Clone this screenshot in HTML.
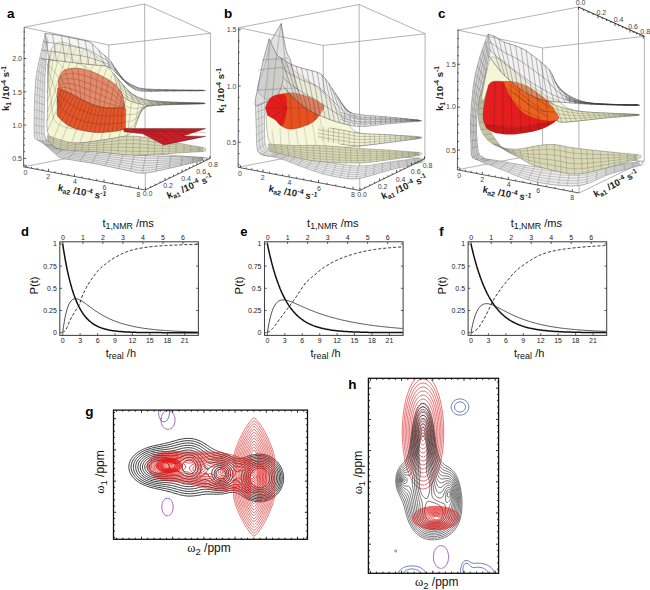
<!DOCTYPE html>
<html><head><meta charset="utf-8"><style>html,body{margin:0;padding:0;background:#fff;}svg{display:block;}</style></head>
<body><svg width="650" height="590" viewBox="0 0 650 590">
<rect width="650" height="590" fill="#fff"/>
<path d="M24.2,27.2 144.6,4 210.6,33.3 108.8,45 24.2,27.2 M144.6,4 145.3,190 M210.6,33.3 210.4,158.3 M108.8,45 108.8,150.2 M23.6,166.8 108.8,150.2 210.4,158.3" fill="none" stroke="#8a8a8a" stroke-width="0.65"/>
<polygon points="44.2,136.6 45.1,137.7 46,138.8 46.8,139.9 47.8,140.9 48.7,142 49.7,142.9 50.8,143.9 51.8,144.9 52.7,145.9 53.8,146.8 55,147.4 56.3,148 57.7,148.3 59,148.6 60.4,148.9 61.8,149.1 63.2,149.3 64.6,149.5 66,149.6 67.4,149.7 68.8,149.8 70.2,149.9 71.6,150 73,150.1 74.4,150.2 75.8,150.3 77.2,150.4 78.6,150.5 80,150.5 81.4,150.6 82.8,150.7 84.2,150.8 85.6,150.9 87,150.9 88.4,151 89.8,151.1 91.2,151.2 92.6,151.3 94,151.4 95.4,151.5 96.8,151.6 98.2,151.8 99.6,151.9 101,152 102.4,152.1 103.8,152.2 105.2,152.4 106.6,152.5 108,152.6 109.4,152.7 110.8,152.9 112.1,153 113.5,153.1 114.9,153.2 116.3,153.4 117.7,153.5 119.1,153.6 120.5,153.7 121.9,153.8 123.3,154 124.7,154.1 126.1,154.2 127.5,154.3 128.9,154.4 130.3,154.5 131.7,154.6 133.1,154.7 134.5,154.8 135.9,154.9 137.3,155 138.7,155.1 140.1,155.2 141.5,155.3 142.9,155.4 144.3,155.5 145.7,155.5 147.1,155.6 148.5,155.7 149.9,155.7 151.3,155.8 152.7,155.9 154.1,155.9 155.5,156 156.9,156 158.3,156.1 159.7,156.1 161.1,156.2 162.5,156.2 163.9,156.3 165.3,156.3 166.7,156.4 168.1,156.4 169.5,156.5 170.9,156.5 172.3,156.6 173.7,156.6 175.2,156.6 176.6,156.7 178,156.7 179.4,156.8 180.8,156.8 182.2,156.8 183.6,156.9 185,156.9 186.4,157 187.8,157 189.2,157 190.6,157.1 192,157.1 193.4,157.2 194.8,157.2 196.2,157.2 197.6,157.3 199,157.3 200.4,157.3 201.8,157.4 203.2,157.4 204.6,157.5 206,157.5 206,159.5 204.5,159.9 203.1,160.2 201.6,160.6 200.1,161 198.6,161.3 197.2,161.7 195.7,162.1 194.2,162.4 192.8,162.8 191.3,163.1 189.8,163.5 188.3,163.9 186.9,164.2 185.4,164.6 183.9,164.9 182.4,165.3 181,165.6 179.5,166 178,166.3 176.5,166.7 175.1,167 173.6,167.3 172.1,167.7 170.6,168 169.1,168.3 167.7,168.7 166.2,169 164.7,169.3 163.2,169.7 161.7,170 160.3,170.3 158.8,170.6 157.3,170.9 155.8,171.2 154.3,171.6 152.8,171.8 151.3,172.1 149.8,172.4 148.3,172.6 146.8,172.8 145.3,173 143.8,173.1 142.3,173.2 140.8,173.2 139.3,173.1 137.8,172.8 136.3,172.5 134.8,172.1 133.4,171.7 131.9,171.4 130.4,171.1 128.9,170.8 127.4,170.5 126,170.2 124.5,169.9 123,169.6 121.5,169.3 120,169 118.5,168.6 117.1,168.3 115.6,168 114.1,167.7 112.6,167.3 111.1,167 109.6,166.7 108.2,166.4 106.7,166.1 105.2,165.8 103.7,165.5 102.2,165.1 100.7,164.8 99.3,164.5 97.8,164.2 96.3,164 94.8,163.7 93.3,163.4 91.8,163.1 90.3,162.9 88.8,162.6 87.3,162.4 85.8,162.2 84.3,161.9 82.8,161.7 81.3,161.5 79.8,161.2 78.3,161 76.8,160.8 75.3,160.5 73.8,160.3 72.3,160.1 70.8,159.8 69.3,159.6 67.8,159.3 66.3,159.1 64.9,158.8 63.4,158.5 61.9,158.1 60.4,157.7 59,157.2 57.7,156.5 56.8,155.2 55.7,154.2 54.5,153.2 53.4,152.3 52.3,151.3 51.1,150.2 50,149.2 48.9,148.2 47.8,147.2 46.6,146.2 45.4,145.2 44.2,144.3 43,143.4 41.8,142.6 40.5,141.8 39.2,141 37.9,140.2 36.6,139.4 35.3,138.6" fill="#eaeaea" fill-opacity="1" stroke="none"/>
<path d="M42.9,136.9 L45.8,140 L48.8,143 L51.8,145.9 L55.4,148.1 L59.4,149.4 L63.5,150.3 L67.6,151 L71.8,151.4 L76.1,151.7 L80.3,152 L84.5,152.3 L88.8,152.6 L93,153 L97.3,153.4 L101.5,153.8 L105.7,154.3 L110,154.7 L114.2,155.2 L118.4,155.6 L122.6,156.1 L126.9,156.5 L131.1,156.9 L135.3,157.3 L139.6,157.7 L143.8,158 L148.1,158.1 L152.3,158.2 L156.6,158.3 L160.8,158.2 L165,158.2 L169.3,158.2 L173.5,158.2 L177.8,158.1 L182,158.1 L186.2,158 L190.5,158 L194.7,157.9 L198.9,157.9 L203.2,157.8M41.7,137.2 L44.7,140.2 L47.8,143.1 L51,146 L54.5,148.3 L58.4,149.9 L62.4,151.1 L66.4,152.1 L70.7,152.6 L74.9,153 L79.2,153.4 L83.5,153.8 L87.8,154.1 L92.1,154.6 L96.4,155 L100.6,155.5 L104.9,156 L109.2,156.5 L113.4,157.1 L117.7,157.6 L122,158.2 L126.2,158.7 L130.5,159.2 L134.8,159.6 L139,160.1 L143.3,160.5 L147.6,160.6 L151.9,160.6 L156.2,160.5 L160.5,160.3 L164.7,160.1 L169,160 L173.3,159.8 L177.5,159.6 L181.8,159.4 L186.1,159.1 L190.4,158.9 L194.6,158.7 L198.9,158.4 L203.2,158.2M40.4,137.5 L43.6,140.3 L46.9,143.1 L50.1,146 L53.6,148.5 L57.4,150.3 L61.3,151.9 L65.2,153.2 L69.5,153.8 L73.8,154.3 L78.1,154.8 L82.5,155.2 L86.8,155.7 L91.1,156.1 L95.4,156.6 L99.8,157.2 L104.1,157.8 L108.4,158.4 L112.7,159 L117,159.6 L121.3,160.2 L125.6,160.9 L129.9,161.4 L134.2,162 L138.5,162.6 L142.8,163 L147.2,163.1 L151.5,162.9 L155.8,162.7 L160.1,162.4 L164.4,162 L168.7,161.7 L173,161.3 L177.3,161 L181.6,160.6 L185.9,160.2 L190.2,159.8 L194.5,159.4 L198.8,159 L203.1,158.6M39.1,137.7 L42.5,140.5 L45.9,143.2 L49.2,146.1 L52.7,148.7 L56.4,150.8 L60.2,152.8 L64,154.4 L68.3,155.1 L72.7,155.6 L77.1,156.2 L81.4,156.7 L85.8,157.2 L90.2,157.7 L94.5,158.3 L98.9,158.9 L103.2,159.5 L107.6,160.2 L111.9,160.9 L116.2,161.6 L120.6,162.3 L124.9,163 L129.3,163.7 L133.6,164.3 L137.9,165.1 L142.3,165.6 L146.7,165.5 L151.1,165.3 L155.4,164.9 L159.8,164.4 L164.1,164 L168.5,163.4 L172.8,162.9 L177.1,162.4 L181.5,161.9 L185.8,161.3 L190.1,160.7 L194.5,160.2 L198.8,159.6 L203.1,159M37.8,138 L41.4,140.6 L44.9,143.3 L48.4,146.1 L51.8,148.9 L55.4,151.3 L59,153.6 L62.8,155.5 L67.2,156.3 L71.6,157 L76,157.5 L80.4,158.1 L84.8,158.7 L89.2,159.3 L93.6,159.9 L98,160.6 L102.4,161.3 L106.8,162.1 L111.2,162.9 L115.5,163.7 L119.9,164.4 L124.3,165.2 L128.7,166 L133,166.7 L137.4,167.5 L141.8,168.1 L146.2,168 L150.7,167.6 L155.1,167.1 L159.5,166.5 L163.8,165.9 L168.2,165.2 L172.6,164.5 L176.9,163.8 L181.3,163.1 L185.7,162.4 L190,161.7 L194.4,160.9 L198.7,160.2 L203.1,159.4M36.6,138.3 L40.3,140.8 L44,143.3 L47.5,146.1 L50.9,149 L54.4,151.8 L57.9,154.4 L61.6,156.6 L66,157.5 L70.5,158.3 L74.9,158.9 L79.4,159.6 L83.8,160.2 L88.3,160.8 L92.7,161.5 L97.1,162.3 L101.6,163.1 L106,163.9 L110.4,164.8 L114.8,165.7 L119.2,166.5 L123.6,167.4 L128,168.2 L132.5,169 L136.9,170 L141.3,170.6 L145.8,170.5 L150.3,170 L154.7,169.3 L159.1,168.6 L163.5,167.8 L167.9,166.9 L172.3,166.1 L176.7,165.2 L181.1,164.4 L185.5,163.5 L189.9,162.6 L194.3,161.7 L198.7,160.7 L203.1,159.8M44.2,136.6L35.3,138.6M51.8,144.9L45.4,145.2M63.2,149.3L55.7,154.2M75.8,150.3L67.8,159.3M87,150.9L79.8,161.2M98.2,151.8L91.8,163.1M110.8,152.9L105.2,165.8M123.3,154L118.5,168.6M134.5,154.8L130.4,171.1M145.7,155.5L142.3,173.2M158.3,156.1L155.8,171.2M170.9,156.5L169.1,168.3M182.2,156.8L181,165.6M193.4,157.2L192.8,162.8M206,157.5L206,159.5" fill="none" stroke="#333" stroke-width="0.4" stroke-opacity="0.65"/>
<path d="M44.2,136.6 46,138.8 47.8,140.9 49.7,142.9 51.8,144.9 53.8,146.8 56.3,148 59,148.6 61.8,149.1 64.6,149.5 67.4,149.7 70.2,149.9 73,150.1 75.8,150.3 78.6,150.5 81.4,150.6 84.2,150.8 87,150.9 89.8,151.1 92.6,151.3 95.4,151.5 98.2,151.8 101,152 103.8,152.2 106.6,152.5 109.4,152.7 112.1,153 114.9,153.2 117.7,153.5 120.5,153.7 123.3,154 126.1,154.2 128.9,154.4 131.7,154.6 134.5,154.8 137.3,155 140.1,155.2 142.9,155.4 145.7,155.5 148.5,155.7 151.3,155.8 154.1,155.9 156.9,156 159.7,156.1 162.5,156.2 165.3,156.3 168.1,156.4 170.9,156.5 173.7,156.6 176.6,156.7 179.4,156.8 182.2,156.8 185,156.9 187.8,157 190.6,157.1 193.4,157.2 196.2,157.2 199,157.3 201.8,157.4 204.6,157.5 M35.3,138.6 37.9,140.2 40.5,141.8 43,143.4 45.4,145.2 47.8,147.2 50,149.2 52.3,151.3 54.5,153.2 56.8,155.2 59,157.2 61.9,158.1 64.9,158.8 67.8,159.3 70.8,159.8 73.8,160.3 76.8,160.8 79.8,161.2 82.8,161.7 85.8,162.2 88.8,162.6 91.8,163.1 94.8,163.7 97.8,164.2 100.7,164.8 103.7,165.5 106.7,166.1 109.6,166.7 112.6,167.3 115.6,168 118.5,168.6 121.5,169.3 124.5,169.9 127.4,170.5 130.4,171.1 133.4,171.7 136.3,172.5 139.3,173.1 142.3,173.2 145.3,173 148.3,172.6 151.3,172.1 154.3,171.6 157.3,170.9 160.3,170.3 163.2,169.7 166.2,169 169.1,168.3 172.1,167.7 175.1,167 178,166.3 181,165.6 183.9,164.9 186.9,164.2 189.8,163.5 192.8,162.8 195.7,162.1 198.6,161.3 201.6,160.6 204.5,159.9" fill="none" stroke="#333" stroke-width="0.5" stroke-opacity="0.8"/>
<polygon points="45.2,33.5 45,34.4 44.8,35.3 44.6,36.2 44.4,37 44.2,37.9 44,38.8 43.8,39.7 43.6,40.6 43.4,41.5 43.2,42.3 43,43.2 42.8,44.1 42.6,45 42.4,45.9 42.2,46.8 42.1,47.6 41.9,48.5 41.7,49.4 41.5,50.3 41.3,51.2 41.1,52.1 40.9,52.9 40.7,53.8 40.5,54.7 40.3,55.6 40.1,56.5 39.9,57.4 39.7,58.2 39.5,59.1 39.3,60 39.1,60.9 38.9,61.8 38.7,62.7 38.5,63.5 38.3,64.4 38.1,65.3 37.9,66.2 37.7,67.1 37.6,68 37.4,68.9 37.2,69.7 37,70.6 36.9,71.5 36.7,72.4 36.6,73.3 36.5,74.2 36.4,75.1 36.2,76 36.1,76.9 36,77.8 35.9,78.7 35.8,79.6 35.8,80.5 35.7,81.4 35.6,82.3 35.5,83.2 35.4,84.1 35.4,85 35.3,85.9 35.2,86.8 35.2,87.7 35.1,88.6 35.1,89.5 35,90.4 35,91.3 34.9,92.2 34.8,93.1 34.8,94 34.8,95 34.7,95.9 34.7,96.8 34.6,97.7 34.6,98.6 34.5,99.5 34.5,100.4 34.5,101.3 34.5,102.2 34.4,103.1 34.4,104 34.4,104.9 34.4,105.8 34.3,106.7 34.3,107.6 34.3,108.5 34.3,109.4 34.3,110.3 34.3,111.2 34.2,112.1 34.2,113 34.2,114 34.2,114.9 34.2,115.8 34.2,116.7 34.2,117.6 34.2,118.5 34.2,119.4 34.1,120.3 34.1,121.2 34.1,122.1 34.1,123 34.1,123.9 34.1,124.8 34.1,125.7 34.1,126.6 34.1,127.5 34.1,128.4 34.1,129.3 34.1,130.2 34.1,131.2 34.2,132.1 34.2,133 34.2,133.9 34.2,134.8 34.3,135.7 34.4,136.6 34.5,137.5 34.7,138.3 35.2,139.1 36,139.5 47,141 46.6,140.2 46.1,139.5 45.7,138.8 45.3,138 45,137.2 44.8,136.4 44.6,135.6 44.4,134.7 44.3,133.9 44.2,133 44.2,132.2 44.1,131.3 44.1,130.5 44.1,129.6 44.1,128.8 44.1,127.9 44.1,127.1 44.1,126.2 44.1,125.3 44.1,124.5 44.1,123.6 44.2,122.8 44.2,121.9 44.2,121.1 44.2,120.2 44.2,119.4 44.2,118.5 44.3,117.7 44.3,116.8 44.3,115.9 44.3,115.1 44.3,114.2 44.3,113.4 44.3,112.5 44.3,111.7 44.3,110.8 44.3,110 44.4,109.1 44.4,108.3 44.4,107.4 44.4,106.5 44.4,105.7 44.4,104.8 44.4,104 44.4,103.1 44.4,102.3 44.5,101.4 44.5,100.6 44.5,99.7 44.5,98.9 44.5,98 44.5,97.1 44.6,96.3 44.6,95.4 44.6,94.6 44.6,93.7 44.6,92.9 44.6,92 44.7,91.2 44.7,90.3 44.7,89.5 44.7,88.6 44.7,87.7 44.8,86.9 44.8,86 44.8,85.2 44.8,84.3 44.8,83.5 44.9,82.6 44.9,81.8 44.9,80.9 44.9,80.1 45,79.2 45,78.3 45,77.5 45.1,76.6 45.1,75.8 45.2,74.9 45.2,74.1 45.2,73.2 45.3,72.4 45.4,71.5 45.4,70.7 45.5,69.8 45.5,69 45.6,68.1 45.7,67.3 45.7,66.4 45.8,65.6 45.9,64.7 46,63.8 46.1,63 46.1,62.1 46.2,61.3 46.3,60.4 46.4,59.6 46.4,58.7 46.5,57.9 46.6,57 46.7,56.2 46.7,55.3 46.8,54.5 46.9,53.6 46.9,52.8 47,51.9 47.1,51.1 47.1,50.2 47.2,49.4 47.3,48.5 47.4,47.7 47.4,46.8 47.5,46 47.6,45.1 47.6,44.3 47.7,43.4 47.8,42.6 47.9,41.7 47.9,40.9 48,40" fill="#e2e2e2" fill-opacity="1" stroke="none"/>
<path d="M45.9,35.1 L45.4,37.8 L44.9,40.4 L44.4,43 L43.9,45.6 L43.4,48.3 L42.9,50.9 L42.4,53.5 L41.9,56.1 L41.5,58.8 L41,61.4 L40.4,64 L39.9,66.6 L39.5,69.3 L39.1,71.9 L38.7,74.6 L38.4,77.2 L38.2,79.9 L37.9,82.6 L37.8,85.2 L37.6,87.9 L37.5,90.6 L37.3,93.3 L37.2,95.9 L37.1,98.6 L37,101.3 L36.9,104 L36.9,106.6 L36.8,109.3 L36.8,112 L36.7,114.7 L36.7,117.3 L36.7,120 L36.6,122.7 L36.6,125.4 L36.6,128.1 L36.6,130.7 L36.7,133.4 L37,136.1 L37.6,138.6M46.6,36.8 L46.2,39.4 L45.8,42 L45.4,44.6 L45,47.2 L44.6,49.8 L44.2,52.4 L43.8,55 L43.4,57.6 L43,60.2 L42.6,62.8 L42.2,65.4 L41.8,68 L41.4,70.6 L41.1,73.2 L40.8,75.8 L40.6,78.5 L40.4,81.1 L40.2,83.7 L40.1,86.4 L40,89 L39.8,91.6 L39.7,94.3 L39.6,96.9 L39.5,99.5 L39.5,102.2 L39.4,104.8 L39.4,107.5 L39.3,110.1 L39.3,112.7 L39.2,115.4 L39.2,118 L39.2,120.7 L39.1,123.3 L39.1,125.9 L39.1,128.6 L39.2,131.2 L39.3,133.8 L39.7,136.4 L40.4,138.9M47.3,38.4 L47,41 L46.7,43.5 L46.4,46.1 L46.1,48.7 L45.8,51.3 L45.5,53.9 L45.2,56.4 L44.8,59 L44.5,61.6 L44.2,64.2 L43.9,66.7 L43.6,69.3 L43.3,71.9 L43.1,74.5 L42.9,77.1 L42.8,79.7 L42.6,82.3 L42.5,84.9 L42.4,87.5 L42.3,90.1 L42.2,92.7 L42.1,95.3 L42.1,97.9 L42,100.5 L41.9,103.1 L41.9,105.7 L41.9,108.3 L41.8,110.9 L41.8,113.5 L41.8,116.1 L41.7,118.7 L41.7,121.3 L41.6,123.9 L41.6,126.5 L41.6,129.1 L41.7,131.7 L41.9,134.3 L42.3,136.8 L43.3,139.2M45.2,33.5L48,40M43.6,40.6L47.4,46.8M41.9,48.5L46.8,54.5M40.1,56.5L46.1,62.1M38.5,63.5L45.5,69M37,70.6L45.1,75.8M35.9,78.7L44.8,83.5M35.2,86.8L44.7,91.2M34.8,94L44.5,98M34.5,101.3L44.4,104.8M34.3,109.4L44.3,112.5M34.2,117.6L44.2,120.2M34.1,124.8L44.1,127.1M34.2,132.1L44.3,133.9M36,139.5L47,141" fill="none" stroke="#555" stroke-width="0.4" stroke-opacity="0.6"/>
<path d="M45.2,33.5 44.8,35.3 44.4,37 44,38.8 43.6,40.6 43.2,42.3 42.8,44.1 42.4,45.9 42.1,47.6 41.7,49.4 41.3,51.2 40.9,52.9 40.5,54.7 40.1,56.5 39.7,58.2 39.3,60 38.9,61.8 38.5,63.5 38.1,65.3 37.7,67.1 37.4,68.9 37,70.6 36.7,72.4 36.5,74.2 36.2,76 36,77.8 35.8,79.6 35.7,81.4 35.5,83.2 35.4,85 35.2,86.8 35.1,88.6 35,90.4 34.9,92.2 34.8,94 34.7,95.9 34.6,97.7 34.5,99.5 34.5,101.3 34.4,103.1 34.4,104.9 34.3,106.7 34.3,108.5 34.3,110.3 34.2,112.1 34.2,114 34.2,115.8 34.2,117.6 34.2,119.4 34.1,121.2 34.1,123 34.1,124.8 34.1,126.6 34.1,128.4 34.1,130.2 34.2,132.1 34.2,133.9 34.3,135.7 34.5,137.5 35.2,139.1 M48,40 47.9,41.7 47.7,43.4 47.6,45.1 47.4,46.8 47.3,48.5 47.1,50.2 47,51.9 46.9,53.6 46.7,55.3 46.6,57 46.4,58.7 46.3,60.4 46.1,62.1 46,63.8 45.8,65.6 45.7,67.3 45.5,69 45.4,70.7 45.3,72.4 45.2,74.1 45.1,75.8 45,77.5 45,79.2 44.9,80.9 44.9,82.6 44.8,84.3 44.8,86 44.7,87.7 44.7,89.5 44.7,91.2 44.6,92.9 44.6,94.6 44.6,96.3 44.5,98 44.5,99.7 44.5,101.4 44.4,103.1 44.4,104.8 44.4,106.5 44.4,108.3 44.3,110 44.3,111.7 44.3,113.4 44.3,115.1 44.3,116.8 44.2,118.5 44.2,120.2 44.2,121.9 44.1,123.6 44.1,125.3 44.1,127.1 44.1,128.8 44.1,130.5 44.2,132.2 44.3,133.9 44.6,135.6 45,137.2 45.7,138.8 46.6,140.2" fill="none" stroke="#555" stroke-width="0.5" stroke-opacity="0.75"/>
<polygon points="48,64 48.3,62.4 48.6,60.8 48.9,59.2 49.2,57.6 49.6,56 49.9,54.4 50.3,52.8 50.7,51.3 51.3,49.7 51.9,48.2 52.7,46.8 53.7,45.5 54.9,44.4 56.2,43.4 57.6,42.7 59.2,42.2 60.8,42 62.4,42.1 64,42.3 65.6,42.7 67.2,43.2 68.7,43.7 70.2,44.3 71.8,44.8 73.3,45.4 74.8,45.9 76.4,46.5 77.9,47 79.5,47.5 81,48 82.5,48.6 84,49.2 85.6,49.8 87,50.5 88.5,51.2 89.9,52 91.3,52.8 92.7,53.7 94,54.7 95.3,55.6 96.6,56.6 97.9,57.6 99.1,58.7 100.3,59.7 101.6,60.8 102.8,61.9 104,63 105.2,64.1 106.3,65.3 107.5,66.4 108.5,67.7 109.6,68.9 110.7,70.1 111.7,71.4 112.8,72.6 113.9,73.8 114.9,75.1 115.9,76.3 117,77.6 118,78.9 119,80.1 120,81.4 121.1,82.7 122.1,83.9 123.2,85.1 124.3,86.3 125.4,87.5 126.5,88.7 127.6,89.9 128.8,91.1 130,92.2 131.3,93.2 132.6,94.1 134,95 135.3,95.8 136.7,96.7 138.1,97.6 139.6,98.3 141.1,98.9 142.7,99.3 144.2,99.6 145.9,99.9 147.5,100.1 149.1,100.4 150.7,100.6 152.3,100.7 153.9,100.8 155.6,101 157.2,101.1 158.8,101.2 160.4,101.3 162.1,101.4 163.7,101.5 165.3,101.6 166.9,101.7 168.6,101.8 170.2,101.8 171.8,101.9 173.4,102 175.1,102.1 176.7,102.1 178.3,102.2 180,102.3 181.6,102.3 183.2,102.4 184.8,102.5 186.5,102.5 188.1,102.6 189.7,102.7 191.4,102.7 193,102.8 194.6,102.8 196.2,102.9 197.9,103 199.5,103 201.1,103.1 202.7,103.2 204.4,103.2 206,103.3 206,103.6 203.9,103.7 201.8,103.7 199.7,103.8 197.6,103.9 195.5,103.9 193.4,104 191.3,104 189.2,104.1 187.1,104.2 185,104.2 182.9,104.3 180.8,104.4 178.7,104.4 176.6,104.5 174.6,104.6 172.5,104.7 170.4,104.7 168.3,104.8 166.2,104.9 164.1,105 162,105.1 159.9,105.2 157.8,105.3 155.7,105.5 153.6,105.7 151.5,105.9 149.4,106.1 147.4,106.4 145.3,106.8 143.3,107.4 141.6,108.6 140.8,110.5 139.8,112.4 138.9,114.2 138.3,116.2 137.9,118.3 137.5,120.4 137,122.4 136.3,124.4 135.4,126.3 134.6,128.2 133.7,130.1 132.5,131.8 131,133.3 129.2,134.4 127.3,135.2 125.3,135.9 123.3,136.5 121.3,137 119.2,137.5 117.2,137.9 115.1,138.3 113,138.6 111,138.9 108.9,139.2 106.8,139.5 104.7,139.8 102.7,140.1 100.6,140.4 98.5,140.7 96.4,141 94.3,141.3 92.3,141.6 90.2,141.9 88.1,142.2 86,142.4 83.9,142.6 81.9,142.8 79.8,143 77.7,143.1 75.6,143.2 73.5,143.1 71.4,143 69.3,142.8 67.2,142.7 65.1,142.4 63,142.2 61,141.8 58.9,141.4 56.9,140.8 54.9,140.2 53,139.3 51.2,138.2 49.7,136.7 48.6,135 47.7,133.1 47.3,131.1 47,129 46.9,126.9 46.9,124.8 46.9,122.7 47.1,120.6 47.2,118.5 47.3,116.4 47.4,114.3 47.5,112.2 47.5,110.1 47.5,108 47.4,105.9 47.4,103.8 47.4,101.8 47.4,99.7 47.4,97.6 47.4,95.5 47.4,93.4 47.4,91.3 47.5,89.2 47.5,87.1 47.5,85 47.5,82.9 47.6,80.8 47.6,78.7 47.7,76.6 47.7,74.5 47.8,72.4 47.8,70.3 47.9,68.2 47.9,66.1 48,64" fill="#f5f5d4" fill-opacity="1" stroke="none"/>
<path d="M48,64 L48.7,61 L49.5,58.1 L50.6,55.3 L52.7,52.8 L55.9,51.5 L59.9,52 L63.9,54 L67.7,56.4 L71.5,58.8 L75.3,61.2 L79.2,63.7 L83.5,66.3 L87.8,69 L92.1,71.7 L96.2,74.5 L100.2,77.3 L104.1,80.2 L107.8,83.2 L111.5,86.1 L115.1,89.1 L118.7,92.1 L122.4,95 L126.2,97.8 L130.3,100.3 L134.6,102.1 L138.7,103.3 L143,103.4 L147.3,103 L151.7,102.4 L156.6,102.2 L161.7,102.2 L166.8,102.4 L171.9,102.5 L177,102.6 L182.1,102.8 L187.2,102.9 L192.4,103 L197.5,103.1 L202.6,103.3M48,64 L48.6,62.9 L49.2,61.8 L50,60.8 L51.6,60.1 L54.2,60.3 L57.4,62 L60.6,64.8 L63.6,68 L66.6,71.2 L69.6,74.3 L72.9,77.6 L77,80.7 L81.6,83.4 L86.3,85.8 L90.8,88.2 L95.3,90.5 L99.7,92.7 L103.9,95 L108.1,97.2 L112.2,99.4 L116.3,101.6 L120.5,103.7 L124.8,105.8 L129.3,107.4 L133.9,108.3 L137.9,108.3 L141.8,107.2 L145.5,105.7 L149.6,104.1 L154.3,103.1 L159.6,103 L165,103 L170.3,103 L175.7,103.1 L181,103.1 L186.4,103.2 L191.7,103.2 L197.1,103.3 L202.4,103.4M48,64 L48.4,64.7 L48.8,65.5 L49.4,66.3 L50.6,67.4 L52.5,69.1 L54.9,71.9 L57.3,75.6 L59.6,79.6 L61.7,83.5 L64,87.5 L66.6,91.4 L70.6,95.1 L75.4,97.7 L80.4,99.9 L85.4,101.8 L90.4,103.6 L95.2,105.2 L99.9,106.8 L104.6,108.2 L109.3,109.6 L113.9,111.1 L118.7,112.5 L123.4,113.7 L128.3,114.6 L133.2,114.5 L137.1,113.3 L140.6,111 L143.7,108.3 L147.4,105.7 L152.1,104 L157.6,103.7 L163.2,103.6 L168.8,103.5 L174.3,103.5 L179.9,103.5 L185.5,103.4 L191.1,103.4 L196.7,103.4 L202.3,103.5M48,64 L48.2,66.6 L48.4,69.2 L48.8,71.8 L49.5,74.6 L50.8,77.9 L52.4,81.9 L54,86.4 L55.5,91.2 L56.8,95.9 L58.3,100.6 L60.3,105.3 L64.1,109.5 L69.3,112.1 L74.6,114 L80.1,115.5 L85.4,116.8 L90.8,117.8 L96,118.6 L101.2,119.2 L106.4,119.9 L111.6,120.6 L116.8,121.2 L122,121.6 L127.3,121.7 L132.4,120.8 L136.2,118.2 L139.4,114.8 L141.9,111 L145.2,107.3 L149.8,104.9 L155.6,104.4 L161.4,104.2 L167.2,104 L173,103.9 L178.8,103.8 L184.7,103.7 L190.5,103.7 L196.3,103.6 L202.1,103.5M48,64 L48,68.4 L48,72.9 L48.2,77.3 L48.5,81.9 L49.1,86.7 L49.9,91.8 L50.7,97.2 L51.5,102.8 L51.9,108.3 L52.6,113.8 L54,119.2 L57.7,123.8 L63.1,126.5 L68.8,128.1 L74.7,129.2 L80.5,130 L86.3,130.3 L92.1,130.4 L97.8,130.3 L103.5,130.2 L109.2,130.1 L114.9,129.9 L120.6,129.5 L126.3,128.8 L131.7,127 L135.4,123.2 L138.2,118.6 L140.1,113.6 L143,108.9 L147.6,105.9 L153.5,105.1 L159.6,104.7 L165.6,104.5 L171.7,104.3 L177.7,104.2 L183.8,104 L189.9,103.9 L195.9,103.8 L202,103.6M48,64L48,64M49.6,56L47.7,74.5M51.3,49.7L47.5,82.9M56.2,43.4L47.4,93.4M62.4,42.1L47.4,101.8M70.2,44.3L47.5,112.2M76.4,46.5L47.1,120.6M84,49.2L47.3,131.1M91.3,52.8L53,139.3M96.6,56.6L61,141.8M102.8,61.9L71.4,143M107.5,66.4L79.8,143M112.8,72.6L90.2,141.9M118,78.9L100.6,140.4M122.1,83.9L108.9,139.2M127.6,89.9L119.2,137.5M132.6,94.1L127.3,135.2M139.6,98.3L134.6,128.2M145.9,99.9L137.5,120.4M153.9,100.8L140.8,110.5M162.1,101.4L149.4,106.1M168.6,101.8L157.8,105.3M176.7,102.1L168.3,104.8M183.2,102.4L176.6,104.5M191.4,102.7L187.1,104.2M197.9,103L195.5,103.9M206,103.3L206,103.6" fill="none" stroke="#444" stroke-width="0.4" stroke-opacity="0.6"/>
<path d="M48,64 48.6,60.8 49.2,57.6 49.9,54.4 50.7,51.3 51.9,48.2 53.7,45.5 56.2,43.4 59.2,42.2 62.4,42.1 65.6,42.7 68.7,43.7 71.8,44.8 74.8,45.9 77.9,47 81,48 84,49.2 87,50.5 89.9,52 92.7,53.7 95.3,55.6 97.9,57.6 100.3,59.7 102.8,61.9 105.2,64.1 107.5,66.4 109.6,68.9 111.7,71.4 113.9,73.8 115.9,76.3 118,78.9 120,81.4 122.1,83.9 124.3,86.3 126.5,88.7 128.8,91.1 131.3,93.2 134,95 136.7,96.7 139.6,98.3 142.7,99.3 145.9,99.9 149.1,100.4 152.3,100.7 155.6,101 158.8,101.2 162.1,101.4 165.3,101.6 168.6,101.8 171.8,101.9 175.1,102.1 178.3,102.2 181.6,102.3 184.8,102.5 188.1,102.6 191.4,102.7 194.6,102.8 197.9,103 201.1,103.1 204.4,103.2 M48,64 47.9,68.2 47.8,72.4 47.7,76.6 47.6,80.8 47.5,85 47.5,89.2 47.4,93.4 47.4,97.6 47.4,101.8 47.4,105.9 47.5,110.1 47.4,114.3 47.2,118.5 46.9,122.7 46.9,126.9 47.3,131.1 48.6,135 51.2,138.2 54.9,140.2 58.9,141.4 63,142.2 67.2,142.7 71.4,143 75.6,143.2 79.8,143 83.9,142.6 88.1,142.2 92.3,141.6 96.4,141 100.6,140.4 104.7,139.8 108.9,139.2 113,138.6 117.2,137.9 121.3,137 125.3,135.9 129.2,134.4 132.5,131.8 134.6,128.2 136.3,124.4 137.5,120.4 138.3,116.2 139.8,112.4 141.6,108.6 145.3,106.8 149.4,106.1 153.6,105.7 157.8,105.3 162,105.1 166.2,104.9 170.4,104.7 174.6,104.6 178.7,104.4 182.9,104.3 187.1,104.2 191.3,104 195.5,103.9 199.7,103.8 203.9,103.7" fill="none" stroke="#444" stroke-width="0.5" stroke-opacity="0.75"/>
<polygon points="47.4,135.4 48.7,135.9 49.9,136.3 51.2,136.8 52.5,137.3 53.7,137.7 55,138.2 56.3,138.6 57.6,139 58.9,139.4 60.2,139.8 61.5,140.2 62.8,140.6 64.1,140.9 65.4,141.3 66.7,141.7 68,142 69.3,142.3 70.6,142.5 72,142.7 73.3,142.9 74.6,142.9 76,143 77.3,143 78.7,142.9 80,142.9 81.4,142.8 82.7,142.7 84.1,142.5 85.4,142.4 86.8,142.3 88.1,142.1 89.4,141.9 90.8,141.7 92.1,141.6 93.5,141.4 94.8,141.2 96.1,141 97.5,140.8 98.8,140.7 100.2,140.5 101.5,140.3 102.8,140.1 104.2,139.8 105.5,139.6 106.8,139.4 108.1,139.1 109.5,138.8 110.8,138.6 112.1,138.3 113.5,138.1 114.8,137.8 116.1,137.6 117.4,137.4 118.8,137.1 120.1,136.9 121.4,136.7 122.8,136.6 124.1,136.4 125.5,136.3 126.8,136.2 128.2,136.1 129.5,136 130.9,136 132.2,136.1 133.6,136.1 134.9,136.1 136.3,136.3 137.6,136.4 138.9,136.5 140.3,136.7 141.6,136.9 143,137.1 144.3,137.3 145.6,137.5 147,137.7 148.3,138 149.6,138.2 150.9,138.4 152.3,138.7 153.6,138.9 154.9,139.1 156.3,139.4 157.6,139.6 158.9,139.8 160.3,140 161.6,140.3 162.9,140.5 164.3,140.7 165.6,140.9 166.9,141.1 168.3,141.4 169.6,141.6 170.9,141.8 172.3,142.1 173.6,142.3 174.9,142.5 176.2,142.8 177.6,143 178.9,143.2 180.2,143.5 181.6,143.7 182.9,143.9 184.2,144.2 185.6,144.4 186.9,144.7 188.2,144.9 189.5,145.1 190.9,145.4 192.2,145.6 193.5,145.9 194.9,146.1 196.2,146.3 197.5,146.6 198.9,146.8 200.2,147 201.5,147.3 202.8,147.5 204.2,147.8 205.5,148 205.5,151.3 204.2,151.4 202.8,151.5 201.5,151.5 200.1,151.6 198.8,151.7 197.4,151.8 196.1,151.9 194.7,152 193.4,152 192,152.1 190.7,152.2 189.3,152.3 188,152.4 186.6,152.5 185.3,152.5 183.9,152.6 182.6,152.7 181.3,152.8 179.9,152.9 178.6,153 177.2,153 175.9,153.1 174.5,153.2 173.2,153.3 171.8,153.4 170.5,153.4 169.1,153.5 167.8,153.6 166.4,153.7 165.1,153.7 163.7,153.8 162.4,153.9 161,153.9 159.7,154 158.3,154.1 157,154.2 155.7,154.2 154.3,154.3 153,154.4 151.6,154.5 150.3,154.5 148.9,154.6 147.6,154.7 146.2,154.7 144.9,154.8 143.5,154.9 142.2,154.9 140.8,155 139.5,155 138.1,155 136.8,155.1 135.4,155.1 134.1,155.1 132.7,155 131.4,155 130,155 128.7,154.9 127.3,154.9 126,154.8 124.6,154.7 123.3,154.6 122,154.4 120.6,154.3 119.3,154.2 117.9,154 116.6,153.9 115.3,153.7 113.9,153.5 112.6,153.4 111.2,153.2 109.9,153 108.6,152.9 107.2,152.7 105.9,152.6 104.5,152.4 103.2,152.3 101.8,152.2 100.5,152 99.2,151.9 97.8,151.9 96.5,151.8 95.1,151.7 93.8,151.6 92.4,151.5 91.1,151.5 89.7,151.4 88.4,151.3 87,151.3 85.7,151.2 84.3,151.1 83,151.1 81.6,151 80.3,151 78.9,150.9 77.6,150.8 76.2,150.8 74.9,150.7 73.5,150.6 72.2,150.5 70.9,150.4 69.5,150.3 68.2,150.2 66.8,150.1 65.5,149.9 64.1,149.7 62.8,149.5 61.5,149.3 60.2,149 58.9,148.6 57.6,148.2 56.3,147.7 55.1,147.1 54,146.5 52.9,145.6 51.8,144.8 50.9,143.9 49.9,142.9 49,141.9 48,141" fill="#d6d6b0" fill-opacity="1" stroke="none"/>
<path d="M47.5,136.5 L51.1,138.2 L54.8,139.8 L58.6,141.2 L62.5,142.3 L66.4,143.3 L70.4,144.1 L74.4,144.5 L78.5,144.5 L82.5,144.3 L86.6,144 L90.6,143.7 L94.6,143.3 L98.6,142.9 L102.6,142.5 L106.6,142 L110.6,141.5 L114.6,141 L118.6,140.5 L122.6,140.1 L126.6,139.9 L130.7,139.8 L134.7,139.9 L138.8,140.2 L142.8,140.6 L146.8,141.1 L150.8,141.7 L154.8,142.2 L158.8,142.7 L162.8,143.2 L166.8,143.6 L170.8,144.2 L174.8,144.7 L178.8,145.2 L182.8,145.7 L186.8,146.2 L190.8,146.7 L194.8,147.3 L198.8,147.8 L202.8,148.3M47.6,137.6 L51.1,139.6 L54.6,141.5 L58.4,143 L62.2,144.1 L66.2,145 L70.2,145.6 L74.2,146 L78.3,146.1 L82.3,146 L86.3,145.8 L90.4,145.6 L94.4,145.4 L98.4,145.1 L102.4,144.9 L106.4,144.6 L110.4,144.4 L114.4,144.1 L118.4,143.9 L122.5,143.7 L126.5,143.6 L130.5,143.6 L134.6,143.7 L138.6,143.9 L142.6,144.2 L146.7,144.5 L150.7,144.9 L154.7,145.2 L158.7,145.5 L162.7,145.8 L166.7,146.2 L170.7,146.5 L174.8,146.8 L178.8,147.1 L182.8,147.4 L186.8,147.8 L190.8,148.1 L194.8,148.4 L198.8,148.8 L202.8,149.1M47.8,138.8 L51,141 L54.4,143.1 L58.1,144.7 L62,145.8 L66,146.6 L70,147.2 L74,147.5 L78,147.7 L82.1,147.7 L86.1,147.6 L90.1,147.5 L94.2,147.4 L98.2,147.4 L102.2,147.3 L106.3,147.3 L110.3,147.3 L114.3,147.2 L118.3,147.3 L122.3,147.3 L126.3,147.3 L130.4,147.4 L134.4,147.5 L138.5,147.6 L142.5,147.8 L146.5,147.9 L150.5,148.1 L154.6,148.2 L158.6,148.4 L162.6,148.5 L166.6,148.7 L170.7,148.8 L174.7,148.9 L178.7,149.1 L182.7,149.2 L186.7,149.3 L190.8,149.5 L194.8,149.6 L198.8,149.8 L202.8,149.9M47.9,139.9 L50.9,142.4 L54.2,144.8 L57.8,146.5 L61.7,147.6 L65.7,148.3 L69.7,148.7 L73.8,149.1 L77.8,149.2 L81.9,149.4 L85.9,149.4 L89.9,149.5 L94,149.5 L98,149.6 L102,149.8 L106.1,149.9 L110.1,150.2 L114.1,150.4 L118.1,150.6 L122.1,150.9 L126.2,151.1 L130.2,151.2 L134.2,151.3 L138.3,151.3 L142.3,151.4 L146.4,151.3 L150.4,151.3 L154.4,151.3 L158.5,151.2 L162.5,151.2 L166.5,151.2 L170.6,151.1 L174.6,151.1 L178.6,151 L182.7,151 L186.7,150.9 L190.7,150.8 L194.8,150.8 L198.8,150.7 L202.8,150.7M47.4,135.4L48,141M53.7,137.7L52.9,145.6M61.5,140.2L60.2,149M68,142L66.8,150.1M76,143L74.9,150.7M82.7,142.7L81.6,151M89.4,141.9L88.4,151.3M97.5,140.8L96.5,151.8M104.2,139.8L103.2,152.3M112.1,138.3L111.2,153.2M118.8,137.1L117.9,154M126.8,136.2L126,154.8M133.6,136.1L132.7,155M140.3,136.7L139.5,155M148.3,138L147.6,154.7M154.9,139.1L154.3,154.3M162.9,140.5L162.4,153.9M169.6,141.6L169.1,153.5M176.2,142.8L175.9,153.1M184.2,144.2L183.9,152.6M190.9,145.4L190.7,152.2M198.9,146.8L198.8,151.7M205.5,148L205.5,151.3" fill="none" stroke="#555" stroke-width="0.4" stroke-opacity="0.65"/>
<path d="M47.4,135.4 49.9,136.3 52.5,137.3 55,138.2 57.6,139 60.2,139.8 62.8,140.6 65.4,141.3 68,142 70.6,142.5 73.3,142.9 76,143 78.7,142.9 81.4,142.8 84.1,142.5 86.8,142.3 89.4,141.9 92.1,141.6 94.8,141.2 97.5,140.8 100.2,140.5 102.8,140.1 105.5,139.6 108.1,139.1 110.8,138.6 113.5,138.1 116.1,137.6 118.8,137.1 121.4,136.7 124.1,136.4 126.8,136.2 129.5,136 132.2,136.1 134.9,136.1 137.6,136.4 140.3,136.7 143,137.1 145.6,137.5 148.3,138 150.9,138.4 153.6,138.9 156.3,139.4 158.9,139.8 161.6,140.3 164.3,140.7 166.9,141.1 169.6,141.6 172.3,142.1 174.9,142.5 177.6,143 180.2,143.5 182.9,143.9 185.6,144.4 188.2,144.9 190.9,145.4 193.5,145.9 196.2,146.3 198.9,146.8 201.5,147.3 204.2,147.8 M48,141 49.9,142.9 51.8,144.8 54,146.5 56.3,147.7 58.9,148.6 61.5,149.3 64.1,149.7 66.8,150.1 69.5,150.3 72.2,150.5 74.9,150.7 77.6,150.8 80.3,151 83,151.1 85.7,151.2 88.4,151.3 91.1,151.5 93.8,151.6 96.5,151.8 99.2,151.9 101.8,152.2 104.5,152.4 107.2,152.7 109.9,153 112.6,153.4 115.3,153.7 117.9,154 120.6,154.3 123.3,154.6 126,154.8 128.7,154.9 131.4,155 134.1,155.1 136.8,155.1 139.5,155 142.2,154.9 144.9,154.8 147.6,154.7 150.3,154.5 153,154.4 155.7,154.2 158.3,154.1 161,153.9 163.7,153.8 166.4,153.7 169.1,153.5 171.8,153.4 174.5,153.2 177.2,153 179.9,152.9 182.6,152.7 185.3,152.5 188,152.4 190.7,152.2 193.4,152 196.1,151.9 198.8,151.7 201.5,151.5 204.2,151.4" fill="none" stroke="#555" stroke-width="0.5" stroke-opacity="0.8"/>
<polygon points="44.9,33.4 46.4,33.6 47.9,33.8 49.4,34 50.9,34.1 52.5,34.3 54,34.5 55.5,34.7 57,35 58.5,35.2 60,35.5 61.5,35.7 63,36 64.5,36.4 66,36.7 67.5,37 68.9,37.3 70.4,37.6 71.9,37.9 73.4,38.2 74.9,38.5 76.4,38.8 77.9,39.1 79.4,39.4 80.9,39.7 82.4,40.1 83.9,40.4 85.3,40.7 86.8,41.1 88.3,41.6 89.6,42.2 90.9,43 92.2,43.9 93.3,44.9 94.5,45.9 95.6,47 96.6,48.1 97.7,49.2 98.7,50.3 99.8,51.4 100.9,52.4 102,53.4 103.2,54.4 104.4,55.3 105.6,56.2 106.8,57.2 108,58.2 109.1,59.3 110,60.4 111,61.6 111.8,62.9 112.7,64.1 113.5,65.4 114.4,66.7 115.2,67.9 116.1,69.2 116.9,70.5 117.8,71.7 118.6,73 119.5,74.3 120.3,75.5 121.2,76.7 122.2,77.9 123.3,79 124.4,80 125.6,81 126.8,81.9 128.1,82.7 129.4,83.5 130.7,84.2 132.1,84.9 133.4,85.7 134.8,86.4 136.2,87 137.6,87.5 139.1,87.9 140.6,88.2 142.1,88.5 143.6,88.7 145.1,88.8 146.6,89 148.1,89.1 149.7,89.2 151.2,89.2 152.7,89.3 154.2,89.4 155.7,89.4 157.3,89.5 158.8,89.5 160.3,89.6 161.8,89.6 163.4,89.6 164.9,89.7 166.4,89.7 167.9,89.7 169.4,89.8 171,89.8 172.5,89.9 174,89.9 175.5,89.9 177.1,89.9 178.6,90 180.1,90 181.6,90 183.2,90 184.7,90.1 186.2,90.1 187.7,90.1 189.2,90.1 190.8,90.1 192.3,90.2 193.8,90.2 195.3,90.2 196.9,90.2 198.4,90.2 199.9,90.2 201.4,90.2 203,90.3 204.5,90.3 206,90.3 206,90.7 204.5,90.7 203.1,90.7 201.6,90.7 200.1,90.7 198.7,90.8 197.2,90.8 195.7,90.8 194.2,90.8 192.8,90.8 191.3,90.8 189.8,90.8 188.4,90.8 186.9,90.9 185.4,90.9 184,90.9 182.5,90.9 181,90.9 179.5,90.9 178.1,90.9 176.6,90.9 175.1,91 173.7,91 172.2,91 170.7,91 169.3,91 167.8,91 166.3,91.1 164.8,91.1 163.4,91.1 161.9,91.1 160.4,91.2 159,91.2 157.5,91.2 156,91.3 154.6,91.3 153.1,91.3 151.6,91.4 150.2,91.4 148.7,91.4 147.2,91.3 145.7,91.3 144.3,91.3 142.8,91.2 141.3,91.1 139.9,90.9 138.4,90.7 137,90.3 135.7,89.8 134.3,89.2 133,88.5 131.8,87.7 130.6,86.8 129.4,85.9 128.3,85 127.2,84 126.1,83.1 125,82.1 123.9,81.1 122.9,80 121.9,79 120.9,77.9 119.8,76.8 118.8,75.8 117.7,74.8 116.7,73.7 115.7,72.7 114.6,71.6 113.6,70.6 112.5,69.6 111.4,68.7 110.2,67.8 109,67 107.6,66.4 106.2,66 104.8,65.8 103.3,65.8 101.8,65.7 100.4,65.5 98.9,65.4 97.4,65.2 96,65.1 94.5,64.9 93,64.8 91.6,64.6 90.1,64.5 88.7,64.4 87.2,64.2 85.7,64.1 84.3,63.9 82.8,63.8 81.3,63.6 79.9,63.5 78.4,63.3 77,63.1 75.5,63 74,62.8 72.6,62.6 71.1,62.4 69.7,62.2 68.2,62 66.8,61.9 65.3,61.7 63.8,61.5 62.4,61.3 60.9,61.1 59.5,60.9 58,60.8 56.5,60.6 55.1,60.4 53.6,60.2 52.2,60 50.7,59.9 49.3,59.7 47.8,59.5 46.3,59.3 44.9,59.1 43.4,59 42,58.8 40.5,58.6" fill="#e4e4e4" fill-opacity="0.4" stroke="none"/>
<path d="M43.4,41.8 L47.9,42.4 L52.4,42.9 L56.9,43.5 L61.3,44.3 L65.8,45.1 L70.2,45.9 L74.6,46.7 L79.1,47.5 L83.5,48.3 L87.8,49.5 L91.8,51.4 L95.4,53.6 L99,56 L102.7,58.2 L106.6,60.1 L110.1,62.9 L113,66.3 L115.7,69.9 L118.5,73.4 L121.2,77 L124.2,80.3 L127.7,83.2 L131.5,85.6 L135.5,87.7 L139.8,89 L144.3,89.5 L148.8,89.8 L153.3,90 L157.8,90 L162.3,90.1 L166.9,90.2 L171.4,90.2 L175.9,90.3 L180.4,90.3 L184.9,90.3 L189.4,90.4 L194,90.4 L198.5,90.4 L203,90.4M42,50.2 L46.4,50.7 L50.8,51.3 L55.2,51.9 L59.7,52.5 L64.1,53.2 L68.5,53.9 L72.9,54.6 L77.3,55.2 L81.7,55.9 L86.1,56.7 L90.2,57.9 L94.2,59.2 L98.2,60.6 L102.3,61.9 L106.4,63.1 L110.2,65.3 L113.3,68.5 L116.2,71.8 L119.1,75.1 L122,78.5 L125.1,81.7 L128.6,84.6 L132.3,87 L136.3,89 L140.6,90 L145,90.4 L149.5,90.6 L153.9,90.6 L158.4,90.6 L162.9,90.6 L167.3,90.6 L171.8,90.6 L176.3,90.6 L180.7,90.6 L185.2,90.6 L189.6,90.6 L194.1,90.6 L198.6,90.6 L203,90.6M44.9,33.4L49.3,59.7M52.5,34.3L56.5,60.6M61.5,35.7L65.3,61.7M68.9,37.3L72.6,62.6M77.9,39.1L81.3,63.6M85.3,40.7L88.7,64.4M92.2,43.9L96,65.1M98.7,50.3L104.8,65.8M104.4,55.3L111.4,68.7M111,61.6L117.7,74.8M115.2,67.9L122.9,80M120.3,75.5L129.4,85.9M125.6,81L135.7,89.8M132.1,84.9L142.8,91.2M140.6,88.2L151.6,91.4M148.1,89.1L159,91.2M157.3,89.5L167.8,91M164.9,89.7L175.1,91M172.5,89.9L182.5,90.9M181.6,90L191.3,90.8M189.2,90.1L198.7,90.8M198.4,90.2L206,90.7M206,90.3L206,90.7" fill="none" stroke="#333" stroke-width="0.45" stroke-opacity="0.75"/>
<path d="M44.9,33.4 47.9,33.8 50.9,34.1 54,34.5 57,35 60,35.5 63,36 66,36.7 68.9,37.3 71.9,37.9 74.9,38.5 77.9,39.1 80.9,39.7 83.9,40.4 86.8,41.1 89.6,42.2 92.2,43.9 94.5,45.9 96.6,48.1 98.7,50.3 100.9,52.4 103.2,54.4 105.6,56.2 108,58.2 110,60.4 111.8,62.9 113.5,65.4 115.2,67.9 116.9,70.5 118.6,73 120.3,75.5 122.2,77.9 124.4,80 126.8,81.9 129.4,83.5 132.1,84.9 134.8,86.4 137.6,87.5 140.6,88.2 143.6,88.7 146.6,89 149.7,89.2 152.7,89.3 155.7,89.4 158.8,89.5 161.8,89.6 164.9,89.7 167.9,89.7 171,89.8 174,89.9 177.1,89.9 180.1,90 183.2,90 186.2,90.1 189.2,90.1 192.3,90.2 195.3,90.2 198.4,90.2 201.4,90.2 204.5,90.3 M40.5,58.6 43.4,59 46.3,59.3 49.3,59.7 52.2,60 55.1,60.4 58,60.8 60.9,61.1 63.8,61.5 66.8,61.9 69.7,62.2 72.6,62.6 75.5,63 78.4,63.3 81.3,63.6 84.3,63.9 87.2,64.2 90.1,64.5 93,64.8 96,65.1 98.9,65.4 101.8,65.7 104.8,65.8 107.6,66.4 110.2,67.8 112.5,69.6 114.6,71.6 116.7,73.7 118.8,75.8 120.9,77.9 122.9,80 125,82.1 127.2,84 129.4,85.9 131.8,87.7 134.3,89.2 137,90.3 139.9,90.9 142.8,91.2 145.7,91.3 148.7,91.4 151.6,91.4 154.6,91.3 157.5,91.2 160.4,91.2 163.4,91.1 166.3,91.1 169.3,91 172.2,91 175.1,91 178.1,90.9 181,90.9 184,90.9 186.9,90.9 189.8,90.8 192.8,90.8 195.7,90.8 198.7,90.8 201.6,90.7 204.5,90.7" fill="none" stroke="#333" stroke-width="0.5" stroke-opacity="0.9"/>
<polygon points="114,74 114.5,74.7 115.1,75.3 115.6,76 116.2,76.7 116.7,77.3 117.2,78 117.8,78.7 118.3,79.4 118.9,80 119.4,80.7 119.9,81.3 120.5,82 121.1,82.7 121.6,83.3 122.2,84 122.7,84.6 123.3,85.2 123.9,85.9 124.5,86.5 125.1,87.1 125.6,87.8 126.2,88.4 126.8,89 127.4,89.7 128,90.3 128.6,90.9 129.2,91.5 129.9,92 130.5,92.6 131.2,93.1 131.9,93.7 132.6,94.1 133.3,94.6 134.1,95 134.8,95.4 135.6,95.8 136.4,96.2 137.1,96.6 137.9,96.9 138.7,97.3 139.5,97.6 140.3,97.9 141.1,98.2 141.9,98.5 142.7,98.7 143.6,99 144.4,99.2 145.2,99.4 146.1,99.6 146.9,99.9 147.7,100 148.6,100.2 149.4,100.4 150.3,100.5 151.1,100.7 152,100.8 152.8,100.9 153.7,101.1 154.5,101.2 155.4,101.3 156.2,101.4 157.1,101.5 157.9,101.5 158.8,101.6 159.6,101.7 160.5,101.8 161.3,101.8 162.2,101.9 163.1,102 163.9,102 164.8,102.1 165.6,102.1 166.5,102.2 167.4,102.2 168.2,102.3 169.1,102.3 169.9,102.4 170.8,102.4 171.6,102.4 172.5,102.5 173.4,102.5 174.2,102.6 175.1,102.6 175.9,102.6 176.8,102.7 177.6,102.7 178.5,102.7 179.4,102.8 180.2,102.8 181.1,102.8 181.9,102.8 182.8,102.9 183.7,102.9 184.5,102.9 185.4,102.9 186.2,102.9 187.1,103 188,103 188.8,103 189.7,103 190.5,103 191.4,103 192.3,103 193.1,103 194,103.1 194.8,103.1 195.7,103.1 196.5,103.1 197.4,103.1 198.3,103.1 199.1,103.1 200,103.1 200.8,103.1 201.7,103.1 202.6,103.2 203.4,103.2 204.3,103.2 205.1,103.2 206,103.2 206,103.6 205.2,103.6 204.5,103.6 203.7,103.6 202.9,103.7 202.2,103.7 201.4,103.7 200.6,103.7 199.8,103.7 199.1,103.7 198.3,103.7 197.5,103.8 196.8,103.8 196,103.8 195.2,103.8 194.5,103.8 193.7,103.8 192.9,103.8 192.1,103.8 191.4,103.9 190.6,103.9 189.8,103.9 189.1,103.9 188.3,103.9 187.5,103.9 186.8,103.9 186,104 185.2,104 184.4,104 183.7,104 182.9,104 182.1,104 181.4,104.1 180.6,104.1 179.8,104.1 179.1,104.1 178.3,104.1 177.5,104.1 176.7,104.2 176,104.2 175.2,104.2 174.4,104.2 173.7,104.2 172.9,104.3 172.1,104.3 171.4,104.3 170.6,104.3 169.8,104.4 169.1,104.4 168.3,104.4 167.5,104.4 166.7,104.5 166,104.5 165.2,104.5 164.4,104.6 163.7,104.6 162.9,104.6 162.1,104.7 161.4,104.7 160.6,104.7 159.8,104.8 159.1,104.8 158.3,104.8 157.5,104.8 156.7,104.9 156,104.9 155.2,104.9 154.4,104.9 153.7,105 152.9,105 152.1,105 151.4,105 150.6,105 149.8,105 149,105 148.3,105 147.5,105 146.7,104.9 146,104.9 145.2,104.9 144.4,104.8 143.7,104.7 142.9,104.6 142.2,104.5 141.4,104.3 140.6,104.1 139.9,104 139.1,103.8 138.4,103.6 137.6,103.4 136.9,103.2 136.2,103.1 135.4,102.8 134.7,102.6 133.9,102.4 133.2,102.2 132.5,101.9 131.8,101.7 131,101.4 130.3,101.1 129.6,100.8 128.9,100.5 128.2,100.1 127.6,99.7 126.9,99.3 126.3,98.9 125.6,98.5 125,98 124.4,97.5 123.8,97.1 123.2,96.6 122.6,96.1 122,95.6 121.5,95.1 120.9,94.5 120.3,94 119.7,93.5 119.2,93 118.6,92.5 118,92" fill="#f2f2d4" fill-opacity="0.6" stroke="none"/>
<path d="M115,78.5 L116.6,80.4 L118.3,82.3 L119.9,84.2 L121.6,86 L123.4,87.8 L125.2,89.5 L127,91.2 L128.9,92.8 L130.8,94.3 L132.8,95.7 L135,96.9 L137.2,98 L139.5,98.9 L141.9,99.7 L144.3,100.3 L146.8,100.8 L149.2,101.3 L151.7,101.6 L154.2,101.9 L156.7,102.1 L159.2,102.3 L161.7,102.5 L164.2,102.6 L166.7,102.7 L169.2,102.8 L171.7,102.9 L174.2,102.9 L176.7,103 L179.2,103.1 L181.7,103.1 L184.2,103.1 L186.8,103.2 L189.3,103.2 L191.8,103.2 L194.3,103.2 L196.8,103.3 L199.3,103.3 L201.8,103.3 L204.3,103.3M116,83 L117.7,84.8 L119.3,86.5 L121,88.3 L122.8,90 L124.5,91.6 L126.4,93.2 L128.3,94.6 L130.3,95.9 L132.3,97.2 L134.4,98.3 L136.6,99.3 L138.9,100.1 L141.2,100.9 L143.5,101.4 L145.9,101.9 L148.3,102.2 L150.7,102.5 L153.1,102.7 L155.5,102.9 L158,103 L160.4,103.1 L162.8,103.2 L165.3,103.2 L167.7,103.2 L170.2,103.3 L172.6,103.3 L175.1,103.3 L177.5,103.4 L179.9,103.4 L182.4,103.4 L184.8,103.4 L187.3,103.4 L189.7,103.4 L192.2,103.4 L194.6,103.4 L197,103.4 L199.5,103.4 L201.9,103.4 L204.4,103.4M117,87.5 L118.7,89.1 L120.4,90.8 L122.1,92.4 L123.9,94 L125.7,95.5 L127.7,96.8 L129.7,98 L131.8,99 L133.9,100 L136,100.9 L138.3,101.6 L140.5,102.3 L142.8,102.8 L145.1,103.2 L147.5,103.4 L149.8,103.6 L152.2,103.7 L154.5,103.8 L156.9,103.8 L159.3,103.9 L161.7,103.9 L164,103.8 L166.4,103.8 L168.8,103.8 L171.2,103.8 L173.5,103.8 L175.9,103.8 L178.3,103.7 L180.7,103.7 L183,103.7 L185.4,103.7 L187.8,103.7 L190.2,103.7 L192.5,103.6 L194.9,103.6 L197.3,103.6 L199.7,103.6 L202,103.5 L204.4,103.5M114,74L118,92M118.3,79.4L122.6,96.1M123.3,85.2L128.2,100.1M128.6,90.9L134.7,102.6M134.1,95L140.6,104.1M140.3,97.9L146.7,104.9M147.7,100L153.7,105M155.4,101.3L160.6,104.7M162.2,101.9L166.7,104.5M169.1,102.3L172.9,104.3M176.8,102.7L179.8,104.1M184.5,102.9L186.8,103.9M191.4,103L192.9,103.8M198.3,103.1L199.1,103.7M206,103.2L206,103.6" fill="none" stroke="#333" stroke-width="0.4" stroke-opacity="0.7"/>
<path d="M114,74 115.1,75.3 116.2,76.7 117.2,78 118.3,79.4 119.4,80.7 120.5,82 121.6,83.3 122.7,84.6 123.9,85.9 125.1,87.1 126.2,88.4 127.4,89.7 128.6,90.9 129.9,92 131.2,93.1 132.6,94.1 134.1,95 135.6,95.8 137.1,96.6 138.7,97.3 140.3,97.9 141.9,98.5 143.6,99 145.2,99.4 146.9,99.9 148.6,100.2 150.3,100.5 152,100.8 153.7,101.1 155.4,101.3 157.1,101.5 158.8,101.6 160.5,101.8 162.2,101.9 163.9,102 165.6,102.1 167.4,102.2 169.1,102.3 170.8,102.4 172.5,102.5 174.2,102.6 175.9,102.6 177.6,102.7 179.4,102.8 181.1,102.8 182.8,102.9 184.5,102.9 186.2,102.9 188,103 189.7,103 191.4,103 193.1,103 194.8,103.1 196.5,103.1 198.3,103.1 200,103.1 201.7,103.1 203.4,103.2 205.1,103.2 M118,92 119.2,93 120.3,94 121.5,95.1 122.6,96.1 123.8,97.1 125,98 126.3,98.9 127.6,99.7 128.9,100.5 130.3,101.1 131.8,101.7 133.2,102.2 134.7,102.6 136.2,103.1 137.6,103.4 139.1,103.8 140.6,104.1 142.2,104.5 143.7,104.7 145.2,104.9 146.7,104.9 148.3,105 149.8,105 151.4,105 152.9,105 154.4,104.9 156,104.9 157.5,104.8 159.1,104.8 160.6,104.7 162.1,104.7 163.7,104.6 165.2,104.5 166.7,104.5 168.3,104.4 169.8,104.4 171.4,104.3 172.9,104.3 174.4,104.2 176,104.2 177.5,104.1 179.1,104.1 180.6,104.1 182.1,104 183.7,104 185.2,104 186.8,103.9 188.3,103.9 189.8,103.9 191.4,103.9 192.9,103.8 194.5,103.8 196,103.8 197.5,103.8 199.1,103.7 200.6,103.7 202.2,103.7 203.7,103.6 205.2,103.6" fill="none" stroke="#333" stroke-width="0.5" stroke-opacity="0.85"/>
<polygon points="58.2,81 58.5,80.3 58.7,79.5 59,78.8 59.2,78 59.5,77.3 59.8,76.6 60.1,75.8 60.4,75.1 60.8,74.4 61.2,73.7 61.6,73.1 62,72.4 62.5,71.8 63,71.2 63.6,70.7 64.3,70.3 65,69.9 65.7,69.6 66.4,69.4 67.2,69.2 68,69 68.7,68.8 69.5,68.7 70.3,68.5 71,68.4 71.8,68.3 72.6,68.2 73.4,68.2 74.2,68.1 75,68.1 75.7,68.1 76.5,68.2 77.3,68.2 78.1,68.3 78.9,68.4 79.7,68.5 80.4,68.6 81.2,68.7 82,68.9 82.7,69.1 83.5,69.2 84.3,69.4 85,69.6 85.8,69.8 86.6,70 87.3,70.2 88.1,70.4 88.8,70.7 89.6,70.9 90.3,71.1 91.1,71.4 91.8,71.7 92.5,71.9 93.3,72.2 94,72.5 94.7,72.8 95.5,73.1 96.2,73.4 96.9,73.7 97.6,74 98.3,74.3 99,74.7 99.8,75 100.5,75.4 101.2,75.7 101.9,76.1 102.6,76.4 103.2,76.8 103.9,77.2 104.6,77.5 105.3,77.9 106,78.3 106.7,78.7 107.3,79.1 108,79.5 108.7,79.9 109.4,80.4 110,80.8 110.7,81.2 111.3,81.6 112,82.1 112.6,82.6 113.2,83 113.9,83.5 114.5,84 115,84.5 115.6,85 116.2,85.6 116.7,86.2 117.3,86.7 117.8,87.3 118.3,88 118.7,88.6 119.2,89.2 119.6,89.9 120,90.5 120.4,91.2 120.8,91.9 121.2,92.6 121.5,93.3 121.9,94 122.2,94.7 122.5,95.5 122.7,96.2 123,97 123.2,97.7 123.3,98.5 123.5,99.2 123.6,100 123.8,100.8 123.9,101.6 124,102.3 124.2,103.1 124.3,103.9 124.4,104.7 124.5,105.4 124.6,106.2 124.5,107 124.5,107.8 124.5,107.9 123.9,107.8 123.3,107.8 122.7,107.8 122.1,107.8 121.5,107.8 121,107.8 120.4,107.8 119.8,107.8 119.2,107.9 118.6,107.9 118,107.9 117.4,107.9 116.8,108 116.2,108 115.6,108 115,108 114.4,108 113.9,108 113.3,108.1 112.7,108.1 112.1,108.1 111.5,108.1 110.9,108.1 110.3,108 109.7,108 109.1,108 108.5,108 107.9,107.9 107.4,107.9 106.8,107.8 106.2,107.8 105.6,107.7 105,107.6 104.4,107.5 103.8,107.4 103.2,107.3 102.7,107.2 102.1,107.1 101.5,107 100.9,106.9 100.3,106.8 99.8,106.7 99.2,106.5 98.6,106.4 98,106.2 97.5,106.1 96.9,105.9 96.3,105.8 95.8,105.6 95.2,105.4 94.6,105.2 94.1,105.1 93.5,104.9 93,104.6 92.4,104.4 91.8,104.2 91.3,104 90.7,103.8 90.2,103.6 89.7,103.3 89.1,103.1 88.6,102.9 88,102.6 87.5,102.4 87,102.1 86.4,101.8 85.9,101.6 85.4,101.3 84.8,101 84.3,100.8 83.8,100.5 83.3,100.2 82.7,100 82.2,99.7 81.7,99.4 81.2,99.1 80.7,98.8 80.1,98.6 79.6,98.3 79.1,98 78.6,97.7 78,97.5 77.5,97.2 77,96.9 76.5,96.6 75.9,96.3 75.4,96.1 74.9,95.8 74.4,95.5 73.9,95.2 73.3,95 72.8,94.7 72.3,94.5 71.7,94.2 71.2,93.9 70.7,93.7 70.1,93.5 69.6,93.2 69,93 68.5,92.7 67.9,92.5 67.4,92.3 66.9,92.1 66.3,91.8 65.8,91.6 65.2,91.4 64.7,91.2 64.1,91 63.6,90.8 63,90.5 62.4,90.3 61.9,90.1 61.3,89.9 60.8,89.7 60.2,89.5 59.7,89.3 59.1,89.1 58.6,88.9 58,88.7" fill="#e48a6a" fill-opacity="1" stroke="none"/>
<path d="M58.2,82.5 L59.1,80.9 L60.1,79.2 L61.2,77.6 L62.5,76.2 L64.1,74.9 L66.1,74.2 L68.3,73.8 L70.5,73.6 L72.6,73.5 L74.8,73.6 L77,73.8 L79.2,74.2 L81.4,74.7 L83.5,75.3 L85.7,75.9 L87.8,76.6 L89.9,77.4 L92,78.2 L94.1,79 L96.1,79.9 L98.2,80.8 L100.2,81.8 L102.2,82.8 L104.2,83.8 L106.1,84.9 L108.1,86 L110,87.1 L111.9,88.3 L113.6,89.6 L115.3,91 L116.8,92.5 L118.2,94 L119.5,95.7 L120.6,97.4 L121.6,99.2 L122.4,101 L123.1,102.8 L123.7,104.7 L124.3,106.5M58.1,84.1 L59.2,83 L60.4,81.9 L61.7,80.9 L63.1,79.9 L64.7,79.2 L66.6,78.8 L68.6,78.7 L70.6,78.7 L72.7,78.8 L74.7,79.1 L76.8,79.5 L78.8,80 L80.8,80.5 L82.8,81.2 L84.8,81.9 L86.8,82.6 L88.8,83.4 L90.8,84.1 L92.7,85 L94.7,85.8 L96.6,86.7 L98.5,87.6 L100.4,88.5 L102.4,89.4 L104.3,90.3 L106.1,91.2 L108,92.1 L109.8,93.1 L111.6,94.1 L113.3,95.2 L114.9,96.3 L116.4,97.5 L117.8,98.8 L119.1,100.1 L120.3,101.4 L121.3,102.7 L122.3,104.1 L123.2,105.5 L124.1,106.9M58.1,85.6 L59.4,85.1 L60.7,84.6 L62.1,84.1 L63.6,83.7 L65.2,83.4 L67,83.4 L68.9,83.5 L70.8,83.8 L72.7,84.1 L74.6,84.6 L76.5,85.1 L78.4,85.7 L80.2,86.4 L82.1,87.1 L84,87.8 L85.8,88.6 L87.6,89.3 L89.5,90.1 L91.3,90.9 L93.2,91.7 L95,92.5 L96.8,93.3 L98.7,94.1 L100.5,94.9 L102.4,95.6 L104.2,96.4 L106,97.1 L107.8,97.9 L109.6,98.6 L111.3,99.4 L113,100.2 L114.6,101 L116.1,101.9 L117.5,102.7 L118.9,103.6 L120.2,104.4 L121.4,105.3 L122.6,106.2 L123.8,107.2M58,87.2 L59.5,87.2 L61,87.3 L62.6,87.3 L64.1,87.4 L65.8,87.6 L67.5,87.9 L69.3,88.4 L71,88.9 L72.8,89.4 L74.5,90 L76.2,90.7 L77.9,91.4 L79.7,92.2 L81.4,93 L83.1,93.7 L84.8,94.5 L86.5,95.3 L88.2,96.1 L90,96.9 L91.7,97.7 L93.4,98.4 L95.2,99.1 L96.9,99.8 L98.7,100.4 L100.5,101 L102.3,101.6 L104.1,102.1 L105.8,102.6 L107.6,103.1 L109.3,103.6 L111,104.1 L112.7,104.6 L114.4,105 L116,105.4 L117.6,105.8 L119.1,106.2 L120.6,106.6 L122.1,107 L123.6,107.5M58.2,81L62.4,90.3M60.4,75.1L66.9,92.1M65,69.9L71.7,94.2M71.8,68.3L76.5,96.6M78.1,68.3L80.7,98.8M84.3,69.4L84.8,101M91.1,71.4L89.7,103.3M97.6,74L94.6,105.2M103.2,76.8L99.2,106.5M108.7,79.9L103.8,107.4M114.5,84L109.1,108M119.2,89.2L114.4,108M122.2,94.7L119.2,107.9M123.8,100.8L123.9,107.8M124.5,107.8L124.5,107.9" fill="none" stroke="#6a3018" stroke-width="0.4" stroke-opacity="0.7"/>
<path d="M58.2,81 58.7,79.5 59.2,78 59.8,76.6 60.4,75.1 61.2,73.7 62,72.4 63,71.2 64.3,70.3 65.7,69.6 67.2,69.2 68.7,68.8 70.3,68.5 71.8,68.3 73.4,68.2 75,68.1 76.5,68.2 78.1,68.3 79.7,68.5 81.2,68.7 82.7,69.1 84.3,69.4 85.8,69.8 87.3,70.2 88.8,70.7 90.3,71.1 91.8,71.7 93.3,72.2 94.7,72.8 96.2,73.4 97.6,74 99,74.7 100.5,75.4 101.9,76.1 103.2,76.8 104.6,77.5 106,78.3 107.3,79.1 108.7,79.9 110,80.8 111.3,81.6 112.6,82.6 113.9,83.5 115,84.5 116.2,85.6 117.3,86.7 118.3,88 119.2,89.2 120,90.5 120.8,91.9 121.5,93.3 122.2,94.7 122.7,96.2 123.2,97.7 123.5,99.2 123.8,100.8 124,102.3 124.3,103.9 124.5,105.4 124.5,107 M58,88.7 59.1,89.1 60.2,89.5 61.3,89.9 62.4,90.3 63.6,90.8 64.7,91.2 65.8,91.6 66.9,92.1 67.9,92.5 69,93 70.1,93.5 71.2,93.9 72.3,94.5 73.3,95 74.4,95.5 75.4,96.1 76.5,96.6 77.5,97.2 78.6,97.7 79.6,98.3 80.7,98.8 81.7,99.4 82.7,100 83.8,100.5 84.8,101 85.9,101.6 87,102.1 88,102.6 89.1,103.1 90.2,103.6 91.3,104 92.4,104.4 93.5,104.9 94.6,105.2 95.8,105.6 96.9,105.9 98,106.2 99.2,106.5 100.3,106.8 101.5,107 102.7,107.2 103.8,107.4 105,107.6 106.2,107.8 107.4,107.9 108.5,108 109.7,108 110.9,108.1 112.1,108.1 113.3,108.1 114.4,108 115.6,108 116.8,108 118,107.9 119.2,107.9 120.4,107.8 121.5,107.8 122.7,107.8 123.9,107.8" fill="none" stroke="#6a3018" stroke-width="0.5" stroke-opacity="0.85"/>
<polygon points="57.6,88 58.2,88.2 58.7,88.5 59.3,88.7 59.8,88.9 60.4,89.2 61,89.4 61.5,89.6 62.1,89.9 62.6,90.1 63.2,90.4 63.7,90.6 64.3,90.8 64.9,91.1 65.4,91.3 66,91.6 66.5,91.8 67.1,92 67.6,92.3 68.2,92.5 68.7,92.8 69.3,93.1 69.8,93.3 70.4,93.6 70.9,93.8 71.5,94.1 72,94.4 72.6,94.6 73.1,94.9 73.7,95.2 74.2,95.5 74.7,95.7 75.3,96 75.8,96.3 76.3,96.6 76.9,96.9 77.4,97.2 77.9,97.4 78.5,97.7 79,98 79.6,98.3 80.1,98.6 80.6,98.9 81.2,99.1 81.7,99.4 82.2,99.7 82.8,100 83.3,100.3 83.8,100.5 84.4,100.8 84.9,101.1 85.5,101.4 86,101.6 86.6,101.9 87.1,102.2 87.6,102.4 88.2,102.7 88.8,102.9 89.3,103.2 89.9,103.4 90.4,103.7 91,103.9 91.5,104.1 92.1,104.3 92.7,104.5 93.2,104.8 93.8,105 94.4,105.2 95,105.3 95.5,105.5 96.1,105.7 96.7,105.9 97.3,106 97.9,106.2 98.5,106.4 99.1,106.5 99.6,106.6 100.2,106.8 100.8,106.9 101.4,107 102,107.1 102.6,107.2 103.2,107.3 103.8,107.4 104.4,107.5 105,107.6 105.6,107.7 106.2,107.8 106.8,107.8 107.4,107.9 108,107.9 108.6,108 109.2,108 109.8,108 110.5,108 111.1,108.1 111.7,108.1 112.3,108.1 112.9,108.1 113.5,108 114.1,108 114.7,108 115.3,108 115.9,108 116.5,108 117.1,107.9 117.7,107.9 118.3,107.9 118.9,107.9 119.5,107.8 120.1,107.8 120.8,107.8 121.4,107.8 122,107.8 122.6,107.8 123.2,107.8 123.8,107.8 124.4,107.9 125,107.9 125.6,108 125.6,129.4 124.9,129.5 124.1,129.7 123.4,129.8 122.7,129.9 121.9,130.1 121.2,130.2 120.4,130.3 119.7,130.5 119,130.6 118.2,130.7 117.5,130.9 116.8,131 116,131.1 115.3,131.2 114.5,131.3 113.8,131.4 113.1,131.5 112.3,131.6 111.6,131.7 110.8,131.8 110.1,131.9 109.3,132 108.6,132 107.8,132.1 107.1,132.1 106.4,132.2 105.6,132.2 104.9,132.3 104.1,132.3 103.4,132.4 102.6,132.4 101.9,132.4 101.1,132.5 100.4,132.5 99.6,132.5 98.9,132.5 98.1,132.5 97.4,132.5 96.6,132.4 95.9,132.4 95.1,132.4 94.4,132.3 93.6,132.3 92.9,132.2 92.2,132.1 91.4,132 90.7,131.9 89.9,131.8 89.2,131.7 88.4,131.6 87.7,131.5 87,131.3 86.2,131.2 85.5,131.1 84.8,130.9 84,130.8 83.3,130.6 82.6,130.5 81.8,130.3 81.1,130.2 80.4,130 79.6,129.8 78.9,129.6 78.2,129.4 77.5,129.2 76.8,129 76,128.8 75.3,128.6 74.6,128.3 73.9,128.1 73.2,127.8 72.5,127.6 71.8,127.3 71.1,127 70.5,126.7 69.8,126.3 69.1,126 68.5,125.6 67.8,125.2 67.2,124.8 66.6,124.4 66,124 65.4,123.5 64.8,123.1 64.2,122.6 63.6,122.1 63,121.6 62.5,121.1 61.9,120.6 61.4,120.1 60.8,119.6 60.3,119.1 59.8,118.5 59.3,118 58.8,117.4 58.3,116.8 57.9,116.2 57.5,115.6 57.2,114.9 57.1,114.2 57.1,113.4 57.2,112.7 57.3,112 57.5,111.2 57.5,110.5 57.5,109.7 57.4,109 57.4,108.2 57.3,107.5 57.3,106.7 57.3,106 57.2,105.2 57.2,104.5 57.2,103.7 57.1,103 57.1,102.2 57.1,101.5 57,100.7 57,100" fill="#e2562a" fill-opacity="1" stroke="none"/>
<path d="M57.4,92 L58.6,93.2 L59.7,94.4 L60.9,95.7 L62,96.9 L63.1,98.1 L64.1,99.3 L65.4,100.6 L66.9,101.7 L68.5,102.8 L70.1,103.8 L71.7,104.9 L73.4,105.9 L75.1,106.9 L76.8,107.9 L78.5,108.8 L80.3,109.6 L82.1,110.4 L83.9,111.2 L85.7,111.9 L87.6,112.5 L89.4,113.2 L91.3,113.7 L93.2,114.2 L95.1,114.7 L97,115.1 L98.9,115.4 L100.9,115.6 L102.8,115.8 L104.8,116 L106.7,116.1 L108.7,116.1 L110.6,116.1 L112.6,116 L114.6,115.9 L116.5,115.7 L118.5,115.5 L120.4,115.4 L122.4,115.2 L124.3,115.1M57.2,96 L57.8,97.7 L58.5,99.5 L59.1,101.2 L59.7,102.9 L60.3,104.7 L60.6,106.4 L61.4,108.1 L62.9,109.5 L64.4,110.9 L66,112.2 L67.7,113.5 L69.4,114.7 L71.2,115.9 L73,116.9 L74.8,117.9 L76.8,118.7 L78.7,119.5 L80.7,120.2 L82.7,120.8 L84.7,121.4 L86.7,122 L88.8,122.5 L90.8,122.9 L92.9,123.3 L94.9,123.6 L97,123.9 L99.1,124.1 L101.2,124.2 L103.3,124.2 L105.4,124.2 L107.5,124.1 L109.6,124 L111.7,123.9 L113.8,123.7 L115.9,123.5 L118,123.2 L120.1,122.9 L122.1,122.6 L124.2,122.4M57.6,88L57,100M61,89.4L57.2,104.5M64.3,90.8L57.4,109M67.6,92.3L57.1,113.4M70.9,93.8L58.8,117.4M74.2,95.5L61.9,120.6M77.4,97.2L65.4,123.5M80.6,98.9L69.1,126M83.8,100.5L73.2,127.8M87.1,102.2L77.5,129.2M90.4,103.7L81.8,130.3M93.2,104.8L85.5,131.1M96.7,105.9L89.9,131.8M100.2,106.8L94.4,132.3M103.8,107.4L98.9,132.5M107.4,107.9L103.4,132.4M111.1,108.1L107.8,132.1M114.7,108L112.3,131.6M118.3,107.9L116.8,131M122,107.8L121.2,130.2M125.6,108L125.6,129.4" fill="none" stroke="#5a2010" stroke-width="0.4" stroke-opacity="0.65"/>
<path d="M57.6,88 58.7,88.5 59.8,88.9 61,89.4 62.1,89.9 63.2,90.4 64.3,90.8 65.4,91.3 66.5,91.8 67.6,92.3 68.7,92.8 69.8,93.3 70.9,93.8 72,94.4 73.1,94.9 74.2,95.5 75.3,96 76.3,96.6 77.4,97.2 78.5,97.7 79.6,98.3 80.6,98.9 81.7,99.4 82.8,100 83.8,100.5 84.9,101.1 86,101.6 87.1,102.2 88.2,102.7 89.3,103.2 90.4,103.7 91.5,104.1 92.7,104.5 93.8,105 95,105.3 96.1,105.7 97.3,106 98.5,106.4 99.6,106.6 100.8,106.9 102,107.1 103.2,107.3 104.4,107.5 105.6,107.7 106.8,107.8 108,107.9 109.2,108 110.5,108 111.7,108.1 112.9,108.1 114.1,108 115.3,108 116.5,108 117.7,107.9 118.9,107.9 120.1,107.8 121.4,107.8 122.6,107.8 123.8,107.8 125,107.9 M57,100 57.1,101.5 57.1,103 57.2,104.5 57.3,106 57.3,107.5 57.4,109 57.5,110.5 57.3,112 57.1,113.4 57.2,114.9 57.9,116.2 58.8,117.4 59.8,118.5 60.8,119.6 61.9,120.6 63,121.6 64.2,122.6 65.4,123.5 66.6,124.4 67.8,125.2 69.1,126 70.5,126.7 71.8,127.3 73.2,127.8 74.6,128.3 76,128.8 77.5,129.2 78.9,129.6 80.4,130 81.8,130.3 83.3,130.6 84.8,130.9 86.2,131.2 87.7,131.5 89.2,131.7 90.7,131.9 92.2,132.1 93.6,132.3 95.1,132.4 96.6,132.4 98.1,132.5 99.6,132.5 101.1,132.5 102.6,132.4 104.1,132.3 105.6,132.2 107.1,132.1 108.6,132 110.1,131.9 111.6,131.7 113.1,131.5 114.5,131.3 116,131.1 117.5,130.9 119,130.6 120.4,130.3 121.9,130.1 123.4,129.8 124.9,129.5" fill="none" stroke="#5a2010" stroke-width="0.5" stroke-opacity="0.8"/>
<polygon points="124,128.6 135.6,128.6 205.5,128.6 183,135.9 205.5,136.4 164,145 142.7,133.8 124,131.8" fill="#c41e28" stroke="#501010" stroke-width="0.4"/>
<path d="M140,129 L160,138M150,129 L168,140.5M160,129 L175,138.5M170,129 L183,135.9M180,129 L190,134.8M190,129 L197,134.2M135,131 L140.5,131 L148.4,131.1 L157.6,131.2 L167.1,131.3 L175.9,131.4 L183,131.5 L188.5,131.7 L193.2,131.9 L197.2,132.1 L200.6,132.3 L203.3,132.5 L205.5,132.6" fill="none" stroke="#501010" stroke-width="0.4" stroke-opacity="0.6"/>
<path d="M24.2,27.2 23.6,166.8M23.6,165.1h1.5M23.6,158.4h2.6M23.6,151.7h1.5M23.6,145.1h1.5M23.6,138.4h1.5M23.6,131.8h1.5M23.6,125.1h2.6M23.6,118.4h1.5M23.6,111.8h1.5M23.6,105.1h1.5M23.6,98.5h1.5M23.6,91.8h2.6M23.6,85.1h1.5M23.6,78.5h1.5M23.6,71.8h1.5M23.6,65.2h1.5M23.6,58.5h2.6M23.6,51.8h1.5M23.6,45.2h1.5M23.6,38.5h1.5M23.6,31.9h1.5" stroke="#333" stroke-width="0.8" fill="none"/>
<g font-family="Liberation Sans, sans-serif" font-size="7" fill="#444"><text x="22" y="160.8" text-anchor="end">0.5</text><text x="22" y="128.3" text-anchor="end">1.0</text><text x="22" y="94.8" text-anchor="end">1.5</text><text x="22" y="61.2" text-anchor="end">2.0</text></g>
<path d="M23.6,166.8 145.3,190M26,167.3l0,-2.6M31.6,168.3l0,-1.5M37.2,169.4l0,-1.5M42.9,170.5l0,-1.5M48.5,171.5l0,-2.6M55,172.8l0,-1.5M61.5,174l0,-1.5M68,175.3l0,-1.5M74.5,176.5l0,-2.6M81.9,177.9l0,-1.5M89.2,179.3l0,-1.5M96.6,180.7l0,-1.5M104,182.1l0,-2.6M112.6,183.8l0,-1.5M121.2,185.4l0,-1.5M129.9,187.1l0,-1.5M138.5,188.7l0,-2.6" stroke="#333" stroke-width="0.8" fill="none"/>
<g font-family="Liberation Sans, sans-serif" font-size="7" fill="#444"><text x="25.4" y="175" text-anchor="middle">0</text><text x="48.3" y="179.3" text-anchor="middle">2</text><text x="75" y="184.3" text-anchor="middle">4</text><text x="104.4" y="190.4" text-anchor="middle">6</text><text x="138.5" y="196.8" text-anchor="middle">8</text></g>
<path d="M145.3,190 210.4,158.3M145.5,189.9l0,-2.6M150.4,187.5l0,-1.5M155.2,185.2l0,-1.5M160.1,182.8l0,-1.5M165,180.4l0,-2.6M169.2,178.3l0,-1.5M173.5,176.3l0,-1.5M177.8,174.2l0,-1.5M182,172.1l0,-2.6M185.8,170.3l0,-1.5M189.5,168.5l0,-1.5M193.2,166.7l0,-1.5M197,164.8l0,-2.6M200.2,163.2l0,-1.5M203.5,161.7l0,-1.5M206.8,160.1l0,-1.5M210,158.5l0,-2.6" stroke="#333" stroke-width="0.8" fill="none"/>
<g font-family="Liberation Sans, sans-serif" font-size="7" fill="#444"><text x="147.6" y="196.3" text-anchor="middle">0.0</text><text x="168" y="188.2" text-anchor="middle">0.2</text><text x="186" y="181.1" text-anchor="middle">0.4</text><text x="201.2" y="173.9" text-anchor="middle">0.6</text><text x="213" y="167.2" text-anchor="middle">0.8</text></g>
<text font-family="Liberation Sans, sans-serif" font-weight="bold" font-size="9.5" fill="#222" text-anchor="start" transform="translate(168.5,199) rotate(-23)">k<tspan font-size="6.8" dy="2.1">a1</tspan><tspan dy="-2.1"> /10</tspan><tspan font-size="6.8" dy="-3.6">-4</tspan><tspan dy="3.6"> s</tspan><tspan font-size="6.8" dy="-3.6">-1</tspan></text>
<text font-family="Liberation Sans, sans-serif" font-weight="bold" font-size="9.5" fill="#222" text-anchor="start" transform="translate(57.5,190.5) rotate(11)">k<tspan font-size="6.8" dy="2.1">a2</tspan><tspan dy="-2.1"> /10</tspan><tspan font-size="6.8" dy="-3.6">-4</tspan><tspan dy="3.6"> s</tspan><tspan font-size="6.8" dy="-3.6">-1</tspan></text>
<text font-family="Liberation Sans, sans-serif" font-weight="bold" font-size="9.5" fill="#222" text-anchor="middle" transform="translate(9.2,88.5) rotate(-90)">k<tspan font-size="6.8" dy="2.1">1</tspan><tspan dy="-2.1"> /10</tspan><tspan font-size="6.8" dy="-3.6">-4</tspan><tspan dy="3.6"> s</tspan><tspan font-size="6.8" dy="-3.6">-1</tspan></text>
<text font-family="Liberation Sans, sans-serif" x="6.9" y="17.6" font-size="13.5" font-weight="bold">a</text>
<path d="M238.7,27.7 359.1,4.5 425.1,33.8 323.3,45.5 238.7,27.7 M359.1,4.5 359.8,190.5 M425.1,33.8 424.9,158.8 M323.3,45.5 323.3,150.7 M238.1,167.3 323.3,150.7 424.9,158.8" fill="none" stroke="#8a8a8a" stroke-width="0.65"/>
<polygon points="266,149 267.3,149.3 268.6,149.5 269.9,149.8 271.2,150.1 272.5,150.3 273.8,150.6 275.1,150.9 276.4,151.1 277.7,151.4 279,151.7 280.3,152 281.6,152.3 282.9,152.5 284.2,152.8 285.5,153.1 286.8,153.4 288.1,153.7 289.4,154 290.7,154.3 292,154.7 293.3,155 294.6,155.3 295.9,155.6 297.2,155.9 298.4,156.2 299.7,156.6 301,156.9 302.3,157.2 303.6,157.5 304.9,157.8 306.2,158.1 307.5,158.4 308.8,158.7 310.1,159 311.4,159.3 312.7,159.6 314,159.8 315.3,160.1 316.6,160.3 317.9,160.6 319.2,160.8 320.5,161.1 321.8,161.3 323.1,161.6 324.5,161.8 325.8,162 327.1,162.2 328.4,162.5 329.7,162.7 331,162.9 332.3,163.1 333.6,163.3 335,163.5 336.3,163.7 337.6,163.9 338.9,164.1 340.2,164.3 341.5,164.5 342.9,164.6 344.2,164.8 345.5,165 346.8,165.1 348.1,165.3 349.5,165.4 350.8,165.5 352.1,165.6 353.4,165.7 354.8,165.8 356.1,165.9 357.4,165.9 358.8,166 360.1,166 361.4,165.9 362.7,165.9 364.1,165.9 365.4,165.8 366.7,165.7 368,165.5 369.4,165.4 370.7,165.2 372,165 373.3,164.8 374.6,164.6 375.9,164.4 377.2,164.2 378.6,163.9 379.9,163.7 381.2,163.5 382.5,163.2 383.8,163 385.1,162.8 386.4,162.6 387.7,162.3 389,162.1 390.4,162 391.7,161.8 393,161.6 394.3,161.4 395.6,161.3 397,161.1 398.3,160.9 399.6,160.7 400.9,160.5 402.2,160.4 403.5,160.2 404.9,160 406.2,159.8 407.5,159.7 408.8,159.5 410.1,159.3 411.5,159.1 412.8,158.9 414.1,158.8 415.4,158.6 416.7,158.4 418,158.2 419.4,158.1 420.7,157.9 422,157.7 425,161.5 423.6,161.8 422.1,162.2 420.7,162.5 419.3,162.9 417.8,163.2 416.4,163.6 414.9,163.9 413.5,164.2 412.1,164.6 410.6,164.9 409.2,165.3 407.8,165.6 406.3,166 404.9,166.3 403.5,166.7 402,167 400.6,167.4 399.2,167.7 397.7,168.1 396.3,168.4 394.9,168.8 393.4,169.1 392,169.5 390.6,169.9 389.1,170.2 387.7,170.6 386.3,171 384.9,171.4 383.5,171.8 382,172.3 380.6,172.7 379.2,173.1 377.8,173.5 376.4,174 375,174.4 373.6,174.8 372.1,175.2 370.7,175.7 369.3,176.1 367.9,176.5 366.5,176.8 365,177.2 363.6,177.6 362.2,177.9 360.7,178.2 359.3,178.4 357.8,178.6 356.3,178.8 354.9,178.9 353.4,179 351.9,179 350.4,178.9 349,178.8 347.5,178.6 346,178.5 344.6,178.2 343.1,178 341.7,177.8 340.2,177.5 338.7,177.3 337.3,177.1 335.8,176.8 334.4,176.5 332.9,176.2 331.5,175.9 330,175.6 328.6,175.3 327.2,174.9 325.7,174.6 324.3,174.2 322.9,173.8 321.5,173.4 320,173 318.6,172.6 317.2,172.2 315.8,171.7 314.4,171.2 313,170.8 311.6,170.3 310.2,169.8 308.8,169.3 307.5,168.8 306.1,168.2 304.7,167.7 303.3,167.2 301.9,166.7 300.5,166.2 299.2,165.7 297.8,165.2 296.4,164.6 295,164.1 293.6,163.6 292.3,163 290.9,162.5 289.5,161.9 288.1,161.4 286.8,160.9 285.4,160.3 284,159.8 282.6,159.3 281.2,158.9 279.8,158.4 278.4,158 277,157.6 275.5,157.3 274.1,157 272.6,156.8 271.2,156.6 269.7,156.4 268.2,156.2 266.8,156 265.3,155.8 263.9,155.5 262.4,155.1 261.1,154.5 259.9,153.7 258.9,152.6 258.2,151.3 257.5,150" fill="#ececec" fill-opacity="1" stroke="none"/>
<path d="M264.6,149.2 L268.2,150.4 L272.2,151.4 L276.1,152.2 L280.1,153 L284.1,153.9 L288,154.8 L292,155.9 L295.9,156.9 L299.8,158 L303.7,159 L307.7,160 L311.6,161 L315.5,161.9 L319.5,162.8 L323.5,163.6 L327.5,164.3 L331.5,165.1 L335.5,165.8 L339.5,166.4 L343.5,166.9 L347.5,167.4 L351.6,167.8 L355.6,168.1 L359.7,168.1 L363.8,167.9 L367.8,167.4 L371.8,166.8 L375.8,166.1 L379.8,165.3 L383.7,164.5 L387.7,163.7 L391.7,163.1 L395.7,162.4 L399.8,161.8 L403.8,161.2 L407.8,160.6 L411.8,160 L415.8,159.4 L419.8,158.7M263.2,149.3 L266.6,151.1 L270.5,152.2 L274.6,153 L278.6,153.8 L282.7,154.6 L286.7,155.6 L290.7,156.8 L294.6,157.9 L298.6,159.1 L302.5,160.3 L306.5,161.4 L310.5,162.5 L314.5,163.5 L318.5,164.5 L322.5,165.4 L326.6,166.2 L330.6,167 L334.7,167.8 L338.8,168.5 L342.8,169.1 L346.9,169.6 L351.1,170 L355.2,170.2 L359.3,170.2 L363.4,169.9 L367.5,169.3 L371.6,168.6 L375.6,167.7 L379.6,166.8 L383.7,165.9 L387.7,165.1 L391.8,164.3 L395.9,163.6 L399.9,162.9 L404,162.2 L408.1,161.5 L412.1,160.8 L416.2,160.1 L420.3,159.4M261.8,149.5 L264.9,151.7 L268.8,153.1 L273,153.8 L277.1,154.5 L281.2,155.4 L285.3,156.4 L289.3,157.7 L293.3,158.9 L297.3,160.2 L301.3,161.5 L305.4,162.7 L309.4,163.9 L313.4,165.1 L317.5,166.2 L321.5,167.2 L325.6,168.1 L329.8,169 L333.9,169.8 L338,170.6 L342.2,171.2 L346.4,171.7 L350.5,172.2 L354.7,172.4 L358.9,172.3 L363.1,171.9 L367.3,171.2 L371.4,170.3 L375.5,169.4 L379.5,168.4 L383.6,167.4 L387.7,166.5 L391.8,165.6 L396,164.8 L400.1,164 L404.2,163.3 L408.4,162.5 L412.5,161.7 L416.6,160.9 L420.7,160.1M260.3,149.7 L263.2,152.4 L267.2,153.9 L271.4,154.6 L275.6,155.3 L279.8,156.1 L283.9,157.3 L288,158.6 L292.1,159.9 L296.1,161.3 L300.2,162.7 L304.2,164 L308.3,165.3 L312.4,166.6 L316.5,167.9 L320.6,169 L324.7,170 L328.9,171 L333.1,171.9 L337.3,172.6 L341.5,173.3 L345.8,173.9 L350,174.4 L354.3,174.6 L358.6,174.4 L362.8,173.9 L367,173.1 L371.2,172.1 L375.3,171.1 L379.4,170 L383.6,168.9 L387.7,167.9 L391.9,166.9 L396.1,166 L400.3,165.1 L404.4,164.3 L408.6,163.4 L412.8,162.5 L417,161.7 L421.2,160.8M258.9,149.8 L261.6,153 L265.5,154.7 L269.8,155.4 L274.1,156 L278.4,156.9 L282.6,158.1 L286.7,159.5 L290.8,160.9 L294.9,162.5 L299,163.9 L303.1,165.4 L307.2,166.8 L311.3,168.2 L315.4,169.5 L319.6,170.8 L323.8,171.9 L328,173 L332.3,173.9 L336.6,174.7 L340.9,175.4 L345.2,176.1 L349.5,176.6 L353.8,176.8 L358.2,176.5 L362.5,175.9 L366.7,175 L370.9,173.9 L375.1,172.7 L379.3,171.5 L383.5,170.4 L387.7,169.2 L391.9,168.2 L396.2,167.2 L400.4,166.3 L404.7,165.3 L408.9,164.3 L413.2,163.4 L417.4,162.4 L421.7,161.5M266,149L257.5,150M273.8,150.6L263.9,155.5M281.6,152.3L272.6,156.8M289.4,154L281.2,158.9M297.2,155.9L289.5,161.9M304.9,157.8L297.8,165.2M312.7,159.6L306.1,168.2M320.5,161.1L314.4,171.2M328.4,162.5L322.9,173.8M336.3,163.7L331.5,175.9M344.2,164.8L340.2,177.5M350.8,165.5L347.5,178.6M358.8,166L356.3,178.8M366.7,165.7L365,177.2M374.6,164.6L373.6,174.8M382.5,163.2L382,172.3M390.4,162L390.6,169.9M398.3,160.9L399.2,167.7M406.2,159.8L407.8,165.6M414.1,158.8L416.4,163.6M422,157.7L425,161.5" fill="none" stroke="#444" stroke-width="0.4" stroke-opacity="0.6"/>
<path d="M266,149 268.6,149.5 271.2,150.1 273.8,150.6 276.4,151.1 279,151.7 281.6,152.3 284.2,152.8 286.8,153.4 289.4,154 292,154.7 294.6,155.3 297.2,155.9 299.7,156.6 302.3,157.2 304.9,157.8 307.5,158.4 310.1,159 312.7,159.6 315.3,160.1 317.9,160.6 320.5,161.1 323.1,161.6 325.8,162 328.4,162.5 331,162.9 333.6,163.3 336.3,163.7 338.9,164.1 341.5,164.5 344.2,164.8 346.8,165.1 349.5,165.4 352.1,165.6 354.8,165.8 357.4,165.9 360.1,166 362.7,165.9 365.4,165.8 368,165.5 370.7,165.2 373.3,164.8 375.9,164.4 378.6,163.9 381.2,163.5 383.8,163 386.4,162.6 389,162.1 391.7,161.8 394.3,161.4 397,161.1 399.6,160.7 402.2,160.4 404.9,160 407.5,159.7 410.1,159.3 412.8,158.9 415.4,158.6 418,158.2 420.7,157.9 M257.5,150 258.9,152.6 261.1,154.5 263.9,155.5 266.8,156 269.7,156.4 272.6,156.8 275.5,157.3 278.4,158 281.2,158.9 284,159.8 286.8,160.9 289.5,161.9 292.3,163 295,164.1 297.8,165.2 300.5,166.2 303.3,167.2 306.1,168.2 308.8,169.3 311.6,170.3 314.4,171.2 317.2,172.2 320,173 322.9,173.8 325.7,174.6 328.6,175.3 331.5,175.9 334.4,176.5 337.3,177.1 340.2,177.5 343.1,178 346,178.5 349,178.8 351.9,179 354.9,178.9 357.8,178.6 360.7,178.2 363.6,177.6 366.5,176.8 369.3,176.1 372.1,175.2 375,174.4 377.8,173.5 380.6,172.7 383.5,171.8 386.3,171 389.1,170.2 392,169.5 394.9,168.8 397.7,168.1 400.6,167.4 403.5,166.7 406.3,166 409.2,165.3 412.1,164.6 414.9,163.9 417.8,163.2 420.7,162.5 423.6,161.8" fill="none" stroke="#444" stroke-width="0.5" stroke-opacity="0.75"/>
<polygon points="255.4,105 255.4,105.5 255.4,106 255.5,106.5 255.5,107 255.5,107.5 255.5,108 255.5,108.5 255.5,109 255.6,109.5 255.6,110 255.6,110.5 255.6,111 255.6,111.5 255.6,112 255.7,112.5 255.7,113 255.7,113.5 255.7,114 255.7,114.5 255.7,115 255.8,115.5 255.8,116 255.8,116.5 255.8,117 255.8,117.5 255.8,118 255.9,118.5 255.9,119 255.9,119.5 255.9,120 255.9,120.5 256,121 256,121.5 256,122 256,122.5 256,123 256,123.5 256.1,124 256.1,124.5 256.1,125 256.1,125.5 256.1,126 256.2,126.5 256.2,127 256.2,127.5 256.2,128 256.2,128.5 256.3,129 256.3,129.5 256.3,130 256.3,130.5 256.3,131 256.3,131.5 256.4,132 256.4,132.5 256.4,133 256.4,133.5 256.4,134 256.4,134.5 256.4,135 256.5,135.5 256.5,136 256.5,136.5 256.5,137 256.5,137.5 256.5,138 256.5,138.5 256.5,139 256.5,139.5 256.5,140 256.6,140.5 256.6,141 256.6,141.5 256.6,142 256.6,142.5 256.7,143 256.7,143.5 256.7,144 256.7,144.5 256.8,145 256.8,145.5 256.9,146 256.9,146.5 257,147 257.1,147.5 257.1,148 257.2,148.5 257.3,149 257.5,149.5 257.6,150 257.8,150.4 258,150.9 258.2,151.3 258.4,151.8 258.8,152.1 259.1,152.5 259.6,152.8 260,153 260.4,153.2 260.9,153.5 261.3,153.7 261.8,153.9 262.2,154.1 262.7,154.3 263.2,154.5 263.6,154.6 264.1,154.8 264.6,154.9 265.1,155 265.6,155.2 266.1,155.3 266.6,155.4 267,155.5 267.5,155.5 268,155.6 268.5,155.7 269,155.8 269.5,155.9 270,156 276,151 275.5,150.9 275.1,150.7 274.6,150.6 274.2,150.5 273.7,150.4 273.3,150.3 272.8,150.1 272.4,150 271.9,149.8 271.5,149.7 271.1,149.5 270.6,149.3 270.2,149.1 269.8,148.9 269.4,148.7 268.9,148.5 268.5,148.4 268.1,148.2 267.6,148 267.2,147.8 266.9,147.5 266.5,147.2 266.3,146.8 266,146.4 265.8,145.9 265.7,145.5 265.5,145.1 265.4,144.6 265.3,144.1 265.2,143.7 265.2,143.2 265.1,142.8 265,142.3 265,141.8 264.9,141.4 264.9,140.9 264.8,140.4 264.8,140 264.8,139.5 264.8,139 264.7,138.6 264.7,138.1 264.7,137.6 264.7,137.2 264.7,136.7 264.6,136.2 264.6,135.8 264.6,135.3 264.6,134.8 264.6,134.3 264.6,133.9 264.6,133.4 264.6,132.9 264.6,132.5 264.5,132 264.5,131.5 264.5,131.1 264.5,130.6 264.5,130.1 264.5,129.7 264.5,129.2 264.5,128.7 264.5,128.2 264.5,127.8 264.5,127.3 264.5,126.8 264.5,126.4 264.5,125.9 264.5,125.4 264.5,125 264.5,124.5 264.5,124 264.5,123.6 264.5,123.1 264.5,122.6 264.5,122.2 264.5,121.7 264.5,121.2 264.5,120.7 264.6,120.3 264.6,119.8 264.6,119.3 264.6,118.9 264.6,118.4 264.6,117.9 264.6,117.5 264.6,117 264.6,116.5 264.6,116.1 264.7,115.6 264.7,115.1 264.7,114.7 264.7,114.2 264.7,113.7 264.7,113.2 264.7,112.8 264.7,112.3 264.7,111.8 264.8,111.4 264.8,110.9 264.8,110.4 264.8,110 264.8,109.5 264.8,109 264.8,108.6 264.8,108.1 264.9,107.6 264.9,107.2 264.9,106.7 264.9,106.2 264.9,105.7 264.9,105.3 264.9,104.8 264.9,104.3 265,103.9 265,103.4 265,102.9 265,102.5 265,102" fill="#e2e2e2" fill-opacity="1" stroke="none"/>
<path d="M258.6,104 L258.6,105.5 L258.6,106.9 L258.7,108.4 L258.7,109.9 L258.7,111.3 L258.7,112.8 L258.8,114.3 L258.8,115.8 L258.8,117.2 L258.8,118.7 L258.9,120.2 L258.9,121.6 L258.9,123.1 L258.9,124.6 L259,126 L259,127.5 L259,129 L259.1,130.5 L259.1,131.9 L259.1,133.4 L259.2,134.9 L259.2,136.3 L259.2,137.8 L259.3,139.3 L259.3,140.7 L259.4,142.2 L259.5,143.7 L259.6,145.1 L259.8,146.6 L260.2,148 L260.7,149.4 L261.5,150.6 L262.7,151.4 L264,152.1 L265.4,152.6 L266.8,153.1 L268.2,153.5 L269.6,153.8 L271,154.1M261.8,103 L261.8,104.4 L261.8,105.9 L261.8,107.3 L261.8,108.8 L261.8,110.2 L261.8,111.6 L261.7,113.1 L261.7,114.5 L261.7,115.9 L261.7,117.4 L261.7,118.8 L261.7,120.3 L261.7,121.7 L261.7,123.1 L261.7,124.6 L261.8,126 L261.8,127.4 L261.8,128.9 L261.8,130.3 L261.8,131.8 L261.9,133.2 L261.9,134.6 L261.9,136.1 L261.9,137.5 L262,139 L262.1,140.4 L262.1,141.8 L262.3,143.3 L262.5,144.7 L262.8,146.1 L263.2,147.4 L263.9,148.7 L265,149.6 L266.3,150.2 L267.6,150.8 L268.9,151.3 L270.3,151.7 L271.7,152.1 L273.1,152.4M255.4,105L265,102M255.7,112.5L264.8,109M255.9,120L264.6,116.1M256.2,127.5L264.5,123.1M256.4,135L264.5,130.1M256.6,142L264.7,136.7M257.5,149.5L265.2,143.7M262.7,154.3L269.4,148.7M270,156L276,151" fill="none" stroke="#555" stroke-width="0.4" stroke-opacity="0.6"/>
<path d="M255.4,105 255.4,106 255.5,107 255.5,108 255.5,109 255.6,110 255.6,111 255.6,112 255.7,113 255.7,114 255.7,115 255.8,116 255.8,117 255.8,118 255.9,119 255.9,120 256,121 256,122 256,123 256.1,124 256.1,125 256.1,126 256.2,127 256.2,128 256.3,129 256.3,130 256.3,131 256.4,132 256.4,133 256.4,134 256.4,135 256.5,136 256.5,137 256.5,138 256.5,139 256.5,140 256.6,141 256.6,142 256.7,143 256.7,144 256.8,145 256.9,146 257,147 257.1,148 257.3,149 257.6,150 258,150.9 258.4,151.8 259.1,152.5 260,153 260.9,153.5 261.8,153.9 262.7,154.3 263.6,154.6 264.6,154.9 265.6,155.2 266.6,155.4 267.5,155.5 268.5,155.7 269.5,155.9 M265,102 265,102.9 265,103.9 264.9,104.8 264.9,105.7 264.9,106.7 264.9,107.6 264.8,108.6 264.8,109.5 264.8,110.4 264.8,111.4 264.7,112.3 264.7,113.2 264.7,114.2 264.7,115.1 264.6,116.1 264.6,117 264.6,117.9 264.6,118.9 264.6,119.8 264.5,120.7 264.5,121.7 264.5,122.6 264.5,123.6 264.5,124.5 264.5,125.4 264.5,126.4 264.5,127.3 264.5,128.2 264.5,129.2 264.5,130.1 264.5,131.1 264.5,132 264.6,132.9 264.6,133.9 264.6,134.8 264.6,135.8 264.7,136.7 264.7,137.6 264.7,138.6 264.8,139.5 264.8,140.4 264.9,141.4 265,142.3 265.2,143.2 265.3,144.1 265.5,145.1 265.8,145.9 266.3,146.8 266.9,147.5 267.6,148 268.5,148.4 269.4,148.7 270.2,149.1 271.1,149.5 271.9,149.8 272.8,150.1 273.7,150.4 274.6,150.6 275.5,150.9" fill="none" stroke="#555" stroke-width="0.5" stroke-opacity="0.75"/>
<polygon points="268,85 268.4,82.1 268.8,77.9 269.4,72.9 270.1,68 270.9,63.8 272,61 273.2,59.6 274.6,59 276.1,59.2 277.9,59.9 279.8,60.8 282,62 284.5,63.5 287.4,65.4 290.5,67.8 293.7,70.2 296.9,72.7 300,75 303,77.1 306.1,79.2 309.2,81.3 312.2,83.4 315.2,85.7 318,88 320.7,90.5 323.3,93.1 325.9,95.8 328.3,98.6 330.7,101.3 333,104 335.2,106.7 337.1,109.4 339.1,112.2 341,114.9 342.9,117.5 345,120 347,122.5 349,125 351,127.5 353.2,129.8 355.8,131.7 359,133.2 362.9,134.1 367.3,134.6 372.1,134.7 377.2,134.6 382.5,134.6 387.7,134.8 393.8,135.1 401.1,135.5 408.5,135.9 415.1,136.3 419.7,136.8 421.5,137.4 419.7,138.1 415.1,139 408.5,139.9 401.1,140.8 393.8,141.7 387.7,142.5 382.5,143.2 377.4,143.8 372.4,144.4 367.7,145 363.2,145.5 359,146 355.3,146.4 352,146.8 349,147.1 346,147.4 343.1,147.7 340,148 336.7,148.4 333.4,148.7 330.1,149.1 326.7,149.5 323.3,149.8 320,150 316.7,150.1 313.3,150.2 310,150.2 306.7,150.2 303.3,150.1 300,150 296.6,149.8 293,149.6 289.4,149.3 285.9,149 282.8,148.5 280,148 277.7,147.4 275.7,146.9 273.9,146.2 272.4,145.4 271.1,144.3 270,143 269.1,141.4 268.4,139.5 267.9,137.4 267.6,135.1 267.3,132.7 267,130 266.7,126.8 266.5,123.1 266.3,119.2 266.2,115.4 266.1,112.3 266,110" fill="#f6f6da" fill-opacity="1" stroke="#666" stroke-width="0.5" stroke-opacity="0.8"/>
<path d="M272,130 L274,146M280,128 L281,148M288,130 L290,149M296,129 L299,150M304,127 L308,150M312,122 L317,150M320,118 L325,149M270,70 L271.6,69.6 L273.9,69 L276.6,68.4 L279.4,67.9 L282.3,67.7 L285,68 L287.7,69.1 L290.6,70.8 L293.4,72.9 L296.1,75 L298.4,76.8 L300,78M268,90 L280,84" fill="none" stroke="#555" stroke-width="0.4" stroke-opacity="0.5"/>
<polygon points="268,144 269.3,144.1 270.6,144.2 271.9,144.3 273.2,144.3 274.4,144.4 275.7,144.5 277,144.6 278.3,144.7 279.6,144.8 280.9,144.8 282.2,144.9 283.5,145 284.8,145.1 286.1,145.1 287.3,145.2 288.6,145.3 289.9,145.3 291.2,145.4 292.5,145.4 293.8,145.5 295.1,145.5 296.4,145.5 297.7,145.5 299,145.5 300.3,145.5 301.6,145.5 302.9,145.5 304.1,145.5 305.4,145.4 306.7,145.4 308,145.4 309.3,145.4 310.6,145.3 311.9,145.3 313.2,145.3 314.5,145.3 315.8,145.4 317.1,145.4 318.4,145.5 319.6,145.5 320.9,145.6 322.2,145.6 323.5,145.7 324.8,145.8 326.1,145.8 327.4,145.9 328.7,146 330,146.1 331.3,146.2 332.5,146.3 333.8,146.4 335.1,146.5 336.4,146.6 337.7,146.7 339,146.8 340.3,146.9 341.6,147 342.9,147.1 344.1,147.2 345.4,147.4 346.7,147.5 348,147.6 349.3,147.7 350.6,147.8 351.9,147.9 353.2,148 354.4,148.1 355.7,148.2 357,148.3 358.3,148.4 359.6,148.4 360.9,148.5 362.2,148.6 363.5,148.7 364.8,148.8 366.1,148.8 367.3,148.9 368.6,149 369.9,149 371.2,149.1 372.5,149.2 373.8,149.2 375.1,149.3 376.4,149.4 377.7,149.4 379,149.5 380.3,149.6 381.5,149.6 382.8,149.7 384.1,149.8 385.4,149.9 386.7,149.9 388,150 389.3,150.1 390.6,150.2 391.9,150.3 393.2,150.4 394.4,150.5 395.7,150.6 397,150.7 398.3,150.8 399.6,150.9 400.9,151 402.2,151.1 403.5,151.2 404.8,151.3 406,151.4 407.3,151.5 408.6,151.6 409.9,151.7 411.2,151.8 412.5,151.9 413.8,152 415.1,152.1 416.3,152.2 417.6,152.3 418.9,152.4 420.2,152.5 421.5,152.6 421.5,155 420.2,155.2 419,155.4 417.7,155.6 416.4,155.8 415.1,156 413.9,156.2 412.6,156.4 411.3,156.6 410,156.8 408.8,156.9 407.5,157.1 406.2,157.3 405,157.5 403.7,157.7 402.4,157.9 401.1,158.1 399.9,158.3 398.6,158.5 397.3,158.7 396,158.8 394.8,159 393.5,159.2 392.2,159.4 390.9,159.6 389.7,159.7 388.4,159.9 387.1,160.1 385.8,160.3 384.6,160.4 383.3,160.6 382,160.8 380.7,161 379.5,161.1 378.2,161.3 376.9,161.5 375.6,161.6 374.3,161.8 373.1,162 371.8,162.1 370.5,162.3 369.2,162.4 367.9,162.5 366.7,162.6 365.4,162.7 364.1,162.8 362.8,162.8 361.5,162.9 360.2,162.9 358.9,163 357.7,163 356.4,163 355.1,163 353.8,163 352.5,163 351.2,163 349.9,163 348.6,163 347.4,163 346.1,162.9 344.8,162.9 343.5,162.9 342.2,162.8 340.9,162.8 339.6,162.7 338.3,162.7 337.1,162.6 335.8,162.5 334.5,162.5 333.2,162.4 331.9,162.4 330.6,162.3 329.3,162.2 328.1,162.1 326.8,162 325.5,161.9 324.2,161.8 322.9,161.7 321.6,161.6 320.4,161.5 319.1,161.4 317.8,161.3 316.5,161.1 315.2,161 314,160.8 312.7,160.6 311.4,160.4 310.1,160.3 308.9,160 307.6,159.8 306.3,159.6 305.1,159.3 303.8,159.1 302.5,158.8 301.3,158.6 300,158.3 298.8,158 297.5,157.8 296.2,157.5 295,157.2 293.7,156.9 292.5,156.7 291.2,156.4 290,156.1 288.7,155.8 287.5,155.5 286.2,155.2 285,154.9 283.7,154.6 282.5,154.3 281.2,153.9 280,153.6 278.7,153.3 277.5,153 276.2,152.6 275,152.3 273.7,152 272.5,151.6 271.2,151.3 270,151" fill="#d8d8b2" fill-opacity="1" stroke="none"/>
<path d="M268.3,145.2 L272.2,145.5 L276,145.9 L279.9,146.3 L283.7,146.6 L287.6,147 L291.4,147.3 L295.3,147.5 L299.1,147.7 L303,147.8 L306.9,147.8 L310.7,147.9 L314.6,148 L318.5,148.1 L322.3,148.3 L326.2,148.5 L330.1,148.8 L333.9,149.1 L337.8,149.4 L341.7,149.7 L345.5,149.9 L349.4,150.2 L353.3,150.5 L357.1,150.7 L361,150.9 L364.9,151.1 L368.7,151.2 L372.6,151.3 L376.5,151.4 L380.3,151.5 L384.2,151.6 L388.1,151.7 L391.9,151.8 L395.8,152 L399.6,152.1 L403.5,152.3 L407.4,152.4 L411.2,152.6 L415.1,152.7 L418.9,152.9M268.7,146.3 L272.5,146.8 L276.3,147.3 L280.1,147.8 L284,148.3 L287.8,148.7 L291.6,149.1 L295.5,149.5 L299.3,149.8 L303.2,150 L307,150.2 L310.9,150.4 L314.7,150.6 L318.6,150.8 L322.5,151 L326.3,151.2 L330.2,151.5 L334.1,151.8 L337.9,152 L341.8,152.3 L345.6,152.5 L349.5,152.8 L353.4,153 L357.2,153.2 L361.1,153.3 L365,153.4 L368.8,153.4 L372.7,153.4 L376.6,153.4 L380.4,153.4 L384.3,153.3 L388.1,153.3 L392,153.3 L395.8,153.3 L399.7,153.3 L403.5,153.4 L407.4,153.4 L411.2,153.4 L415.1,153.4 L418.9,153.4M269,147.5 L272.8,148.1 L276.6,148.7 L280.4,149.3 L284.2,149.9 L288,150.5 L291.8,151 L295.7,151.5 L299.5,151.9 L303.3,152.3 L307.2,152.6 L311,152.9 L314.9,153.2 L318.7,153.4 L322.6,153.7 L326.4,153.9 L330.3,154.2 L334.2,154.5 L338,154.7 L341.9,154.9 L345.8,155.1 L349.6,155.3 L353.5,155.5 L357.3,155.6 L361.2,155.7 L365.1,155.7 L368.9,155.7 L372.8,155.6 L376.6,155.4 L380.5,155.3 L384.3,155.1 L388.2,155 L392,154.8 L395.9,154.7 L399.7,154.6 L403.6,154.4 L407.4,154.3 L411.3,154.2 L415.1,154 L418.9,153.9M269.3,148.7 L273.1,149.4 L276.9,150.1 L280.7,150.9 L284.5,151.6 L288.3,152.3 L292.1,152.9 L295.9,153.5 L299.7,154 L303.5,154.5 L307.3,155 L311.1,155.4 L315,155.8 L318.8,156.1 L322.7,156.4 L326.6,156.6 L330.4,156.9 L334.3,157.1 L338.1,157.4 L342,157.6 L345.9,157.7 L349.7,157.9 L353.6,158 L357.4,158.1 L361.3,158.1 L365.2,158.1 L369,157.9 L372.9,157.7 L376.7,157.4 L380.6,157.2 L384.4,156.9 L388.3,156.6 L392.1,156.4 L395.9,156.1 L399.8,155.8 L403.6,155.5 L407.4,155.3 L411.3,155 L415.1,154.7 L418.9,154.4M269.7,149.8 L273.4,150.7 L277.2,151.6 L280.9,152.4 L284.7,153.2 L288.5,154 L292.3,154.8 L296.1,155.5 L299.9,156.2 L303.6,156.8 L307.5,157.4 L311.3,157.9 L315.1,158.4 L319,158.7 L322.8,159.1 L326.7,159.3 L330.5,159.6 L334.4,159.8 L338.2,160 L342.1,160.2 L346,160.3 L349.8,160.4 L353.7,160.5 L357.6,160.6 L361.4,160.5 L365.3,160.4 L369.1,160.2 L373,159.8 L376.8,159.5 L380.6,159.1 L384.5,158.6 L388.3,158.3 L392.2,157.9 L396,157.5 L399.8,157.1 L403.6,156.6 L407.5,156.2 L411.3,155.8 L415.1,155.3 L418.9,154.9M268,144L270,151M274.4,144.4L276.2,152.6M280.9,144.8L282.5,154.3M287.3,145.2L288.7,155.8M293.8,145.5L295,157.2M300.3,145.5L301.3,158.6M306.7,145.4L307.6,159.8M313.2,145.3L314,160.8M319.6,145.5L320.4,161.5M326.1,145.8L326.8,162M332.5,146.3L333.2,162.4M339,146.8L339.6,162.7M345.4,147.4L346.1,162.9M350.6,147.8L351.2,163M357,148.3L357.7,163M363.5,148.7L364.1,162.8M369.9,149L370.5,162.3M376.4,149.4L376.9,161.5M382.8,149.7L383.3,160.6M389.3,150.1L389.7,159.7M395.7,150.6L396,158.8M402.2,151.1L402.4,157.9M408.6,151.6L408.8,156.9M415.1,152.1L415.1,156M421.5,152.6L421.5,155" fill="none" stroke="#555" stroke-width="0.4" stroke-opacity="0.6"/>
<path d="M268,144 270.6,144.2 273.2,144.3 275.7,144.5 278.3,144.7 280.9,144.8 283.5,145 286.1,145.1 288.6,145.3 291.2,145.4 293.8,145.5 296.4,145.5 299,145.5 301.6,145.5 304.1,145.5 306.7,145.4 309.3,145.4 311.9,145.3 314.5,145.3 317.1,145.4 319.6,145.5 322.2,145.6 324.8,145.8 327.4,145.9 330,146.1 332.5,146.3 335.1,146.5 337.7,146.7 340.3,146.9 342.9,147.1 345.4,147.4 348,147.6 350.6,147.8 353.2,148 355.7,148.2 358.3,148.4 360.9,148.5 363.5,148.7 366.1,148.8 368.6,149 371.2,149.1 373.8,149.2 376.4,149.4 379,149.5 381.5,149.6 384.1,149.8 386.7,149.9 389.3,150.1 391.9,150.3 394.4,150.5 397,150.7 399.6,150.9 402.2,151.1 404.8,151.3 407.3,151.5 409.9,151.7 412.5,151.9 415.1,152.1 417.6,152.3 420.2,152.5 M270,151 272.5,151.6 275,152.3 277.5,153 280,153.6 282.5,154.3 285,154.9 287.5,155.5 290,156.1 292.5,156.7 295,157.2 297.5,157.8 300,158.3 302.5,158.8 305.1,159.3 307.6,159.8 310.1,160.3 312.7,160.6 315.2,161 317.8,161.3 320.4,161.5 322.9,161.7 325.5,161.9 328.1,162.1 330.6,162.3 333.2,162.4 335.8,162.5 338.3,162.7 340.9,162.8 343.5,162.9 346.1,162.9 348.6,163 351.2,163 353.8,163 356.4,163 358.9,163 361.5,162.9 364.1,162.8 366.7,162.6 369.2,162.4 371.8,162.1 374.3,161.8 376.9,161.5 379.5,161.1 382,160.8 384.6,160.4 387.1,160.1 389.7,159.7 392.2,159.4 394.8,159 397.3,158.7 399.9,158.3 402.4,157.9 405,157.5 407.5,157.1 410,156.8 412.6,156.4 415.1,156 417.7,155.6 420.2,155.2" fill="none" stroke="#555" stroke-width="0.5" stroke-opacity="0.75"/>
<polygon points="318,126 318.9,126.1 319.7,126.3 320.6,126.4 321.5,126.6 322.3,126.7 323.2,126.9 324.1,127 324.9,127.2 325.8,127.3 326.6,127.4 327.5,127.6 328.4,127.7 329.2,127.9 330.1,128 331,128.2 331.8,128.3 332.7,128.4 333.6,128.6 334.4,128.7 335.3,128.9 336.2,129 337,129.1 337.9,129.3 338.8,129.4 339.6,129.6 340.5,129.7 341.3,129.9 342.2,130 343.1,130.2 343.9,130.3 344.8,130.5 345.7,130.6 346.5,130.8 347.4,131 348.2,131.2 349.1,131.4 349.9,131.6 350.8,131.8 351.6,132 352.5,132.2 353.3,132.4 354.2,132.5 355.1,132.7 355.9,132.8 356.8,132.9 357.7,133 358.5,133.1 359.4,133.2 360.3,133.3 361.2,133.4 362,133.5 362.9,133.5 363.8,133.6 364.7,133.6 365.5,133.7 366.4,133.7 367.3,133.8 368.2,133.8 369,133.9 369.9,133.9 370.8,133.9 371.7,134 372.5,134 373.4,134.1 374.3,134.1 375.2,134.1 376,134.2 376.9,134.2 377.8,134.3 378.7,134.3 379.5,134.3 380.4,134.4 381.3,134.4 382.2,134.5 383,134.5 383.9,134.6 384.8,134.6 385.7,134.7 386.5,134.7 387.4,134.8 388.3,134.8 389.2,134.9 390,135 390.9,135 391.8,135.1 392.7,135.2 393.5,135.2 394.4,135.3 395.3,135.3 396.2,135.4 397,135.5 397.9,135.5 398.8,135.6 399.7,135.7 400.5,135.7 401.4,135.8 402.3,135.9 403.2,135.9 404,136 404.9,136.1 405.8,136.2 406.6,136.2 407.5,136.3 408.4,136.4 409.3,136.4 410.1,136.5 411,136.6 411.9,136.6 412.8,136.7 413.6,136.8 414.5,136.8 415.4,136.9 416.3,137 417.1,137.1 418,137.1 418.9,137.2 419.8,137.3 420.6,137.3 421.5,137.4 421.5,138.2 420.6,138.3 419.8,138.4 418.9,138.5 418,138.6 417.1,138.8 416.3,138.9 415.4,139 414.5,139.1 413.7,139.2 412.8,139.3 411.9,139.4 411.1,139.5 410.2,139.7 409.3,139.8 408.4,139.9 407.6,140 406.7,140.1 405.8,140.2 405,140.3 404.1,140.4 403.2,140.5 402.3,140.7 401.5,140.8 400.6,140.9 399.7,141 398.9,141.1 398,141.2 397.1,141.3 396.3,141.4 395.4,141.5 394.5,141.7 393.6,141.8 392.8,141.9 391.9,142 391,142.1 390.2,142.2 389.3,142.3 388.4,142.4 387.5,142.5 386.7,142.6 385.8,142.7 384.9,142.8 384.1,143 383.2,143.1 382.3,143.2 381.4,143.3 380.6,143.4 379.7,143.5 378.8,143.6 378,143.7 377.1,143.9 376.2,144 375.4,144.1 374.5,144.2 373.6,144.3 372.7,144.4 371.9,144.5 371,144.6 370.1,144.7 369.3,144.8 368.4,144.9 367.5,145.1 366.6,145.1 365.8,145.2 364.9,145.3 364,145.4 363.1,145.5 362.3,145.6 361.4,145.6 360.5,145.7 359.6,145.8 358.8,145.8 357.9,145.8 357,145.8 356.1,145.9 355.3,145.8 354.4,145.8 353.5,145.7 352.6,145.7 351.8,145.6 350.9,145.4 350,145.3 349.2,145.1 348.3,145 347.4,144.8 346.6,144.7 345.7,144.6 344.8,144.5 343.9,144.4 343.1,144.3 342.2,144.2 341.3,144.1 340.5,144 339.6,143.9 338.7,143.7 337.8,143.6 337,143.5 336.1,143.4 335.2,143.3 334.4,143.2 333.5,143 332.6,142.9 331.8,142.8 330.9,142.6 330,142.5 329.2,142.3 328.3,142.2 327.4,142 326.6,141.9 325.7,141.7 324.9,141.5 324,141.3 323.1,141.1 322.3,141 321.4,140.8 320.6,140.6 319.7,140.4 318.9,140.2 318,140" fill="#f0f0d0" fill-opacity="1" stroke="none"/>
<path d="M318,129.5 L320.6,130 L323.2,130.4 L325.8,130.9 L328.4,131.3 L330.9,131.8 L333.5,132.2 L336.1,132.6 L338.7,133 L341.3,133.4 L343.9,133.8 L346.5,134.3 L349.1,134.8 L351.7,135.4 L354.3,135.8 L356.9,136.2 L359.5,136.4 L362.1,136.5 L364.7,136.5 L367.3,136.6 L370,136.6 L372.6,136.6 L375.2,136.6 L377.8,136.6 L380.5,136.6 L383.1,136.7 L385.7,136.7 L388.3,136.7 L390.9,136.8 L393.6,136.9 L396.2,136.9 L398.8,137 L401.4,137.1 L404,137.1 L406.7,137.2 L409.3,137.3 L411.9,137.3 L414.5,137.4 L417.1,137.5 L419.8,137.6M318,133 L320.6,133.5 L323.2,134 L325.7,134.5 L328.3,135 L330.9,135.4 L333.5,135.8 L336.1,136.2 L338.7,136.6 L341.3,137 L343.9,137.3 L346.5,137.8 L349.1,138.3 L351.7,138.8 L354.3,139.2 L356.9,139.4 L359.5,139.5 L362.2,139.5 L364.8,139.5 L367.4,139.4 L370,139.3 L372.6,139.2 L375.3,139.1 L377.9,139 L380.5,138.9 L383.1,138.8 L385.7,138.7 L388.4,138.6 L391,138.6 L393.6,138.5 L396.2,138.4 L398.8,138.4 L401.4,138.3 L404.1,138.2 L406.7,138.2 L409.3,138.1 L411.9,138 L414.5,138 L417.1,137.9 L419.8,137.8M318,136.5 L320.6,137 L323.2,137.6 L325.7,138.1 L328.3,138.6 L330.9,139 L333.5,139.4 L336.1,139.8 L338.7,140.2 L341.3,140.5 L343.9,140.9 L346.5,141.2 L349.1,141.7 L351.7,142.2 L354.3,142.5 L357,142.6 L359.6,142.6 L362.2,142.5 L364.8,142.4 L367.5,142.2 L370.1,142 L372.7,141.8 L375.3,141.6 L377.9,141.4 L380.5,141.2 L383.2,140.9 L385.8,140.7 L388.4,140.5 L391,140.3 L393.6,140.1 L396.2,139.9 L398.8,139.7 L401.5,139.5 L404.1,139.3 L406.7,139.1 L409.3,138.9 L411.9,138.7 L414.5,138.5 L417.1,138.3 L419.8,138.1M323.2,126.9L323.1,141.1M328.4,127.7L328.3,142.2M333.6,128.6L333.5,143M338.8,129.4L338.7,143.7M343.9,130.3L343.9,144.4M349.1,131.4L349.2,145.1M354.2,132.5L354.4,145.8M359.4,133.2L359.6,145.8M364.7,133.6L364.9,145.3M369.9,133.9L370.1,144.7M374.3,134.1L374.5,144.2M379.5,134.3L379.7,143.5M384.8,134.6L384.9,142.8M390,135L390.2,142.2M395.3,135.3L395.4,141.5M400.5,135.7L400.6,140.9M405.8,136.2L405.8,140.2M411,136.6L411.1,139.5M416.3,137L416.3,138.9M421.5,137.4L421.5,138.2" fill="none" stroke="#444" stroke-width="0.4" stroke-opacity="0.65"/>
<path d="M330,128 L331.6,128.3 L333.9,128.6 L336.6,129.1 L339.5,129.6 L342.4,130 L345,130.5 L347.2,131 L349.2,131.4 L351.1,131.9 L353.3,132.4 L355.8,132.8 L359,133.2 L362.9,133.5 L367.3,133.8 L372.1,134 L377.2,134.2 L382.5,134.5 L387.7,134.8 L393.4,135.2 L399.8,135.7 L406.4,136.2 L412.5,136.7 L417.8,137.1 L421.5,137.4M340,144 L342,144.3 L344.6,144.7 L347.7,145.1 L351.2,145.5 L355.1,145.8 L359,145.8 L363.2,145.6 L367.7,145.1 L372.4,144.5 L377.4,143.9 L382.5,143.2 L387.7,142.5 L393.4,141.8 L399.8,141 L406.4,140.1 L412.5,139.4 L417.8,138.7 L421.5,138.2" fill="none" stroke="#444" stroke-width="0.5" stroke-opacity="0.8"/>
<polygon points="281.2,23.5 281.7,26.6 282.5,31.1 283.4,36.3 284.4,41.6 285.3,46.5 286.2,50.4 287,53 287.8,54.8 288.5,56.1 289.3,57.4 290,59 290.8,61.2 291.5,64.2 292.3,67.5 293,71.2 293.8,75.1 294.5,78.9 295.4,82.7 296.6,86.6 298.3,90.9 300.1,95.3 301.5,99.3 302.1,102.6 301.5,105 299.5,106.3 296.4,106.8 292.5,106.6 288.2,106 283.9,105.1 280,104 276.1,102.8 271.8,101.3 267.5,99.6 263.6,97.5 260.5,94.9 258.5,92 257.9,88.4 258.5,84.3 259.8,79.7 261.5,74.9 263.3,70.2 264.6,65.8 265.7,61.3 266.9,56.6 268.1,51.9 269.2,47.5 270.1,43.9 270.8,41.2" fill="#c8c8c8" fill-opacity="0.55" stroke="#555" stroke-width="0.55" stroke-opacity="0.95"/>
<polygon points="269.2,38.8 270.1,40.7 271.3,43.4 272.8,46.6 274.4,49.9 275.8,52.8 277,55 278,56.3 278.9,56.8 279.6,57 280.3,57.3 281,58.1 281.5,59.6 282,62.1 282.6,65.2 283,68.8 283.3,72.6 283.3,76.4 283,80 282.2,83.6 281.1,87.4 279.7,91.2 278.1,94.7 276.5,97.7 275,100 273.6,101.4 272.1,102 270.7,102.1 269.2,101.9 267.6,101.8 266,102 264.2,102.7 262.1,103.8 259.9,104.9 258,105.7 256.4,105.9 255.4,105 255.1,102.9 255.4,99.9 256,96.2 256.9,92.2 257.7,88.1 258.5,84.2 259.2,80.2 260.1,75.8 260.9,71.4 261.8,67.2 262.5,63.7 263,61.2" fill="#c4c4c4" fill-opacity="0.6" stroke="#555" stroke-width="0.55" stroke-opacity="0.95"/>
<path d="M281.2,23.5 L280.6,27.4 L279.8,32.8 L278.8,39.2 L277.8,46.2 L276.9,53.3 L276,60 L275.2,66.9 L274.4,74.6 L273.7,82.3 L273,89.5 L272.4,95.6 L272,100M281.2,23.5 L281.8,28.8 L282.5,36.2 L283.5,44.9 L284.4,54 L285.3,62.7 L286,70 L286.5,76.3 L286.9,82.3 L287.3,87.9 L287.6,92.8 L287.8,96.9 L288,100M269.2,38.8 L269.1,42.2 L269,46.9 L268.8,52.4 L268.7,58.4 L268.4,64.4 L268,70 L267.4,75.7 L266.7,81.8 L265.9,88 L265.1,93.7 L264.5,98.5 L264,102M258,70 L292,66M257,90 L298,88M262,60 L288,58" fill="none" stroke="#555" stroke-width="0.45" stroke-opacity="0.7"/>
<polygon points="265.4,107.7 265.9,106.5 266.5,104.9 267.3,102.9 268.3,101 269.4,99.1 270.8,97.7 272.5,96.7 274.4,95.8 276.6,95.2 278.8,94.6 281,94.2 283,93.8 284.8,93.4 286.5,93.1 288.2,92.9 289.9,92.8 291.8,92.8 293.8,93 296.2,93.4 298.8,93.9 301.5,94.6 304.2,95.3 306.8,96.2 309.2,97 311.3,97.9 313.4,98.9 315.3,100 317.1,101 318.7,102.1 320,103 321.2,103.8 322.2,104.4 323.1,105 323.7,105.6 324,106.5 323.8,107.7 323.1,109.4 322,111.5 320.5,113.8 318.8,116.1 317.1,118.2 315.4,120 313.8,121.4 312.1,122.6 310.3,123.6 308.5,124.4 306.6,125.2 304.6,126 302.4,126.8 300.1,127.5 297.6,128.2 295.2,128.7 292.9,129.1 290.8,129.2 289,129.1 287.2,128.7 285.7,128.2 284.2,127.5 282.8,126.8 281.5,126 280.3,125.1 279.3,124.2 278.3,123.1 277.4,122 276.5,121 275.4,120 274.1,119.1 272.7,118.2 271.2,117.3 269.8,116.5 268.6,115.9 267.7,115.4" fill="#e6521f" fill-opacity="1" stroke="#7a2a10" stroke-width="0.4" stroke-opacity="0.8"/>
<polygon points="265.4,107.7 265.9,106.5 266.7,104.9 267.5,102.9 268.5,100.9 269.6,99.1 270.8,97.7 272.2,96.7 273.7,95.9 275.4,95.3 277,94.8 278.6,94.5 280,94.3 281.2,94.2 282.4,94.1 283.5,94.2 284.5,94.5 285.3,95.1 286,96 286.5,97.4 286.8,99.2 287,101.4 287.1,103.6 287.1,105.9 287,108 286.9,110.1 286.6,112.2 286.3,114.4 285.9,116.4 285.5,118.3 285,120 284.5,121.5 284,122.9 283.5,124.1 282.9,125.1 282.3,125.8 281.5,126 280.7,125.7 279.7,124.8 278.7,123.7 277.6,122.3 276.5,121.1 275.4,120 274.1,119.1 272.7,118.2 271.2,117.3 269.8,116.5 268.6,115.9 267.7,115.4" fill="#e31c1c" fill-opacity="1" stroke="none" stroke-width="0.5" stroke-opacity="1.0"/>
<path d="M266,108 L268.1,108 L270.9,108 L274.2,108 L278.1,108 L282.4,108 L287,108 L292.5,108 L299.2,108 L306.3,108 L313.1,108 L318.9,108 L323,108M272,100 L287,108M278,96 L287,108M272,117 L287,108M279,124 L287,108M290,94 L292,129M298,94 L300,128M306,96 L308,126M314,100 L315,120" fill="none" stroke="#5a1a0a" stroke-width="0.4" stroke-opacity="0.55"/>
<polygon points="281.5,58.8 282.7,59.5 283.8,60.2 285,61 286.2,61.7 287.3,62.4 288.5,63 289.8,63.7 291,64.3 292.2,64.8 293.5,65.3 294.8,65.8 296.1,66.3 297.4,66.7 298.7,67.1 300,67.5 301.3,67.9 302.6,68.3 303.9,68.7 305.3,69 306.6,69.3 307.9,69.6 309.3,70 310.6,70.3 311.9,70.7 313.2,71.1 314.6,71.4 315.9,71.8 317.2,72.2 318.5,72.7 319.7,73.3 320.8,74.1 321.9,74.9 322.9,75.9 323.8,76.9 324.7,77.9 325.5,79 326.4,80.1 327.2,81.2 328,82.3 328.8,83.4 329.5,84.6 330.3,85.7 331,86.9 331.8,88 332.5,89.2 333.3,90.3 334.1,91.4 334.8,92.6 335.6,93.7 336.4,94.8 337.1,96 337.9,97.1 338.7,98.2 339.4,99.4 340.1,100.6 340.8,101.8 341.5,102.9 342.2,104.1 342.9,105.3 343.7,106.4 344.5,107.5 345.3,108.6 346.3,109.6 347.3,110.5 348.4,111.3 349.6,112 350.8,112.6 352.1,113.1 353.4,113.5 354.7,113.7 356.1,114 357.4,114.2 358.8,114.5 360.1,114.7 361.5,114.8 362.8,115 364.2,115.1 365.6,115.3 366.9,115.4 368.3,115.5 369.7,115.6 371,115.7 372.4,115.8 373.8,115.9 375.1,116 376.5,116.1 377.9,116.2 379.2,116.3 380.6,116.4 382,116.5 383.3,116.6 384.7,116.7 386.1,116.9 387.4,117 388.8,117.1 390.2,117.2 391.5,117.4 392.9,117.5 394.2,117.6 395.6,117.8 397,117.9 398.3,118.1 399.7,118.2 401.1,118.3 402.4,118.5 403.8,118.6 405.1,118.8 406.5,118.9 407.9,119.1 409.2,119.2 410.6,119.4 412,119.5 413.3,119.6 414.7,119.8 416,119.9 417.4,120.1 418.8,120.2 420.1,120.4 421.5,120.5 421.5,120.8 420.2,120.9 419,121 417.7,121.1 416.4,121.2 415.2,121.4 413.9,121.5 412.6,121.6 411.4,121.7 410.1,121.8 408.8,121.9 407.6,122 406.3,122.1 405,122.3 403.8,122.4 402.5,122.5 401.2,122.6 400,122.7 398.7,122.8 397.4,122.9 396.2,123 394.9,123.2 393.6,123.3 392.4,123.4 391.1,123.5 389.8,123.6 388.6,123.7 387.3,123.8 386,124 384.8,124.1 383.5,124.2 382.2,124.4 381,124.5 379.7,124.7 378.4,124.8 377.2,125 375.9,125.2 374.7,125.3 373.4,125.5 372.1,125.6 370.9,125.7 369.6,125.9 368.3,126 367.1,126.1 365.8,126.2 364.5,126.3 363.3,126.4 362,126.4 360.7,126.4 359.4,126.4 358.2,126.3 356.9,126.2 355.6,126.1 354.4,126 353.1,125.8 351.9,125.6 350.6,125.4 349.4,125.1 348.1,124.9 346.9,124.6 345.6,124.3 344.4,124 343.2,123.7 341.9,123.3 340.7,123 339.5,122.7 338.3,122.3 337,122 335.8,121.7 334.6,121.3 333.4,120.9 332.2,120.5 331,120.1 329.8,119.6 328.6,119.1 327.5,118.6 326.3,118.1 325.1,117.7 323.9,117.2 322.7,116.7 321.5,116.3 320.3,115.8 319.2,115.3 318,114.9 316.8,114.3 315.7,113.8 314.5,113.3 313.4,112.7 312.3,112.1 311.2,111.5 310.1,110.8 309,110.2 307.9,109.5 306.8,108.8 305.8,108.1 304.8,107.3 303.7,106.6 302.7,105.8 301.7,105 300.8,104.2 299.8,103.3 298.9,102.5 297.9,101.6 297,100.8 296,99.9 295.1,99 294.2,98.1 293.3,97.3 292.4,96.4 291.5,95.5 290.6,94.6 289.7,93.7 288.8,92.7 288,91.8 287.1,90.8 286.3,89.9 285.5,88.9 284.7,87.9 283.8,87 283,86" fill="#d8d8d8" fill-opacity="0.35" stroke="none"/>
<path d="M282,67.9 L285.2,70.3 L288.4,72.6 L291.7,74.7 L295.2,76.6 L298.7,78.3 L302.2,80 L305.9,81.4 L309.5,82.9 L313.2,84.4 L316.8,86 L320.1,88.3 L323,91 L325.8,93.6 L328.5,96.4 L331.2,99.1 L333.9,101.9 L336.7,104.5 L339.4,107.2 L342,109.8 L344.7,112.5 L347.7,114.9 L351.2,116.7 L355,117.8 L358.9,118.3 L362.9,118.6 L366.9,118.8 L370.9,118.9 L374.9,118.9 L378.9,119 L382.9,119 L386.9,119.1 L390.9,119.3 L394.9,119.4 L398.9,119.6 L402.9,119.8 L406.9,120 L410.9,120.1 L414.8,120.3 L418.8,120.5M282.5,76.9 L285.3,79.6 L288.2,82.2 L291.1,84.7 L294.2,86.9 L297.4,89.1 L300.6,91.2 L303.8,93.2 L307.1,95.1 L310.6,96.9 L314,98.7 L317.3,100.8 L320.5,102.9 L323.7,105 L326.8,107 L329.9,109.1 L333.1,111.2 L336.2,113.1 L339.5,114.9 L342.6,116.8 L345.8,118.5 L349.2,120.1 L352.8,121.3 L356.6,122 L360.5,122.3 L364.4,122.4 L368.3,122.3 L372.2,122.2 L376,122 L379.9,121.8 L383.8,121.6 L387.7,121.4 L391.6,121.3 L395.5,121.2 L399.4,121.2 L403.3,121.1 L407.2,121 L411.1,120.9 L415,120.8 L418.9,120.8M281.5,58.8L295.1,99M286.2,61.7L298.9,102.5M291,64.3L302.7,105.8M296.1,66.3L306.8,108.8M301.3,67.9L311.2,111.5M306.6,69.3L315.7,113.8M311.9,70.7L320.3,115.8M317.2,72.2L325.1,117.7M321.9,74.9L329.8,119.6M325.5,79L334.6,121.3M328.8,83.4L339.5,122.7M331.8,88L344.4,124M334.8,92.6L349.4,125.1M337.9,97.1L354.4,126M340.8,101.8L359.4,126.4M343.7,106.4L364.5,126.3M346.3,109.6L368.3,126M350.8,112.6L373.4,125.5M356.1,114L378.4,124.8M361.5,114.8L383.5,124.2M366.9,115.4L388.6,123.7M372.4,115.8L393.6,123.3M377.9,116.2L398.7,122.8M383.3,116.6L403.8,122.4M388.8,117.1L408.8,121.9M394.2,117.6L413.9,121.5M399.7,118.2L419,121M405.1,118.8L421.5,120.8M410.6,119.4L421.5,120.8M416,119.9L421.5,120.8M421.5,120.5L421.5,120.8" fill="none" stroke="#333" stroke-width="0.45" stroke-opacity="0.75"/>
<path d="M281.5,58.8 283.8,60.2 286.2,61.7 288.5,63 291,64.3 293.5,65.3 296.1,66.3 298.7,67.1 301.3,67.9 303.9,68.7 306.6,69.3 309.3,70 311.9,70.7 314.6,71.4 317.2,72.2 319.7,73.3 321.9,74.9 323.8,76.9 325.5,79 327.2,81.2 328.8,83.4 330.3,85.7 331.8,88 333.3,90.3 334.8,92.6 336.4,94.8 337.9,97.1 339.4,99.4 340.8,101.8 342.2,104.1 343.7,106.4 345.3,108.6 347.3,110.5 349.6,112 352.1,113.1 354.7,113.7 357.4,114.2 360.1,114.7 362.8,115 365.6,115.3 368.3,115.5 371,115.7 373.8,115.9 376.5,116.1 379.2,116.3 382,116.5 384.7,116.7 387.4,117 390.2,117.2 392.9,117.5 395.6,117.8 398.3,118.1 401.1,118.3 403.8,118.6 406.5,118.9 409.2,119.2 412,119.5 414.7,119.8 417.4,120.1 420.1,120.4 M283,86 284.7,87.9 286.3,89.9 288,91.8 289.7,93.7 291.5,95.5 293.3,97.3 295.1,99 297,100.8 298.9,102.5 300.8,104.2 302.7,105.8 304.8,107.3 306.8,108.8 309,110.2 311.2,111.5 313.4,112.7 315.7,113.8 318,114.9 320.3,115.8 322.7,116.7 325.1,117.7 327.5,118.6 329.8,119.6 332.2,120.5 334.6,121.3 337,122 339.5,122.7 341.9,123.3 344.4,124 346.9,124.6 349.4,125.1 351.9,125.6 354.4,126 356.9,126.2 359.4,126.4 362,126.4 364.5,126.3 367.1,126.1 369.6,125.9 372.1,125.6 374.7,125.3 377.2,125 379.7,124.7 382.2,124.4 384.8,124.1 387.3,123.8 389.8,123.6 392.4,123.4 394.9,123.2 397.4,122.9 400,122.7 402.5,122.5 405,122.3 407.6,122 410.1,121.8 412.6,121.6 415.2,121.4 417.7,121.1 420.2,120.9" fill="none" stroke="#333" stroke-width="0.5" stroke-opacity="0.9"/>
<polygon points="340,110 340.7,110.2 341.3,110.4 342,110.5 342.7,110.7 343.3,110.9 344,111.1 344.7,111.3 345.3,111.5 346,111.6 346.7,111.8 347.3,112 348,112.2 348.7,112.3 349.4,112.5 350,112.7 350.7,112.8 351.4,113 352,113.2 352.7,113.3 353.4,113.5 354.1,113.6 354.7,113.7 355.4,113.9 356.1,114 356.8,114.1 357.5,114.2 358.2,114.4 358.8,114.5 359.5,114.6 360.2,114.7 360.9,114.7 361.6,114.8 362.3,114.9 363,115 363.6,115.1 364.3,115.1 365,115.2 365.7,115.3 366.4,115.3 367.1,115.4 367.8,115.5 368.5,115.5 369.2,115.6 369.8,115.6 370.5,115.7 371.2,115.7 371.9,115.8 372.6,115.8 373.3,115.9 374,115.9 374.7,116 375.4,116 376.1,116.1 376.7,116.1 377.4,116.2 378.1,116.2 378.8,116.3 379.5,116.3 380.2,116.4 380.9,116.4 381.6,116.5 382.3,116.5 383,116.6 383.6,116.6 384.3,116.7 385,116.8 385.7,116.8 386.4,116.9 387.1,116.9 387.8,117 388.5,117.1 389.2,117.1 389.8,117.2 390.5,117.3 391.2,117.3 391.9,117.4 392.6,117.5 393.3,117.6 394,117.6 394.7,117.7 395.4,117.8 396,117.8 396.7,117.9 397.4,118 398.1,118 398.8,118.1 399.5,118.2 400.2,118.3 400.9,118.3 401.5,118.4 402.2,118.5 402.9,118.5 403.6,118.6 404.3,118.7 405,118.8 405.7,118.8 406.4,118.9 407.1,119 407.7,119 408.4,119.1 409.1,119.2 409.8,119.3 410.5,119.3 411.2,119.4 411.9,119.5 412.6,119.6 413.2,119.6 413.9,119.7 414.6,119.8 415.3,119.8 416,119.9 416.7,120 417.4,120.1 418.1,120.1 418.7,120.2 419.4,120.3 420.1,120.4 420.8,120.4 421.5,120.5 421.5,120.8 420.8,120.9 420.1,120.9 419.4,121 418.7,121 418,121.1 417.4,121.2 416.7,121.2 416,121.3 415.3,121.4 414.6,121.4 413.9,121.5 413.2,121.5 412.5,121.6 411.8,121.7 411.1,121.7 410.5,121.8 409.8,121.8 409.1,121.9 408.4,122 407.7,122 407,122.1 406.3,122.1 405.6,122.2 404.9,122.3 404.2,122.3 403.6,122.4 402.9,122.5 402.2,122.5 401.5,122.6 400.8,122.6 400.1,122.7 399.4,122.8 398.7,122.8 398,122.9 397.3,122.9 396.6,123 396,123.1 395.3,123.1 394.6,123.2 393.9,123.2 393.2,123.3 392.5,123.4 391.8,123.4 391.1,123.5 390.4,123.6 389.7,123.6 389.1,123.7 388.4,123.7 387.7,123.8 387,123.9 386.3,123.9 385.6,124 384.9,124.1 384.2,124.2 383.5,124.2 382.9,124.3 382.2,124.4 381.5,124.5 380.8,124.6 380.1,124.6 379.4,124.7 378.7,124.8 378,124.9 377.3,125 376.7,125.1 376,125.2 375.3,125.2 374.6,125.3 373.9,125.4 373.2,125.5 372.5,125.6 371.8,125.7 371.2,125.7 370.5,125.8 369.8,125.9 369.1,126 368.4,126 367.7,126.1 367,126.1 366.3,126.2 365.6,126.2 364.9,126.3 364.3,126.3 363.6,126.4 362.9,126.4 362.2,126.4 361.5,126.4 360.8,126.4 360.1,126.4 359.4,126.4 358.7,126.4 358,126.3 357.3,126.2 356.6,126.1 356,126.1 355.3,126 354.6,125.9 353.9,125.7 353.2,125.6 352.6,125.4 351.9,125.3 351.2,125.1 350.5,124.9 349.9,124.7 349.2,124.5 348.5,124.4 347.9,124.2 347.2,123.9 346.6,123.7 345.9,123.5 345.2,123.3 344.6,123.1 343.9,122.8 343.3,122.6 342.6,122.4 342,122.1 341.3,121.9 340.7,121.7 340,121.5" fill="#ececec" fill-opacity="0.5" stroke="none"/>
<path d="M340,112.3 L342,112.8 L344,113.4 L346,114 L348,114.6 L350,115.1 L352,115.6 L354,116 L356.1,116.4 L358.1,116.7 L360.2,117 L362.3,117.2 L364.3,117.4 L366.4,117.5 L368.5,117.6 L370.5,117.7 L372.6,117.8 L374.7,117.8 L376.7,117.9 L378.8,118 L380.9,118.1 L382.9,118.1 L385,118.2 L387.1,118.3 L389.1,118.5 L391.2,118.6 L393.3,118.7 L395.3,118.8 L397.4,119 L399.5,119.1 L401.5,119.2 L403.6,119.4 L405.7,119.5 L407.7,119.6 L409.8,119.8 L411.9,119.9 L413.9,120.1 L416,120.2 L418.1,120.3 L420.1,120.5M340,114.6 L342,115.2 L344,115.8 L346,116.4 L348,117 L350,117.5 L352,118 L354,118.4 L356.1,118.8 L358.1,119.1 L360.2,119.4 L362.2,119.5 L364.3,119.6 L366.4,119.7 L368.4,119.7 L370.5,119.7 L372.6,119.7 L374.6,119.7 L376.7,119.7 L378.8,119.7 L380.8,119.7 L382.9,119.7 L385,119.7 L387,119.7 L389.1,119.8 L391.2,119.8 L393.3,119.9 L395.3,119.9 L397.4,120 L399.5,120 L401.5,120.1 L403.6,120.1 L405.7,120.2 L407.7,120.2 L409.8,120.3 L411.9,120.4 L413.9,120.4 L416,120.5 L418.1,120.5 L420.1,120.6M340,116.9 L342,117.5 L344,118.1 L345.9,118.8 L347.9,119.4 L349.9,119.9 L351.9,120.4 L354,120.9 L356,121.2 L358.1,121.5 L360.1,121.7 L362.2,121.8 L364.3,121.9 L366.4,121.8 L368.4,121.8 L370.5,121.7 L372.6,121.7 L374.6,121.6 L376.7,121.5 L378.8,121.4 L380.8,121.3 L382.9,121.2 L385,121.2 L387,121.1 L389.1,121.1 L391.2,121 L393.2,121 L395.3,121 L397.4,121 L399.4,120.9 L401.5,120.9 L403.6,120.9 L405.6,120.9 L407.7,120.8 L409.8,120.8 L411.8,120.8 L413.9,120.8 L416,120.7 L418.1,120.7 L420.1,120.7M340,119.2 L342,119.8 L344,120.5 L345.9,121.1 L347.9,121.8 L349.9,122.3 L351.9,122.9 L353.9,123.3 L356,123.6 L358.1,123.9 L360.1,124.1 L362.2,124.1 L364.3,124.1 L366.3,124 L368.4,123.9 L370.5,123.8 L372.5,123.6 L374.6,123.5 L376.7,123.3 L378.7,123.1 L380.8,122.9 L382.9,122.8 L384.9,122.6 L387,122.5 L389.1,122.4 L391.1,122.3 L393.2,122.2 L395.3,122.1 L397.4,121.9 L399.4,121.8 L401.5,121.7 L403.6,121.6 L405.6,121.5 L407.7,121.4 L409.8,121.3 L411.8,121.2 L413.9,121.1 L416,121 L418.1,120.9 L420.1,120.8M344.7,111.3L344.6,123.1M350,112.7L349.9,124.7M354.7,113.7L354.6,125.9M360.2,114.7L360.1,126.4M365,115.2L364.9,126.3M370.5,115.7L370.5,125.8M375.4,116L375.3,125.2M380.9,116.4L380.8,124.6M385.7,116.8L385.6,124M390.5,117.3L390.4,123.6M396,117.8L396,123.1M400.9,118.3L400.8,122.6M406.4,118.9L406.3,122.1M411.2,119.4L411.1,121.7M416.7,120L416.7,121.2M421.5,120.5L421.5,120.8" fill="none" stroke="#333" stroke-width="0.4" stroke-opacity="0.65"/>
<path d="M238.7,27.7 238.1,167.3M238.1,164.8h1.5M238.1,153.6h1.5M238.1,142.3h2.6M238.1,131.1h1.5M238.1,119.8h1.5M238.1,108.6h1.5M238.1,97.3h1.5M238.1,86.1h2.6M238.1,74.8h1.5M238.1,63.6h1.5M238.1,52.3h1.5M238.1,41.1h1.5M238.1,29.8h2.6" stroke="#333" stroke-width="0.8" fill="none"/>
<g font-family="Liberation Sans, sans-serif" font-size="7" fill="#444"><text x="236.5" y="144.7" text-anchor="end">0.5</text><text x="236.5" y="88.5" text-anchor="end">1.0</text><text x="236.5" y="32.2" text-anchor="end">1.5</text></g>
<path d="M238.1,167.3 359.8,190.5M240.5,167.8l0,-2.6M246.1,168.8l0,-1.5M251.8,169.9l0,-1.5M257.4,171l0,-1.5M263,172l0,-2.6M269.5,173.3l0,-1.5M276,174.5l0,-1.5M282.5,175.8l0,-1.5M289,177l0,-2.6M296.4,178.4l0,-1.5M303.8,179.8l0,-1.5M311.1,181.2l0,-1.5M318.5,182.6l0,-2.6M327.1,184.3l0,-1.5M335.8,185.9l0,-1.5M344.4,187.6l0,-1.5M353,189.2l0,-2.6" stroke="#333" stroke-width="0.8" fill="none"/>
<g font-family="Liberation Sans, sans-serif" font-size="7" fill="#444"><text x="239.9" y="175.5" text-anchor="middle">0</text><text x="262.8" y="179.8" text-anchor="middle">2</text><text x="289.5" y="184.8" text-anchor="middle">4</text><text x="318.9" y="190.9" text-anchor="middle">6</text><text x="353" y="197.3" text-anchor="middle">8</text></g>
<path d="M359.8,190.5 424.9,158.8M360,190.4l0,-2.6M364.9,188l0,-1.5M369.8,185.7l0,-1.5M374.6,183.3l0,-1.5M379.5,180.9l0,-2.6M383.8,178.8l0,-1.5M388,176.8l0,-1.5M392.2,174.7l0,-1.5M396.5,172.6l0,-2.6M400.2,170.8l0,-1.5M404,169l0,-1.5M407.8,167.2l0,-1.5M411.5,165.3l0,-2.6M414.8,163.7l0,-1.5M418,162.2l0,-1.5M421.2,160.6l0,-1.5M424.5,159l0,-2.6" stroke="#333" stroke-width="0.8" fill="none"/>
<g font-family="Liberation Sans, sans-serif" font-size="7" fill="#444"><text x="362.1" y="196.8" text-anchor="middle">0.0</text><text x="382.5" y="188.7" text-anchor="middle">0.2</text><text x="400.5" y="181.6" text-anchor="middle">0.4</text><text x="415.7" y="174.4" text-anchor="middle">0.6</text><text x="427.5" y="167.7" text-anchor="middle">0.8</text></g>
<text font-family="Liberation Sans, sans-serif" font-weight="bold" font-size="9.5" fill="#222" text-anchor="start" transform="translate(383,199.5) rotate(-23)">k<tspan font-size="6.8" dy="2.1">a1</tspan><tspan dy="-2.1"> /10</tspan><tspan font-size="6.8" dy="-3.6">-4</tspan><tspan dy="3.6"> s</tspan><tspan font-size="6.8" dy="-3.6">-1</tspan></text>
<text font-family="Liberation Sans, sans-serif" font-weight="bold" font-size="9.5" fill="#222" text-anchor="start" transform="translate(268.3,191.2) rotate(11)">k<tspan font-size="6.8" dy="2.1">a2</tspan><tspan dy="-2.1"> /10</tspan><tspan font-size="6.8" dy="-3.6">-4</tspan><tspan dy="3.6"> s</tspan><tspan font-size="6.8" dy="-3.6">-1</tspan></text>
<text font-family="Liberation Sans, sans-serif" font-weight="bold" font-size="9.5" fill="#222" text-anchor="middle" transform="translate(224.2,90.5) rotate(-90)">k<tspan font-size="6.8" dy="2.1">1</tspan><tspan dy="-2.1"> /10</tspan><tspan font-size="6.8" dy="-3.6">-4</tspan><tspan dy="3.6"> s</tspan><tspan font-size="6.8" dy="-3.6">-1</tspan></text>
<text font-family="Liberation Sans, sans-serif" x="224" y="17.6" font-size="13.5" font-weight="bold">b</text>
<path d="M458,30.2 578.4,7 644.4,36.3 542.6,48 458,30.2 M578.4,7 579.1,193 M644.4,36.3 644.2,161.3 M542.6,48 542.6,153.2 M457.4,169.8 542.6,153.2 644.2,161.3 M579.1,193 644.2,161.3" fill="none" stroke="#8a8a8a" stroke-width="0.65"/>
<polygon points="481,158 482.3,158.2 483.7,158.4 485,158.6 486.4,158.8 487.7,159 489.1,159.3 490.4,159.5 491.7,159.7 493.1,159.9 494.4,160.1 495.8,160.3 497.1,160.5 498.4,160.7 499.8,161 501.1,161.2 502.5,161.4 503.8,161.7 505.1,161.9 506.5,162.2 507.8,162.4 509.1,162.7 510.5,162.9 511.8,163.2 513.1,163.4 514.5,163.6 515.8,163.9 517.2,164.1 518.5,164.3 519.8,164.6 521.2,164.8 522.5,165 523.9,165.2 525.2,165.4 526.5,165.5 527.9,165.7 529.2,165.9 530.6,166.1 531.9,166.2 533.3,166.4 534.6,166.6 536,166.7 537.3,166.9 538.7,167.1 540,167.2 541.4,167.4 542.7,167.5 544.1,167.7 545.4,167.9 546.8,168 548.1,168.2 549.5,168.3 550.8,168.5 552.2,168.6 553.5,168.7 554.9,168.9 556.2,169 557.6,169.1 558.9,169.3 560.3,169.4 561.6,169.5 563,169.6 564.3,169.7 565.7,169.8 567,169.9 568.4,170 569.8,170.1 571.1,170.2 572.5,170.2 573.8,170.3 575.2,170.3 576.5,170.4 577.9,170.4 579.3,170.4 580.6,170.3 582,170.3 583.3,170.2 584.7,170.1 586,170 587.4,169.9 588.7,169.7 590.1,169.6 591.4,169.4 592.8,169.1 594.1,168.9 595.4,168.7 596.8,168.4 598.1,168.2 599.4,167.9 600.8,167.7 602.1,167.4 603.4,167.1 604.8,166.9 606.1,166.7 607.5,166.4 608.8,166.2 610.1,166 611.5,165.8 612.8,165.6 614.2,165.4 615.5,165.2 616.8,165 618.2,164.8 619.5,164.6 620.9,164.4 622.2,164.1 623.6,163.9 624.9,163.7 626.2,163.5 627.6,163.3 628.9,163.1 630.3,162.9 631.6,162.7 633,162.5 634.3,162.3 635.6,162 637,161.8 638.3,161.6 639.7,161.4 641,161.2 644,164.5 642.5,164.9 641.1,165.3 639.6,165.7 638.1,166.1 636.7,166.5 635.2,166.9 633.7,167.2 632.3,167.6 630.8,168 629.3,168.4 627.9,168.8 626.4,169.2 624.9,169.6 623.5,170 622,170.4 620.6,170.9 619.1,171.3 617.6,171.7 616.2,172.1 614.7,172.6 613.3,173 611.8,173.4 610.4,173.9 609,174.4 607.5,174.9 606.1,175.5 604.7,176 603.3,176.6 601.9,177.3 600.5,177.9 599.2,178.5 597.8,179.2 596.4,179.8 595.1,180.5 593.7,181.1 592.3,181.7 590.9,182.3 589.5,182.9 588,183.3 586.6,183.8 585.1,184.3 583.7,184.7 582.2,185 580.7,185.2 579.2,185.5 577.7,185.7 576.2,185.8 574.7,185.9 573.2,185.9 571.6,186 570.1,186 568.6,185.9 567.1,185.9 565.6,185.9 564.1,185.8 562.5,185.7 561,185.5 559.5,185.4 558,185.3 556.5,185.1 555,184.9 553.5,184.7 552,184.6 550.5,184.4 549,184.2 547.5,183.9 546,183.7 544.5,183.4 543,183.2 541.5,182.9 540,182.6 538.5,182.3 537,182 535.5,181.7 534.1,181.4 532.6,181 531.1,180.6 529.6,180.2 528.2,179.8 526.7,179.3 525.3,178.9 523.9,178.4 522.4,177.9 521,177.4 519.6,176.9 518.2,176.3 516.7,175.8 515.3,175.2 513.9,174.7 512.5,174.1 511.1,173.5 509.7,172.9 508.3,172.3 506.9,171.8 505.5,171.2 504.1,170.6 502.7,170.1 501.3,169.5 499.9,168.9 498.4,168.4 497,167.9 495.6,167.3 494.2,166.8 492.8,166.3 491.3,165.7 489.9,165.2 488.5,164.6 487.1,164.1 485.7,163.5 484.3,162.9 482.9,162.4 481.5,161.8 480.1,161.2 478.7,160.6 477.3,160 475.9,159.3 474.6,158.5 473.3,157.8 472,157" fill="#ececec" fill-opacity="1" stroke="none"/>
<path d="M479.5,157.8 L483.5,158.7 L487.6,159.6 L491.6,160.4 L495.7,161.2 L499.7,162 L503.8,162.9 L507.8,163.8 L511.9,164.7 L515.9,165.6 L520,166.4 L524,167.2 L528.1,167.9 L532.2,168.6 L536.3,169.2 L540.4,169.8 L544.5,170.3 L548.6,170.8 L552.8,171.3 L556.9,171.7 L561,172.1 L565.2,172.5 L569.3,172.7 L573.5,172.9 L577.6,173 L581.8,172.8 L585.9,172.4 L590,171.8 L594,171 L598.1,170 L602.1,169 L606.1,168.1 L610.2,167.3 L614.3,166.6 L618.3,165.9 L622.4,165.1 L626.5,164.4 L630.6,163.7 L634.7,163 L638.8,162.2M478,157.7 L482,158.8 L486.1,159.9 L490.1,160.9 L494.2,161.9 L498.3,162.9 L502.4,163.9 L506.5,164.9 L510.6,166 L514.7,167 L518.8,168.1 L522.9,169 L527,169.9 L531.1,170.7 L535.3,171.5 L539.4,172.2 L543.6,172.8 L547.8,173.3 L552,173.9 L556.2,174.3 L560.4,174.8 L564.6,175.1 L568.9,175.4 L573.1,175.5 L577.3,175.5 L581.5,175.2 L585.7,174.8 L589.9,174 L594,173 L598,171.8 L602.1,170.7 L606.1,169.6 L610.2,168.6 L614.4,167.8 L618.5,166.9 L622.6,166.1 L626.8,165.3 L630.9,164.5 L635.1,163.7 L639.2,162.8M476.5,157.5 L480.5,159 L484.6,160.2 L488.7,161.4 L492.8,162.6 L496.9,163.7 L501.1,164.9 L505.2,166.1 L509.3,167.3 L513.4,168.5 L517.5,169.7 L521.7,170.8 L525.8,171.9 L530,172.9 L534.2,173.7 L538.5,174.5 L542.7,175.2 L547,175.9 L551.2,176.4 L555.5,176.9 L559.8,177.4 L564.1,177.8 L568.4,178 L572.7,178.1 L577,178.1 L581.3,177.7 L585.6,177.1 L589.8,176.2 L593.9,175 L598,173.7 L602,172.3 L606.1,171.1 L610.3,169.9 L614.4,169 L618.6,168 L622.9,167.1 L627.1,166.2 L631.3,165.3 L635.5,164.4 L639.7,163.5M475,157.3 L479,159.1 L483.1,160.5 L487.2,161.9 L491.4,163.3 L495.5,164.6 L499.7,165.9 L503.9,167.2 L508,168.6 L512.2,170 L516.3,171.4 L520.5,172.7 L524.7,173.9 L528.9,175 L533.2,176 L537.5,176.9 L541.8,177.7 L546.1,178.4 L550.5,179 L554.8,179.5 L559.2,180 L563.6,180.4 L568,180.6 L572.4,180.8 L576.8,180.7 L581.1,180.2 L585.4,179.5 L589.7,178.4 L593.8,177 L597.9,175.5 L602,174 L606.1,172.5 L610.3,171.2 L614.5,170.2 L618.8,169.1 L623.1,168.1 L627.3,167.1 L631.6,166.1 L635.9,165.1 L640.2,164.1M473.5,157.2 L477.5,159.2 L481.6,160.9 L485.7,162.4 L489.9,163.9 L494.1,165.4 L498.4,166.9 L502.6,168.4 L506.8,169.9 L510.9,171.5 L515.1,173 L519.3,174.5 L523.6,175.9 L527.8,177.2 L532.2,178.3 L536.5,179.3 L540.9,180.1 L545.3,180.9 L549.7,181.6 L554.2,182.1 L558.6,182.7 L563.1,183 L567.5,183.3 L572,183.4 L576.5,183.2 L580.9,182.7 L585.3,181.9 L589.6,180.6 L593.7,179.1 L597.8,177.3 L602,175.6 L606.1,174 L610.3,172.6 L614.6,171.4 L619,170.2 L623.3,169.1 L627.6,167.9 L631.9,166.9 L636.3,165.8 L640.6,164.7M481,158L472,157M490.4,159.5L481.5,161.8M498.4,160.7L489.9,165.2M507.8,162.4L499.9,168.9M515.8,163.9L508.3,172.3M525.2,165.4L518.2,176.3M534.6,166.6L528.2,179.8M542.7,167.5L537,182M552.2,168.6L547.5,183.9M561.6,169.5L558,185.3M569.8,170.1L567.1,185.9M579.3,170.4L577.7,185.7M587.4,169.9L586.6,183.8M596.8,168.4L596.4,179.8M606.1,166.7L606.1,175.5M614.2,165.4L614.7,172.6M623.6,163.9L624.9,169.6M631.6,162.7L633.7,167.2M641,161.2L644,164.5" fill="none" stroke="#444" stroke-width="0.4" stroke-opacity="0.6"/>
<path d="M481,158 483.7,158.4 486.4,158.8 489.1,159.3 491.7,159.7 494.4,160.1 497.1,160.5 499.8,161 502.5,161.4 505.1,161.9 507.8,162.4 510.5,162.9 513.1,163.4 515.8,163.9 518.5,164.3 521.2,164.8 523.9,165.2 526.5,165.5 529.2,165.9 531.9,166.2 534.6,166.6 537.3,166.9 540,167.2 542.7,167.5 545.4,167.9 548.1,168.2 550.8,168.5 553.5,168.7 556.2,169 558.9,169.3 561.6,169.5 564.3,169.7 567,169.9 569.8,170.1 572.5,170.2 575.2,170.3 577.9,170.4 580.6,170.3 583.3,170.2 586,170 588.7,169.7 591.4,169.4 594.1,168.9 596.8,168.4 599.4,167.9 602.1,167.4 604.8,166.9 607.5,166.4 610.1,166 612.8,165.6 615.5,165.2 618.2,164.8 620.9,164.4 623.6,163.9 626.2,163.5 628.9,163.1 631.6,162.7 634.3,162.3 637,161.8 639.7,161.4 M472,157 474.6,158.5 477.3,160 480.1,161.2 482.9,162.4 485.7,163.5 488.5,164.6 491.3,165.7 494.2,166.8 497,167.9 499.9,168.9 502.7,170.1 505.5,171.2 508.3,172.3 511.1,173.5 513.9,174.7 516.7,175.8 519.6,176.9 522.4,177.9 525.3,178.9 528.2,179.8 531.1,180.6 534.1,181.4 537,182 540,182.6 543,183.2 546,183.7 549,184.2 552,184.6 555,184.9 558,185.3 561,185.5 564.1,185.8 567.1,185.9 570.1,186 573.2,185.9 576.2,185.8 579.2,185.5 582.2,185 585.1,184.3 588,183.3 590.9,182.3 593.7,181.1 596.4,179.8 599.2,178.5 601.9,177.3 604.7,176 607.5,174.9 610.4,173.9 613.3,173 616.2,172.1 619.1,171.3 622,170.4 624.9,169.6 627.9,168.8 630.8,168 633.7,167.2 636.7,166.5 639.6,165.7 642.5,164.9" fill="none" stroke="#444" stroke-width="0.5" stroke-opacity="0.75"/>
<polygon points="482,68 481.6,69.9 481.2,71.8 480.8,73.7 480.4,75.6 480.1,77.5 479.7,79.4 479.4,81.3 479.1,83.3 478.9,85.2 478.7,87.1 478.6,89.1 478.6,91 478.5,92.9 478.5,94.9 478.5,96.8 478.5,98.8 478.5,100.7 478.4,102.7 478.4,104.6 478.4,106.5 478.5,108.5 478.5,110.4 478.5,112.4 478.5,114.3 478.5,116.3 478.5,118.2 478.6,120.1 478.8,122.1 479.2,124 479.7,125.8 480.3,127.7 480.9,129.5 481.7,131.3 482.5,133.1 483.5,134.8 484.6,136.4 485.7,137.9 487,139.4 488.4,140.7 489.9,141.9 491.5,143.1 493.1,144.1 494.8,145.1 496.6,145.9 498.4,146.5 500.3,147.1 502.2,147.6 504.1,148 506,148.4 507.9,148.7 509.8,149 511.7,149.1 513.7,149.2 515.6,149.2 517.6,149.1 519.5,148.9 521.4,148.7 523.3,148.4 525.2,148 527.2,147.7 529.1,147.3 531,146.9 532.9,146.5 534.8,146.2 536.7,145.8 538.6,145.5 540.5,145.3 542.5,145 544.4,144.8 546.3,144.6 548.3,144.5 550.2,144.4 552.1,144.4 554.1,144.5 556,144.7 557.9,145 559.9,145.3 561.8,145.7 563.7,146.1 565.6,146.5 567.5,146.9 569.4,147.2 571.3,147.6 573.2,147.8 575.1,148.1 577.1,148.4 579,148.6 580.9,148.8 582.8,149 584.8,149.3 586.7,149.5 588.6,149.7 590.6,149.9 592.5,150.1 594.4,150.3 596.4,150.5 598.3,150.7 600.2,150.9 602.2,151.1 604.1,151.3 606,151.5 607.9,151.7 609.9,151.9 611.8,152.1 613.7,152.3 615.7,152.5 617.6,152.7 619.5,152.9 621.5,153.1 623.4,153.3 625.3,153.4 627.3,153.6 629.2,153.8 631.1,154 633.1,154.2 635,154.4 636.9,154.6 638.9,154.8 640.8,155 640.8,158.2 638.9,158.7 637.1,159.3 635.2,159.9 633.3,160.4 631.5,161 629.6,161.5 627.7,162.1 625.8,162.6 624,163.2 622.1,163.7 620.2,164.2 618.3,164.8 616.5,165.3 614.6,165.8 612.7,166.3 610.8,166.8 608.9,167.3 607,167.8 605.2,168.3 603.3,168.7 601.4,169.2 599.5,169.7 597.6,170.2 595.7,170.7 593.8,171.2 591.9,171.6 590,172 588.1,172.5 586.2,172.8 584.3,173.2 582.4,173.5 580.4,173.7 578.5,173.9 576.6,174 574.6,174.1 572.7,174 570.7,173.9 568.8,173.7 566.9,173.4 564.9,173 563,172.6 561.1,172.2 559.2,171.7 557.3,171.3 555.4,170.9 553.5,170.5 551.6,170.1 549.7,169.6 547.8,169.2 545.9,168.7 544,168.2 542.2,167.7 540.3,167.2 538.4,166.7 536.5,166.1 534.7,165.5 532.8,164.9 531,164.2 529.2,163.5 527.5,162.6 525.8,161.6 524.2,160.5 522.5,159.5 520.8,158.5 519.1,157.6 517.4,156.7 515.6,155.8 513.9,155 512.1,154.1 510.4,153.2 508.7,152.3 507,151.3 505.4,150.3 503.8,149 502.4,147.7 501.1,146.3 499.8,144.9 498.6,143.3 497.4,141.8 496.2,140.2 495,138.7 493.9,137.1 492.8,135.5 491.7,133.8 490.7,132.2 489.7,130.5 488.7,128.9 487.6,127.2 486.6,125.6 485.7,123.8 485,122 484.5,120.1 484.3,118.2 484.1,116.3 484.1,114.3 484,112.4 483.9,110.4 483.9,108.5 483.9,106.5 483.8,104.6 483.9,102.6 483.9,100.7 484,98.7 484.1,96.8 484.2,94.8 484.4,92.9 484.6,90.9 484.8,89 485,87.1 485.3,85.1 485.6,83.2 486,81.3 486.4,79.4 486.8,77.5 487.2,75.6 487.7,73.7 488.1,71.8 488.6,69.9 489,68" fill="#d8d8b2" fill-opacity="1" stroke="none"/>
<path d="M483.4,68 L482.2,73.7 L481.1,79.4 L480.2,85.2 L479.8,91 L479.6,96.8 L479.5,102.6 L479.5,108.5 L479.6,114.3 L479.8,120.1 L481.1,125.8 L483.3,131.2 L486.2,136.2 L490,140.6 L494.5,144.3 L499.5,147 L505,148.9 L510.6,150.2 L516.3,150.9 L522,151 L527.6,150.8 L533.2,150.3 L538.9,149.9 L544.7,149.6 L550.5,149.5 L556.3,150 L562,151.1 L567.7,152.2 L573.5,153.1 L579.3,153.6 L585.1,154 L590.8,154.2 L596.6,154.4 L602.4,154.6 L608.1,154.8 L613.9,155 L619.7,155.1 L625.4,155.3 L631.2,155.4 L637,155.5M484.8,68 L483.6,73.7 L482.4,79.4 L481.5,85.2 L481,91 L480.7,96.8 L480.6,102.6 L480.6,108.5 L480.7,114.3 L481,120.1 L482.5,125.7 L484.9,131 L487.8,136 L491.5,140.5 L495.8,144.4 L500.6,147.5 L505.9,149.7 L511.4,151.4 L517,152.5 L522.5,153.4 L528,154 L533.6,154.1 L539.3,154.2 L545,154.4 L550.8,154.7 L556.5,155.4 L562.3,156.5 L568,157.6 L573.8,158.3 L579.6,158.7 L585.3,158.7 L591.1,158.6 L596.9,158.4 L602.6,158.2 L608.3,157.9 L614.1,157.7 L619.8,157.4 L625.5,157.1 L631.3,156.8 L637,156.5M486.2,68 L484.9,73.7 L483.7,79.4 L482.7,85.2 L482.2,91 L481.8,96.8 L481.7,102.6 L481.7,108.5 L481.8,114.3 L482.2,120.1 L483.8,125.7 L486.5,130.8 L489.5,135.8 L493.1,140.4 L497.1,144.6 L501.7,148 L506.8,150.6 L512.3,152.6 L517.7,154.2 L523.1,155.8 L528.4,157.1 L534,157.9 L539.6,158.5 L545.3,159.2 L551.1,159.8 L556.8,160.7 L562.5,161.8 L568.3,163 L574.1,163.6 L579.9,163.7 L585.6,163.4 L591.4,162.9 L597.1,162.3 L602.8,161.7 L608.5,161 L614.3,160.4 L620,159.7 L625.6,158.9 L631.3,158.2 L637,157.4M487.6,68 L486.3,73.7 L485.1,79.4 L484,85.2 L483.4,91 L483,96.8 L482.8,102.6 L482.8,108.5 L483,114.3 L483.4,120.1 L485.2,125.6 L488.1,130.7 L491.1,135.7 L494.6,140.3 L498.4,144.7 L502.8,148.5 L507.8,151.4 L513.1,153.8 L518.4,155.9 L523.6,158.2 L528.8,160.3 L534.3,161.7 L540,162.9 L545.6,163.9 L551.3,164.9 L557.1,166 L562.8,167.2 L568.5,168.3 L574.3,168.8 L580.2,168.7 L585.9,168.1 L591.7,167.3 L597.4,166.3 L603.1,165.2 L608.7,164.2 L614.4,163.1 L620.1,162 L625.7,160.8 L631.4,159.6 L637,158.4M482,68L489,68M480.4,75.6L487.2,75.6M479.4,81.3L486,81.3M478.7,87.1L485,87.1M478.5,94.9L484.2,94.8M478.4,102.7L483.9,102.6M478.5,108.5L483.9,108.5M478.5,114.3L484.1,114.3M478.8,122.1L485,122M480.9,129.5L488.7,128.9M483.5,134.8L491.7,133.8M487,139.4L495,138.7M493.1,144.1L499.8,144.9M500.3,147.1L505.4,150.3M506,148.4L510.4,153.2M511.7,149.1L515.6,155.8M519.5,148.9L522.5,159.5M527.2,147.7L529.2,163.5M532.9,146.5L534.7,165.5M538.6,145.5L540.3,167.2M546.3,144.6L547.8,169.2M554.1,144.5L555.4,170.9M559.9,145.3L561.1,172.2M565.6,146.5L566.9,173.4M573.2,147.8L574.6,174.1M580.9,148.8L582.4,173.5M586.7,149.5L588.1,172.5M592.5,150.1L593.8,171.2M600.2,150.9L601.4,169.2M607.9,151.7L608.9,167.3M613.7,152.3L614.6,165.8M619.5,152.9L620.2,164.2M627.3,153.6L627.7,162.1M635,154.4L635.2,159.9M640.8,155L640.8,158.2" fill="none" stroke="#555" stroke-width="0.4" stroke-opacity="0.65"/>
<path d="M482,68 481.2,71.8 480.4,75.6 479.7,79.4 479.1,83.3 478.7,87.1 478.6,91 478.5,94.9 478.5,98.8 478.4,102.7 478.4,106.5 478.5,110.4 478.5,114.3 478.5,118.2 478.8,122.1 479.7,125.8 480.9,129.5 482.5,133.1 484.6,136.4 487,139.4 489.9,141.9 493.1,144.1 496.6,145.9 500.3,147.1 504.1,148 507.9,148.7 511.7,149.1 515.6,149.2 519.5,148.9 523.3,148.4 527.2,147.7 531,146.9 534.8,146.2 538.6,145.5 542.5,145 546.3,144.6 550.2,144.4 554.1,144.5 557.9,145 561.8,145.7 565.6,146.5 569.4,147.2 573.2,147.8 577.1,148.4 580.9,148.8 584.8,149.3 588.6,149.7 592.5,150.1 596.4,150.5 600.2,150.9 604.1,151.3 607.9,151.7 611.8,152.1 615.7,152.5 619.5,152.9 623.4,153.3 627.3,153.6 631.1,154 635,154.4 638.9,154.8 M489,68 488.1,71.8 487.2,75.6 486.4,79.4 485.6,83.2 485,87.1 484.6,90.9 484.2,94.8 484,98.7 483.9,102.6 483.9,106.5 483.9,110.4 484.1,114.3 484.3,118.2 485,122 486.6,125.6 488.7,128.9 490.7,132.2 492.8,135.5 495,138.7 497.4,141.8 499.8,144.9 502.4,147.7 505.4,150.3 508.7,152.3 512.1,154.1 515.6,155.8 519.1,157.6 522.5,159.5 525.8,161.6 529.2,163.5 532.8,164.9 536.5,166.1 540.3,167.2 544,168.2 547.8,169.2 551.6,170.1 555.4,170.9 559.2,171.7 563,172.6 566.9,173.4 570.7,173.9 574.6,174.1 578.5,173.9 582.4,173.5 586.2,172.8 590,172 593.8,171.2 597.6,170.2 601.4,169.2 605.2,168.3 608.9,167.3 612.7,166.3 616.5,165.3 620.2,164.2 624,163.2 627.7,162.1 631.5,161 635.2,159.9 638.9,158.7" fill="none" stroke="#555" stroke-width="0.5" stroke-opacity="0.8"/>
<polygon points="488.1,34.2 487.7,35.2 487.3,36.3 486.9,37.3 486.5,38.4 486,39.4 485.6,40.5 485.2,41.5 484.8,42.6 484.4,43.6 484,44.7 483.6,45.7 483.2,46.8 482.9,47.8 482.5,48.9 482.1,50 481.8,51 481.4,52.1 481.1,53.2 480.7,54.2 480.4,55.3 480.1,56.4 479.7,57.4 479.4,58.5 479.1,59.6 478.8,60.7 478.5,61.8 478.2,62.8 477.9,63.9 477.6,65 477.3,66.1 477,67.2 476.7,68.3 476.5,69.4 476.2,70.4 475.9,71.5 475.7,72.6 475.4,73.7 475.2,74.8 475,75.9 474.8,77 474.6,78.1 474.4,79.2 474.2,80.4 474,81.5 473.8,82.6 473.7,83.7 473.5,84.8 473.4,85.9 473.2,87 473.1,88.1 473,89.3 472.9,90.4 472.7,91.5 472.6,92.6 472.5,93.7 472.4,94.8 472.3,96 472.2,97.1 472.1,98.2 472,99.3 471.8,100.4 471.7,101.6 471.6,102.7 471.5,103.8 471.4,104.9 471.4,106 471.3,107.2 471.2,108.3 471.1,109.4 471,110.5 470.9,111.6 470.9,112.8 470.8,113.9 470.7,115 470.7,116.1 470.6,117.2 470.6,118.4 470.5,119.5 470.5,120.6 470.4,121.7 470.4,122.9 470.4,124 470.4,125.1 470.4,126.2 470.4,127.3 470.4,128.5 470.4,129.6 470.4,130.7 470.5,131.8 470.5,133 470.5,134.1 470.6,135.2 470.6,136.3 470.6,137.5 470.7,138.6 470.7,139.7 470.8,140.8 470.9,141.9 470.9,143.1 471,144.2 471,145.3 471,146.4 471.1,147.6 471.1,148.7 471.1,149.8 471.1,150.9 471.1,152 471.1,153.2 471.2,154.3 471.4,155.4 471.8,156.4 472.4,157.4 473.2,158.2 474.2,158.7 475.2,159.1 476.3,159.3 477.4,159.6 478.5,159.7 479.6,160 484,157 483.1,156.8 482.2,156.7 481.3,156.4 480.5,156 479.8,155.3 479.4,154.5 479,153.6 478.7,152.8 478.5,151.8 478.3,150.9 478.1,150 478,149.1 477.9,148.2 477.7,147.3 477.6,146.3 477.5,145.4 477.5,144.5 477.4,143.5 477.3,142.6 477.2,141.7 477.1,140.8 477.1,139.8 477,138.9 476.9,138 476.9,137 476.8,136.1 476.7,135.2 476.7,134.3 476.6,133.3 476.6,132.4 476.6,131.5 476.5,130.5 476.5,129.6 476.5,128.7 476.5,127.7 476.5,126.8 476.5,125.9 476.5,125 476.5,124 476.5,123.1 476.5,122.2 476.6,121.2 476.6,120.3 476.7,119.4 476.8,118.4 476.8,117.5 476.9,116.6 477,115.7 477.1,114.7 477.2,113.8 477.3,112.9 477.4,111.9 477.5,111 477.6,110.1 477.7,109.2 477.8,108.2 477.9,107.3 478,106.4 478.2,105.5 478.3,104.6 478.4,103.6 478.6,102.7 478.7,101.8 478.9,100.9 479,100 479.2,99 479.4,98.1 479.6,97.2 479.8,96.3 480,95.4 480.3,94.5 480.6,93.6 480.8,92.7 481.1,91.9 481.4,91 481.7,90.1 482,89.2 482.2,88.3 482.5,87.4 482.7,86.5 482.9,85.6 483.1,84.7 483.3,83.8 483.5,82.9 483.7,81.9 483.8,81 484,80.1 484.2,79.2 484.4,78.3 484.5,77.4 484.7,76.4 484.9,75.5 485.1,74.6 485.2,73.7 485.4,72.8 485.6,71.9 485.8,71 486,70.1 486.2,69.2 486.4,68.2 486.6,67.3 486.8,66.4 487,65.5 487.2,64.6 487.4,63.7 487.7,62.8 487.9,61.9 488.1,61 488.3,60.1 488.5,59.2 488.7,58.3 488.9,57.3 489.1,56.4 489.3,55.5 489.6,54.6 489.8,53.7 490,52.8 490.2,51.9 490.4,51" fill="#d4d4d4" fill-opacity="1" stroke="none"/>
<path d="M488.7,38.4 L487.6,41.4 L486.5,44.5 L485.4,47.5 L484.4,50.6 L483.4,53.6 L482.4,56.7 L481.5,59.8 L480.7,62.9 L479.9,66 L479.1,69.1 L478.3,72.3 L477.6,75.4 L476.9,78.6 L476.3,81.7 L475.7,84.9 L475.1,88.1 L474.6,91.2 L474.2,94.4 L473.8,97.7 L473.5,100.9 L473.2,104.1 L472.9,107.3 L472.6,110.5 L472.4,113.7 L472.2,116.9 L472,120.2 L471.9,123.4 L471.9,126.6 L471.9,129.8 L472,133.1 L472.1,136.3 L472.3,139.5 L472.5,142.7 L472.6,145.9 L472.7,149.2 L472.9,152.4 L473.5,155.5 L475.6,157.8 L478.6,158.8M489.2,42.6 L488.3,45.5 L487.4,48.5 L486.5,51.4 L485.6,54.3 L484.7,57.3 L483.8,60.2 L483,63.2 L482.3,66.2 L481.5,69.2 L480.8,72.2 L480.1,75.2 L479.5,78.2 L478.8,81.2 L478.2,84.2 L477.5,87.2 L476.8,90.2 L476.3,93.2 L475.8,96.3 L475.4,99.3 L475.1,102.4 L474.7,105.5 L474.4,108.5 L474.1,111.6 L473.9,114.7 L473.7,117.7 L473.5,120.8 L473.4,123.9 L473.4,127 L473.5,130.1 L473.6,133.1 L473.7,136.2 L473.9,139.3 L474.1,142.4 L474.2,145.5 L474.4,148.5 L474.6,151.6 L475.2,154.6 L477,157 L479.8,158.1M489.8,46.8 L489,49.6 L488.3,52.5 L487.5,55.3 L486.7,58.1 L486,60.9 L485.2,63.8 L484.5,66.6 L483.8,69.5 L483.2,72.4 L482.6,75.2 L482,78.1 L481.4,81 L480.8,83.9 L480.1,86.7 L479.3,89.5 L478.6,92.4 L477.9,95.2 L477.4,98.1 L477,101 L476.6,103.9 L476.3,106.9 L475.9,109.8 L475.6,112.7 L475.4,115.6 L475.2,118.6 L475,121.5 L475,124.4 L474.9,127.4 L475,130.3 L475.1,133.2 L475.2,136.2 L475.4,139.1 L475.6,142 L475.8,145 L476.1,147.9 L476.4,150.8 L477,153.7 L478.4,156.1 L481,157.4M488.1,34.2L490.4,51M485.2,41.5L488.9,57.3M482.1,50L487.2,64.6M479.7,57.4L485.8,71M477.3,66.1L484.4,78.3M475.4,73.7L483.1,84.7M473.8,82.6L481.1,91.9M472.9,90.4L479.4,98.1M472,99.3L478.2,105.5M471.3,107.2L477.4,111.9M470.7,115L476.8,118.4M470.4,124L476.5,125.9M470.5,131.8L476.6,132.4M470.8,140.8L477.1,139.8M471.1,148.7L477.6,146.3M472.4,157.4L479,153.6M479.6,160L484,157" fill="none" stroke="#555" stroke-width="0.45" stroke-opacity="0.7"/>
<path d="M488.1,34.2 487.3,36.3 486.5,38.4 485.6,40.5 484.8,42.6 484,44.7 483.2,46.8 482.5,48.9 481.8,51 481.1,53.2 480.4,55.3 479.7,57.4 479.1,59.6 478.5,61.8 477.9,63.9 477.3,66.1 476.7,68.3 476.2,70.4 475.7,72.6 475.2,74.8 474.8,77 474.4,79.2 474,81.5 473.7,83.7 473.4,85.9 473.1,88.1 472.9,90.4 472.6,92.6 472.4,94.8 472.2,97.1 472,99.3 471.7,101.6 471.5,103.8 471.4,106 471.2,108.3 471,110.5 470.9,112.8 470.7,115 470.6,117.2 470.5,119.5 470.4,121.7 470.4,124 470.4,126.2 470.4,128.5 470.4,130.7 470.5,133 470.6,135.2 470.6,137.5 470.7,139.7 470.9,141.9 471,144.2 471,146.4 471.1,148.7 471.1,150.9 471.1,153.2 471.4,155.4 472.4,157.4 474.2,158.7 476.3,159.3 478.5,159.7 M490.4,51 490,52.8 489.6,54.6 489.1,56.4 488.7,58.3 488.3,60.1 487.9,61.9 487.4,63.7 487,65.5 486.6,67.3 486.2,69.2 485.8,71 485.4,72.8 485.1,74.6 484.7,76.4 484.4,78.3 484,80.1 483.7,81.9 483.3,83.8 482.9,85.6 482.5,87.4 482,89.2 481.4,91 480.8,92.7 480.3,94.5 479.8,96.3 479.4,98.1 479,100 478.7,101.8 478.4,103.6 478.2,105.5 477.9,107.3 477.7,109.2 477.5,111 477.3,112.9 477.1,114.7 476.9,116.6 476.8,118.4 476.6,120.3 476.5,122.2 476.5,124 476.5,125.9 476.5,127.7 476.5,129.6 476.6,131.5 476.6,133.3 476.7,135.2 476.9,137 477,138.9 477.1,140.8 477.3,142.6 477.5,144.5 477.6,146.3 477.9,148.2 478.1,150 478.5,151.8 479,153.6 479.8,155.3 481.3,156.4 483.1,156.8" fill="none" stroke="#555" stroke-width="0.5" stroke-opacity="0.85"/>
<polygon points="481,100 481.9,95.5 483.1,88.9 484.6,81.3 486.2,73.6 487.7,66.8 489,62 490.1,59.2 491,57.6 491.9,57 492.8,56.9 493.8,57.2 495,57.3 496.4,57.5 498,58 499.8,58.7 501.5,59.7 503.3,60.8 505,62 506.7,63.4 508.3,65 510,66.8 511.7,68.6 513.3,70.4 515,72 516.7,73.4 518.3,74.8 520,76.1 521.7,77.4 523.3,78.7 525,80 526.6,81.3 528.2,82.6 529.8,83.9 531.4,85.3 533.2,86.6 535,88 537,89.5 539.3,91.1 541.6,92.8 543.9,94.4 546,95.8 548,97 549.6,97.8 550.9,98.1 552.1,98.4 553.3,98.6 554.9,99.1 557,100 559.2,101.5 561.3,103.3 563.8,105.5 566.9,107.6 571.2,109.5 577.2,111 586.3,112 598.4,112.8 611.8,113.3 624.4,113.7 634.4,114.1 639.8,114.6 639.9,115.1 636.1,115.7 629.6,116.2 621.8,116.7 614.1,117.2 607.7,117.7 602.4,118.3 596.9,118.9 591.5,119.5 586.3,120.1 581.5,120.6 577.2,121 573.5,121.4 570.2,121.7 567.3,122 564.7,122.1 562.4,122.2 560.3,122 558.7,121.6 557.5,121 556.7,120.3 555.9,119.4 554.9,118.6 553.5,117.7 551.7,116.9 549.7,116.1 547.6,115.3 545.2,114.4 542.7,113.3 540,112 537,110.3 533.6,108.4 530.1,106.3 526.5,104.1 523.1,102 520,100 517.2,98.1 514.6,96.2 512.2,94.4 509.8,92.7 507.4,91.2 505,90 502.4,89 499.7,88.2 496.9,87.6 494.3,87.3 492,87.4 490,88 488.4,89.3 487.1,91.4 486.1,93.9 485.2,96.4 484.5,98.5 484,100" fill="#f5f5d8" fill-opacity="1" stroke="#666" stroke-width="0.5" stroke-opacity="0.8"/>
<polygon points="546.8,100.8 547.5,101.2 548.2,101.6 548.9,102 549.6,102.4 550.3,102.8 551,103.1 551.7,103.5 552.4,103.9 553.1,104.2 553.8,104.6 554.6,104.9 555.3,105.2 556.1,105.4 556.8,105.7 557.6,106 558.3,106.2 559.1,106.5 559.8,106.7 560.6,107 561.4,107.2 562.1,107.5 562.9,107.7 563.7,107.9 564.4,108.1 565.2,108.4 566,108.6 566.7,108.8 567.5,109 568.3,109.2 569,109.4 569.8,109.6 570.6,109.7 571.4,109.9 572.2,110.1 572.9,110.2 573.7,110.4 574.5,110.5 575.3,110.7 576.1,110.8 576.9,110.9 577.7,111.1 578.4,111.2 579.2,111.3 580,111.4 580.8,111.5 581.6,111.6 582.4,111.6 583.2,111.7 584,111.8 584.8,111.8 585.6,111.9 586.4,112 587.2,112 588,112.1 588.8,112.1 589.6,112.2 590.4,112.2 591.2,112.3 592,112.3 592.8,112.4 593.6,112.4 594.4,112.5 595.2,112.5 595.9,112.5 596.7,112.6 597.5,112.6 598.3,112.7 599.1,112.7 599.9,112.7 600.7,112.8 601.5,112.8 602.3,112.9 603.1,112.9 603.9,112.9 604.7,113 605.5,113 606.3,113.1 607.1,113.1 607.9,113.2 608.7,113.2 609.5,113.2 610.3,113.3 611.1,113.3 611.9,113.4 612.7,113.4 613.5,113.4 614.3,113.5 615.1,113.5 615.9,113.6 616.7,113.6 617.5,113.6 618.3,113.7 619.1,113.7 619.9,113.7 620.7,113.8 621.5,113.8 622.3,113.8 623.1,113.9 623.9,113.9 624.6,113.9 625.4,114 626.2,114 627,114.1 627.8,114.1 628.6,114.1 629.4,114.2 630.2,114.2 631,114.2 631.8,114.3 632.6,114.3 633.4,114.3 634.2,114.4 635,114.4 635.8,114.4 636.6,114.5 637.4,114.5 638.2,114.5 639,114.6 639.8,114.6 639.8,115 639.1,115.1 638.3,115.1 637.6,115.2 636.8,115.2 636.1,115.3 635.4,115.4 634.6,115.4 633.9,115.5 633.2,115.5 632.4,115.6 631.7,115.7 630.9,115.7 630.2,115.8 629.5,115.8 628.7,115.9 628,116 627.3,116 626.5,116.1 625.8,116.1 625,116.2 624.3,116.3 623.6,116.3 622.8,116.4 622.1,116.4 621.4,116.5 620.6,116.6 619.9,116.6 619.1,116.7 618.4,116.7 617.7,116.8 616.9,116.9 616.2,116.9 615.5,117 614.7,117.1 614,117.1 613.2,117.2 612.5,117.3 611.8,117.3 611,117.4 610.3,117.5 609.6,117.5 608.8,117.6 608.1,117.7 607.4,117.7 606.6,117.8 605.9,117.9 605.1,118 604.4,118 603.7,118.1 602.9,118.2 602.2,118.3 601.5,118.3 600.7,118.4 600,118.5 599.3,118.6 598.5,118.7 597.8,118.7 597.1,118.8 596.3,118.9 595.6,119 594.8,119.1 594.1,119.2 593.4,119.2 592.6,119.3 591.9,119.4 591.2,119.5 590.4,119.6 589.7,119.7 589,119.7 588.2,119.8 587.5,119.9 586.8,120 586,120.1 585.3,120.2 584.6,120.2 583.8,120.3 583.1,120.4 582.3,120.5 581.6,120.6 580.9,120.6 580.1,120.7 579.4,120.8 578.7,120.9 577.9,120.9 577.2,121 576.5,121.1 575.7,121.1 575,121.2 574.2,121.3 573.5,121.4 572.8,121.4 572,121.5 571.3,121.6 570.6,121.7 569.8,121.7 569.1,121.8 568.4,121.9 567.6,121.9 566.9,122 566.1,122 565.4,122.1 564.7,122.1 563.9,122.2 563.2,122.2 562.4,122.2 561.7,122.1 561,122.1 560.2,122 559.5,121.8 558.8,121.6 558.1,121.3 557.5,121 556.8,120.6 556.2,120.2 555.7,119.7 555.1,119.2 554.6,118.7 554.1,118.2 553.5,117.7" fill="#e6e6c0" fill-opacity="1" stroke="none"/>
<path d="M548.5,105 L550.4,106.3 L552.4,107.5 L554.5,108.6 L556.7,109.4 L559,110 L561.2,110.6 L563.5,111.1 L565.8,111.5 L568.1,112 L570.3,112.3 L572.6,112.7 L575,113 L577.3,113.3 L579.6,113.5 L581.9,113.6 L584.3,113.8 L586.6,113.9 L589,113.9 L591.3,114 L593.6,114 L596,114 L598.3,114.1 L600.7,114.1 L603,114.1 L605.4,114.2 L607.7,114.2 L610.1,114.3 L612.4,114.3 L614.8,114.3 L617.1,114.4 L619.5,114.4 L621.8,114.4 L624.2,114.5 L626.5,114.5 L628.8,114.5 L631.2,114.6 L633.5,114.6 L635.9,114.6 L638.2,114.7M550.1,109.2 L552,110.6 L553.9,111.9 L556,112.9 L558.1,113.6 L560.4,114.1 L562.6,114.4 L564.9,114.7 L567.1,114.9 L569.4,115.1 L571.6,115.3 L573.9,115.5 L576.2,115.6 L578.5,115.7 L580.8,115.8 L583.1,115.8 L585.3,115.8 L587.6,115.8 L589.9,115.7 L592.2,115.7 L594.5,115.6 L596.8,115.6 L599.1,115.5 L601.4,115.5 L603.7,115.4 L606,115.4 L608.3,115.3 L610.6,115.3 L612.9,115.2 L615.2,115.2 L617.5,115.2 L619.8,115.1 L622.1,115.1 L624.4,115.1 L626.8,115 L629.1,115 L631.4,114.9 L633.7,114.9 L636,114.9 L638.3,114.8M551.8,113.5 L553.6,114.9 L555.4,116.3 L557.4,117.3 L559.6,117.8 L561.8,118.1 L564,118.3 L566.2,118.3 L568.5,118.3 L570.7,118.3 L572.9,118.3 L575.2,118.3 L577.4,118.2 L579.7,118.2 L581.9,118.1 L584.2,118 L586.4,117.9 L588.7,117.7 L590.9,117.6 L593.2,117.4 L595.4,117.3 L597.7,117.1 L599.9,117 L602.2,116.8 L604.4,116.7 L606.7,116.5 L609,116.4 L611.2,116.3 L613.5,116.2 L615.7,116.1 L618,116 L620.2,115.8 L622.5,115.7 L624.7,115.6 L627,115.5 L629.3,115.4 L631.5,115.3 L633.8,115.2 L636,115.1 L638.3,115M546.8,100.8L553.5,117.7M551.7,103.5L557.5,121M556.1,105.4L561.7,122.1M561.4,107.2L566.9,122M566,108.6L571.3,121.6M571.4,109.9L576.5,121.1M576.9,110.9L581.6,120.6M581.6,111.6L586,120.1M587.2,112L591.2,119.5M592.8,112.4L596.3,118.9M597.5,112.6L600.7,118.4M603.1,112.9L605.9,117.9M607.9,113.2L610.3,117.5M613.5,113.4L615.5,117M619.1,113.7L620.6,116.6M623.9,113.9L625,116.2M629.4,114.2L630.2,115.8M634.2,114.4L634.6,115.4M639.8,114.6L639.8,115" fill="none" stroke="#444" stroke-width="0.4" stroke-opacity="0.65"/>
<path d="M546.8,100.8 548.2,101.6 549.6,102.4 551,103.1 552.4,103.9 553.8,104.6 555.3,105.2 556.8,105.7 558.3,106.2 559.8,106.7 561.4,107.2 562.9,107.7 564.4,108.1 566,108.6 567.5,109 569,109.4 570.6,109.7 572.2,110.1 573.7,110.4 575.3,110.7 576.9,110.9 578.4,111.2 580,111.4 581.6,111.6 583.2,111.7 584.8,111.8 586.4,112 588,112.1 589.6,112.2 591.2,112.3 592.8,112.4 594.4,112.5 595.9,112.5 597.5,112.6 599.1,112.7 600.7,112.8 602.3,112.9 603.9,112.9 605.5,113 607.1,113.1 608.7,113.2 610.3,113.3 611.9,113.4 613.5,113.4 615.1,113.5 616.7,113.6 618.3,113.7 619.9,113.7 621.5,113.8 623.1,113.9 624.6,113.9 626.2,114 627.8,114.1 629.4,114.2 631,114.2 632.6,114.3 634.2,114.4 635.8,114.4 637.4,114.5 639,114.6 M553.5,117.7 554.6,118.7 555.7,119.7 556.8,120.6 558.1,121.3 559.5,121.8 561,122.1 562.4,122.2 563.9,122.2 565.4,122.1 566.9,122 568.4,121.9 569.8,121.7 571.3,121.6 572.8,121.4 574.2,121.3 575.7,121.1 577.2,121 578.7,120.9 580.1,120.7 581.6,120.6 583.1,120.4 584.6,120.2 586,120.1 587.5,119.9 589,119.7 590.4,119.6 591.9,119.4 593.4,119.2 594.8,119.1 596.3,118.9 597.8,118.7 599.3,118.6 600.7,118.4 602.2,118.3 603.7,118.1 605.1,118 606.6,117.8 608.1,117.7 609.6,117.5 611,117.4 612.5,117.3 614,117.1 615.5,117 616.9,116.9 618.4,116.7 619.9,116.6 621.4,116.5 622.8,116.4 624.3,116.3 625.8,116.1 627.3,116 628.7,115.9 630.2,115.8 631.7,115.7 633.2,115.5 634.6,115.4 636.1,115.3 637.6,115.2 639.1,115.1" fill="none" stroke="#444" stroke-width="0.5" stroke-opacity="0.8"/>
<polygon points="488.5,85 488.9,84.6 489.4,84 490.1,83.2 490.9,82.5 491.8,81.9 493,81.5 494.4,81.3 496.1,81.2 497.9,81.2 499.9,81.3 501.8,81.4 503.8,81.5 505.7,81.5 507.8,81.6 509.8,81.6 511.9,81.7 513.9,81.9 516,82.3 518.1,82.8 520.3,83.5 522.4,84.3 524.6,85.2 526.6,86.1 528.5,87 530.2,87.9 531.9,88.9 533.4,89.9 534.9,90.9 536.3,92 537.7,93 539.1,94 540.4,94.9 541.6,95.9 542.9,96.9 544.1,98 545.4,99.2 546.7,100.6 548,102.1 549.3,103.7 550.6,105.3 551.9,106.9 553,108.5 554.2,110.1 555.4,111.7 556.6,113.4 557.6,115 558.2,116.4 558.5,117.7 558.3,118.7 557.6,119.6 556.7,120.3 555.5,120.9 554.3,121.6 553,122.3 551.7,123.1 550.3,123.9 548.8,124.7 547.2,125.4 545.6,126.2 543.8,127 542,127.8 540,128.6 538,129.4 536,130.2 533.8,130.9 531.5,131.5 529.1,132 526.6,132.3 523.9,132.6 521.3,132.8 518.6,133 516,133 513.4,132.9 510.8,132.8 508.2,132.5 505.6,132.2 503.2,131.9 500.8,131.5 498.5,131.1 496.2,130.7 493.9,130.2 491.9,129.7 490,129.1 488.5,128.5 487.3,127.9 486.5,127.2 485.9,126.4 485.4,125.7 485,124.8 484.6,123.8 484.2,122.8 483.8,121.7 483.5,120.6 483.2,119.3 483.1,117.8 483,116 483.1,113.7 483.4,110.9 483.7,107.9 484.1,105 484.4,102.5 484.6,100.8" fill="#e41e1e" fill-opacity="1" stroke="#6a1010" stroke-width="0.4" stroke-opacity="0.8"/>
<polygon points="503.8,81.5 505.1,81.5 507,81.6 509.1,81.6 511.5,81.7 513.8,81.9 516,82.3 518.1,82.8 520.3,83.5 522.4,84.3 524.6,85.2 526.6,86.1 528.5,87 530.2,87.9 531.9,88.9 533.4,89.9 534.9,90.9 536.3,92 537.7,93 539.1,94 540.4,94.9 541.6,95.9 542.9,96.9 544.1,98 545.4,99.2 546.7,100.6 548,102.1 549.3,103.7 550.6,105.3 551.9,106.9 553,108.5 554.2,110.1 555.4,111.8 556.6,113.5 557.6,115.1 558.2,116.5 558.5,117.7 558.3,118.6 557.8,119.4 557,119.9 555.9,120.3 554.5,120.6 553,120.8 551.2,120.9 549,120.8 546.6,120.6 544.1,120.2 541.5,119.8 539,119.2 536.5,118.5 533.9,117.7 531.2,116.8 528.6,115.7 526.1,114.4 523.8,113 521.7,111.3 519.7,109.4 517.9,107.3 516.2,105.1 514.5,102.9 513,100.8 511.5,98.6 510.1,96.1 508.8,93.6 507.7,91.3 506.7,89.4 506,88" fill="#e8641f" fill-opacity="1" stroke="none" stroke-width="0.5" stroke-opacity="1.0"/>
<polygon points="485.8,124 487.3,124.3 489.3,124.9 491.7,125.4 494.3,126 497.1,126.6 500,127 503,127.3 506.2,127.7 509.6,127.9 513,128.1 516.5,128.1 520,128 523.5,127.6 527.2,127 531,126.2 534.6,125.4 538,124.7 541,124 543.7,123.4 546.3,122.7 548.6,122.1 550.6,121.6 552.2,121.2 553.5,121 554.4,121 554.9,121.1 555.1,121.4 554.9,121.8 554.4,122.4 553.5,123 552.2,123.8 550.5,124.8 548.4,126 546.1,127.2 543.7,128.3 541.2,129.2 538.6,130 535.8,130.7 532.9,131.4 529.9,132 527,132.5 524.2,133 521.5,133.4 518.9,133.8 516.4,134.2 513.9,134.4 511.3,134.6 508.8,134.6 506.2,134.5 503.4,134.2 500.7,133.8 498,133.4 495.6,132.9 493.5,132.3 491.7,131.6 490.1,130.8 488.7,129.9 487.5,129 486.5,128.2 485.8,127.7" fill="#c81818" fill-opacity="1" stroke="none" stroke-width="0.5" stroke-opacity="1.0"/>
<path d="M495,82 L494,130M503,82 L503,133M511,86 L512,134M519,88 L521,133M528,91 L530,131M537,94 L539,129M546,96 L548,126M486,125 L487.5,125.1 L489.4,125.3 L491.8,125.4 L494.4,125.6 L497.2,125.8 L500,126 L502.9,126.2 L506,126.5 L509.3,126.8 L512.7,127 L516.3,127.1 L520,127 L524.2,126.6 L528.9,125.9 L533.8,125.1 L538.3,124.2 L542.2,123.5 L545,123M506,88 L507.5,89.1 L509.4,90.5 L511.8,92.2 L514.4,94.1 L517.2,96.1 L520,98 L523,100 L526.4,102.2 L529.9,104.5 L533.5,106.7 L536.9,108.6 L540,110 L543,110.9 L545.9,111.5 L548.8,111.8 L551.3,111.9 L553.4,111.9 L555,112M510,84 L511.6,85.4 L513.7,87.3 L516.2,89.6 L519.1,92 L522,94.6 L525,97 L528.3,99.6 L532,102.4 L535.9,105.3 L539.6,108 L542.8,110.3 L545,112M518,84 L519.5,85.2 L521.5,86.8 L523.9,88.7 L526.5,90.8 L529.3,92.9 L532,95 L535,97.2 L538.4,99.7 L541.9,102.2 L545.2,104.6 L548,106.6 L550,108M526,86 L527.5,87.1 L529.6,88.7 L532.1,90.5 L534.8,92.4 L537.5,94.3 L540,96 L542.5,97.5 L545.2,99.1 L547.9,100.6 L550.4,102 L552.5,103.2 L554,104M514,92 L515.7,93.6 L518.1,95.7 L520.9,98.3 L523.9,101 L527,103.7 L530,106 L533.1,108.1 L536.5,110.3 L540,112.4 L543.3,114.3 L546,115.8 L548,117M508,96 L509.7,97.6 L512.1,99.9 L515,102.5 L518.1,105.3 L521.1,107.9 L524,110 L526.9,111.8 L529.9,113.4 L533,114.9 L535.9,116.1 L538.3,117.2 L540,118" fill="none" stroke="#5a1010" stroke-width="0.45" stroke-opacity="0.6"/>
<polygon points="488.1,34.2 489.5,34.6 491,35.1 492.4,35.5 493.8,36 495.2,36.6 496.5,37.4 497.7,38.2 498.9,39.1 500.1,39.9 501.4,40.6 502.8,41.3 504.1,42 505.5,42.6 506.9,43.1 508.3,43.5 509.8,43.9 511.2,44.3 512.7,44.7 514.1,45.2 515.5,45.7 516.9,46.3 518.3,46.8 519.6,47.4 521,48 522.4,48.6 523.7,49.3 525,50.1 526.2,50.9 527.5,51.7 528.7,52.6 529.9,53.4 531.1,54.3 532.3,55.2 533.5,56.1 534.7,57.1 535.9,58 537.1,58.9 538.2,59.8 539.4,60.7 540.6,61.6 541.7,62.6 542.8,63.6 544,64.6 545.1,65.5 546.2,66.5 547.3,67.5 548.4,68.6 549.3,69.7 550.2,71 551,72.2 551.7,73.6 552.3,74.9 552.9,76.3 553.4,77.7 554,79.1 554.5,80.5 555.1,81.9 555.7,83.2 556.5,84.5 557.2,85.8 558.1,87 559,88.2 560,89.3 561.1,90.4 562.2,91.4 563.3,92.4 564.5,93.3 565.7,94.2 566.8,95.1 568,96 569.2,96.9 570.5,97.8 571.8,98.5 573.1,99.2 574.4,99.8 575.8,100.3 577.3,100.8 578.7,101.2 580.2,101.6 581.6,101.9 583.1,102.1 584.6,102.4 586,102.6 587.5,102.8 589,102.9 590.5,103.1 592,103.2 593.5,103.4 595,103.5 596.5,103.6 598,103.7 599.4,103.8 600.9,103.9 602.4,104 603.9,104 605.4,104.1 606.9,104.2 608.4,104.2 609.9,104.3 611.4,104.3 612.9,104.4 614.4,104.4 615.9,104.5 617.4,104.5 618.9,104.5 620.4,104.6 621.9,104.6 623.4,104.6 624.8,104.7 626.3,104.7 627.8,104.7 629.3,104.8 630.8,104.8 632.3,104.8 633.8,104.9 635.3,104.9 636.8,104.9 638.3,105 639.8,105 639.8,105.2 638.4,105.2 637,105.2 635.6,105.1 634.1,105.1 632.7,105.1 631.3,105.1 629.9,105.1 628.5,105.1 627.1,105.1 625.7,105 624.3,105 622.8,105 621.4,105 620,105 618.6,105 617.2,104.9 615.8,104.9 614.4,104.9 612.9,104.9 611.5,104.8 610.1,104.8 608.7,104.8 607.3,104.8 605.9,104.7 604.5,104.7 603.1,104.6 601.6,104.6 600.2,104.6 598.8,104.5 597.4,104.5 596,104.4 594.6,104.4 593.2,104.3 591.8,104.2 590.3,104.2 588.9,104.1 587.5,104 586.1,104 584.7,103.9 583.3,103.8 581.9,103.8 580.5,103.7 579.1,103.6 577.6,103.5 576.2,103.4 574.8,103.3 573.4,103.2 572,103.1 570.6,103 569.2,102.9 567.8,102.7 566.4,102.6 565,102.5 563.6,102.3 562.2,102.2 560.7,102.1 559.3,102 557.9,101.9 556.5,101.8 555.1,101.8 553.7,101.7 552.3,101.7 550.9,101.5 549.5,101.4 548.1,101.1 546.7,100.9 545.3,100.5 543.9,100.2 542.6,99.9 541.2,99.5 539.9,99.1 538.5,98.6 537.2,98.2 535.9,97.7 534.5,97.1 533.3,96.6 532,96 530.7,95.3 529.5,94.7 528.2,94 527,93.3 525.8,92.5 524.6,91.8 523.4,91 522.3,90.2 521.1,89.4 519.9,88.6 518.8,87.7 517.7,86.9 516.6,86 515.4,85.2 514.3,84.3 513.2,83.4 512.2,82.5 511.1,81.6 510,80.7 508.9,79.7 507.9,78.8 506.8,77.8 505.8,76.9 504.8,75.9 503.8,74.9 502.8,73.9 501.8,72.9 500.9,71.8 499.9,70.8 499,69.7 498.1,68.6 497.3,67.5 496.4,66.3 495.6,65.2 494.7,64.1 493.9,62.9 493.1,61.8 492.3,60.6 491.4,59.5 490.6,58.3 489.8,57.1 489,56" fill="#d8d8d8" fill-opacity="0.35" stroke="none"/>
<path d="M488.4,41.5 L492.1,43.5 L495.6,45.9 L498.9,48.7 L502.4,51.2 L506.2,53.3 L510,55.1 L513.9,57.1 L517.7,59.2 L521.4,61.5 L525,64 L528.6,66.6 L532.1,69.2 L535.7,71.8 L539.2,74.4 L542.8,76.9 L546.2,79.5 L549.1,82.4 L551.6,85.5 L554.2,88.5 L557,91.1 L560.3,93.6 L563.9,95.7 L567.6,97.7 L571.4,99.6 L575.5,101.1 L579.8,102 L584.1,102.8 L588.5,103.2 L592.9,103.6 L597.2,103.9 L601.6,104.1 L606,104.3 L610.4,104.5 L614.8,104.6 L619.3,104.7 L623.7,104.8 L628.1,104.9 L632.5,104.9 L636.9,105M488.7,48.7 L491.8,51.5 L494.7,54.4 L497.6,57.5 L500.7,60.4 L504,63.1 L507.4,65.5 L510.9,67.9 L514.4,70.4 L517.9,72.9 L521.4,75.4 L524.8,78 L528.4,80.5 L532,82.9 L535.6,85.2 L539.3,87.3 L543,89.3 L546.5,91.3 L549.9,93.3 L553.2,95.1 L556.8,96.5 L560.5,97.8 L564.4,99.1 L568.4,100.3 L572.4,101.4 L576.6,102.3 L580.8,102.9 L585.1,103.4 L589.4,103.7 L593.7,104 L598,104.2 L602.4,104.4 L606.7,104.5 L611,104.7 L615.3,104.7 L619.6,104.8 L624,104.9 L628.3,105 L632.6,105 L636.9,105.1M488.1,34.2L500.9,71.8M493.8,36L504.8,75.9M498.9,39.1L508.9,79.7M504.1,42L513.2,83.4M509.8,43.9L517.7,86.9M515.5,45.7L522.3,90.2M521,48L527,93.3M526.2,50.9L532,96M531.1,54.3L537.2,98.2M535.9,58L542.6,99.9M540.6,61.6L548.1,101.1M545.1,65.5L553.7,101.7M549.3,69.7L559.3,102M552.3,74.9L565,102.5M554.5,80.5L570.6,103M557.2,85.8L576.2,103.4M560,89.3L580.5,103.7M564.5,93.3L586.1,104M569.2,96.9L591.8,104.2M574.4,99.8L597.4,104.5M580.2,101.6L603.1,104.6M586,102.6L608.7,104.8M592,103.2L614.4,104.9M598,103.7L620,105M603.9,104L625.7,105M609.9,104.3L631.3,105.1M615.9,104.5L637,105.2M621.9,104.6L639.8,105.2M627.8,104.7L639.8,105.2M633.8,104.9L639.8,105.2M639.8,105L639.8,105.2" fill="none" stroke="#333" stroke-width="0.45" stroke-opacity="0.75"/>
<path d="M488.1,34.2 491,35.1 493.8,36 496.5,37.4 498.9,39.1 501.4,40.6 504.1,42 506.9,43.1 509.8,43.9 512.7,44.7 515.5,45.7 518.3,46.8 521,48 523.7,49.3 526.2,50.9 528.7,52.6 531.1,54.3 533.5,56.1 535.9,58 538.2,59.8 540.6,61.6 542.8,63.6 545.1,65.5 547.3,67.5 549.3,69.7 551,72.2 552.3,74.9 553.4,77.7 554.5,80.5 555.7,83.2 557.2,85.8 559,88.2 561.1,90.4 563.3,92.4 565.7,94.2 568,96 570.5,97.8 573.1,99.2 575.8,100.3 578.7,101.2 581.6,101.9 584.6,102.4 587.5,102.8 590.5,103.1 593.5,103.4 596.5,103.6 599.4,103.8 602.4,104 605.4,104.1 608.4,104.2 611.4,104.3 614.4,104.4 617.4,104.5 620.4,104.6 623.4,104.6 626.3,104.7 629.3,104.8 632.3,104.8 635.3,104.9 638.3,105 M489,56 490.6,58.3 492.3,60.6 493.9,62.9 495.6,65.2 497.3,67.5 499,69.7 500.9,71.8 502.8,73.9 504.8,75.9 506.8,77.8 508.9,79.7 511.1,81.6 513.2,83.4 515.4,85.2 517.7,86.9 519.9,88.6 522.3,90.2 524.6,91.8 527,93.3 529.5,94.7 532,96 534.5,97.1 537.2,98.2 539.9,99.1 542.6,99.9 545.3,100.5 548.1,101.1 550.9,101.5 553.7,101.7 556.5,101.8 559.3,102 562.2,102.2 565,102.5 567.8,102.7 570.6,103 573.4,103.2 576.2,103.4 579.1,103.6 581.9,103.8 584.7,103.9 587.5,104 590.3,104.2 593.2,104.3 596,104.4 598.8,104.5 601.6,104.6 604.5,104.7 607.3,104.8 610.1,104.8 612.9,104.9 615.8,104.9 618.6,105 621.4,105 624.3,105 627.1,105.1 629.9,105.1 632.7,105.1 635.6,105.1 638.4,105.2" fill="none" stroke="#333" stroke-width="0.5" stroke-opacity="0.9"/>
<polygon points="565.4,94 565.9,94.4 566.5,94.7 567,95.1 567.5,95.5 568,95.9 568.5,96.2 569.1,96.6 569.6,97 570.1,97.3 570.7,97.7 571.2,98 571.8,98.4 572.3,98.7 572.9,99 573.5,99.3 574,99.6 574.6,99.8 575.2,100.1 575.8,100.3 576.4,100.5 577,100.7 577.6,100.9 578.3,101.1 578.9,101.2 579.5,101.4 580.1,101.6 580.8,101.7 581.4,101.8 582,101.9 582.7,102.1 583.3,102.2 583.9,102.3 584.6,102.4 585.2,102.5 585.8,102.6 586.5,102.7 587.1,102.7 587.8,102.8 588.4,102.9 589,103 589.7,103 590.3,103.1 591,103.1 591.6,103.2 592.2,103.3 592.9,103.3 593.5,103.4 594.2,103.4 594.8,103.5 595.4,103.5 596.1,103.6 596.7,103.6 597.4,103.7 598,103.7 598.6,103.8 599.3,103.8 599.9,103.8 600.6,103.9 601.2,103.9 601.9,103.9 602.5,104 603.1,104 603.8,104 604.4,104.1 605.1,104.1 605.7,104.1 606.4,104.2 607,104.2 607.6,104.2 608.3,104.2 608.9,104.2 609.6,104.3 610.2,104.3 610.9,104.3 611.5,104.3 612.1,104.4 612.8,104.4 613.4,104.4 614.1,104.4 614.7,104.4 615.4,104.4 616,104.5 616.6,104.5 617.3,104.5 617.9,104.5 618.6,104.5 619.2,104.5 619.9,104.6 620.5,104.6 621.1,104.6 621.8,104.6 622.4,104.6 623.1,104.6 623.7,104.6 624.4,104.7 625,104.7 625.6,104.7 626.3,104.7 626.9,104.7 627.6,104.7 628.2,104.7 628.9,104.8 629.5,104.8 630.2,104.8 630.8,104.8 631.4,104.8 632.1,104.8 632.7,104.8 633.4,104.9 634,104.9 634.7,104.9 635.3,104.9 635.9,104.9 636.6,104.9 637.2,104.9 637.9,105 638.5,105 639.2,105 639.8,105 639.8,105.2 639.2,105.2 638.5,105.2 637.9,105.2 637.3,105.2 636.6,105.2 636,105.2 635.4,105.1 634.8,105.1 634.1,105.1 633.5,105.1 632.9,105.1 632.2,105.1 631.6,105.1 631,105.1 630.3,105.1 629.7,105.1 629.1,105.1 628.4,105.1 627.8,105.1 627.2,105.1 626.5,105.1 625.9,105 625.3,105 624.7,105 624,105 623.4,105 622.8,105 622.1,105 621.5,105 620.9,105 620.2,105 619.6,105 619,105 618.3,104.9 617.7,104.9 617.1,104.9 616.4,104.9 615.8,104.9 615.2,104.9 614.6,104.9 613.9,104.9 613.3,104.9 612.7,104.9 612,104.8 611.4,104.8 610.8,104.8 610.1,104.8 609.5,104.8 608.9,104.8 608.2,104.8 607.6,104.8 607,104.7 606.4,104.7 605.7,104.7 605.1,104.7 604.5,104.7 603.8,104.7 603.2,104.7 602.6,104.6 601.9,104.6 601.3,104.6 600.7,104.6 600,104.6 599.4,104.5 598.8,104.5 598.2,104.5 597.5,104.5 596.9,104.5 596.3,104.4 595.6,104.4 595,104.4 594.4,104.4 593.7,104.4 593.1,104.3 592.5,104.3 591.8,104.3 591.2,104.3 590.6,104.3 589.9,104.2 589.3,104.2 588.7,104.2 588.1,104.2 587.4,104.1 586.8,104.1 586.2,104.1 585.5,104 584.9,104 584.3,104 583.6,103.9 583,103.9 582.4,103.9 581.8,103.8 581.1,103.8 580.5,103.8 579.9,103.7 579.2,103.7 578.6,103.6 578,103.6 577.3,103.5 576.7,103.4 576.1,103.4 575.5,103.3 574.8,103.2 574.2,103.1 573.6,103 573,102.9 572.3,102.8 571.7,102.7 571.1,102.6 570.5,102.4 569.9,102.3 569.3,102.1 568.7,102 568,101.8 567.4,101.7 566.8,101.5 566.2,101.3 565.6,101.2 565,101" fill="#d0d0d0" fill-opacity="0.5" stroke="none"/>
<path d="M565.3,95.8 L566.9,96.7 L568.6,97.7 L570.2,98.6 L571.9,99.5 L573.7,100.2 L575.4,100.9 L577.3,101.4 L579.1,101.9 L581,102.2 L582.9,102.5 L584.8,102.8 L586.7,103 L588.6,103.2 L590.5,103.4 L592.5,103.5 L594.4,103.7 L596.3,103.8 L598.2,103.9 L600.1,104 L602,104.1 L604,104.2 L605.9,104.3 L607.8,104.3 L609.7,104.4 L611.6,104.5 L613.6,104.5 L615.5,104.6 L617.4,104.6 L619.3,104.6 L621.2,104.7 L623.2,104.7 L625.1,104.8 L627,104.8 L628.9,104.8 L630.8,104.9 L632.8,104.9 L634.7,104.9 L636.6,105 L638.5,105M565.2,97.5 L566.9,98.3 L568.6,99.1 L570.3,99.9 L572.1,100.6 L573.8,101.2 L575.7,101.7 L577.5,102.1 L579.4,102.5 L581.3,102.8 L583.2,103 L585.1,103.2 L587,103.4 L588.9,103.5 L590.8,103.7 L592.7,103.8 L594.6,103.9 L596.5,104 L598.4,104.1 L600.3,104.2 L602.2,104.3 L604.1,104.4 L606,104.4 L607.9,104.5 L609.9,104.5 L611.8,104.6 L613.7,104.6 L615.6,104.7 L617.5,104.7 L619.4,104.8 L621.3,104.8 L623.2,104.8 L625.1,104.9 L627.1,104.9 L629,104.9 L630.9,105 L632.8,105 L634.7,105 L636.6,105 L638.5,105.1M565.1,99.2 L566.9,99.9 L568.6,100.5 L570.4,101.2 L572.2,101.7 L574,102.2 L575.9,102.5 L577.7,102.9 L579.6,103.1 L581.5,103.3 L583.4,103.5 L585.3,103.6 L587.2,103.8 L589.1,103.9 L591,104 L592.9,104.1 L594.8,104.2 L596.7,104.2 L598.6,104.3 L600.5,104.4 L602.4,104.5 L604.3,104.5 L606.2,104.6 L608.1,104.6 L610,104.7 L611.9,104.7 L613.8,104.8 L615.7,104.8 L617.6,104.8 L619.5,104.9 L621.4,104.9 L623.3,104.9 L625.2,104.9 L627.1,105 L629,105 L630.9,105 L632.8,105.1 L634.7,105.1 L636.6,105.1 L638.5,105.1M569.6,97L569.9,102.3M574.6,99.8L575.5,103.3M580.1,101.6L581.1,103.8M585.2,102.5L586.2,104.1M590.3,103.1L591.2,104.3M596.1,103.6L596.9,104.5M601.9,103.9L602.6,104.6M607,104.2L607.6,104.8M612.1,104.4L612.7,104.9M617.9,104.5L618.3,104.9M623.7,104.6L624,105M628.9,104.8L629.1,105.1M634,104.9L634.1,105.1M639.8,105L639.8,105.2" fill="none" stroke="#222" stroke-width="0.45" stroke-opacity="0.75"/>
<path d="M458,30.2 457.4,169.8M457.4,167.3h1.5M457.4,158.7h1.5M457.4,150.1h2.6M457.4,141.5h1.5M457.4,132.9h1.5M457.4,124.4h1.5M457.4,115.8h1.5M457.4,107.2h2.6M457.4,98.6h1.5M457.4,90h1.5M457.4,81.5h1.5M457.4,72.9h1.5M457.4,64.3h2.6M457.4,55.7h1.5M457.4,47.1h1.5M457.4,38.6h1.5M457.4,30h1.5" stroke="#333" stroke-width="0.8" fill="none"/>
<g font-family="Liberation Sans, sans-serif" font-size="7" fill="#444"><text x="455.8" y="152.5" text-anchor="end">0.5</text><text x="455.8" y="109.1" text-anchor="end">1.0</text><text x="455.8" y="66.7" text-anchor="end">1.5</text></g>
<path d="M457.4,169.8 579.1,193M459.8,170.3l0,-2.6M465.4,171.3l0,-1.5M471.1,172.4l0,-1.5M476.7,173.5l0,-1.5M482.3,174.5l0,-2.6M488.8,175.8l0,-1.5M495.3,177l0,-1.5M501.8,178.3l0,-1.5M508.3,179.5l0,-2.6M515.7,180.9l0,-1.5M523,182.3l0,-1.5M530.4,183.7l0,-1.5M537.8,185.1l0,-2.6M546.4,186.8l0,-1.5M555,188.4l0,-1.5M563.7,190.1l0,-1.5M572.3,191.7l0,-2.6" stroke="#333" stroke-width="0.8" fill="none"/>
<g font-family="Liberation Sans, sans-serif" font-size="7" fill="#444"><text x="459.2" y="178" text-anchor="middle">0</text><text x="482.1" y="182.3" text-anchor="middle">2</text><text x="508.8" y="187.3" text-anchor="middle">4</text><text x="538.2" y="193.4" text-anchor="middle">6</text><text x="572.3" y="199.8" text-anchor="middle">8</text></g>
<path d="M578.4,7 644.4,36.3M578.5,7l0,2.6M583.4,9.2l0,1.5M588.2,11.4l0,1.5M593.1,13.5l0,1.5M598,15.7l0,2.6M602.2,17.6l0,1.5M606.5,19.5l0,1.5M610.8,21.4l0,1.5M615,23.2l0,2.6M618.8,24.9l0,1.5M622.5,26.6l0,1.5M626.2,28.2l0,1.5M630,29.9l0,2.6M633.3,31.4l0,1.5M636.6,32.9l0,1.5M640,34.3l0,1.5M643.3,35.8l0,2.6" stroke="#222" stroke-width="0.8" fill="none"/>
<g font-family="Liberation Sans, sans-serif" font-size="7" fill="#444"><text x="580.5" y="5.3" text-anchor="middle">0.0</text><text x="601.4" y="14.7" text-anchor="middle">0.2</text><text x="618.6" y="22" text-anchor="middle">0.4</text><text x="633" y="28.6" text-anchor="middle">0.6</text><text x="645.2" y="34.2" text-anchor="middle">0.8</text></g>
<text font-family="Liberation Sans, sans-serif" font-weight="bold" font-size="9.5" fill="#222" text-anchor="start" transform="translate(595.5,197.5) rotate(-27)">k<tspan font-size="6.8" dy="2.1">a1</tspan><tspan dy="-2.1"> /10</tspan><tspan font-size="6.8" dy="-3.6">-4</tspan><tspan dy="3.6"> s</tspan><tspan font-size="6.8" dy="-3.6">-1</tspan></text>
<text font-family="Liberation Sans, sans-serif" font-weight="bold" font-size="9.5" fill="#222" text-anchor="start" transform="translate(482.3,192.2) rotate(11)">k<tspan font-size="6.8" dy="2.1">a2</tspan><tspan dy="-2.1"> /10</tspan><tspan font-size="6.8" dy="-3.6">-4</tspan><tspan dy="3.6"> s</tspan><tspan font-size="6.8" dy="-3.6">-1</tspan></text>
<text font-family="Liberation Sans, sans-serif" font-weight="bold" font-size="9.5" fill="#222" text-anchor="middle" transform="translate(442.6,88.5) rotate(-90)">k<tspan font-size="6.8" dy="2.1">1</tspan><tspan dy="-2.1"> /10</tspan><tspan font-size="6.8" dy="-3.6">-4</tspan><tspan dy="3.6"> s</tspan><tspan font-size="6.8" dy="-3.6">-1</tspan></text>
<text font-family="Liberation Sans, sans-serif" x="438.1" y="17.6" font-size="13.5" font-weight="bold">c</text>
<rect x="59.8" y="241.8" width="138.6" height="93.6" fill="none" stroke="#444" stroke-width="1.05"/>
<path d="M62.7,335.4v-2.2M80.1,335.4v-2.2M97.6,335.4v-2.2M115,335.4v-2.2M132.4,335.4v-2.2M149.8,335.4v-2.2M167.3,335.4v-2.2M184.7,335.4v-2.2M62.9,241.8v2.2M82.9,241.8v2.2M102.9,241.8v2.2M122.9,241.8v2.2M142.9,241.8v2.2M162.9,241.8v2.2M182.9,241.8v2.2M59.8,332.7h2.2M198.4,332.7h-2.2M59.8,310.5h2.2M198.4,310.5h-2.2M59.8,288.3h2.2M198.4,288.3h-2.2M59.8,266.1h2.2M198.4,266.1h-2.2M59.8,243.9h2.2M198.4,243.9h-2.2" stroke="#333" stroke-width="0.8" fill="none"/>
<g font-family="Liberation Sans, sans-serif" font-size="7" fill="#222"><text x="62.7" y="343" text-anchor="middle">0</text><text x="80.1" y="343" text-anchor="middle">3</text><text x="97.6" y="343" text-anchor="middle">6</text><text x="115" y="343" text-anchor="middle">9</text><text x="132.4" y="343" text-anchor="middle">12</text><text x="149.8" y="343" text-anchor="middle">15</text><text x="167.3" y="343" text-anchor="middle">18</text><text x="184.7" y="343" text-anchor="middle">21</text><text x="62.9" y="239.6" text-anchor="middle">0</text><text x="82.9" y="239.6" text-anchor="middle">1</text><text x="102.9" y="239.6" text-anchor="middle">2</text><text x="122.9" y="239.6" text-anchor="middle">3</text><text x="142.9" y="239.6" text-anchor="middle">4</text><text x="162.9" y="239.6" text-anchor="middle">5</text><text x="182.9" y="239.6" text-anchor="middle">6</text><text x="56.8" y="335.2" text-anchor="end">0</text><text x="56.8" y="313" text-anchor="end">0.25</text><text x="56.8" y="290.8" text-anchor="end">0.5</text><text x="56.8" y="268.6" text-anchor="end">0.75</text><text x="56.8" y="246.4" text-anchor="end">1</text></g>
<g font-family="Liberation Sans, sans-serif" fill="#111"><text x="102.4" y="226.9" font-size="11.1">t<tspan font-size="8.8" dy="2.4">1,NMR</tspan><tspan dy="-2.4"> /ms</tspan></text><text x="105.7" y="356.6" font-size="11">t<tspan font-size="9" dy="2.7">real</tspan><tspan dy="-2.7"> /h</tspan></text><text transform="translate(38.1,285.5) rotate(-90)" text-anchor="middle" font-size="11.3">P(t)</text></g>
<text font-family="Liberation Sans, sans-serif" x="21" y="235.5" font-size="13" font-weight="bold">d</text>
<g fill="none" stroke-linejoin="round"><path d="M62.7,243.9 L63.5,249.4 L64.4,254.6 L65.2,259.5 L66.1,264 L66.9,268.3 L67.8,272.3 L68.6,276.1 L69.5,279.6 L70.3,282.9 L71.2,286 L72,288.9 L72.9,291.6 L73.7,294.2 L74.6,296.6 L75.4,298.8 L76.3,300.9 L77.1,302.9 L78,304.8 L78.8,306.5 L79.7,308.1 L80.5,309.7 L81.4,311.1 L82.2,312.4 L83.1,313.7 L83.9,314.9 L84.8,316 L85.6,317 L86.5,318 L87.3,318.9 L88.2,319.8 L89,320.6 L89.9,321.3 L90.7,322 L91.6,322.7 L92.4,323.3 L93.3,323.9 L94.1,324.5 L95,325 L95.8,325.4 L96.7,325.9 L97.5,326.3 L98.4,326.7 L99.2,327.1 L100.1,327.4 L100.9,327.8 L101.8,328.1 L102.6,328.4 L103.5,328.6 L104.3,328.9 L105.2,329.1 L106,329.3 L106.9,329.6 L107.7,329.7 L108.6,329.9 L109.4,330.1 L110.3,330.3 L111.1,330.4 L112,330.6 L112.8,330.7 L113.7,330.8 L114.5,330.9 L115.4,331 L116.2,331.1 L117.1,331.2 L117.9,331.3 L118.8,331.4 L119.6,331.5 L120.5,331.6 L121.3,331.6 L122.2,331.7 L123,331.8 L123.9,331.8 L124.7,331.9 L125.6,331.9 L126.4,332 L127.3,332 L128.1,332.1 L129,332.1 L129.8,332.1 L130.7,332.2 L131.5,332.2 L132.4,332.2 L133.2,332.3 L134.1,332.3 L134.9,332.3 L135.8,332.3 L136.6,332.4 L137.5,332.4 L138.3,332.4 L139.2,332.4 L140,332.4 L140.9,332.5 L141.7,332.5 L142.6,332.5 L143.4,332.5 L144.3,332.5 L145.1,332.5 L146,332.5 L146.8,332.5 L147.7,332.6 L148.5,332.6 L149.4,332.6 L150.2,332.6 L151.1,332.6 L151.9,332.6 L152.8,332.6 L153.6,332.6 L154.5,332.6 L155.3,332.6 L156.2,332.6 L157,332.6 L157.9,332.6 L158.7,332.6 L159.6,332.6 L160.4,332.6 L161.3,332.6 L162.1,332.7 L163,332.7 L163.8,332.7 L164.7,332.7 L165.5,332.7 L166.4,332.7 L167.2,332.7 L168.1,332.7 L168.9,332.7 L169.8,332.7 L170.6,332.7 L171.5,332.7 L172.3,332.7 L173.2,332.7 L174,332.7 L174.9,332.7 L175.7,332.7 L176.6,332.7 L177.4,332.7 L178.3,332.7 L179.1,332.7 L180,332.7 L180.8,332.7 L181.7,332.7 L182.5,332.7 L183.4,332.7 L184.2,332.7 L185.1,332.7 L185.9,332.7 L186.8,332.7 L187.6,332.7 L188.5,332.7 L189.3,332.7 L190.2,332.7 L191,332.7 L191.9,332.7 L192.7,332.7 L193.6,332.7 L194.4,332.7 L195.3,332.7 L196.1,332.7 L197,332.7 L197.8,332.7" stroke="#111" stroke-width="1.5"/><path d="M62.7,332.7 L63.5,326.5 L64.4,321.2 L65.2,316.7 L66.1,312.9 L66.9,309.8 L67.8,307.2 L68.6,305 L69.5,303.3 L70.3,301.9 L71.2,300.8 L72,300 L72.9,299.4 L73.7,299 L74.6,298.8 L75.4,298.7 L76.3,298.7 L77.1,298.9 L78,299.2 L78.8,299.5 L79.7,299.9 L80.5,300.3 L81.4,300.8 L82.2,301.4 L83.1,301.9 L83.9,302.5 L84.8,303.1 L85.6,303.7 L86.5,304.3 L87.3,305 L88.2,305.6 L89,306.2 L89.9,306.8 L90.7,307.5 L91.6,308.1 L92.4,308.7 L93.3,309.3 L94.1,309.9 L95,310.5 L95.8,311.1 L96.7,311.6 L97.5,312.2 L98.4,312.7 L99.2,313.3 L100.1,313.8 L100.9,314.3 L101.8,314.8 L102.6,315.3 L103.5,315.8 L104.3,316.2 L105.2,316.7 L106,317.1 L106.9,317.5 L107.7,318 L108.6,318.4 L109.4,318.8 L110.3,319.2 L111.1,319.5 L112,319.9 L112.8,320.3 L113.7,320.6 L114.5,320.9 L115.4,321.3 L116.2,321.6 L117.1,321.9 L117.9,322.2 L118.8,322.5 L119.6,322.8 L120.5,323.1 L121.3,323.3 L122.2,323.6 L123,323.8 L123.9,324.1 L124.7,324.3 L125.6,324.6 L126.4,324.8 L127.3,325 L128.1,325.2 L129,325.4 L129.8,325.6 L130.7,325.8 L131.5,326 L132.4,326.2 L133.2,326.4 L134.1,326.6 L134.9,326.8 L135.8,326.9 L136.6,327.1 L137.5,327.2 L138.3,327.4 L139.2,327.5 L140,327.7 L140.9,327.8 L141.7,328 L142.6,328.1 L143.4,328.2 L144.3,328.4 L145.1,328.5 L146,328.6 L146.8,328.7 L147.7,328.8 L148.5,328.9 L149.4,329 L150.2,329.1 L151.1,329.2 L151.9,329.3 L152.8,329.4 L153.6,329.5 L154.5,329.6 L155.3,329.7 L156.2,329.8 L157,329.9 L157.9,329.9 L158.7,330 L159.6,330.1 L160.4,330.2 L161.3,330.2 L162.1,330.3 L163,330.4 L163.8,330.4 L164.7,330.5 L165.5,330.6 L166.4,330.6 L167.2,330.7 L168.1,330.7 L168.9,330.8 L169.8,330.9 L170.6,330.9 L171.5,331 L172.3,331 L173.2,331.1 L174,331.1 L174.9,331.1 L175.7,331.2 L176.6,331.2 L177.4,331.3 L178.3,331.3 L179.1,331.3 L180,331.4 L180.8,331.4 L181.7,331.5 L182.5,331.5 L183.4,331.5 L184.2,331.6 L185.1,331.6 L185.9,331.6 L186.8,331.7 L187.6,331.7 L188.5,331.7 L189.3,331.7 L190.2,331.8 L191,331.8 L191.9,331.8 L192.7,331.8 L193.6,331.9 L194.4,331.9 L195.3,331.9 L196.1,331.9 L197,332 L197.8,332" stroke="#222" stroke-width="0.8"/><path d="M62.7,332.7 L63.5,332.1 L64.4,331.2 L65.2,330.2 L66.1,329 L66.9,327.6 L67.8,325.7 L68.6,323.6 L69.5,321.5 L70.3,319.7 L71.2,318.1 L72,316.6 L72.9,315 L73.7,313.6 L74.6,312.2 L75.4,310.8 L76.3,309.6 L77.1,308.4 L78,307.2 L78.8,305.7 L79.7,303.9 L80.5,301.2 L81.4,298.4 L82.2,296.2 L83.1,294.2 L83.9,292.4 L84.8,290.6 L85.6,289 L86.5,287.4 L87.3,285.9 L88.2,284.4 L89,283 L89.9,281.7 L90.7,280.4 L91.6,279.2 L92.4,277.9 L93.3,276.8 L94.1,275.6 L95,274.5 L95.8,273.4 L96.7,272.3 L97.5,271.3 L98.4,270.3 L99.2,269.4 L100.1,268.5 L100.9,267.7 L101.8,267 L102.6,266.3 L103.5,265.7 L104.3,265 L105.2,264.4 L106,263.7 L106.9,263 L107.7,262.3 L108.6,261.7 L109.4,261 L110.3,260.4 L111.1,259.8 L112,259.2 L112.8,258.7 L113.7,258.2 L114.5,257.7 L115.4,257.3 L116.2,256.8 L117.1,256.4 L117.9,255.9 L118.8,255.5 L119.6,255 L120.5,254.6 L121.3,254.1 L122.2,253.7 L123,253.3 L123.9,252.9 L124.7,252.5 L125.6,252.2 L126.4,251.9 L127.3,251.6 L128.1,251.3 L129,251 L129.8,250.7 L130.7,250.5 L131.5,250.2 L132.4,250 L133.2,249.7 L134.1,249.5 L134.9,249.3 L135.8,249.1 L136.6,248.9 L137.5,248.8 L138.3,248.6 L139.2,248.4 L140,248.3 L140.9,248.1 L141.7,248 L142.6,247.8 L143.4,247.7 L144.3,247.6 L145.1,247.4 L146,247.3 L146.8,247.2 L147.7,247.1 L148.5,247 L149.4,246.9 L150.2,246.8 L151.1,246.7 L151.9,246.6 L152.8,246.6 L153.6,246.5 L154.5,246.4 L155.3,246.3 L156.2,246.2 L157,246.2 L157.9,246.1 L158.7,246 L159.6,245.9 L160.4,245.9 L161.3,245.8 L162.1,245.7 L163,245.7 L163.8,245.6 L164.7,245.6 L165.5,245.5 L166.4,245.5 L167.2,245.4 L168.1,245.4 L168.9,245.4 L169.8,245.3 L170.6,245.3 L171.5,245.2 L172.3,245.2 L173.2,245.2 L174,245.1 L174.9,245.1 L175.7,245 L176.6,245 L177.4,245 L178.3,244.9 L179.1,244.9 L180,244.9 L180.8,244.8 L181.7,244.8 L182.5,244.8 L183.4,244.7 L184.2,244.7 L185.1,244.7 L185.9,244.6 L186.8,244.6 L187.6,244.6 L188.5,244.6 L189.3,244.5 L190.2,244.5 L191,244.5 L191.9,244.5 L192.7,244.5 L193.6,244.4 L194.4,244.4 L195.3,244.4 L196.1,244.4 L197,244.4 L197.8,244.4" stroke="#111" stroke-width="0.9" stroke-dasharray="3,2"/></g>
<rect x="264.5" y="241.8" width="138.6" height="93.6" fill="none" stroke="#444" stroke-width="1.05"/>
<path d="M267.4,335.4v-2.2M284.8,335.4v-2.2M302.3,335.4v-2.2M319.7,335.4v-2.2M337.1,335.4v-2.2M354.5,335.4v-2.2M372,335.4v-2.2M389.4,335.4v-2.2M267.6,241.8v2.2M287.6,241.8v2.2M307.6,241.8v2.2M327.6,241.8v2.2M347.6,241.8v2.2M367.6,241.8v2.2M387.6,241.8v2.2M264.5,332.7h2.2M403.1,332.7h-2.2M264.5,310.5h2.2M403.1,310.5h-2.2M264.5,288.3h2.2M403.1,288.3h-2.2M264.5,266.1h2.2M403.1,266.1h-2.2M264.5,243.9h2.2M403.1,243.9h-2.2" stroke="#333" stroke-width="0.8" fill="none"/>
<g font-family="Liberation Sans, sans-serif" font-size="7" fill="#222"><text x="267.4" y="343" text-anchor="middle">0</text><text x="284.8" y="343" text-anchor="middle">3</text><text x="302.3" y="343" text-anchor="middle">6</text><text x="319.7" y="343" text-anchor="middle">9</text><text x="337.1" y="343" text-anchor="middle">12</text><text x="354.5" y="343" text-anchor="middle">15</text><text x="372" y="343" text-anchor="middle">18</text><text x="389.4" y="343" text-anchor="middle">21</text><text x="267.6" y="239.6" text-anchor="middle">0</text><text x="287.6" y="239.6" text-anchor="middle">1</text><text x="307.6" y="239.6" text-anchor="middle">2</text><text x="327.6" y="239.6" text-anchor="middle">3</text><text x="347.6" y="239.6" text-anchor="middle">4</text><text x="367.6" y="239.6" text-anchor="middle">5</text><text x="387.6" y="239.6" text-anchor="middle">6</text><text x="261.5" y="335.2" text-anchor="end">0</text><text x="261.5" y="313" text-anchor="end">0.25</text><text x="261.5" y="290.8" text-anchor="end">0.5</text><text x="261.5" y="268.6" text-anchor="end">0.75</text><text x="261.5" y="246.4" text-anchor="end">1</text></g>
<g font-family="Liberation Sans, sans-serif" fill="#111"><text x="307.1" y="226.9" font-size="11.1">t<tspan font-size="8.8" dy="2.4">1,NMR</tspan><tspan dy="-2.4"> /ms</tspan></text><text x="310.4" y="356.6" font-size="11">t<tspan font-size="9" dy="2.7">real</tspan><tspan dy="-2.7"> /h</tspan></text><text transform="translate(242.8,285.5) rotate(-90)" text-anchor="middle" font-size="11.3">P(t)</text></g>
<text font-family="Liberation Sans, sans-serif" x="240.3" y="235.5" font-size="13" font-weight="bold">e</text>
<g fill="none" stroke-linejoin="round"><path d="M267.4,243.9 L268.2,248 L269.1,251.8 L269.9,255.5 L270.8,259 L271.6,262.4 L272.5,265.6 L273.3,268.7 L274.2,271.6 L275,274.4 L275.9,277.1 L276.7,279.6 L277.6,282 L278.4,284.3 L279.3,286.6 L280.1,288.7 L281,290.7 L281.8,292.6 L282.7,294.4 L283.5,296.2 L284.4,297.8 L285.2,299.4 L286.1,301 L286.9,302.4 L287.8,303.8 L288.6,305.1 L289.5,306.4 L290.3,307.6 L291.2,308.7 L292,309.8 L292.9,310.9 L293.7,311.9 L294.6,312.8 L295.4,313.7 L296.3,314.6 L297.1,315.4 L298,316.2 L298.8,317 L299.7,317.7 L300.5,318.4 L301.4,319 L302.2,319.6 L303.1,320.2 L303.9,320.8 L304.8,321.4 L305.6,321.9 L306.5,322.4 L307.3,322.8 L308.2,323.3 L309,323.7 L309.9,324.1 L310.7,324.5 L311.6,324.9 L312.4,325.2 L313.3,325.6 L314.1,325.9 L315,326.2 L315.8,326.5 L316.7,326.8 L317.5,327.1 L318.4,327.3 L319.2,327.6 L320.1,327.8 L320.9,328 L321.8,328.2 L322.6,328.4 L323.5,328.6 L324.3,328.8 L325.2,329 L326,329.2 L326.9,329.3 L327.7,329.5 L328.6,329.6 L329.4,329.8 L330.3,329.9 L331.1,330 L332,330.2 L332.8,330.3 L333.7,330.4 L334.5,330.5 L335.4,330.6 L336.2,330.7 L337.1,330.8 L337.9,330.9 L338.8,331 L339.6,331 L340.5,331.1 L341.3,331.2 L342.2,331.2 L343,331.3 L343.9,331.4 L344.7,331.4 L345.6,331.5 L346.4,331.6 L347.3,331.6 L348.1,331.7 L349,331.7 L349.8,331.7 L350.7,331.8 L351.5,331.8 L352.4,331.9 L353.2,331.9 L354.1,331.9 L354.9,332 L355.8,332 L356.6,332 L357.5,332.1 L358.3,332.1 L359.2,332.1 L360,332.2 L360.9,332.2 L361.7,332.2 L362.6,332.2 L363.4,332.2 L364.3,332.3 L365.1,332.3 L366,332.3 L366.8,332.3 L367.7,332.3 L368.5,332.4 L369.4,332.4 L370.2,332.4 L371.1,332.4 L371.9,332.4 L372.8,332.4 L373.6,332.4 L374.5,332.5 L375.3,332.5 L376.2,332.5 L377,332.5 L377.9,332.5 L378.7,332.5 L379.6,332.5 L380.4,332.5 L381.3,332.5 L382.1,332.5 L383,332.5 L383.8,332.6 L384.7,332.6 L385.5,332.6 L386.4,332.6 L387.2,332.6 L388.1,332.6 L388.9,332.6 L389.8,332.6 L390.6,332.6 L391.5,332.6 L392.3,332.6 L393.2,332.6 L394,332.6 L394.9,332.6 L395.7,332.6 L396.6,332.6 L397.4,332.6 L398.3,332.6 L399.1,332.6 L400,332.6 L400.8,332.6 L401.7,332.6 L402.5,332.6" stroke="#111" stroke-width="1.5"/><path d="M267.4,332.7 L268.2,327.4 L269.1,322.8 L269.9,318.9 L270.8,315.5 L271.6,312.7 L272.5,310.2 L273.3,308.1 L274.2,306.4 L275,304.9 L275.9,303.7 L276.7,302.7 L277.6,301.9 L278.4,301.2 L279.3,300.7 L280.1,300.4 L281,300.1 L281.8,299.9 L282.7,299.9 L283.5,299.9 L284.4,299.9 L285.2,300 L286.1,300.2 L286.9,300.4 L287.8,300.6 L288.6,300.9 L289.5,301.1 L290.3,301.4 L291.2,301.8 L292,302.1 L292.9,302.5 L293.7,302.8 L294.6,303.2 L295.4,303.5 L296.3,303.9 L297.1,304.3 L298,304.7 L298.8,305.1 L299.7,305.4 L300.5,305.8 L301.4,306.2 L302.2,306.6 L303.1,307 L303.9,307.3 L304.8,307.7 L305.6,308.1 L306.5,308.4 L307.3,308.8 L308.2,309.2 L309,309.5 L309.9,309.9 L310.7,310.2 L311.6,310.5 L312.4,310.9 L313.3,311.2 L314.1,311.5 L315,311.9 L315.8,312.2 L316.7,312.5 L317.5,312.8 L318.4,313.1 L319.2,313.4 L320.1,313.7 L320.9,314 L321.8,314.3 L322.6,314.6 L323.5,314.8 L324.3,315.1 L325.2,315.4 L326,315.6 L326.9,315.9 L327.7,316.2 L328.6,316.4 L329.4,316.7 L330.3,316.9 L331.1,317.2 L332,317.4 L332.8,317.6 L333.7,317.9 L334.5,318.1 L335.4,318.3 L336.2,318.5 L337.1,318.8 L337.9,319 L338.8,319.2 L339.6,319.4 L340.5,319.6 L341.3,319.8 L342.2,320 L343,320.2 L343.9,320.4 L344.7,320.6 L345.6,320.8 L346.4,320.9 L347.3,321.1 L348.1,321.3 L349,321.5 L349.8,321.7 L350.7,321.8 L351.5,322 L352.4,322.2 L353.2,322.3 L354.1,322.5 L354.9,322.6 L355.8,322.8 L356.6,322.9 L357.5,323.1 L358.3,323.2 L359.2,323.4 L360,323.5 L360.9,323.7 L361.7,323.8 L362.6,324 L363.4,324.1 L364.3,324.2 L365.1,324.3 L366,324.5 L366.8,324.6 L367.7,324.7 L368.5,324.9 L369.4,325 L370.2,325.1 L371.1,325.2 L371.9,325.3 L372.8,325.4 L373.6,325.5 L374.5,325.7 L375.3,325.8 L376.2,325.9 L377,326 L377.9,326.1 L378.7,326.2 L379.6,326.3 L380.4,326.4 L381.3,326.5 L382.1,326.6 L383,326.7 L383.8,326.8 L384.7,326.9 L385.5,326.9 L386.4,327 L387.2,327.1 L388.1,327.2 L388.9,327.3 L389.8,327.4 L390.6,327.5 L391.5,327.5 L392.3,327.6 L393.2,327.7 L394,327.8 L394.9,327.9 L395.7,327.9 L396.6,328 L397.4,328.1 L398.3,328.1 L399.1,328.2 L400,328.3 L400.8,328.4 L401.7,328.4 L402.5,328.5" stroke="#222" stroke-width="0.8"/><path d="M267.4,332.7 L268.2,332.1 L269.1,331.5 L269.9,330.9 L270.8,330.1 L271.6,329.4 L272.5,328.5 L273.3,327.7 L274.2,326.7 L275,325.7 L275.9,324.5 L276.7,323.3 L277.6,322.1 L278.4,320.9 L279.3,319.7 L280.1,318.5 L281,317.4 L281.8,316.2 L282.7,315.1 L283.5,314 L284.4,312.8 L285.2,311.7 L286.1,310.6 L286.9,309.5 L287.8,308.3 L288.6,307.2 L289.5,306.1 L290.3,304.9 L291.2,303.8 L292,302.7 L292.9,301.6 L293.7,300.4 L294.6,299.2 L295.4,297.9 L296.3,296.7 L297.1,295.4 L298,294.1 L298.8,292.8 L299.7,291.5 L300.5,290.2 L301.4,289 L302.2,287.7 L303.1,286.4 L303.9,285.2 L304.8,284 L305.6,283 L306.5,282.1 L307.3,281.2 L308.2,280.4 L309,279.6 L309.9,278.9 L310.7,278.1 L311.6,277.4 L312.4,276.7 L313.3,276.1 L314.1,275.4 L315,274.7 L315.8,274 L316.7,273.2 L317.5,272.4 L318.4,271.7 L319.2,270.9 L320.1,270.2 L320.9,269.5 L321.8,268.9 L322.6,268.3 L323.5,267.7 L324.3,267.1 L325.2,266.6 L326,266 L326.9,265.5 L327.7,265 L328.6,264.5 L329.4,264 L330.3,263.5 L331.1,263 L332,262.6 L332.8,262.1 L333.7,261.7 L334.5,261.3 L335.4,260.9 L336.2,260.5 L337.1,260.1 L337.9,259.7 L338.8,259.3 L339.6,259 L340.5,258.6 L341.3,258.3 L342.2,257.9 L343,257.6 L343.9,257.3 L344.7,257 L345.6,256.6 L346.4,256.3 L347.3,256.1 L348.1,255.8 L349,255.5 L349.8,255.2 L350.7,254.9 L351.5,254.7 L352.4,254.4 L353.2,254.2 L354.1,253.9 L354.9,253.6 L355.8,253.4 L356.6,253.2 L357.5,252.9 L358.3,252.7 L359.2,252.5 L360,252.3 L360.9,252.1 L361.7,251.9 L362.6,251.7 L363.4,251.5 L364.3,251.3 L365.1,251.2 L366,251 L366.8,250.8 L367.7,250.7 L368.5,250.5 L369.4,250.4 L370.2,250.2 L371.1,250 L371.9,249.9 L372.8,249.8 L373.6,249.6 L374.5,249.5 L375.3,249.4 L376.2,249.2 L377,249.1 L377.9,249 L378.7,248.9 L379.6,248.8 L380.4,248.7 L381.3,248.6 L382.1,248.5 L383,248.4 L383.8,248.3 L384.7,248.3 L385.5,248.2 L386.4,248.1 L387.2,248 L388.1,247.9 L388.9,247.8 L389.8,247.8 L390.6,247.7 L391.5,247.6 L392.3,247.5 L393.2,247.5 L394,247.4 L394.9,247.3 L395.7,247.3 L396.6,247.2 L397.4,247.2 L398.3,247.1 L399.1,247.1 L400,247 L400.8,247 L401.7,246.9 L402.5,246.9" stroke="#111" stroke-width="0.9" stroke-dasharray="3,2"/></g>
<rect x="468.1" y="241.8" width="138.6" height="93.6" fill="none" stroke="#444" stroke-width="1.05"/>
<path d="M471,335.4v-2.2M488.4,335.4v-2.2M505.9,335.4v-2.2M523.3,335.4v-2.2M540.7,335.4v-2.2M558.1,335.4v-2.2M575.6,335.4v-2.2M593,335.4v-2.2M471.2,241.8v2.2M491.2,241.8v2.2M511.2,241.8v2.2M531.2,241.8v2.2M551.2,241.8v2.2M571.2,241.8v2.2M591.2,241.8v2.2M468.1,332.7h2.2M606.7,332.7h-2.2M468.1,310.5h2.2M606.7,310.5h-2.2M468.1,288.3h2.2M606.7,288.3h-2.2M468.1,266.1h2.2M606.7,266.1h-2.2M468.1,243.9h2.2M606.7,243.9h-2.2" stroke="#333" stroke-width="0.8" fill="none"/>
<g font-family="Liberation Sans, sans-serif" font-size="7" fill="#222"><text x="471" y="343" text-anchor="middle">0</text><text x="488.4" y="343" text-anchor="middle">3</text><text x="505.9" y="343" text-anchor="middle">6</text><text x="523.3" y="343" text-anchor="middle">9</text><text x="540.7" y="343" text-anchor="middle">12</text><text x="558.1" y="343" text-anchor="middle">15</text><text x="575.6" y="343" text-anchor="middle">18</text><text x="593" y="343" text-anchor="middle">21</text><text x="471.2" y="239.6" text-anchor="middle">0</text><text x="491.2" y="239.6" text-anchor="middle">1</text><text x="511.2" y="239.6" text-anchor="middle">2</text><text x="531.2" y="239.6" text-anchor="middle">3</text><text x="551.2" y="239.6" text-anchor="middle">4</text><text x="571.2" y="239.6" text-anchor="middle">5</text><text x="591.2" y="239.6" text-anchor="middle">6</text><text x="465.1" y="335.2" text-anchor="end">0</text><text x="465.1" y="313" text-anchor="end">0.25</text><text x="465.1" y="290.8" text-anchor="end">0.5</text><text x="465.1" y="268.6" text-anchor="end">0.75</text><text x="465.1" y="246.4" text-anchor="end">1</text></g>
<g font-family="Liberation Sans, sans-serif" fill="#111"><text x="510.7" y="226.9" font-size="11.1">t<tspan font-size="8.8" dy="2.4">1,NMR</tspan><tspan dy="-2.4"> /ms</tspan></text><text x="514" y="356.6" font-size="11">t<tspan font-size="9" dy="2.7">real</tspan><tspan dy="-2.7"> /h</tspan></text><text transform="translate(446.4,285.5) rotate(-90)" text-anchor="middle" font-size="11.3">P(t)</text></g>
<text font-family="Liberation Sans, sans-serif" x="439.3" y="235.5" font-size="13" font-weight="bold">f</text>
<g fill="none" stroke-linejoin="round"><path d="M471,243.9 L471.8,247.6 L472.7,251.2 L473.5,254.6 L474.4,257.9 L475.2,261 L476.1,264 L476.9,266.9 L477.8,269.6 L478.6,272.3 L479.5,274.8 L480.3,277.2 L481.2,279.6 L482,281.8 L482.9,283.9 L483.7,286 L484.6,287.9 L485.4,289.8 L486.3,291.6 L487.1,293.3 L488,295 L488.8,296.5 L489.7,298.1 L490.5,299.5 L491.4,300.9 L492.2,302.2 L493.1,303.5 L493.9,304.7 L494.8,305.9 L495.6,307 L496.5,308.1 L497.3,309.1 L498.2,310.1 L499,311.1 L499.9,312 L500.7,312.8 L501.6,313.7 L502.4,314.5 L503.3,315.2 L504.1,316 L505,316.7 L505.8,317.3 L506.7,318 L507.5,318.6 L508.4,319.2 L509.2,319.8 L510.1,320.3 L510.9,320.8 L511.8,321.3 L512.6,321.8 L513.5,322.2 L514.3,322.7 L515.2,323.1 L516,323.5 L516.9,323.9 L517.7,324.3 L518.6,324.6 L519.4,325 L520.3,325.3 L521.1,325.6 L522,325.9 L522.8,326.2 L523.7,326.4 L524.5,326.7 L525.4,327 L526.2,327.2 L527.1,327.4 L527.9,327.7 L528.8,327.9 L529.6,328.1 L530.5,328.3 L531.3,328.4 L532.2,328.6 L533,328.8 L533.9,329 L534.7,329.1 L535.6,329.3 L536.4,329.4 L537.3,329.5 L538.1,329.7 L539,329.8 L539.8,329.9 L540.7,330 L541.5,330.2 L542.4,330.3 L543.2,330.4 L544.1,330.5 L544.9,330.6 L545.8,330.6 L546.6,330.7 L547.5,330.8 L548.3,330.9 L549.2,331 L550,331 L550.9,331.1 L551.7,331.2 L552.6,331.2 L553.4,331.3 L554.3,331.4 L555.1,331.4 L556,331.5 L556.8,331.5 L557.7,331.6 L558.5,331.6 L559.4,331.7 L560.2,331.7 L561.1,331.7 L561.9,331.8 L562.8,331.8 L563.6,331.9 L564.5,331.9 L565.3,331.9 L566.2,332 L567,332 L567.9,332 L568.7,332.1 L569.6,332.1 L570.4,332.1 L571.3,332.1 L572.1,332.2 L573,332.2 L573.8,332.2 L574.7,332.2 L575.5,332.2 L576.4,332.3 L577.2,332.3 L578.1,332.3 L578.9,332.3 L579.8,332.3 L580.6,332.3 L581.5,332.4 L582.3,332.4 L583.2,332.4 L584,332.4 L584.9,332.4 L585.7,332.4 L586.6,332.4 L587.4,332.4 L588.3,332.5 L589.1,332.5 L590,332.5 L590.8,332.5 L591.7,332.5 L592.5,332.5 L593.4,332.5 L594.2,332.5 L595.1,332.5 L595.9,332.5 L596.8,332.5 L597.6,332.5 L598.5,332.6 L599.3,332.6 L600.2,332.6 L601,332.6 L601.9,332.6 L602.7,332.6 L603.6,332.6 L604.4,332.6 L605.3,332.6 L606.1,332.6" stroke="#111" stroke-width="1.5"/><path d="M471,332.7 L471.8,328.3 L472.7,324.4 L473.5,321 L474.4,318.1 L475.2,315.5 L476.1,313.3 L476.9,311.4 L477.8,309.8 L478.6,308.4 L479.5,307.3 L480.3,306.3 L481.2,305.6 L482,304.9 L482.9,304.5 L483.7,304.1 L484.6,303.9 L485.4,303.7 L486.3,303.7 L487.1,303.7 L488,303.7 L488.8,303.9 L489.7,304.1 L490.5,304.3 L491.4,304.6 L492.2,304.9 L493.1,305.2 L493.9,305.6 L494.8,305.9 L495.6,306.3 L496.5,306.8 L497.3,307.2 L498.2,307.6 L499,308 L499.9,308.5 L500.7,308.9 L501.6,309.4 L502.4,309.8 L503.3,310.3 L504.1,310.7 L505,311.2 L505.8,311.6 L506.7,312 L507.5,312.5 L508.4,312.9 L509.2,313.3 L510.1,313.7 L510.9,314.1 L511.8,314.6 L512.6,315 L513.5,315.3 L514.3,315.7 L515.2,316.1 L516,316.5 L516.9,316.8 L517.7,317.2 L518.6,317.6 L519.4,317.9 L520.3,318.2 L521.1,318.6 L522,318.9 L522.8,319.2 L523.7,319.5 L524.5,319.8 L525.4,320.1 L526.2,320.4 L527.1,320.7 L527.9,321 L528.8,321.3 L529.6,321.5 L530.5,321.8 L531.3,322 L532.2,322.3 L533,322.5 L533.9,322.8 L534.7,323 L535.6,323.2 L536.4,323.4 L537.3,323.7 L538.1,323.9 L539,324.1 L539.8,324.3 L540.7,324.5 L541.5,324.7 L542.4,324.9 L543.2,325 L544.1,325.2 L544.9,325.4 L545.8,325.6 L546.6,325.7 L547.5,325.9 L548.3,326.1 L549.2,326.2 L550,326.4 L550.9,326.5 L551.7,326.7 L552.6,326.8 L553.4,327 L554.3,327.1 L555.1,327.2 L556,327.3 L556.8,327.5 L557.7,327.6 L558.5,327.7 L559.4,327.8 L560.2,328 L561.1,328.1 L561.9,328.2 L562.8,328.3 L563.6,328.4 L564.5,328.5 L565.3,328.6 L566.2,328.7 L567,328.8 L567.9,328.9 L568.7,329 L569.6,329 L570.4,329.1 L571.3,329.2 L572.1,329.3 L573,329.4 L573.8,329.5 L574.7,329.5 L575.5,329.6 L576.4,329.7 L577.2,329.8 L578.1,329.8 L578.9,329.9 L579.8,330 L580.6,330 L581.5,330.1 L582.3,330.1 L583.2,330.2 L584,330.3 L584.9,330.3 L585.7,330.4 L586.6,330.4 L587.4,330.5 L588.3,330.5 L589.1,330.6 L590,330.6 L590.8,330.7 L591.7,330.7 L592.5,330.8 L593.4,330.8 L594.2,330.9 L595.1,330.9 L595.9,331 L596.8,331 L597.6,331 L598.5,331.1 L599.3,331.1 L600.2,331.2 L601,331.2 L601.9,331.2 L602.7,331.3 L603.6,331.3 L604.4,331.3 L605.3,331.4 L606.1,331.4" stroke="#222" stroke-width="0.8"/><path d="M471,332.7 L471.8,332.5 L472.7,332.2 L473.5,331.8 L474.4,331.3 L475.2,330.7 L476.1,330.1 L476.9,329.4 L477.8,328.6 L478.6,327.5 L479.5,326.3 L480.3,325 L481.2,323.7 L482,322.2 L482.9,320.8 L483.7,319.3 L484.6,317.9 L485.4,316.3 L486.3,314.7 L487.1,312.9 L488,311.1 L488.8,309.3 L489.7,307.5 L490.5,305.7 L491.4,303.9 L492.2,302.2 L493.1,300.7 L493.9,299.2 L494.8,297.8 L495.6,296.5 L496.5,295.1 L497.3,293.8 L498.2,292.6 L499,291.3 L499.9,290.1 L500.7,288.9 L501.6,287.7 L502.4,286.6 L503.3,285.5 L504.1,284.4 L505,283.4 L505.8,282.4 L506.7,281.4 L507.5,280.4 L508.4,279.4 L509.2,278.4 L510.1,277.3 L510.9,276.2 L511.8,275.2 L512.6,274.2 L513.5,273.3 L514.3,272.5 L515.2,271.7 L516,270.9 L516.9,270.1 L517.7,269.4 L518.6,268.7 L519.4,268 L520.3,267.4 L521.1,266.7 L522,266.1 L522.8,265.5 L523.7,264.9 L524.5,264.3 L525.4,263.7 L526.2,263.1 L527.1,262.5 L527.9,262 L528.8,261.4 L529.6,260.9 L530.5,260.4 L531.3,259.8 L532.2,259.3 L533,258.8 L533.9,258.3 L534.7,257.8 L535.6,257.3 L536.4,256.8 L537.3,256.3 L538.1,255.9 L539,255.5 L539.8,255.2 L540.7,254.8 L541.5,254.5 L542.4,254.2 L543.2,253.8 L544.1,253.5 L544.9,253.2 L545.8,253 L546.6,252.7 L547.5,252.4 L548.3,252.2 L549.2,252 L550,251.7 L550.9,251.5 L551.7,251.3 L552.6,251.2 L553.4,251 L554.3,250.8 L555.1,250.6 L556,250.5 L556.8,250.3 L557.7,250.1 L558.5,250 L559.4,249.8 L560.2,249.7 L561.1,249.6 L561.9,249.4 L562.8,249.3 L563.6,249.2 L564.5,249.1 L565.3,248.9 L566.2,248.8 L567,248.7 L567.9,248.6 L568.7,248.5 L569.6,248.4 L570.4,248.3 L571.3,248.2 L572.1,248.1 L573,248 L573.8,247.9 L574.7,247.8 L575.5,247.7 L576.4,247.6 L577.2,247.5 L578.1,247.5 L578.9,247.4 L579.8,247.3 L580.6,247.2 L581.5,247.2 L582.3,247.1 L583.2,247 L584,246.9 L584.9,246.9 L585.7,246.8 L586.6,246.7 L587.4,246.7 L588.3,246.6 L589.1,246.5 L590,246.5 L590.8,246.4 L591.7,246.4 L592.5,246.3 L593.4,246.2 L594.2,246.2 L595.1,246.1 L595.9,246.1 L596.8,246 L597.6,246 L598.5,245.9 L599.3,245.9 L600.2,245.8 L601,245.8 L601.9,245.7 L602.7,245.7 L603.6,245.6 L604.4,245.6 L605.3,245.5 L606.1,245.5" stroke="#111" stroke-width="0.9" stroke-dasharray="3,2"/></g>
<clipPath id="cg"><rect x="113.5" y="410.1" width="194" height="129.2"/></clipPath>
<path d="M262,501.7 L260.5,501.8 L259,501.8 L257.5,501.7 L256.5,501.6 L255,501.4 L253.7,501.1 L252.5,500.8 L251.5,500.5 L250.3,500.1 L249,499.6 L248,499.2 L247,498.7 L246,498.2 L245,497.6 L244.1,497.1 L243.2,496.6 L242.4,496.1 L241.5,495.5 L240.5,494.9 L239.5,494.3 L238.5,493.8 L237.5,493.3 L236.5,492.9 L235.5,492.6 L234,492.3 L232.5,492.2 L231,492.4 L229.6,492.6 L228.5,492.8 L227.1,493.1 L226,493.3 L224.5,493.6 L223.5,493.8 L222,494 L220.5,494.1 L219.5,494.2 L218,494.2 L216.5,494.2 L215,494.2 L213.5,494.2 L212,494.1 L211,494.1 L209.5,494.1 L208,494.1 L207,494.1 L205.5,494.2 L204,494.4 L202.5,494.6 L201.5,494.7 L200,495 L199,495.2 L197.5,495.4 L196.2,495.6 L195,495.8 L193.5,495.9 L192,496 L190.5,496.1 L189,496.1 L187.5,496 L186,495.9 L184.5,495.7 L183.5,495.5 L182,495.2 L181,495 L179.5,494.7 L178.5,494.4 L177.5,494.1 L176,493.7 L175,493.4 L174,493.1 L172.5,492.6 L171.5,492.3 L170.5,492 L169,491.6 L168,491.4 L167,491.1 L165.5,490.7 L164.5,490.5 L163,490.2 L162,490 L160.5,489.6 L159.5,489.4 L158,489.1 L157,488.9 L155.6,488.6 L154.5,488.4 L153.4,488.1 L152,487.7 L151,487.5 L149.7,487.1 L148.5,486.7 L147.5,486.4 L146.5,486 L145.4,485.6 L144.2,485.1 L143,484.6 L142,484.1 L141,483.6 L140.1,483.1 L139.3,482.6 L138.5,482.1 L137.5,481.4 L136.5,480.7 L135.8,480.1 L135,479.4 L134.1,478.6 L133.5,477.9 L132.8,477.1 L132,476.1 L131.5,475.4 L131,474.6 L130.5,473.6 L130,472.6 L129.5,471.2 L129.2,470.1 L129,469 L128.9,467.6 L128.9,466.1 L129,465 L129.3,463.6 L129.6,462.6 L130,461.4 L130.5,460.3 L131,459.4 L131.5,458.6 L132.2,457.6 L133,456.6 L133.5,456.1 L134.4,455.1 L135,454.6 L136,453.7 L136.8,453.1 L137.5,452.6 L138.5,451.9 L139.5,451.3 L140.5,450.7 L141.5,450.2 L142.5,449.7 L143.5,449.2 L144.5,448.8 L145.5,448.3 L146.5,448 L147.6,447.6 L149,447.1 L150,446.8 L151,446.5 L152.5,446.1 L153.5,445.9 L154.7,445.6 L156,445.3 L157,445.1 L158.5,444.8 L159.5,444.6 L161,444.3 L162,444.1 L163.5,443.7 L164.5,443.5 L166,443.2 L167,442.9 L168.3,442.6 L169.5,442.3 L170.5,442 L171.9,441.6 L173,441.3 L174,441 L175.4,440.6 L176.5,440.3 L177.5,440 L179,439.6 L180,439.4 L181.3,439.1 L182.5,438.9 L184,438.7 L185,438.5 L186.5,438.4 L188,438.4 L189.5,438.4 L191,438.5 L192,438.6 L193.5,438.9 L194.5,439.1 L196,439.5 L197,439.8 L198,440.2 L199,440.6 L200.2,441.1 L201.2,441.6 L202.2,442.1 L203.1,442.6 L204,443.2 L205,443.8 L206,444.4 L207,445.1 L207.8,445.6 L208.5,446.1 L209.5,446.8 L210.5,447.4 L211.5,448.1 L212.4,448.6 L213.3,449.1 L214.3,449.6 L215.3,450.1 L216.4,450.6 L217.5,451 L218.5,451.4 L219.5,451.8 L220.5,452.1 L221.8,452.6 L223,453 L224,453.4 L225,453.8 L226,454.2 L227,454.6 L228,455.1 L229.1,455.6 L230.2,456.1 L231.2,456.6 L232.3,457.1 L233.4,457.6 L234.5,458.1 L235.5,458.4 L236.5,458.6 L238,458.8 L239.5,458.8 L240.8,458.6 L242,458.3 L243,458 L244.1,457.6 L245.5,457.1 L246.5,456.7 L247.5,456.4 L248.5,456 L249.8,455.6 L251,455.2 L252,455 L253.5,454.7 L254.5,454.5 L256,454.3 L257.5,454.1 L258.5,454.1 L259.7,454.1 L261,454.2 L262.5,454.3 L264,454.6 L265,454.8 L266.3,455.1 L267.5,455.5 L268.5,455.9 L269.5,456.3 L270.5,456.8 L271.5,457.3 L272.5,457.9 L273.5,458.6 L274.2,459.1 L275,459.7 L276,460.6 L276.5,461.1 L277.5,462.1 L278,462.7 L278.7,463.6 L279.5,464.6 L280,465.4 L280.5,466.3 L281,467.2 L281.5,468.2 L282,469.4 L282.4,470.6 L282.7,471.6 L283,472.6 L283.3,474.1 L283.5,475.6 L283.6,476.6 L283.6,478.1 L283.6,479.6 L283.5,480.6 L283.3,482.1 L283,483.3 L282.7,484.6 L282.4,485.6 L282,486.6 L281.5,487.8 L281,488.8 L280.5,489.7 L280,490.6 L279.3,491.6 L278.6,492.6 L278,493.3 L277.3,494.1 L276.5,494.9 L275.8,495.6 L275,496.3 L274,497 L273.2,497.6 L272.5,498.1 L271.5,498.7 L270.5,499.2 L269.5,499.7 L268.5,500.1 L267.1,500.6 L266,500.9 L265,501.2 L263.5,501.5 L262.5,501.6 M263,500.2 L261.5,500.3 L260,500.4 L258.5,500.4 L257,500.3 L255.8,500.1 L254.5,499.9 L253.4,499.6 L252,499.2 L251,498.9 L250,498.5 L249,498 L248,497.5 L247,497 L246,496.5 L245,495.9 L244,495.2 L243.1,494.6 L242.4,494.1 L241.5,493.5 L240.5,492.8 L239.5,492.1 L238.7,491.6 L237.8,491.1 L236.8,490.6 L235.5,490.2 L234.5,490 L233,490 L232,490.1 L230.5,490.4 L229.5,490.6 L228,491 L227,491.3 L225.5,491.6 L224.5,491.8 L223,492.1 L222,492.2 L220.5,492.3 L219,492.4 L217.5,492.4 L216,492.3 L214.5,492.2 L213.1,492.1 L212,492 L210.5,491.9 L209,491.7 L207.5,491.7 L206,491.7 L204.5,491.8 L203,492 L202,492.2 L200.5,492.4 L199.5,492.6 L198,492.9 L196.7,493.1 L195.5,493.3 L194,493.5 L193,493.6 L191.5,493.7 L190,493.8 L188.5,493.7 L187,493.6 L186,493.6 L184.5,493.4 L183,493.1 L182,492.9 L180.7,492.6 L179.5,492.3 L178.5,492 L177,491.6 L176,491.3 L175,491 L173.5,490.6 L172.5,490.3 L171.5,490 L170,489.7 L169,489.4 L167.7,489.1 L166.5,488.9 L165.3,488.6 L164,488.4 L162.6,488.1 L161.5,487.9 L160,487.6 L159,487.5 L157.5,487.2 L156.5,487 L155,486.7 L154,486.4 L152.6,486.1 L151.5,485.8 L150.5,485.5 L149.1,485.1 L148,484.7 L147,484.4 L146,484 L145,483.6 L143.9,483.1 L142.9,482.6 L142,482.1 L141,481.5 L140,480.9 L139,480.2 L138.1,479.6 L137.5,479.1 L136.5,478.2 L135.9,477.6 L135,476.6 L134.5,476 L133.8,475.1 L133.2,474.1 L132.6,473.1 L132.2,472.1 L131.8,471.1 L131.5,470.1 L131.2,468.6 L131.1,467.1 L131.2,465.6 L131.5,464.1 L131.7,463.1 L132.1,462.1 L132.5,461.1 L133,460.1 L133.7,459.1 L134.4,458.1 L135,457.4 L135.7,456.6 L136.5,455.8 L137.3,455.1 L138,454.5 L139,453.8 L140,453.1 L140.8,452.6 L141.6,452.1 L142.5,451.6 L143.5,451.1 L144.6,450.6 L145.8,450.1 L147,449.6 L148,449.3 L149,448.9 L150.1,448.6 L151.5,448.2 L152.5,447.9 L153.9,447.6 L155,447.3 L156.2,447.1 L157.5,446.8 L158.8,446.6 L160,446.4 L161.5,446.1 L162.5,445.9 L164,445.7 L165,445.5 L166.5,445.2 L167.5,445 L169,444.6 L170,444.4 L171.1,444.1 L172.5,443.7 L173.5,443.5 L174.8,443.1 L176,442.7 L177,442.5 L178.4,442.1 L179.5,441.8 L180.5,441.6 L182,441.3 L183,441.1 L184.5,440.9 L186,440.7 L187.5,440.7 L189,440.7 L190.5,440.8 L192,441 L193,441.1 L194.5,441.5 L195.5,441.8 L196.6,442.1 L197.9,442.6 L199,443.1 L200,443.5 L201,444.1 L201.9,444.6 L202.8,445.1 L203.6,445.6 L204.5,446.2 L205.5,446.9 L206.5,447.6 L207.2,448.1 L208,448.6 L209,449.3 L210,450 L211,450.6 L211.9,451.1 L212.9,451.6 L214,452.1 L215,452.5 L216,452.9 L217,453.2 L218.2,453.6 L219.5,454 L220.5,454.3 L221.6,454.6 L223,455.1 L224,455.4 L225,455.8 L226,456.2 L227,456.6 L228.1,457.1 L229.1,457.6 L230.1,458.1 L231,458.6 L232,459.1 L233,459.6 L234,460.1 L235.2,460.6 L236.5,461 L237.5,461.2 L239,461.2 L240,461 L241.4,460.6 L242.5,460.2 L243.5,459.8 L244.5,459.4 L245.5,458.9 L246.5,458.5 L247.5,458.1 L248.7,457.6 L250,457.1 L251,456.8 L252,456.5 L253.5,456.1 L254.5,455.9 L256,455.7 L257,455.6 L258.5,455.5 L260,455.5 L261.5,455.6 L262.5,455.7 L264,455.9 L265,456.2 L266.5,456.6 L267.5,456.9 L268.5,457.3 L269.5,457.8 L270.5,458.3 L271.5,458.9 L272.5,459.5 L273.3,460.1 L274,460.6 L275,461.5 L275.6,462.1 L276.5,463 L277,463.6 L277.8,464.6 L278.5,465.6 L279,466.4 L279.5,467.2 L280,468.2 L280.5,469.3 L281,470.6 L281.3,471.6 L281.6,472.6 L281.9,474.1 L282.1,475.1 L282.2,476.6 L282.3,478.1 L282.2,479.6 L282,481.1 L281.9,482.1 L281.6,483.6 L281.3,484.6 L280.9,485.6 L280.5,486.7 L280,487.8 L279.5,488.8 L279,489.6 L278.4,490.6 L277.6,491.6 L277,492.4 L276.4,493.1 L275.5,494 L274.9,494.6 L274,495.3 L273,496.1 L272.3,496.6 L271.5,497.1 L270.5,497.7 L269.5,498.2 L268.5,498.6 L267.3,499.1 L266,499.5 L265,499.8 L263.5,500.1 M263.5,498.7 L262,498.9 L260.5,499 L259,499 L257.5,498.9 L256,498.7 L255,498.5 L253.5,498.2 L252.5,497.9 L251.5,497.5 L250.5,497.1 L249.4,496.6 L248.4,496.1 L247.5,495.6 L246.5,495 L245.5,494.3 L244.5,493.6 L243.8,493.1 L243,492.4 L242,491.6 L241.4,491.1 L240.5,490.4 L239.5,489.6 L238.8,489.1 L238,488.5 L237,488 L235.8,487.6 L234.5,487.4 L233,487.6 L232,487.8 L230.9,488.1 L229.5,488.6 L228.5,488.9 L227.5,489.2 L226.2,489.6 L225,489.9 L224,490.1 L222.5,490.4 L221,490.5 L219.5,490.6 L219,490.6 L217.5,490.6 L216,490.4 L214.5,490.2 L213.5,490.1 L212,489.8 L210.6,489.6 L209.5,489.4 L208,489.3 L206.5,489.2 L205,489.2 L203.5,489.3 L202,489.5 L201,489.7 L199.5,490 L198.5,490.3 L197,490.6 L196,490.8 L194.5,491 L193.5,491.2 L192,491.3 L190.5,491.4 L189,491.4 L187.5,491.4 L186,491.2 L185,491.1 L183.5,490.9 L182.2,490.6 L181,490.3 L180,490.1 L178.5,489.7 L177.5,489.4 L176.5,489.1 L175,488.7 L174,488.4 L172.9,488.1 L171.5,487.8 L170.5,487.5 L169,487.2 L168,487 L166.5,486.7 L165.5,486.6 L164,486.3 L162.5,486.1 L161.5,486 L160,485.8 L159,485.6 L157.5,485.4 L156.1,485.1 L155,484.9 L153.7,484.6 L152.5,484.3 L151.5,484 L150,483.6 L149,483.3 L148,482.9 L147,482.5 L145.9,482.1 L144.8,481.6 L143.8,481.1 L142.9,480.6 L142,480.1 L141,479.4 L140,478.7 L139.3,478.1 L138.5,477.4 L137.7,476.6 L137,475.9 L136.3,475.1 L135.6,474.1 L135,473.1 L134.5,472.1 L134.1,471.1 L133.8,470.1 L133.5,468.6 L133.4,467.6 L133.4,466.1 L133.5,465.1 L133.9,463.6 L134.2,462.6 L134.7,461.6 L135.2,460.6 L135.8,459.6 L136.5,458.7 L137,458.1 L138,457.1 L138.5,456.6 L139.5,455.7 L140.3,455.1 L141,454.6 L142,453.9 L143,453.4 L144,452.8 L145,452.3 L146,451.9 L147,451.5 L148,451.1 L149.4,450.6 L150.5,450.2 L151.5,450 L152.9,449.6 L154,449.3 L155.1,449.1 L156.5,448.8 L157.8,448.6 L159,448.4 L160.5,448.2 L161.5,448 L163,447.8 L164.5,447.6 L165.5,447.4 L167,447.2 L168,447 L169.5,446.7 L170.5,446.5 L172,446.2 L173,445.9 L174.2,445.6 L175.5,445.3 L176.5,445 L177.9,444.6 L179,444.3 L180,444.1 L181.5,443.7 L182.5,443.5 L184,443.3 L185.4,443.1 L186.5,443 L188,443 L189.5,443 L190.6,443.1 L192,443.3 L193.5,443.6 L194.5,443.9 L195.5,444.2 L196.7,444.6 L197.9,445.1 L199,445.6 L199.9,446.1 L200.8,446.6 L201.6,447.1 L202.5,447.7 L203.5,448.3 L204.5,449.1 L205.2,449.6 L206,450.2 L207,450.9 L208,451.6 L208.7,452.1 L209.5,452.6 L210.5,453.2 L211.5,453.7 L212.5,454.2 L213.6,454.6 L215,455 L216,455.3 L217.3,455.6 L218.5,455.9 L219.5,456.1 L221,456.5 L222,456.7 L223.3,457.1 L224.5,457.5 L225.5,457.9 L226.5,458.3 L227.5,458.8 L228.5,459.3 L229.5,459.9 L230.5,460.4 L231.5,461.1 L232.4,461.6 L233.2,462.1 L234.1,462.6 L235.1,463.1 L236.4,463.6 L237.5,463.8 L239,463.7 L240,463.5 L241.1,463.1 L242.2,462.6 L243.1,462.1 L244.1,461.6 L245,461.1 L246,460.6 L247,460.1 L248,459.6 L249.1,459.1 L250.4,458.6 L251.5,458.2 L252.5,457.9 L253.6,457.6 L255,457.3 L256.2,457.1 L257.5,457 L259,456.9 L260.5,456.9 L262,457 L263,457.2 L264.5,457.5 L265.5,457.7 L266.6,458.1 L267.9,458.6 L269,459.1 L270,459.6 L270.9,460.1 L271.6,460.6 L272.5,461.2 L273.5,462 L274.1,462.6 L275,463.4 L275.6,464.1 L276.4,465.1 L277,465.8 L277.5,466.6 L278.1,467.6 L278.7,468.6 L279.1,469.6 L279.5,470.6 L280,472 L280.3,473.1 L280.5,474.1 L280.7,475.6 L280.9,477.1 L280.9,478.6 L280.8,480.1 L280.6,481.6 L280.4,482.6 L280,484 L279.6,485.1 L279.3,486.1 L278.8,487.1 L278.3,488.1 L277.7,489.1 L277,490.1 L276.5,490.8 L275.9,491.6 L275,492.5 L274.4,493.1 L273.5,494 L272.7,494.6 L272,495.1 L271,495.8 L270,496.4 L269,496.9 L268,497.3 L267,497.7 L265.9,498.1 L264.5,498.5 L263.5,498.7 M264,497.1 L262.5,497.4 L261,497.5 L259.5,497.6 L258,497.5 L256.5,497.3 L255.3,497.1 L254,496.8 L253,496.5 L252,496.1 L250.8,495.6 L249.8,495.1 L248.8,494.6 L248,494.1 L247,493.4 L246,492.7 L245.2,492.1 L244.5,491.5 L243.5,490.6 L243,490.1 L242,489.1 L241.5,488.6 L240.5,487.6 L240,487.1 L239,486.2 L238.3,485.6 L237.5,485 L236.5,484.6 L235,484.4 L233.7,484.6 L232.5,485 L231.5,485.5 L230.5,486 L229.5,486.4 L228.5,486.9 L227.5,487.3 L226.5,487.7 L225.1,488.1 L224,488.4 L222.8,488.6 L221.5,488.8 L220,488.8 L218.5,488.8 L217,488.7 L216,488.5 L214.5,488.3 L213.5,488 L212,487.6 L211,487.4 L210,487.1 L208.5,486.8 L207.5,486.6 L206,486.4 L204.5,486.4 L203,486.6 L202,486.8 L200.6,487.1 L199.5,487.4 L198.5,487.6 L197,488 L196,488.3 L194.5,488.6 L193.5,488.7 L192,488.9 L190.5,489 L189,489.1 L187.5,489 L186,488.9 L184.5,488.7 L183.5,488.5 L182,488.2 L181,487.9 L179.8,487.6 L178.5,487.2 L177.5,487 L176.2,486.6 L175,486.3 L174,486 L172.5,485.6 L171.5,485.4 L170,485.2 L169,485 L167.5,484.8 L166.2,484.6 L165,484.5 L163.5,484.3 L162,484.1 L161,484 L159.5,483.8 L158,483.6 L157,483.5 L155.5,483.2 L154.5,483 L153,482.7 L152,482.4 L150.9,482.1 L149.5,481.7 L148.5,481.3 L147.5,480.9 L146.5,480.5 L145.5,480 L144.5,479.5 L143.5,478.9 L142.5,478.2 L141.7,477.6 L141,477.1 L140,476.2 L139.4,475.6 L138.5,474.6 L138,473.9 L137.5,473.1 L136.9,472.1 L136.5,471.1 L136,469.7 L135.8,468.6 L135.7,467.1 L135.7,465.6 L136,464.3 L136.4,463.1 L136.8,462.1 L137.3,461.1 L138,460.1 L138.5,459.4 L139.2,458.6 L140,457.8 L140.8,457.1 L141.5,456.5 L142.5,455.8 L143.5,455.1 L144.4,454.6 L145.3,454.1 L146.4,453.6 L147.5,453.1 L148.5,452.7 L149.5,452.3 L150.5,452 L152,451.6 L153,451.3 L154,451.1 L155.5,450.8 L156.6,450.6 L158,450.4 L159.5,450.2 L160.5,450 L162,449.9 L163.5,449.7 L164.5,449.6 L166,449.4 L167.5,449.2 L168.6,449.1 L170,448.9 L171.5,448.6 L172.5,448.4 L173.8,448.1 L175,447.8 L176,447.5 L177.5,447.1 L178.5,446.8 L179.5,446.6 L181,446.2 L182,446 L183.5,445.7 L184.5,445.5 L186,445.4 L187.5,445.3 L189,445.3 L190.5,445.4 L191.7,445.6 L193,445.9 L194,446.1 L195.5,446.6 L196.5,447 L197.5,447.4 L198.5,448 L199.5,448.5 L200.4,449.1 L201.2,449.6 L202,450.2 L203,450.9 L203.9,451.6 L204.5,452.1 L205.5,452.9 L206.3,453.6 L207,454.1 L208,454.8 L209,455.5 L210,456.1 L211,456.5 L212,456.9 L213,457.1 L214.5,457.4 L215.6,457.6 L217,457.8 L218.5,458 L219.5,458.1 L221,458.4 L222,458.6 L223.5,459.1 L224.5,459.4 L225.5,459.8 L226.5,460.3 L227.5,460.8 L228.5,461.3 L229.5,462 L230.4,462.6 L231.1,463.1 L232,463.8 L233,464.6 L233.7,465.1 L234.5,465.7 L235.5,466.3 L236.5,466.8 L238,467 L239.5,466.6 L240.5,466.2 L241.5,465.6 L242.2,465.1 L243,464.6 L244,463.9 L245,463.2 L246,462.6 L246.8,462.1 L247.7,461.6 L248.6,461.1 L249.7,460.6 L250.8,460.1 L252,459.6 L253,459.3 L254,459 L255.5,458.7 L256.5,458.5 L258,458.4 L259.5,458.3 L261,458.4 L262.5,458.6 L263.5,458.7 L265,459.1 L266,459.4 L267,459.8 L268,460.2 L269,460.7 L270,461.2 L271,461.9 L272,462.6 L272.6,463.1 L273.5,463.9 L274.1,464.6 L275,465.6 L275.5,466.2 L276.1,467.1 L276.8,468.1 L277.3,469.1 L277.8,470.1 L278.2,471.1 L278.6,472.1 L279,473.6 L279.2,474.6 L279.4,476.1 L279.5,477.6 L279.4,479.1 L279.3,480.6 L279,482.1 L278.8,483.1 L278.5,484.1 L278,485.4 L277.5,486.5 L277,487.5 L276.5,488.3 L276,489.1 L275.3,490.1 L274.5,491 L273.9,491.6 L273,492.5 L272.3,493.1 L271.5,493.7 L270.5,494.4 L269.5,495 L268.5,495.5 L267.5,496 L266.5,496.4 L265.5,496.7 L264.1,497.1 M260,496.1 L259,496.1 L257.5,496 L256,495.7 L255,495.5 L253.6,495.1 L252.5,494.7 L251.5,494.3 L250.5,493.8 L249.5,493.2 L248.6,492.6 L247.9,492.1 L247,491.4 L246,490.6 L245.5,490.1 L244.5,489.1 L244,488.6 L243.2,487.6 L242.5,486.8 L242,486.1 L241.2,485.1 L240.6,484.1 L240,483.3 L239.5,482.6 L238.8,481.6 L238,480.6 L237.5,480.1 L236,479.7 L235,480.1 L234,480.8 L233,481.5 L232.3,482.1 L231.5,482.7 L230.5,483.5 L229.6,484.1 L228.8,484.6 L227.9,485.1 L226.9,485.6 L225.7,486.1 L224.5,486.5 L223.5,486.7 L222,487 L220.9,487.1 L219.5,487.1 L218.5,487.1 L217,486.9 L215.8,486.6 L214.5,486.2 L213.5,485.9 L212.5,485.5 L211.4,485.1 L210.2,484.6 L209,484.1 L208,483.8 L207,483.5 L205.5,483.3 L204,483.4 L202.8,483.6 L201.5,483.9 L200.5,484.2 L199.4,484.6 L198,485.1 L197,485.4 L196,485.7 L194.5,486 L193.5,486.3 L192,486.5 L190.9,486.6 L189.5,486.7 L188,486.6 L187,486.6 L185.5,486.4 L184,486.2 L183,485.9 L181.6,485.6 L180.5,485.3 L179.5,485 L178,484.6 L177,484.3 L176,484 L174.5,483.7 L173.5,483.4 L172,483.2 L171,483 L169.5,482.8 L168,482.7 L167,482.6 L165.5,482.5 L164,482.4 L162.5,482.3 L161,482.2 L160,482.1 L158.5,481.9 L157,481.7 L156,481.6 L154.5,481.3 L153.5,481 L152,480.7 L151,480.4 L150,480 L148.9,479.6 L147.7,479.1 L146.6,478.6 L145.7,478.1 L144.9,477.6 L144,477 L143,476.3 L142.2,475.6 L141.5,474.9 L140.7,474.1 L140,473.1 L139.5,472.4 L139,471.5 L138.5,470.3 L138.2,469.1 L138,468.1 L137.9,466.6 L138,465.6 L138.4,464.1 L138.7,463.1 L139.2,462.1 L139.8,461.1 L140.5,460.2 L141,459.6 L142,458.6 L142.5,458.1 L143.5,457.3 L144.5,456.6 L145.4,456.1 L146.3,455.6 L147.3,455.1 L148.4,454.6 L149.5,454.2 L150.5,453.8 L151.5,453.5 L152.9,453.1 L154,452.8 L155.2,452.6 L156.5,452.4 L158,452.1 L159,452 L160.5,451.9 L162,451.7 L163.5,451.6 L164.5,451.6 L166,451.5 L167.5,451.4 L169,451.3 L170.4,451.1 L171.5,451 L173,450.7 L174,450.5 L175.5,450.1 L176.5,449.9 L177.6,449.6 L179,449.2 L180,448.9 L181.3,448.6 L182.5,448.3 L183.5,448.1 L185,447.9 L186.5,447.7 L188,447.6 L189.5,447.7 L191,447.8 L192.4,448.1 L193.5,448.4 L194.5,448.7 L195.5,449.1 L196.6,449.6 L197.6,450.1 L198.5,450.6 L199.5,451.3 L200.5,452 L201.2,452.6 L202,453.2 L203,454.1 L203.5,454.6 L204.5,455.5 L205.2,456.1 L206,456.8 L206.9,457.6 L207.6,458.1 L208.5,458.7 L209.5,459.2 L210.8,459.6 L212,459.8 L213.5,459.9 L215,459.9 L216.5,460 L218,460 L219.4,460.1 L220.5,460.2 L222,460.5 L223,460.8 L224,461.1 L225.3,461.6 L226.3,462.1 L227.2,462.6 L228,463.1 L229,463.8 L230,464.6 L230.5,465.1 L231.5,466 L232,466.6 L232.9,467.6 L233.5,468.3 L234.2,469.1 L235,470.1 L235.5,470.7 L236.5,471.5 L237.5,471.8 L238.5,471.4 L239.5,470.7 L240.2,470.1 L241,469.3 L241.7,468.6 L242.5,467.9 L243.3,467.1 L244,466.5 L245,465.6 L245.6,465.1 L246.5,464.4 L247.5,463.7 L248.4,463.1 L249.3,462.6 L250.2,462.1 L251.3,461.6 L252.5,461.1 L253.5,460.8 L254.5,460.5 L256,460.2 L257,460 L258.5,459.9 L260,459.8 L261.5,459.9 L262.8,460.1 L264,460.3 L265,460.6 L266.4,461.1 L267.5,461.6 L268.5,462.1 L269.4,462.6 L270.2,463.1 L271,463.7 L272,464.6 L272.6,465.1 L273.5,466.1 L274,466.7 L274.7,467.6 L275.4,468.6 L275.9,469.6 L276.4,470.6 L276.8,471.6 L277.2,472.6 L277.5,473.8 L277.8,475.1 L277.9,476.6 L278,478.1 L277.9,479.6 L277.7,481.1 L277.5,482.2 L277.1,483.6 L276.7,484.6 L276.3,485.6 L275.8,486.6 L275.2,487.6 L274.6,488.6 L274,489.3 L273.3,490.1 L272.5,491 L271.8,491.6 L271,492.3 L270,493 L269,493.6 L268.1,494.1 L267,494.6 L266,495 L265,495.3 L264,495.6 L262.5,495.9 L261,496.1 L260,496.1 M223,485.1 L221.5,485.4 L220,485.4 L218.5,485.3 L217.3,485.1 L216,484.7 L215,484.4 L214,483.9 L213,483.4 L212,482.9 L211,482.3 L210,481.6 L209.2,481.1 L208.3,480.6 L207.3,480.1 L206,479.7 L204.5,479.6 L203,480 L202,480.4 L201,480.8 L200,481.3 L199,481.7 L198,482.2 L197,482.6 L195.6,483.1 L194.5,483.5 L193.5,483.7 L192,484 L191,484.1 L189.5,484.2 L188,484.2 L186.5,484.1 L185.5,484 L184,483.7 L183,483.4 L181.8,483.1 L180.5,482.7 L179.5,482.4 L178.5,482.1 L177,481.7 L176,481.4 L174.6,481.1 L173.5,480.9 L172,480.7 L170.9,480.6 L169.5,480.5 L168,480.5 L166.5,480.5 L165,480.5 L163.5,480.4 L162,480.4 L160.5,480.3 L159,480.2 L158,480.1 L156.5,479.9 L155,479.6 L154,479.4 L152.7,479.1 L151.5,478.7 L150.5,478.4 L149.5,478 L148.5,477.6 L147.5,477.1 L146.5,476.5 L145.5,475.8 L144.5,475.1 L144,474.6 L143,473.7 L142.5,473.1 L141.8,472.1 L141.2,471.1 L140.8,470.1 L140.5,469.1 L140.2,467.6 L140.2,466.1 L140.5,464.8 L140.9,463.6 L141.4,462.6 L142,461.6 L142.5,460.9 L143.2,460.1 L144,459.4 L144.9,458.6 L145.6,458.1 L146.5,457.5 L147.5,456.9 L148.5,456.4 L149.5,456 L150.5,455.6 L152,455.1 L153,454.8 L154,454.6 L155.5,454.3 L156.5,454.1 L158,453.9 L159.5,453.8 L161,453.7 L162.4,453.6 L163.5,453.6 L165,453.6 L166.5,453.5 L168,453.5 L169.5,453.5 L171,453.4 L172.5,453.3 L173.7,453.1 L175,452.9 L176.2,452.6 L177.5,452.2 L178.5,452 L179.7,451.6 L181,451.2 L182,450.9 L183.4,450.6 L184.5,450.4 L186,450.2 L187,450.1 L188.5,450 L189.9,450.1 L191,450.2 L192.5,450.6 L193.5,450.8 L194.5,451.2 L195.5,451.7 L196.5,452.2 L197.5,452.8 L198.5,453.5 L199.3,454.1 L200,454.7 L201,455.6 L201.5,456.1 L202.4,457.1 L203,457.7 L203.7,458.6 L204.5,459.5 L205.1,460.1 L206,461.1 L206.6,461.6 L207.5,462.3 L208.5,462.7 L210,463 L211.5,463 L213,462.7 L214,462.5 L215.5,462.3 L216.9,462.1 L218,462 L219.5,462 L220.6,462.1 L222,462.3 L223.1,462.6 L224.5,463.1 L225.5,463.6 L226.4,464.1 L227.2,464.6 L228,465.2 L229,466.1 L229.5,466.7 L230.3,467.6 L231,468.6 L231.5,469.5 L232,470.5 L232.5,471.6 L232.7,472.6 L232.9,474.1 L232.9,475.6 L232.5,477.1 L232.1,478.1 L231.6,479.1 L231,479.9 L230.5,480.6 L229.5,481.6 L229,482.1 L228,482.9 L227,483.5 L226,484.1 L225,484.5 L224,484.9 L223,485.1 M263.5,494.2 L262,494.4 L260.5,494.6 L259,494.6 L257.5,494.4 L256,494.2 L255,493.9 L254,493.6 L252.7,493.1 L251.7,492.6 L250.8,492.1 L250,491.6 L249,490.9 L248,490.1 L247.4,489.6 L246.5,488.7 L246,488.1 L245.1,487.1 L244.5,486.3 L244,485.5 L243.4,484.6 L242.9,483.6 L242.4,482.6 L242,481.6 L241.5,480.1 L241.3,479.1 L241.1,477.6 L241.1,476.1 L241.4,474.6 L241.7,473.6 L242.2,472.6 L242.7,471.6 L243.3,470.6 L244,469.6 L244.5,468.9 L245.2,468.1 L246,467.3 L246.7,466.6 L247.5,465.9 L248.5,465.1 L249.3,464.6 L250,464.1 L251,463.6 L252,463.1 L253.1,462.6 L254.5,462.1 L255.5,461.8 L256.7,461.6 L258,461.4 L259.5,461.4 L261,461.4 L262.5,461.6 L263.5,461.8 L264.6,462.1 L266,462.6 L267,463 L268,463.5 L268.9,464.1 L269.7,464.6 L270.5,465.3 L271.4,466.1 L272,466.7 L272.8,467.6 L273.5,468.5 L274,469.3 L274.5,470.1 L275,471.1 L275.5,472.4 L275.9,473.6 L276.1,474.6 L276.4,476.1 L276.5,477.6 L276.4,479.1 L276.3,480.6 L276,482 L275.7,483.1 L275.3,484.1 L274.9,485.1 L274.4,486.1 L273.8,487.1 L273,488.1 L272.5,488.8 L271.7,489.6 L271,490.3 L270,491.1 L269.4,491.6 L268.5,492.2 L267.5,492.7 L266.5,493.2 L265.5,493.6 L264,494 M222,483.6 L220.5,483.8 L219,483.7 L218,483.5 L216.8,483.1 L215.6,482.6 L214.7,482.1 L213.9,481.6 L213,480.9 L212.1,480.1 L211.5,479.5 L210.7,478.6 L210,477.7 L209.5,477 L208.9,476.1 L208.2,475.1 L207.5,474.1 L207,473.4 L206,472.9 L205,473.4 L204.1,474.1 L203.5,474.6 L202.5,475.5 L201.9,476.1 L201,476.8 L200,477.6 L199.4,478.1 L198.5,478.7 L197.5,479.3 L196.5,479.9 L195.5,480.4 L194.5,480.8 L193.5,481.1 L192,481.5 L191,481.7 L189.5,481.8 L188,481.8 L186.5,481.6 L185.5,481.4 L184.1,481.1 L183,480.8 L182,480.5 L180.9,480.1 L179.5,479.6 L178.5,479.3 L177.5,479 L176.1,478.6 L175,478.4 L173.5,478.2 L172,478.1 L171.2,478.1 L170,478.1 L168.5,478.2 L167,478.3 L165.5,478.4 L164,478.5 L162.5,478.5 L161,478.5 L159.5,478.5 L158,478.4 L156.5,478.2 L155.5,478 L154,477.7 L153,477.4 L151.9,477.1 L150.6,476.6 L149.5,476.1 L148.5,475.6 L147.7,475.1 L146.9,474.6 L146,473.9 L145.2,473.1 L144.5,472.3 L144,471.6 L143.4,470.6 L142.9,469.6 L142.5,468.1 L142.5,467.1 L142.5,466.1 L142.9,464.6 L143.3,463.6 L143.8,462.6 L144.5,461.7 L145,461.1 L146,460.1 L146.7,459.6 L147.5,459 L148.5,458.4 L149.5,457.9 L150.5,457.4 L151.5,457 L152.9,456.6 L154,456.3 L155,456.1 L156.5,455.8 L158,455.6 L159,455.5 L160.5,455.5 L162,455.5 L163.5,455.5 L165,455.6 L166,455.6 L167.5,455.7 L169,455.8 L170.5,455.9 L172,455.9 L173.5,455.8 L175,455.7 L176,455.5 L177.4,455.1 L178.5,454.8 L179.5,454.4 L180.5,454.1 L182,453.6 L183,453.3 L184,453 L185.5,452.7 L186.5,452.6 L188,452.4 L189.5,452.5 L190.6,452.6 L192,452.9 L193,453.2 L194.1,453.6 L195.1,454.1 L196,454.6 L197,455.3 L198,456.1 L198.5,456.6 L199.5,457.6 L200,458.2 L200.7,459.1 L201.4,460.1 L202,461 L202.5,461.8 L203,462.7 L203.5,463.6 L204,464.6 L204.5,465.6 L205,466.6 L205.5,467.6 L206.1,468.6 L207,469.3 L208,469 L209,468.4 L210,467.6 L210.7,467.1 L211.5,466.6 L212.5,466 L213.5,465.4 L214.5,465 L215.5,464.6 L217,464.2 L218,464 L219.5,463.9 L221,463.9 L222,464.1 L223.5,464.5 L224.5,464.9 L225.5,465.5 L226.4,466.1 L227,466.6 L228,467.6 L228.5,468.2 L229.1,469.1 L229.7,470.1 L230.1,471.1 L230.5,472.6 L230.6,473.6 L230.6,475.1 L230.4,476.1 L230,477.4 L229.5,478.5 L229,479.3 L228.4,480.1 L227.5,481 L226.8,481.6 L226,482.2 L225,482.7 L224,483.1 L222.5,483.6 M263,492.7 L261.5,492.9 L260,493 L258.5,492.9 L257,492.7 L256,492.5 L254.6,492.1 L253.5,491.7 L252.5,491.2 L251.5,490.6 L250.7,490.1 L250,489.6 L249,488.7 L248.3,488.1 L247.5,487.2 L247,486.6 L246.3,485.6 L245.7,484.6 L245.1,483.6 L244.7,482.6 L244.3,481.6 L244,480.4 L243.8,479.1 L243.7,477.6 L243.8,476.1 L244,474.8 L244.3,473.6 L244.7,472.6 L245.2,471.6 L245.8,470.6 L246.5,469.6 L247,469 L247.8,468.1 L248.5,467.4 L249.5,466.6 L250.1,466.1 L251,465.5 L252,464.9 L253,464.4 L254,464 L255.2,463.6 L256.5,463.3 L257.5,463.1 L259,463 L260.5,463 L261.8,463.1 L263,463.3 L264.1,463.6 L265.5,464.1 L266.5,464.5 L267.5,465.1 L268.3,465.6 L269,466.1 L270,466.9 L270.7,467.6 L271.5,468.5 L272,469.1 L272.7,470.1 L273.2,471.1 L273.7,472.1 L274.1,473.1 L274.5,474.5 L274.7,475.6 L274.9,477.1 L274.9,478.6 L274.8,480.1 L274.5,481.5 L274.2,482.6 L273.8,483.6 L273.4,484.6 L272.8,485.6 L272.2,486.6 L271.5,487.5 L271,488.1 L270,489.1 L269.4,489.6 L268.5,490.3 L267.5,490.9 L266.5,491.5 L265.5,491.9 L264.5,492.3 L263.3,492.6 M191,479.1 L189.5,479.3 L188,479.2 L186.9,479.1 L185.5,478.8 L184.5,478.5 L183.3,478.1 L182.1,477.6 L181,477.1 L180,476.7 L179,476.2 L178,475.8 L177,475.5 L175.5,475.2 L174,475.1 L172.5,475.2 L171,475.4 L169.7,475.6 L168.5,475.8 L167,476.1 L166,476.3 L164.5,476.5 L163.5,476.6 L162,476.7 L160.5,476.8 L159,476.7 L157.5,476.6 L156.5,476.5 L155,476.2 L154,476 L152.8,475.6 L151.5,475.1 L150.5,474.7 L149.5,474.1 L148.7,473.6 L148,473.1 L147,472.2 L146.5,471.6 L145.8,470.6 L145.3,469.6 L144.9,468.6 L144.7,467.1 L144.9,465.6 L145.2,464.6 L145.7,463.6 L146.3,462.6 L147,461.9 L147.8,461.1 L148.5,460.5 L149.5,459.9 L150.5,459.3 L151.5,458.9 L152.5,458.5 L153.7,458.1 L155,457.8 L156,457.6 L157.5,457.4 L159,457.3 L160.5,457.2 L162,457.3 L163.5,457.4 L165,457.6 L166,457.7 L167.5,458 L168.5,458.2 L170,458.5 L171,458.6 L172.5,458.8 L174,458.9 L175.5,458.8 L176.6,458.6 L178,458.2 L179,457.8 L180,457.4 L181,457 L182,456.5 L183,456.1 L184.5,455.6 L185.5,455.3 L186.5,455.1 L188,454.9 L189.5,454.9 L190.8,455.1 L192,455.4 L193,455.7 L194,456.2 L195,456.8 L196,457.5 L196.6,458.1 L197.5,459 L198,459.6 L198.7,460.6 L199.3,461.6 L199.8,462.6 L200.3,463.6 L200.6,464.6 L200.9,466.1 L201.1,467.1 L201.1,468.6 L201,469.6 L200.6,471.1 L200.3,472.1 L199.7,473.1 L199.1,474.1 L198.5,474.8 L197.8,475.6 L197,476.3 L196,477.1 L195.2,477.6 L194.3,478.1 L193.1,478.6 L192,478.9 L191,479.1 M262,491.2 L260.5,491.3 L259,491.3 L257.5,491.2 L256.5,490.9 L255.3,490.6 L254.1,490.1 L253.1,489.6 L252.3,489.1 L251.5,488.6 L250.5,487.8 L249.8,487.1 L249,486.2 L248.5,485.6 L247.8,484.6 L247.3,483.6 L246.8,482.6 L246.4,481.6 L246,480.1 L245.9,479.1 L245.8,477.6 L245.9,476.1 L246.1,475.1 L246.5,473.8 L247,472.6 L247.5,471.7 L248,470.9 L248.5,470.1 L249.4,469.1 L250,468.5 L251,467.7 L251.8,467.1 L252.5,466.6 L253.5,466.1 L254.6,465.6 L256,465.1 L257,464.9 L258.5,464.7 L260,464.6 L261.5,464.7 L263,465 L264,465.3 L265,465.6 L266,466.1 L267,466.7 L268,467.4 L268.9,468.1 L269.5,468.7 L270.3,469.6 L271,470.5 L271.5,471.4 L272,472.3 L272.5,473.5 L272.8,474.6 L273.1,475.6 L273.2,477.1 L273.3,478.6 L273.1,480.1 L272.9,481.1 L272.5,482.5 L272,483.6 L271.5,484.6 L271,485.4 L270.5,486.1 L269.7,487.1 L269,487.8 L268,488.6 L267.3,489.1 L266.5,489.6 L265.5,490.1 L264.3,490.6 L263,491 L262,491.2 M221,482.1 L220,482.1 L218.5,481.8 L217.5,481.5 L216.5,481 L215.5,480.4 L214.6,479.6 L214,479 L213.3,478.1 L212.7,477.1 L212.2,476.1 L211.9,475.1 L211.7,473.6 L211.8,472.1 L212.1,471.1 L212.5,470.1 L213.2,469.1 L214,468.2 L214.7,467.6 L215.5,467 L216.5,466.5 L217.5,466.1 L219,465.7 L220.5,465.6 L222,465.8 L223,466.1 L224.1,466.6 L225,467.1 L226,467.9 L226.7,468.6 L227.4,469.6 L228,470.6 L228.4,471.6 L228.6,472.6 L228.8,474.1 L228.6,475.6 L228.3,476.6 L227.9,477.6 L227.3,478.6 L226.5,479.6 L226,480.1 L225,480.8 L224,481.4 L223,481.8 L221.5,482.1 M190.5,476.6 L189,476.7 L187.7,476.6 L186.5,476.3 L185.5,476 L184.5,475.6 L183.5,475 L182.5,474.4 L181.5,473.7 L180.6,473.1 L179.9,472.6 L179,471.9 L178,471.2 L177,470.7 L176,470.5 L174.6,470.6 L173.5,470.9 L172.5,471.4 L171.5,471.8 L170.5,472.3 L169.5,472.8 L168.5,473.2 L167.4,473.6 L166,474.1 L165,474.3 L163.8,474.6 L162.5,474.8 L161,475 L159.5,475 L158,475 L156.5,474.8 L155.4,474.6 L154,474.2 L153,473.9 L152,473.5 L151,472.9 L150,472.3 L149.2,471.6 L148.5,470.8 L148,470.1 L147.4,469.1 L147,467.6 L147.1,466.1 L147.5,464.7 L148,463.8 L148.5,463.1 L149.5,462.1 L150.2,461.6 L151,461.1 L152,460.5 L153,460.1 L154.5,459.6 L155.5,459.4 L157,459.1 L158,459 L159.5,459 L161,459 L162,459.1 L163.5,459.3 L164.7,459.6 L166,459.9 L167,460.3 L168,460.6 L169.2,461.1 L170.3,461.6 L171.4,462.1 L172.4,462.6 L173.5,463.1 L174.5,463.4 L176,463.5 L177.4,463.1 L178.3,462.6 L179.1,462.1 L180,461.4 L181,460.7 L181.8,460.1 L182.5,459.6 L183.5,459 L184.5,458.5 L185.5,458.1 L187,457.6 L188,457.5 L189.5,457.4 L190.8,457.6 L192,457.9 L193,458.4 L194,459 L194.8,459.6 L195.5,460.3 L196.2,461.1 L196.8,462.1 L197.3,463.1 L197.7,464.1 L198,465.1 L198.2,466.6 L198.3,468.1 L198,469.6 L197.7,470.6 L197.3,471.6 L196.7,472.6 L196,473.6 L195.5,474.1 L194.5,475 L193.5,475.6 L192.5,476.1 L191.5,476.4 L190.5,476.6 M260.5,489.6 L259.2,489.6 L258,489.5 L256.5,489.1 L255.5,488.8 L254.5,488.4 L253.5,487.8 L252.5,487.1 L251.9,486.6 L251,485.7 L250.5,485.1 L249.7,484.1 L249.2,483.1 L248.7,482.1 L248.3,481.1 L248,479.7 L247.9,478.6 L247.9,477.1 L248,476.1 L248.4,474.6 L248.7,473.6 L249.2,472.6 L249.8,471.6 L250.5,470.7 L251,470.1 L252,469.2 L252.8,468.6 L253.5,468.1 L254.5,467.6 L255.6,467.1 L257,466.7 L258,466.5 L259.5,466.3 L261,466.4 L262.2,466.6 L263.5,466.9 L264.5,467.3 L265.5,467.8 L266.5,468.4 L267.4,469.1 L268,469.6 L268.9,470.6 L269.5,471.4 L270,472.2 L270.5,473.2 L271,474.5 L271.3,475.6 L271.5,476.9 L271.6,478.1 L271.5,479.1 L271.3,480.6 L271,481.6 L270.5,482.8 L270,483.8 L269.5,484.6 L268.7,485.6 L268,486.3 L267.1,487.1 L266.5,487.6 L265.5,488.2 L264.5,488.7 L263.3,489.1 L262,489.4 L260.5,489.6 M222.5,480.2 L221,480.5 L219.5,480.4 L218.5,480.1 L217.5,479.6 L216.5,478.9 L215.7,478.1 L215,477.1 L214.5,476.1 L214.2,475.1 L214.1,473.6 L214.3,472.1 L214.7,471.1 L215.2,470.1 L216,469.2 L216.7,468.6 L217.5,468.1 L218.8,467.6 L220,467.4 L221.5,467.4 L222.5,467.7 L223.5,468.1 L224.5,468.7 L225.4,469.6 L226,470.3 L226.5,471.3 L226.9,472.6 L227.1,473.6 L227,475.1 L226.8,476.1 L226.3,477.1 L225.7,478.1 L225,478.8 L224,479.6 L223,480.1 M189.5,474.1 L188.5,474 L187,473.6 L186,473.1 L185.2,472.6 L184.5,472 L183.7,471.1 L183,470.1 L182.5,469.1 L182.2,468.1 L182.1,466.6 L182.5,465.1 L182.9,464.1 L183.5,463.2 L184,462.6 L185,461.6 L185.7,461.1 L186.6,460.6 L188,460.1 L189,460 L190.5,460.1 L191.5,460.4 L192.5,460.9 L193.5,461.6 L194,462.2 L194.7,463.1 L195.2,464.1 L195.6,465.1 L195.8,466.6 L195.8,468.1 L195.5,469.4 L195,470.6 L194.5,471.4 L194,472.1 L193,473 L192,473.6 L191,473.9 L189.9,474.1 M161.5,473.1 L160,473.3 L158.5,473.3 L157,473.2 L156,473 L154.5,472.6 L153.5,472.2 L152.5,471.7 L151.6,471.1 L151,470.6 L150.1,469.6 L149.6,468.6 L149.3,467.6 L149.4,466.1 L149.7,465.1 L150.3,464.1 L151,463.4 L152,462.6 L152.8,462.1 L153.9,461.6 L155,461.2 L156,461 L157.5,460.7 L159,460.7 L160.5,460.7 L162,461 L163,461.2 L164.2,461.6 L165.4,462.1 L166.3,462.6 L167.1,463.1 L168,463.9 L168.6,464.6 L169.2,465.6 L169.5,467.1 L169.1,468.6 L168.5,469.5 L168,470.1 L167,470.9 L166,471.6 L165,472.1 L164,472.5 L163,472.8 L161.6,473.1 M261.5,487.6 L260,487.8 L258.5,487.7 L257.5,487.5 L256.3,487.1 L255.2,486.6 L254.3,486.1 L253.5,485.5 L252.6,484.6 L252,483.9 L251.4,483.1 L250.8,482.1 L250.4,481.1 L250,479.6 L249.9,478.6 L249.9,477.1 L250.1,476.1 L250.5,474.6 L250.9,473.6 L251.5,472.7 L252,472 L252.8,471.1 L253.5,470.5 L254.5,469.7 L255.5,469.2 L256.5,468.8 L257.5,468.5 L259,468.2 L260.5,468.2 L262,468.4 L263,468.7 L264,469.1 L265,469.6 L266,470.3 L266.9,471.1 L267.5,471.8 L268.1,472.6 L268.7,473.6 L269.1,474.6 L269.5,476 L269.7,477.1 L269.7,478.6 L269.5,480 L269.2,481.1 L268.8,482.1 L268.3,483.1 L267.6,484.1 L267,484.8 L266.1,485.6 L265.4,486.1 L264.5,486.6 L263.5,487.1 L262,487.6 M222,478.7 L220.5,478.9 L219.3,478.6 L218.3,478.1 L217.5,477.5 L216.8,476.6 L216.3,475.6 L216,474.1 L216.2,472.6 L216.6,471.6 L217.2,470.6 L218,469.9 L219,469.4 L220,469.1 L221.5,469.1 L222.5,469.4 L223.5,469.9 L224.2,470.6 L224.9,471.6 L225.3,472.6 L225.5,473.6 L225.5,474.6 L225.1,476.1 L224.5,477.1 L224,477.6 L223,478.3 L222,478.7" fill="none" stroke="#1a1a1a" stroke-width="0.9" stroke-opacity="0.95" stroke-linejoin="round" clip-path="url(#cg)"/>
<path d="M252.5,492.6 L251,492.8 L249.5,492.8 L248,492.7 L247,492.6 L245.5,492.4 L244,492.1 L243,491.9 L241.7,491.6 L240.5,491.3 L239.4,491.1 L238,490.8 L236.5,490.6 L235.5,490.5 L234,490.4 L232.5,490.3 L231,490.3 L229.5,490.4 L228,490.4 L226.5,490.4 L225,490.4 L223.5,490.4 L222,490.3 L220.5,490.2 L219.2,490.1 L218,490 L216.5,489.7 L215.5,489.6 L214,489.3 L213,489.1 L211.5,488.8 L210.5,488.6 L209,488.2 L208,488 L206.5,487.7 L205.5,487.5 L204,487.2 L203,487 L201.5,486.7 L200.5,486.5 L199,486.2 L198,485.9 L196.5,485.6 L195.5,485.4 L194.3,485.1 L193,484.8 L192,484.5 L190.5,484.1 L189.5,483.8 L188.5,483.6 L187,483.2 L186,482.9 L184.5,482.6 L183.5,482.4 L182,482.1 L181,482 L179.5,481.8 L178,481.6 L177,481.5 L175.5,481.4 L174,481.3 L172.5,481.2 L171.5,481.1 L170,480.9 L168.5,480.7 L167.5,480.6 L166,480.3 L164.7,480.1 L163.5,479.8 L162.5,479.6 L161,479.2 L160,478.8 L159,478.5 L158,478.1 L156.8,477.6 L155.8,477.1 L154.9,476.6 L154,476.1 L153,475.4 L152,474.7 L151.3,474.1 L150.5,473.3 L149.9,472.6 L149.1,471.6 L148.5,470.7 L148,469.7 L147.6,468.6 L147.4,467.6 L147.2,466.1 L147.3,464.6 L147.5,463.6 L148,462.4 L148.5,461.4 L149,460.6 L149.7,459.6 L150.5,458.7 L151.2,458.1 L152,457.4 L153,456.6 L153.8,456.1 L154.6,455.6 L155.6,455.1 L156.6,454.6 L157.7,454.1 L159,453.6 L160,453.3 L161,453 L162.4,452.6 L163.5,452.3 L164.8,452.1 L166,451.9 L167.5,451.7 L168.6,451.6 L170,451.5 L171.5,451.4 L173,451.4 L174.5,451.4 L176,451.4 L177.5,451.5 L179,451.6 L180,451.6 L181.5,451.8 L183,451.9 L184.5,452 L186,452 L187.5,452.1 L188.5,452.1 L190,452.1 L191.5,452.1 L193,452.1 L194,452.1 L195.5,452 L197,452 L198.5,452 L200,451.9 L201.5,451.9 L203,452 L204.5,452 L206,452 L207.5,452.1 L208.5,452.1 L210,452.2 L211.5,452.3 L213,452.3 L214.5,452.4 L216,452.5 L217.5,452.6 L218.5,452.6 L220,452.8 L221.5,452.9 L223,453.1 L224,453.2 L225.5,453.5 L226.5,453.7 L228,454 L229,454.2 L230.4,454.6 L231.5,454.9 L232.5,455.2 L233.7,455.6 L235,456 L236,456.4 L237,456.7 L238,457.1 L239.5,457.6 L240.5,457.9 L241.5,458.2 L243,458.5 L244,458.7 L245.5,459 L246.5,459.2 L248,459.4 L249,459.6 L250.5,459.9 L251.6,460.1 L253,460.5 L254,460.7 L255,461.1 L256.3,461.6 L257.4,462.1 L258.3,462.6 L259.2,463.1 L260,463.7 L261,464.4 L261.8,465.1 L262.5,465.8 L263.2,466.6 L264,467.6 L264.5,468.4 L265,469.2 L265.5,470.2 L266,471.4 L266.4,472.6 L266.7,473.6 L266.9,475.1 L267,476.6 L267,478.1 L266.8,479.6 L266.5,480.8 L266.1,482.1 L265.7,483.1 L265.2,484.1 L264.6,485.1 L264,486 L263.5,486.7 L262.7,487.6 L262,488.3 L261.1,489.1 L260.4,489.6 L259.5,490.2 L258.5,490.8 L257.5,491.2 L256.5,491.6 L255.1,492.1 L254,492.4 L252.6,492.6 M252,491.1 L250.5,491.2 L249,491.2 L248,491.1 L246.5,490.9 L245,490.6 L244,490.4 L243,490.1 L241.5,489.7 L240.5,489.4 L239.1,489.1 L238,488.9 L236.5,488.7 L235.5,488.6 L234,488.5 L232.5,488.6 L231.4,488.6 L230,488.7 L228.5,488.8 L227,488.9 L225.5,488.9 L224,488.9 L222.5,488.9 L221,488.8 L219.5,488.7 L218.5,488.6 L217,488.4 L215.5,488.1 L214.5,487.9 L213,487.6 L212,487.4 L210.7,487.1 L209.5,486.8 L208.4,486.6 L207,486.3 L206,486.1 L204.5,485.8 L203.4,485.6 L202,485.3 L200.7,485.1 L199.5,484.9 L198.1,484.6 L197,484.4 L195.8,484.1 L194.5,483.8 L193.5,483.5 L192,483.2 L191,482.9 L189.9,482.6 L188.5,482.2 L187.5,482 L186.1,481.6 L185,481.4 L183.7,481.1 L182.5,480.9 L181,480.7 L179.8,480.6 L178.5,480.5 L177,480.4 L175.5,480.3 L174,480.2 L172.5,480.1 L171.5,480.1 L170,479.9 L168.5,479.8 L167.4,479.6 L166,479.4 L164.6,479.1 L163.5,478.9 L162.5,478.6 L161,478.2 L160,477.8 L159,477.5 L158,477 L157,476.6 L156,476.1 L155,475.5 L154,474.8 L153.1,474.1 L152.5,473.6 L151.5,472.6 L151,472.1 L150.3,471.1 L149.7,470.1 L149.2,469.1 L148.9,468.1 L148.6,466.6 L148.7,465.1 L149,463.6 L149.3,462.6 L149.9,461.6 L150.5,460.6 L151,460 L151.8,459.1 L152.5,458.4 L153.5,457.6 L154.2,457.1 L155,456.6 L156,456 L157,455.5 L158,455 L159.1,454.6 L160.5,454.1 L161.5,453.8 L162.5,453.5 L164,453.2 L165,453 L166.5,452.7 L167.8,452.6 L169,452.5 L170.5,452.4 L172,452.3 L173.5,452.3 L175,452.4 L176.5,452.4 L178,452.5 L179,452.6 L180.5,452.8 L182,452.9 L183.5,453.1 L184.5,453.1 L186,453.3 L187.5,453.4 L189,453.4 L190.5,453.4 L192,453.4 L193.5,453.4 L195,453.4 L196.5,453.3 L198,453.3 L199.5,453.3 L201,453.3 L202.5,453.3 L204,453.3 L205.5,453.4 L207,453.5 L208.5,453.5 L209.6,453.6 L211,453.7 L212.5,453.8 L214,453.8 L215.5,453.9 L217,454 L218.2,454.1 L219.5,454.2 L221,454.3 L222.5,454.5 L223.5,454.6 L225,454.9 L226.2,455.1 L227.5,455.4 L228.5,455.6 L230,456.1 L231,456.4 L232,456.7 L233.1,457.1 L234.4,457.6 L235.5,458 L236.5,458.4 L237.5,458.8 L238.5,459.2 L239.7,459.6 L241,460 L242,460.3 L243.5,460.6 L244.5,460.8 L246,461 L247,461.1 L248.5,461.3 L250,461.5 L251,461.7 L252.5,462 L253.5,462.3 L254.5,462.6 L255.8,463.1 L256.9,463.6 L257.8,464.1 L258.6,464.6 L259.5,465.2 L260.5,466 L261.1,466.6 L262,467.5 L262.5,468.1 L263.2,469.1 L263.8,470.1 L264.3,471.1 L264.7,472.1 L265,473.1 L265.3,474.6 L265.5,476.1 L265.5,477.1 L265.5,478.1 L265.2,479.6 L265,480.6 L264.5,482.1 L264.1,483.1 L263.5,484.1 L263,484.9 L262.5,485.6 L261.6,486.6 L261,487.2 L260,488 L259.2,488.6 L258.4,489.1 L257.5,489.6 L256.3,490.1 L255,490.6 L254,490.8 L252.5,491.1 M251.5,489.6 L250,489.6 L249,489.6 L247.5,489.4 L246,489.1 L245,488.8 L244,488.5 L242.6,488.1 L241.5,487.7 L240.5,487.4 L239.3,487.1 L238,486.8 L236.5,486.6 L235.5,486.6 L234,486.6 L233,486.7 L231.5,486.8 L230,487 L228.9,487.1 L227.5,487.2 L226,487.4 L224.5,487.4 L223,487.4 L221.5,487.4 L220,487.3 L218.5,487.1 L217.5,487 L216,486.7 L215,486.5 L213.5,486.2 L212.5,486 L211,485.6 L210,485.4 L208.5,485.1 L207.5,484.9 L206,484.6 L205,484.4 L203.5,484.2 L202.5,484 L201,483.7 L200,483.6 L198.5,483.3 L197.5,483.1 L196,482.8 L195,482.6 L193.5,482.2 L192.5,481.9 L191.3,481.6 L190,481.2 L189,481 L187.7,480.6 L186.5,480.3 L185.5,480.1 L184,479.8 L182.5,479.6 L181.5,479.5 L180,479.4 L178.5,479.3 L177,479.3 L175.5,479.2 L174,479.2 L172.5,479.1 L171.5,479.1 L170,479 L168.5,478.8 L167,478.6 L166,478.4 L164.5,478.1 L163.5,477.9 L162.4,477.6 L161,477.2 L160,476.8 L159,476.4 L158,475.9 L157,475.4 L156,474.9 L155,474.2 L154.2,473.6 L153.5,473 L152.6,472.1 L152,471.4 L151.5,470.6 L150.9,469.6 L150.5,468.6 L150.1,467.1 L150,465.6 L150.3,464.1 L150.6,463.1 L151.1,462.1 L151.7,461.1 L152.5,460.1 L153,459.5 L154,458.6 L154.7,458.1 L155.5,457.5 L156.5,456.9 L157.5,456.4 L158.5,455.9 L159.5,455.5 L160.5,455.1 L162,454.6 L163,454.4 L164.1,454.1 L165.5,453.8 L167,453.6 L168,453.5 L169.5,453.4 L171,453.3 L172.5,453.3 L174,453.3 L175.5,453.4 L177,453.5 L178.2,453.6 L179.5,453.7 L181,453.9 L182.4,454.1 L183.5,454.2 L185,454.4 L186.5,454.6 L187.5,454.6 L189,454.7 L190.5,454.8 L192,454.8 L193.5,454.7 L195,454.7 L196.5,454.6 L197.9,454.6 L199,454.6 L200.5,454.6 L201.6,454.6 L203,454.6 L204.5,454.7 L206,454.8 L207.5,454.9 L209,455 L210.2,455.1 L211.5,455.2 L213,455.3 L214.5,455.4 L216,455.5 L217.5,455.5 L218.5,455.6 L220,455.7 L221.5,455.9 L223,456 L224,456.2 L225.5,456.5 L226.5,456.7 L228,457.1 L229,457.3 L230,457.7 L231.2,458.1 L232.5,458.6 L233.5,459 L234.5,459.5 L235.5,459.9 L236.5,460.4 L237.5,460.8 L238.5,461.2 L239.5,461.6 L240.9,462.1 L242,462.4 L243.1,462.6 L244.5,462.8 L246,462.9 L247.5,463 L248.5,463.1 L250,463.3 L251.5,463.5 L252.5,463.7 L253.9,464.1 L255,464.5 L256,464.9 L257,465.4 L258,466 L258.8,466.6 L259.5,467.2 L260.5,468.1 L261,468.7 L261.7,469.6 L262.3,470.6 L262.9,471.6 L263.3,472.6 L263.6,473.6 L263.9,475.1 L264,476.2 L264,477.6 L263.9,478.6 L263.6,480.1 L263.3,481.1 L262.9,482.1 L262.4,483.1 L261.7,484.1 L261,485 L260.5,485.6 L259.5,486.5 L258.7,487.1 L258,487.6 L257,488.1 L256,488.6 L254.5,489.1 L253.5,489.4 L252,489.6 M254,487.7 L252.5,488 L251,488.1 L249.5,488 L248,487.8 L247,487.6 L245.5,487.2 L244.5,486.8 L243.5,486.4 L242.5,486 L241.5,485.6 L240.2,485.1 L239,484.7 L238,484.5 L236.5,484.4 L235,484.4 L233.6,484.6 L232.5,484.8 L231,485.1 L230,485.2 L228.5,485.5 L227.5,485.6 L226,485.8 L224.5,485.9 L223,485.9 L221.5,485.9 L220,485.8 L218.5,485.6 L217.5,485.5 L216,485.2 L215,485 L213.5,484.6 L212.5,484.4 L211.2,484.1 L210,483.8 L208.9,483.6 L207.5,483.3 L206.2,483.1 L205,482.9 L203.5,482.7 L202.5,482.6 L201,482.3 L199.5,482.1 L198.5,481.9 L197,481.6 L196,481.4 L194.6,481.1 L193.5,480.8 L192.5,480.5 L191,480.1 L190,479.8 L189,479.5 L187.5,479.1 L186.5,478.9 L185.2,478.6 L184,478.4 L182.5,478.3 L181,478.2 L179.5,478.2 L178,478.2 L176.5,478.2 L175,478.2 L173.5,478.2 L172,478.1 L171,478.1 L169.5,478 L168,477.8 L166.7,477.6 L165.5,477.4 L164.2,477.1 L163,476.8 L162,476.5 L160.9,476.1 L159.6,475.6 L158.6,475.1 L157.6,474.6 L156.8,474.1 L156,473.6 L155,472.8 L154.3,472.1 L153.5,471.3 L153,470.6 L152.4,469.6 L151.9,468.6 L151.5,467.1 L151.4,466.1 L151.5,465.1 L151.9,463.6 L152.3,462.6 L152.9,461.6 L153.5,460.8 L154.1,460.1 L155,459.3 L155.8,458.6 L156.6,458.1 L157.5,457.5 L158.5,457 L159.5,456.5 L160.6,456.1 L162,455.6 L163,455.3 L164,455.1 L165.5,454.7 L166.5,454.6 L168,454.4 L169.5,454.3 L171,454.2 L172.5,454.2 L174,454.3 L175.5,454.3 L177,454.5 L178,454.6 L179.5,454.8 L181,455.1 L182,455.2 L183.5,455.5 L184.5,455.6 L186,455.8 L187.5,456 L189,456.1 L190,456.1 L191.5,456.1 L193,456.1 L194,456.1 L195.5,456 L197,456 L198.5,455.9 L200,455.9 L201.5,455.9 L203,456 L204.5,456.1 L205.5,456.2 L207,456.3 L208.5,456.4 L210,456.6 L211,456.7 L212.5,456.8 L214,456.9 L215.5,457 L217,457.1 L218,457.1 L219.5,457.2 L221,457.3 L222.5,457.5 L223.5,457.6 L225,457.9 L226,458.1 L227.5,458.5 L228.5,458.8 L229.5,459.1 L230.7,459.6 L231.9,460.1 L232.9,460.6 L233.9,461.1 L234.9,461.6 L235.8,462.1 L236.7,462.6 L237.6,463.1 L238.7,463.6 L239.8,464.1 L241,464.5 L242,464.7 L243.5,464.9 L245,464.9 L246.5,465 L248,465 L249.5,465 L250.5,465.1 L252,465.3 L253.3,465.6 L254.5,466 L255.5,466.4 L256.5,466.9 L257.5,467.5 L258.2,468.1 L259,468.8 L259.8,469.6 L260.5,470.5 L261,471.3 L261.5,472.3 L262,473.5 L262.3,474.6 L262.5,476.1 L262.5,477.1 L262.5,478.1 L262.2,479.6 L261.9,480.6 L261.5,481.6 L260.9,482.6 L260.2,483.6 L259.5,484.5 L258.8,485.1 L258,485.8 L257,486.4 L256,487 L255,487.4 L254,487.7 M253.5,486.2 L252,486.5 L250.5,486.5 L249,486.3 L247.9,486.1 L246.5,485.7 L245.5,485.3 L244.5,484.8 L243.5,484.3 L242.5,483.7 L241.5,483.1 L240.5,482.6 L239.5,482.2 L238.5,481.9 L237,481.8 L235.5,482 L234.5,482.2 L233,482.6 L232,482.9 L231,483.2 L229.5,483.6 L228.5,483.8 L227,484.1 L226,484.3 L224.5,484.4 L223,484.5 L221.5,484.4 L220,484.3 L218.5,484.1 L217.5,484 L216,483.6 L215,483.4 L213.7,483.1 L212.5,482.8 L211.5,482.5 L210,482.2 L209,482 L207.5,481.7 L206.5,481.6 L205,481.4 L203.5,481.2 L202.5,481.1 L201,480.9 L199.5,480.7 L198.5,480.5 L197,480.3 L196,480 L194.5,479.7 L193.5,479.4 L192.5,479.1 L191,478.6 L190,478.3 L189,478 L187.5,477.6 L186.5,477.4 L185,477.1 L184,477 L182.5,476.9 L181,476.9 L179.5,476.9 L178,477 L176.5,477.1 L175.5,477.1 L174,477.1 L172.5,477.1 L171,477.1 L170,477 L168.5,476.9 L167,476.7 L166,476.5 L164.5,476.2 L163.5,476 L162.4,475.6 L161,475.1 L160,474.7 L159,474.2 L158,473.6 L157.2,473.1 L156.5,472.6 L155.5,471.7 L154.9,471.1 L154.2,470.1 L153.6,469.1 L153.2,468.1 L152.9,467.1 L152.9,465.6 L153,464.6 L153.5,463.1 L154,462.2 L154.5,461.5 L155.3,460.6 L156,459.9 L157,459.1 L157.7,458.6 L158.6,458.1 L159.5,457.6 L160.6,457.1 L162,456.6 L163,456.3 L164,456 L165.5,455.7 L166.5,455.5 L168,455.3 L169.5,455.2 L171,455.1 L172.5,455.1 L174,455.2 L175.5,455.3 L177,455.5 L178,455.7 L179.5,455.9 L180.5,456.1 L182,456.4 L183,456.6 L184.5,456.9 L185.5,457.1 L187,457.3 L188.5,457.5 L190,457.6 L191.5,457.6 L193,457.5 L194.5,457.5 L196,457.4 L197.5,457.3 L199,457.3 L200.5,457.3 L202,457.3 L203.5,457.4 L205,457.5 L206,457.6 L207.5,457.8 L209,458 L210,458.1 L211.5,458.3 L213,458.4 L214.5,458.5 L216,458.6 L217,458.6 L218.5,458.7 L220,458.8 L221.5,458.9 L223,459.1 L224,459.2 L225.5,459.5 L226.5,459.8 L227.6,460.1 L229,460.6 L230,461 L231,461.5 L232,462 L233,462.6 L233.8,463.1 L234.6,463.6 L235.5,464.2 L236.5,464.9 L237.5,465.6 L238.3,466.1 L239.2,466.6 L240.5,467.1 L241.5,467.3 L243,467.4 L244.5,467.3 L245.8,467.1 L247,467 L248.5,466.8 L250,466.8 L251.5,466.9 L252.5,467.1 L254,467.5 L255,467.9 L256,468.4 L257,469.1 L257.7,469.6 L258.5,470.4 L259.1,471.1 L259.7,472.1 L260.2,473.1 L260.6,474.1 L260.9,475.6 L261,476.6 L261,477.7 L260.8,479.1 L260.5,480.1 L260,481.2 L259.5,482.1 L258.7,483.1 L258,483.8 L257.1,484.6 L256.3,485.1 L255.3,485.6 L254,486.1 M253.5,484.6 L252,484.9 L250.5,484.9 L249,484.7 L248,484.4 L247,484 L246,483.5 L245,482.8 L244,482.1 L243.4,481.6 L242.5,480.7 L241.8,480.1 L241,479.3 L240.1,478.6 L239.1,478.1 L238,478 L237,478.3 L236,478.7 L235,479.2 L234,479.8 L233,480.3 L232,480.8 L231,481.2 L230,481.6 L228.5,482.1 L227.5,482.4 L226.5,482.6 L225,482.8 L223.5,483 L222,483 L220.5,482.9 L219,482.7 L218,482.5 L216.5,482.2 L215.5,481.9 L214.3,481.6 L213,481.2 L212,480.9 L210.7,480.6 L209.5,480.4 L208,480.1 L207,480 L205.5,479.9 L204,479.7 L202.5,479.6 L201.5,479.6 L200,479.4 L198.5,479.2 L197.5,479 L196,478.7 L195,478.4 L193.9,478.1 L192.5,477.6 L191.5,477.3 L190.5,476.9 L189.5,476.6 L188,476.1 L187,475.9 L185.7,475.6 L184.5,475.5 L183,475.4 L181.5,475.5 L180.4,475.6 L179,475.7 L177.5,475.9 L176,476 L174.8,476.1 L173.5,476.2 L172,476.2 L170.5,476.1 L169.5,476.1 L168,475.9 L166.5,475.7 L165.5,475.5 L164,475.1 L163,474.8 L162,474.5 L161,474 L160,473.6 L159,473 L158,472.3 L157.1,471.6 L156.5,471 L155.7,470.1 L155.1,469.1 L154.6,468.1 L154.4,467.1 L154.3,465.6 L154.5,464.3 L155,463.1 L155.5,462.2 L156,461.6 L156.9,460.6 L157.5,460.1 L158.5,459.4 L159.5,458.8 L160.5,458.2 L161.5,457.8 L162.5,457.4 L163.5,457.1 L165,456.7 L166,456.5 L167.5,456.3 L169,456.1 L170,456.1 L171.5,456 L173,456.1 L174,456.2 L175.5,456.3 L177,456.5 L178,456.7 L179.5,457 L180.5,457.3 L181.8,457.6 L183,457.9 L184,458.2 L185.5,458.6 L186.5,458.8 L188,459 L189,459.1 L190.5,459.2 L192,459.1 L193,459 L194.5,458.9 L196,458.8 L197.5,458.7 L199,458.6 L200.5,458.6 L202,458.7 L203.5,458.8 L205,459 L206,459.1 L207.5,459.4 L209,459.6 L210,459.8 L211.5,460 L212.7,460.1 L214,460.2 L215.5,460.2 L217,460.3 L218.5,460.3 L220,460.3 L221.5,460.4 L223,460.6 L224,460.7 L225.5,461.1 L226.5,461.3 L227.5,461.7 L228.6,462.1 L229.7,462.6 L230.6,463.1 L231.5,463.7 L232.5,464.3 L233.5,465.1 L234,465.6 L235,466.5 L235.6,467.1 L236.5,468.1 L237,468.6 L237.9,469.6 L238.5,470.1 L239.5,470.8 L241,471.1 L242.5,470.7 L243.5,470.3 L244.5,469.9 L245.5,469.5 L246.9,469.1 L248,468.8 L249.5,468.6 L250.5,468.6 L251.5,468.6 L253,468.9 L254,469.2 L255,469.6 L256,470.3 L257,471.1 L257.5,471.6 L258.3,472.6 L258.8,473.6 L259.2,474.6 L259.5,476.1 L259.5,477.1 L259.5,478.1 L259.1,479.6 L258.6,480.6 L258,481.6 L257.5,482.2 L256.6,483.1 L255.9,483.6 L255,484.1 L253.6,484.6 M226,481.1 L224.5,481.4 L223,481.5 L221.5,481.5 L220,481.3 L218.7,481.1 L217.5,480.8 L216.5,480.5 L215.1,480.1 L214,479.7 L213,479.4 L212,479.1 L210.5,478.7 L209.5,478.5 L208,478.3 L206.5,478.2 L205,478.2 L203.5,478.2 L202,478.1 L201,478.1 L199.5,477.9 L198,477.7 L197,477.5 L195.5,477.1 L194.5,476.8 L193.5,476.5 L192.5,476.1 L191.3,475.6 L190.1,475.1 L189,474.6 L188,474.3 L187,474 L185.5,473.8 L184,473.8 L182.5,473.9 L181.4,474.1 L180,474.3 L178.5,474.6 L177.5,474.7 L176,474.9 L174.5,475.1 L173.5,475.2 L172,475.2 L170.5,475.2 L169.1,475.1 L168,475 L166.5,474.8 L165.5,474.5 L164,474.1 L163,473.8 L162,473.4 L161,472.9 L160,472.4 L159,471.7 L158.3,471.1 L157.5,470.3 L156.9,469.6 L156.3,468.6 L155.9,467.6 L155.7,466.1 L155.8,464.6 L156.2,463.6 L156.8,462.6 L157.5,461.7 L158.1,461.1 L159,460.3 L160,459.7 L161,459.1 L162,458.6 L163,458.2 L164,457.9 L165.2,457.6 L166.5,457.3 L168,457.1 L169,457 L170.5,457 L172,457 L173.5,457.1 L174.5,457.2 L176,457.4 L177.1,457.6 L178.5,457.9 L179.5,458.2 L180.8,458.6 L182,459 L183,459.3 L184,459.7 L185.2,460.1 L186.5,460.5 L187.5,460.7 L189,460.9 L190.5,460.9 L192,460.8 L193.2,460.6 L194.5,460.4 L196,460.2 L197.2,460.1 L198.5,460 L200,460 L201.5,460 L202.5,460.1 L204,460.3 L205.5,460.6 L206.5,460.8 L208,461.1 L209,461.3 L210.4,461.6 L211.5,461.8 L213,462 L214.5,462 L216,462 L217.5,462 L219,461.9 L220.5,461.9 L222,462 L223,462.1 L224.5,462.4 L225.5,462.6 L227,463.1 L228,463.5 L229,464 L229.9,464.6 L230.6,465.1 L231.5,465.8 L232.3,466.6 L233,467.4 L233.6,468.1 L234.2,469.1 L234.7,470.1 L235,471.1 L235.3,472.6 L235.1,474.1 L234.8,475.1 L234.2,476.1 L233.5,476.9 L232.9,477.6 L232,478.3 L231,479.1 L230.1,479.6 L229.1,480.1 L228,480.5 L227,480.9 L226,481.1 M253,483.2 L251.5,483.4 L250,483.2 L249,483 L248,482.5 L247,481.9 L246,481.1 L245.5,480.6 L244.8,479.6 L244.2,478.6 L243.8,477.6 L243.6,476.1 L243.9,474.6 L244.5,473.6 L245,472.9 L245.9,472.1 L246.6,471.6 L247.5,471.1 L248.9,470.6 L250,470.4 L251.5,470.3 L253,470.6 L254,470.9 L255,471.4 L255.9,472.1 L256.5,472.8 L257.1,473.6 L257.6,474.6 L258,476.1 L258.1,477.1 L258,478.1 L257.5,479.5 L257,480.4 L256.5,481.1 L255.5,482 L254.6,482.6 L253.5,483 M225.5,479.7 L224,480 L222.5,480 L221,480 L219.5,479.7 L218.5,479.5 L217.3,479.1 L216,478.6 L215,478.2 L214,477.7 L213,477.3 L212,476.9 L210.8,476.6 L209.5,476.4 L208,476.4 L206.5,476.4 L205,476.6 L204,476.6 L202.5,476.7 L201,476.7 L199.9,476.6 L198.5,476.4 L197,476.1 L196,475.8 L195,475.5 L194,475.1 L192.9,474.6 L192,474.1 L191,473.6 L190,473 L189,472.5 L188,472 L186.5,471.7 L185,471.7 L183.5,472 L182.5,472.3 L181.3,472.6 L180,473 L179,473.2 L177.5,473.6 L176.5,473.8 L175,474 L174,474.1 L172.5,474.2 L171,474.3 L169.5,474.2 L168.3,474.1 L167,473.9 L165.6,473.6 L164.5,473.3 L163.5,473 L162.5,472.6 L161.5,472.1 L160.5,471.4 L159.5,470.7 L158.9,470.1 L158.1,469.1 L157.5,468.1 L157.2,467.1 L157.1,465.6 L157.4,464.1 L158,463.1 L158.5,462.4 L159.2,461.6 L160,460.9 L161,460.3 L162,459.7 L163,459.3 L164,458.9 L165,458.6 L166.5,458.3 L167.5,458.1 L169,457.9 L170.5,457.9 L172,457.9 L173.5,458 L174.5,458.1 L176,458.4 L177,458.6 L178.5,459.1 L179.5,459.4 L180.5,459.8 L181.5,460.2 L182.5,460.7 L183.5,461.2 L184.5,461.7 L185.5,462.2 L186.5,462.6 L188,463 L189.5,463.1 L191,462.9 L192.1,462.6 L193.5,462.3 L194.5,462 L196,461.7 L197,461.6 L198.5,461.4 L200,461.4 L201.5,461.4 L203,461.6 L204,461.8 L205.4,462.1 L206.5,462.4 L207.5,462.7 L208.7,463.1 L210,463.5 L211,463.8 L212.5,464 L214,464.1 L215.5,464 L217,463.8 L218.5,463.7 L219.5,463.6 L221,463.5 L222.4,463.6 L223.5,463.7 L225,464 L226,464.4 L227,464.8 L228,465.3 L229,465.9 L229.8,466.6 L230.5,467.3 L231.2,468.1 L231.8,469.1 L232.2,470.1 L232.5,471.1 L232.6,472.6 L232.5,473.6 L232,475 L231.5,475.8 L230.9,476.6 L230,477.5 L229.2,478.1 L228.3,478.6 L227.3,479.1 L226,479.6 M253,481.6 L251.5,481.8 L250.2,481.6 L249,481.1 L248.2,480.6 L247.5,479.9 L246.9,479.1 L246.5,478.1 L246.3,476.6 L246.5,475.3 L247,474.3 L247.6,473.6 L248.5,472.8 L249.5,472.3 L250.5,472.1 L252,472 L253,472.2 L254,472.7 L255,473.4 L255.6,474.1 L256.2,475.1 L256.5,476.2 L256.5,477.6 L256.3,478.6 L255.8,479.6 L255,480.5 L254.2,481.1 L253,481.6 M174,473.1 L172.5,473.3 L171,473.3 L169.5,473.3 L168,473.1 L167,473 L165.5,472.6 L164.5,472.3 L163.5,471.9 L162.5,471.4 L161.5,470.8 L160.6,470.1 L160,469.5 L159.3,468.6 L158.8,467.6 L158.5,466.3 L158.5,465.6 L158.9,464.1 L159.5,463.1 L160,462.5 L161,461.6 L161.7,461.1 L162.5,460.6 L163.5,460.1 L164.9,459.6 L166,459.3 L167,459.1 L168.5,458.9 L170,458.8 L171.5,458.8 L173,458.9 L174.4,459.1 L175.5,459.3 L176.5,459.6 L178,460.1 L179,460.5 L180,461 L181,461.6 L181.8,462.1 L182.5,462.6 L183.5,463.5 L184.2,464.1 L185,465.1 L185.5,466 L185.8,467.1 L185.3,468.1 L184.5,468.8 L183.5,469.6 L182.7,470.1 L181.8,470.6 L180.8,471.1 L179.7,471.6 L178.5,472.1 L177.5,472.4 L176.5,472.7 L175,473 L174,473.1 M225.5,478.1 L224,478.5 L222.5,478.6 L221,478.5 L219.5,478.1 L218.5,477.8 L217.5,477.4 L216.5,476.8 L215.5,476.2 L214.6,475.6 L213.8,475.1 L213,474.5 L212,474 L210.5,473.7 L209,473.8 L207.8,474.1 L206.5,474.5 L205.5,474.7 L204,475 L203,475.2 L201.5,475.3 L200,475.2 L198.8,475.1 L197.5,474.8 L196.5,474.5 L195.4,474.1 L194.4,473.6 L193.5,473.1 L192.5,472.3 L191.7,471.6 L191,470.9 L190.3,470.1 L189.7,469.1 L189.4,468.1 L189.6,467.1 L190.5,466.1 L191.1,465.6 L192,465 L193,464.4 L194,464 L195,463.6 L196.5,463.1 L197.5,462.9 L199,462.8 L200.5,462.7 L202,462.9 L203.2,463.1 L204.5,463.4 L205.5,463.8 L206.5,464.2 L207.5,464.7 L208.5,465.3 L209.5,465.8 L210.5,466.3 L211.5,466.7 L213,466.9 L214.5,466.6 L215.5,466.3 L216.5,466 L218,465.6 L219,465.4 L220.5,465.2 L222,465.1 L223.5,465.3 L225,465.6 L226,466 L227,466.5 L227.9,467.1 L228.5,467.6 L229.4,468.6 L230,469.6 L230.4,470.6 L230.5,471.6 L230.5,472.9 L230.2,474.1 L229.7,475.1 L229,475.9 L228.3,476.6 L227.5,477.2 L226.5,477.7 L225.5,478.1 M252.5,480.1 L251,480.1 L250,479.7 L249.2,479.1 L248.6,478.1 L248.3,477.1 L248.5,475.9 L249,475 L250,474.1 L251,473.7 L252.5,473.7 L253.5,474.2 L254.5,475.1 L255,476.1 L255.1,477.1 L254.9,478.1 L254.3,479.1 L253.5,479.7 L252.5,480.1 M174,472.1 L172.5,472.3 L171,472.4 L169.5,472.4 L168,472.2 L167,472 L165.5,471.6 L164.5,471.3 L163.5,470.8 L162.5,470.2 L161.7,469.6 L161,468.8 L160.5,468.1 L160,466.9 L159.9,465.6 L160.1,464.6 L160.7,463.6 L161.5,462.6 L162.1,462.1 L163,461.5 L164,461 L165,460.6 L166.5,460.1 L167.5,459.9 L169,459.7 L170.5,459.7 L172,459.7 L173.5,459.9 L174.5,460.1 L176,460.5 L177,460.9 L178,461.4 L179,461.9 L179.9,462.6 L180.5,463.1 L181.4,464.1 L181.9,465.1 L182.2,466.1 L182,467.2 L181.5,468.2 L180.8,469.1 L180,469.7 L179,470.4 L178,470.9 L177,471.3 L176,471.6 L174.5,472 M202.5,473.7 L201,473.9 L199.5,473.8 L198.2,473.6 L197,473.2 L196,472.8 L195,472.1 L194.4,471.6 L193.6,470.6 L193.1,469.6 L193,468.6 L193.2,467.6 L193.8,466.6 L194.5,465.9 L195.5,465.2 L196.5,464.7 L197.5,464.4 L199,464.2 L200.5,464.1 L202,464.3 L203.2,464.6 L204.4,465.1 L205.3,465.6 L206,466.1 L207,467.1 L207.5,467.8 L208,469.1 L207.7,470.6 L207,471.5 L206.3,472.1 L205.5,472.6 L204.5,473.1 L203,473.6 M225,476.7 L223.5,477 L222,477.1 L220.5,476.8 L219.5,476.4 L218.5,475.9 L217.5,475.2 L216.9,474.6 L216.1,473.6 L215.6,472.6 L215.3,471.6 L215.5,470.4 L216,469.5 L216.8,468.6 L217.5,468.1 L218.5,467.5 L219.6,467.1 L221,466.8 L222.5,466.7 L224,466.9 L225,467.2 L226,467.7 L227,468.4 L227.7,469.1 L228.3,470.1 L228.6,471.1 L228.7,472.6 L228.4,473.6 L227.9,474.6 L227,475.6 L226.3,476.1 L225.3,476.6 M252,478.7 L251.5,478.6 L251.5,478.6 L251,478.4 L250.6,478.1 L250.5,477.9 L250.3,477.6 L250.2,477.1 L250.2,476.6 L250.4,476.1 L250.5,476 L250.9,475.6 L251,475.5 L251.5,475.3 L252,475.3 L252.5,475.4 L252.8,475.6 L253,475.7 L253.3,476.1 L253.5,476.5 L253.5,476.6 L253.6,477.1 L253.5,477.5 L253.5,477.6 L253.1,478.1 L253,478.2 L252.5,478.5 L252.3,478.6 L252,478.7 M174,471.1 L172.5,471.4 L171,471.5 L169.5,471.5 L168,471.3 L167,471.1 L165.5,470.6 L164.5,470.2 L163.5,469.6 L162.9,469.1 L162,468.1 L161.5,467.2 L161.3,466.1 L161.5,464.9 L162,463.9 L162.7,463.1 L163.5,462.4 L164.5,461.8 L165.5,461.4 L166.5,461.1 L168,460.7 L169.1,460.6 L170.5,460.5 L171.6,460.6 L173,460.8 L174.4,461.1 L175.5,461.5 L176.5,461.9 L177.5,462.5 L178.3,463.1 L179,463.8 L179.5,464.6 L179.9,466.1 L179.6,467.6 L179,468.4 L178.3,469.1 L177.5,469.7 L176.5,470.2 L175.5,470.7 L174,471.1 M202.5,472.1 L201,472.5 L199.5,472.5 L198,472.1 L197,471.6 L196.3,471.1 L195.5,470.1 L195.2,469.1 L195.5,467.8 L196,467 L197,466.2 L198,465.8 L199,465.5 L200.5,465.5 L201.5,465.6 L202.9,466.1 L203.7,466.6 L204.5,467.4 L205,468.4 L205.1,469.6 L204.6,470.6 L204,471.3 L203,471.9 M223,475.6 L222,475.6 L220.5,475.1 L219.7,474.6 L219,473.9 L218.4,473.1 L218.2,471.6 L218.5,470.4 L219.1,469.6 L220,468.9 L221,468.5 L222.5,468.2 L224,468.4 L225,468.9 L226,469.6 L226.5,470.3 L227,471.6 L227,472.1 L226.6,473.6 L226,474.3 L225,475.1 L224,475.5 L223,475.6 M173.5,470.2 L172,470.5 L170.5,470.6 L169,470.5 L167.5,470.3 L166.5,470 L165.5,469.6 L164.5,469 L163.5,468.1 L163,467.3 L162.7,466.1 L163,464.8 L163.5,464 L164.4,463.1 L165.2,462.6 L166.3,462.1 L167.5,461.7 L168.5,461.6 L170,461.4 L171.5,461.5 L172.5,461.6 L174,462 L175,462.4 L176,463 L176.8,463.6 L177.5,464.4 L178,465.5 L178,466.6 L177.6,467.6 L177,468.4 L176.1,469.1 L175.2,469.6 L174,470.1 M200.5,471.1 L199.4,471.1 L198.2,470.6 L197.5,470 L197.2,468.6 L197.8,467.6 L198.6,467.1 L200,466.8 L201.5,467.1 L202.3,467.6 L202.9,468.6 L202.6,470.1 L202,470.6 L200.8,471.1 M223,474.2 L222,474 L221,473.5 L220.4,472.6 L220.5,471.1 L221,470.4 L222,469.9 L223.5,469.9 L224.5,470.3 L225.1,471.1 L225.3,472.6 L224.5,473.6 L223.5,474.1 M171.5,469.6 L170,469.7 L168.8,469.6 L167.5,469.3 L166.5,468.9 L165.5,468.3 L164.7,467.6 L164.2,466.6 L164.3,465.1 L165,464.1 L165.6,463.6 L166.5,463.1 L167.9,462.6 L169,462.4 L170.5,462.3 L172,462.5 L173,462.7 L174,463.1 L175,463.7 L175.9,464.6 L176.3,465.6 L176.1,467.1 L175.5,467.9 L174.6,468.6 L173.6,469.1 L172.5,469.4 L171.5,469.6 M200.5,469.8 L200,469.8 L199.5,469.7 L199.3,469.6 L199,469.2 L198.9,469.1 L199,468.8 L199.1,468.6 L199.5,468.3 L200,468.2 L200.5,468.3 L201,468.6 L201,468.7 L201.1,469.1 L201,469.3 L200.8,469.6 L200.5,469.8 M223,472.7 L222.6,472.6 L222.5,472.6 L222.2,472.1 L222.3,471.6 L222.5,471.4 L223,471.3 L223.5,471.5 L223.6,471.6 L223.8,472.1 L223.5,472.5 L223.3,472.6 L223,472.7 M171.5,468.7 L170,468.8 L168.5,468.6 L167.5,468.3 L166.5,467.7 L165.9,467.1 L165.6,465.6 L166.1,464.6 L167,464 L168,463.5 L169.5,463.2 L171,463.3 L172.5,463.6 L173.5,464.1 L174.1,464.6 L174.7,465.6 L174.5,466.9 L174,467.6 L173,468.2 L171.9,468.6 M171.5,467.7 L170,467.9 L168.5,467.7 L167.5,467.1 L167,466.3 L167,465.6 L167.9,464.6 L169,464.2 L170,464.1 L171,464.2 L172.2,464.6 L173,465.3 L173.1,466.6 L172.5,467.2 L171.5,467.7 M171,466.8 L170.5,467 L170,467 L169.5,467 L169,466.8 L168.7,466.6 L168.5,466.4 L168.3,466.1 L168.5,465.6 L168.5,465.6 L169,465.2 L169.2,465.1 L169.5,465 L170,465 L170.5,465 L170.8,465.1 L171,465.2 L171.5,465.5 L171.6,465.6 L171.7,466.1 L171.5,466.5 L171.4,466.6 L171,466.8" fill="none" stroke="#e01c1c" stroke-width="0.8" stroke-opacity="0.95" stroke-linejoin="round" clip-path="url(#cg)"/>
<path d="M173.5,472.1 L172,472.4 L170.5,472.5 L169,472.6 L167.5,472.5 L166,472.4 L164.5,472.1 L163.5,471.9 L162.5,471.6 L161.2,471.1 L160.1,470.6 L159.2,470.1 L158.5,469.6 L157.5,468.7 L157,468 L156.5,467.1 L156.1,465.6 L156.4,464.1 L156.9,463.1 L157.5,462.3 L158.3,461.6 L159,461.1 L160,460.4 L161,460 L162,459.6 L163.5,459.1 L164.5,458.9 L166,458.6 L167,458.5 L168.5,458.4 L170,458.4 L171.5,458.6 L172.5,458.7 L174,459 L175,459.2 L176.1,459.6 L177.3,460.1 L178.3,460.6 L179.1,461.1 L180,461.8 L180.7,462.6 L181.4,463.6 L181.8,464.6 L181.8,466.1 L181.5,467.1 L181,468.1 L180.1,469.1 L179.5,469.6 L178.5,470.3 L177.5,470.8 L176.5,471.2 L175.5,471.6 L174,472 M171,472.1 L169.5,472.2 L168,472.2 L167,472.1 L165.5,471.9 L164,471.6 L163,471.3 L162,471 L161,470.5 L160,470 L159,469.3 L158.2,468.6 L157.5,467.7 L157,466.6 L156.8,465.6 L157,464.4 L157.5,463.3 L158,462.6 L159,461.7 L159.8,461.1 L160.7,460.6 L161.8,460.1 L163,459.7 L164,459.4 L165.4,459.1 L166.5,458.9 L168,458.8 L169.5,458.8 L171,458.9 L172.5,459.1 L173.5,459.3 L174.7,459.6 L176,460 L177,460.5 L178,461 L178.9,461.6 L179.5,462.1 L180.4,463.1 L180.9,464.1 L181.2,465.1 L181,466.6 L180.6,467.6 L180,468.4 L179.3,469.1 L178.5,469.7 L177.5,470.3 L176.5,470.8 L175.5,471.2 L174,471.6 L173,471.8 L171.5,472.1 M171.5,471.7 L170,471.8 L168.5,471.8 L167,471.7 L166,471.6 L164.5,471.3 L163.5,471 L162.2,470.6 L161.1,470.1 L160.3,469.6 L159.5,469 L158.5,468.1 L158,467.3 L157.6,466.1 L157.6,464.6 L158.1,463.6 L158.8,462.6 L159.5,462 L160.5,461.3 L161.5,460.7 L162.5,460.3 L163.5,460 L164.9,459.6 L166,459.4 L167.5,459.2 L169,459.2 L170.5,459.2 L172,459.4 L173.1,459.6 L174.5,460 L175.5,460.3 L176.5,460.7 L177.5,461.3 L178.5,462 L179.2,462.6 L179.9,463.6 L180.4,464.6 L180.4,466.1 L180,467.3 L179.5,468.1 L178.5,469 L177.7,469.6 L176.9,470.1 L175.8,470.6 L174.5,471 L173.5,471.3 L172,471.6 M172,471.2 L170.5,471.4 L169,471.4 L167.5,471.4 L166,471.2 L165,471 L163.5,470.6 L162.5,470.2 L161.5,469.7 L160.5,469.1 L159.8,468.6 L159,467.7 L158.5,466.8 L158.2,465.6 L158.5,464.2 L159,463.3 L159.6,462.6 L160.5,461.9 L161.5,461.3 L162.5,460.8 L163.5,460.4 L164.6,460.1 L166,459.8 L167.5,459.6 L168.5,459.6 L169.9,459.6 L171,459.7 L172.5,459.9 L173.5,460.1 L175,460.6 L176,461 L177,461.5 L177.8,462.1 L178.5,462.7 L179.2,463.6 L179.6,464.6 L179.7,466.1 L179.4,467.1 L178.7,468.1 L178,468.7 L177,469.5 L176,470 L175,470.4 L174,470.7 L172.5,471.1 M172.5,470.7 L171,470.9 L169.5,471 L168,471 L166.5,470.9 L165.2,470.6 L164,470.3 L163,469.9 L162,469.5 L161,468.8 L160.1,468.1 L159.5,467.3 L159,466.1 L159,465.1 L159.3,464.1 L160,463.1 L160.5,462.6 L161.5,461.8 L162.5,461.3 L163.5,460.9 L164.5,460.6 L166,460.2 L167,460.1 L168.5,460 L170,460 L171.1,460.1 L172.5,460.3 L173.6,460.6 L175,461.1 L176,461.5 L176.9,462.1 L177.5,462.6 L178.4,463.6 L178.9,464.6 L179,465.6 L178.8,466.6 L178.3,467.6 L177.5,468.4 L176.6,469.1 L175.7,469.6 L174.6,470.1 L173.5,470.4 L172.5,470.7 M169.5,470.6 L168.4,470.6 L167,470.5 L165.5,470.2 L164.5,470 L163.4,469.6 L162.4,469.1 L161.5,468.5 L160.5,467.6 L160,466.8 L159.7,465.6 L160,464.2 L160.5,463.4 L161.3,462.6 L162.1,462.1 L163,461.6 L164.3,461.1 L165.5,460.8 L166.5,460.6 L168,460.4 L169.5,460.4 L171,460.5 L172,460.7 L173.5,461 L174.5,461.4 L175.5,461.8 L176.5,462.5 L177.2,463.1 L177.9,464.1 L178.3,465.1 L178.1,466.6 L177.5,467.6 L177,468.1 L176,468.9 L175,469.4 L174,469.8 L173,470.1 L171.5,470.4 L170,470.6 M170.5,470.1 L169,470.2 L167.5,470.1 L166.5,470 L165,469.7 L164,469.3 L163,468.8 L162,468.2 L161.4,467.6 L160.7,466.6 L160.5,465.6 L160.6,464.6 L161.2,463.6 L162,462.8 L163,462.2 L164,461.7 L165,461.3 L166,461.1 L167.5,460.9 L169,460.8 L170.5,460.9 L172,461.1 L173,461.3 L174,461.7 L175,462.2 L176,462.8 L176.8,463.6 L177.4,464.6 L177.5,465.6 L177.3,466.6 L176.6,467.6 L176,468.2 L175,468.8 L174,469.3 L173,469.7 L171.5,470 L170.5,470.1 M171,469.6 L169.5,469.8 L168,469.7 L166.9,469.6 L165.5,469.3 L164.5,469 L163.5,468.5 L162.5,467.8 L161.8,467.1 L161.3,466.1 L161.4,464.6 L162,463.7 L162.6,463.1 L163.5,462.5 L164.5,462 L165.9,461.6 L167,461.4 L168.5,461.2 L170,461.3 L171.5,461.5 L172.5,461.7 L173.7,462.1 L174.7,462.6 L175.5,463.2 L176.3,464.1 L176.7,465.1 L176.5,466.6 L176,467.3 L175.2,468.1 L174.3,468.6 L173.2,469.1 L172,469.4 L171,469.6 M171,469.2 L169.5,469.3 L168,469.3 L166.7,469.1 L165.5,468.8 L164.5,468.4 L163.5,467.8 L162.7,467.1 L162.1,466.1 L162.2,464.6 L163,463.6 L163.6,463.1 L164.5,462.6 L165.8,462.1 L167,461.8 L168.5,461.7 L170,461.7 L171.5,461.9 L172.5,462.2 L173.5,462.6 L174.5,463.2 L175.5,464.1 L175.9,465.1 L175.7,466.6 L175,467.4 L174.1,468.1 L173.1,468.6 L172,469 L171,469.2 M171,468.7 L169.5,468.9 L168,468.8 L166.6,468.6 L165.5,468.3 L164.5,467.8 L163.6,467.1 L163,466.2 L162.9,465.1 L163.4,464.1 L164,463.6 L165,463 L166,462.6 L167.5,462.2 L169,462.1 L170.5,462.2 L172,462.6 L173,463 L174,463.6 L174.6,464.1 L175.1,465.1 L175,466.2 L174.4,467.1 L173.5,467.8 L172.5,468.3 L171.4,468.6" fill="none" stroke="#e81818" stroke-width="0.8" stroke-opacity="0.9" stroke-linejoin="round" clip-path="url(#cg)"/>
<path d="M254,536.2 L253.1,535.6 L252.5,535.1 L251.5,534.2 L251,533.6 L250.1,532.6 L249.5,531.8 L248.9,531.1 L248.2,530.1 L247.5,529.1 L247,528.4 L246.5,527.6 L245.9,526.6 L245.2,525.6 L244.6,524.6 L244.1,523.6 L243.5,522.6 L243,521.7 L242.5,520.8 L242,519.8 L241.5,518.8 L241,517.8 L240.5,516.8 L240,515.7 L239.5,514.6 L239,513.6 L238.6,512.6 L238.2,511.6 L237.8,510.6 L237.4,509.6 L237,508.6 L236.5,507.3 L236.1,506.1 L235.7,505.1 L235.4,504.1 L235,502.8 L234.7,501.6 L234.4,500.6 L234,499.1 L233.8,498.1 L233.7,496.6 L233.7,495.1 L233.7,493.6 L233.7,492.1 L233.7,490.6 L233.7,489.1 L233.7,487.6 L233.7,486.1 L233.7,484.6 L233.7,483.1 L233.7,481.6 L233.7,480.1 L233.7,478.6 L233.7,477.1 L233.7,475.6 L233.7,474.1 L233.7,472.6 L233.7,471.1 L233.7,469.6 L233.7,468.1 L233.7,466.6 L233.7,465.1 L233.7,463.6 L233.7,462.1 L233.7,460.6 L233.7,459.1 L233.7,457.6 L233.8,456.1 L234,455.1 L234.3,453.6 L234.6,452.6 L235,451.2 L235.3,450.1 L235.7,449.1 L236,448.1 L236.5,446.7 L236.9,445.6 L237.3,444.6 L237.7,443.6 L238.1,442.6 L238.5,441.6 L239,440.5 L239.5,439.4 L240,438.3 L240.5,437.2 L241,436.2 L241.5,435.2 L242,434.2 L242.5,433.2 L243,432.3 L243.5,431.4 L244,430.5 L244.5,429.6 L245.1,428.6 L245.7,427.6 L246.4,426.6 L247,425.6 L247.5,424.9 L248.1,424.1 L248.8,423.1 L249.5,422.2 L250,421.5 L250.8,420.6 L251.5,419.8 L252.2,419.1 L253,418.4 L254,417.8 L255,418.4 L255.8,419.1 L256.5,419.8 L257.2,420.6 L258,421.5 L258.5,422.2 L259.2,423.1 L259.9,424.1 L260.5,424.9 L261,425.6 L261.6,426.6 L262.3,427.6 L262.9,428.6 L263.5,429.6 L264,430.5 L264.5,431.4 L265,432.3 L265.5,433.2 L266,434.2 L266.5,435.2 L267,436.2 L267.5,437.2 L268,438.3 L268.5,439.4 L269,440.5 L269.5,441.6 L269.9,442.6 L270.3,443.6 L270.7,444.6 L271.1,445.6 L271.5,446.7 L272,448.1 L272.3,449.1 L272.7,450.1 L273,451.2 L273.4,452.6 L273.7,453.6 L274,455.1 L274.2,456.1 L274.3,457.6 L274.3,459.1 L274.3,460.6 L274.3,462.1 L274.3,463.6 L274.3,465.1 L274.3,466.6 L274.3,468.1 L274.3,469.6 L274.3,471.1 L274.3,472.6 L274.3,474.1 L274.3,475.6 L274.3,477.1 L274.3,478.6 L274.3,480.1 L274.3,481.6 L274.3,483.1 L274.3,484.6 L274.3,486.1 L274.3,487.6 L274.3,489.1 L274.3,490.6 L274.3,492.1 L274.3,493.6 L274.3,495.1 L274.3,496.6 L274.2,498.1 L274,499.1 L273.6,500.6 L273.3,501.6 L273,502.8 L272.6,504.1 L272.3,505.1 L271.9,506.1 L271.5,507.3 L271,508.6 L270.6,509.6 L270.2,510.6 L269.8,511.6 L269.4,512.6 L269,513.6 L268.5,514.6 L268,515.7 L267.5,516.8 L267,517.8 L266.5,518.8 L266,519.8 L265.5,520.8 L265,521.7 L264.5,522.6 L263.9,523.6 L263.4,524.6 L262.8,525.6 L262.1,526.6 L261.5,527.6 L261,528.4 L260.5,529.1 L259.8,530.1 L259.1,531.1 L258.5,531.8 L257.9,532.6 L257,533.6 L256.5,534.2 L255.5,535.1 L254.9,535.6 L254,536.2 M254,533.3 L253,532.6 L252.4,532.1 L251.5,531.2 L251,530.6 L250.1,529.6 L249.5,528.8 L249,528.1 L248.2,527.1 L247.6,526.1 L247,525.3 L246.5,524.5 L246,523.6 L245.4,522.6 L244.8,521.6 L244.2,520.6 L243.7,519.6 L243.1,518.6 L242.6,517.6 L242.1,516.6 L241.6,515.6 L241.2,514.6 L240.7,513.6 L240.2,512.6 L239.8,511.6 L239.4,510.6 L239,509.6 L238.5,508.4 L238,507.1 L237.6,506.1 L237.3,505.1 L237,504.1 L236.5,502.6 L236.2,501.6 L235.9,500.6 L235.6,499.1 L235.4,498.1 L235.2,496.6 L235.2,495.1 L235.2,493.6 L235.2,492.1 L235.2,490.6 L235.2,489.1 L235.2,487.6 L235.2,486.1 L235.2,484.6 L235.2,483.1 L235.2,481.6 L235.2,480.1 L235.2,478.6 L235.2,477.1 L235.2,475.6 L235.2,474.1 L235.2,472.6 L235.2,471.1 L235.2,469.6 L235.2,468.1 L235.2,466.6 L235.2,465.1 L235.2,463.6 L235.2,462.1 L235.2,460.6 L235.2,459.1 L235.2,457.6 L235.3,456.1 L235.5,455.1 L235.9,453.6 L236.1,452.6 L236.5,451.4 L236.9,450.1 L237.2,449.1 L237.6,448.1 L238,446.9 L238.5,445.6 L238.9,444.6 L239.3,443.6 L239.7,442.6 L240.2,441.6 L240.6,440.6 L241.1,439.6 L241.5,438.6 L242,437.6 L242.5,436.6 L243,435.6 L243.6,434.6 L244.1,433.6 L244.7,432.6 L245.2,431.6 L245.8,430.6 L246.5,429.6 L247,428.7 L247.5,428 L248.1,427.1 L248.8,426.1 L249.5,425.2 L250,424.5 L250.8,423.6 L251.5,422.8 L252.2,422.1 L253,421.4 L254,420.7 L255,421.4 L255.8,422.1 L256.5,422.8 L257.2,423.6 L258,424.5 L258.5,425.2 L259.2,426.1 L259.9,427.1 L260.5,428 L261,428.7 L261.5,429.6 L262.2,430.6 L262.8,431.6 L263.3,432.6 L263.9,433.6 L264.4,434.6 L265,435.6 L265.5,436.6 L266,437.6 L266.5,438.6 L266.9,439.6 L267.4,440.6 L267.8,441.6 L268.3,442.6 L268.7,443.6 L269.1,444.6 L269.5,445.6 L270,446.9 L270.4,448.1 L270.8,449.1 L271.1,450.1 L271.5,451.4 L271.9,452.6 L272.1,453.6 L272.5,455.1 L272.7,456.1 L272.8,457.6 L272.8,459.1 L272.8,460.6 L272.8,462.1 L272.8,463.6 L272.8,465.1 L272.8,466.6 L272.8,468.1 L272.8,469.6 L272.8,471.1 L272.8,472.6 L272.8,474.1 L272.8,475.6 L272.8,477.1 L272.8,478.6 L272.8,480.1 L272.8,481.6 L272.8,483.1 L272.8,484.6 L272.8,486.1 L272.8,487.6 L272.8,489.1 L272.8,490.6 L272.8,492.1 L272.8,493.6 L272.8,495.1 L272.8,496.6 L272.6,498.1 L272.4,499.1 L272.1,500.6 L271.8,501.6 L271.5,502.6 L271,504.1 L270.7,505.1 L270.4,506.1 L270,507.1 L269.5,508.4 L269,509.6 L268.6,510.6 L268.2,511.6 L267.8,512.6 L267.3,513.6 L266.8,514.6 L266.4,515.6 L265.9,516.6 L265.4,517.6 L264.9,518.6 L264.3,519.6 L263.8,520.6 L263.2,521.6 L262.6,522.6 L262,523.6 L261.5,524.5 L261,525.3 L260.4,526.1 L259.8,527.1 L259,528.1 L258.5,528.8 L257.9,529.6 L257,530.6 L256.5,531.2 L255.6,532.1 L255,532.6 L254,533.3 M254,530.4 L253,529.7 L252.3,529.1 L251.5,528.3 L250.9,527.6 L250.1,526.6 L249.5,525.8 L249,525.1 L248.3,524.1 L247.6,523.1 L247,522.1 L246.5,521.3 L246,520.5 L245.5,519.6 L244.9,518.6 L244.4,517.6 L243.9,516.6 L243.4,515.6 L242.9,514.6 L242.4,513.6 L241.9,512.6 L241.5,511.6 L241,510.5 L240.5,509.4 L240,508.1 L239.6,507.1 L239.2,506.1 L238.9,505.1 L238.5,504 L238,502.6 L237.7,501.6 L237.4,500.6 L237.1,499.1 L236.9,498.1 L236.7,496.6 L236.7,495.1 L236.7,493.6 L236.7,492.1 L236.7,490.6 L236.7,489.1 L236.7,487.6 L236.7,486.1 L236.7,484.6 L236.7,483.1 L236.7,481.6 L236.7,480.1 L236.7,478.6 L236.7,477.1 L236.7,475.6 L236.7,474.1 L236.7,472.6 L236.7,471.1 L236.7,469.6 L236.7,468.1 L236.7,466.6 L236.7,465.1 L236.7,463.6 L236.7,462.1 L236.7,460.6 L236.7,459.1 L236.7,457.6 L236.8,456.1 L237,455.1 L237.4,453.6 L237.7,452.6 L238,451.5 L238.4,450.1 L238.8,449.1 L239.1,448.1 L239.5,447.1 L240,445.9 L240.5,444.6 L240.9,443.6 L241.4,442.6 L241.8,441.6 L242.3,440.6 L242.8,439.6 L243.3,438.6 L243.8,437.6 L244.3,436.6 L244.8,435.6 L245.4,434.6 L246,433.6 L246.5,432.7 L247,431.9 L247.5,431.1 L248.2,430.1 L248.9,429.1 L249.5,428.2 L250,427.5 L250.8,426.6 L251.5,425.7 L252.1,425.1 L253,424.3 L254,423.7 L255,424.3 L255.9,425.1 L256.5,425.7 L257.2,426.6 L258,427.5 L258.5,428.2 L259.1,429.1 L259.8,430.1 L260.5,431.1 L261,431.9 L261.5,432.7 L262,433.6 L262.6,434.6 L263.2,435.6 L263.7,436.6 L264.2,437.6 L264.7,438.6 L265.2,439.6 L265.7,440.6 L266.2,441.6 L266.6,442.6 L267.1,443.6 L267.5,444.6 L268,445.9 L268.5,447.1 L268.9,448.1 L269.2,449.1 L269.6,450.1 L270,451.5 L270.3,452.6 L270.6,453.6 L271,455.1 L271.2,456.1 L271.3,457.6 L271.3,459.1 L271.3,460.6 L271.3,462.1 L271.3,463.6 L271.3,465.1 L271.3,466.6 L271.3,468.1 L271.3,469.6 L271.3,471.1 L271.3,472.6 L271.3,474.1 L271.3,475.6 L271.3,477.1 L271.3,478.6 L271.3,480.1 L271.3,481.6 L271.3,483.1 L271.3,484.6 L271.3,486.1 L271.3,487.6 L271.3,489.1 L271.3,490.6 L271.3,492.1 L271.3,493.6 L271.3,495.1 L271.3,496.6 L271.1,498.1 L270.9,499.1 L270.6,500.6 L270.3,501.6 L270,502.6 L269.5,504 L269.1,505.1 L268.8,506.1 L268.4,507.1 L268,508.1 L267.5,509.4 L267,510.5 L266.5,511.6 L266.1,512.6 L265.6,513.6 L265.1,514.6 L264.6,515.6 L264.1,516.6 L263.6,517.6 L263.1,518.6 L262.5,519.6 L262,520.5 L261.5,521.3 L261,522.1 L260.4,523.1 L259.7,524.1 L259,525.1 L258.5,525.8 L257.9,526.6 L257.1,527.6 L256.5,528.3 L255.7,529.1 L255,529.7 L254,530.4 M254.5,527.2 L253.4,527.1 L252.5,526.3 L251.8,525.6 L251,524.7 L250.5,524.1 L249.8,523.1 L249,522.1 L248.5,521.3 L248,520.5 L247.4,519.6 L246.8,518.6 L246.2,517.6 L245.7,516.6 L245.1,515.6 L244.6,514.6 L244.1,513.6 L243.6,512.6 L243.1,511.6 L242.7,510.6 L242.2,509.6 L241.8,508.6 L241.4,507.6 L241,506.6 L240.5,505.3 L240.1,504.1 L239.7,503.1 L239.4,502.1 L239,500.7 L238.7,499.6 L238.5,498.6 L238.2,497.1 L238.2,495.6 L238.2,494.1 L238.2,492.6 L238.2,491.1 L238.2,489.6 L238.2,488.1 L238.2,486.6 L238.2,485.1 L238.2,483.6 L238.2,482.1 L238.2,480.6 L238.2,479.1 L238.2,477.6 L238.2,476.1 L238.2,474.6 L238.2,473.1 L238.2,471.6 L238.2,470.1 L238.2,468.6 L238.2,467.1 L238.2,465.6 L238.2,464.1 L238.2,462.6 L238.2,461.1 L238.2,459.6 L238.2,458.1 L238.3,456.6 L238.5,455.3 L238.8,454.1 L239.1,453.1 L239.5,451.6 L239.8,450.6 L240.2,449.6 L240.5,448.6 L241,447.4 L241.5,446.1 L241.9,445.1 L242.4,444.1 L242.8,443.1 L243.3,442.1 L243.7,441.1 L244.2,440.1 L244.8,439.1 L245.3,438.1 L245.8,437.1 L246.4,436.1 L247,435.1 L247.5,434.3 L248,433.5 L248.6,432.6 L249.2,431.6 L250,430.6 L250.5,429.9 L251.2,429.1 L252,428.2 L252.6,427.6 L253.5,426.8 L254.1,426.6 L255,427.2 L255.9,428.1 L256.5,428.7 L257.2,429.6 L258,430.6 L258.5,431.2 L259.1,432.1 L259.8,433.1 L260.4,434.1 L261,435.1 L261.5,435.9 L262,436.8 L262.5,437.7 L263,438.6 L263.5,439.6 L264,440.6 L264.5,441.6 L265,442.7 L265.5,443.8 L266,444.9 L266.5,446.1 L266.9,447.1 L267.3,448.1 L267.6,449.1 L268,450.1 L268.5,451.6 L268.8,452.6 L269.1,453.6 L269.5,455.1 L269.7,456.1 L269.8,457.6 L269.8,459.1 L269.8,460.6 L269.8,462.1 L269.8,463.6 L269.8,465.1 L269.8,466.6 L269.8,468.1 L269.8,469.6 L269.8,471.1 L269.8,472.6 L269.8,474.1 L269.8,475.6 L269.8,477.1 L269.8,478.6 L269.8,480.1 L269.8,481.6 L269.8,483.1 L269.8,484.6 L269.8,486.1 L269.8,487.6 L269.8,489.1 L269.8,490.6 L269.8,492.1 L269.8,493.6 L269.8,495.1 L269.8,496.6 L269.6,498.1 L269.4,499.1 L269,500.6 L268.7,501.6 L268.4,502.6 L268,503.9 L267.6,505.1 L267.2,506.1 L266.8,507.1 L266.4,508.1 L266,509.1 L265.5,510.2 L265,511.3 L264.5,512.4 L264,513.4 L263.5,514.4 L263,515.4 L262.5,516.3 L262,517.2 L261.5,518.1 L260.9,519.1 L260.3,520.1 L259.6,521.1 L259,522 L258.5,522.8 L257.9,523.6 L257.1,524.6 L256.5,525.3 L255.7,526.1 L255,526.8 M254.5,524.3 L253.3,524.1 L252.5,523.4 L251.7,522.6 L251,521.7 L250.5,521.1 L249.8,520.1 L249.1,519.1 L248.5,518.2 L248,517.4 L247.5,516.6 L246.9,515.6 L246.4,514.6 L245.8,513.6 L245.3,512.6 L244.8,511.6 L244.4,510.6 L243.9,509.6 L243.4,508.6 L243,507.6 L242.5,506.3 L242,505.1 L241.6,504.1 L241.3,503.1 L241,502.1 L240.5,500.6 L240.2,499.6 L240,498.6 L239.7,497.1 L239.7,495.6 L239.7,494.1 L239.7,492.6 L239.7,491.1 L239.7,489.6 L239.7,488.1 L239.7,486.6 L239.7,485.1 L239.7,483.6 L239.7,482.1 L239.7,480.6 L239.7,479.1 L239.7,477.6 L239.7,476.1 L239.7,474.6 L239.7,473.1 L239.7,471.6 L239.7,470.1 L239.7,468.6 L239.7,467.1 L239.7,465.6 L239.7,464.1 L239.7,462.6 L239.7,461.1 L239.7,459.6 L239.7,458.1 L239.8,456.6 L240,455.4 L240.3,454.1 L240.6,453.1 L241,451.8 L241.4,450.6 L241.8,449.6 L242.1,448.6 L242.5,447.6 L243,446.4 L243.5,445.3 L244,444.2 L244.5,443.1 L245,442.1 L245.5,441.1 L246,440.1 L246.5,439.2 L247,438.3 L247.5,437.4 L248,436.6 L248.6,435.6 L249.3,434.6 L250,433.6 L250.5,432.9 L251.2,432.1 L252,431.1 L252.5,430.6 L253.5,429.7 L254.3,429.6 L255,430.1 L256,431.1 L256.5,431.7 L257.2,432.6 L258,433.6 L258.5,434.3 L259,435.1 L259.7,436.1 L260.3,437.1 L260.9,438.1 L261.4,439.1 L262,440.1 L262.5,441.1 L263,442.1 L263.5,443.1 L264,444.1 L264.4,445.1 L264.9,446.1 L265.3,447.1 L265.7,448.1 L266.1,449.1 L266.5,450.3 L266.9,451.6 L267.3,452.6 L267.6,453.6 L267.9,455.1 L268.2,456.1 L268.3,457.6 L268.3,459.1 L268.3,460.6 L268.3,462.1 L268.3,463.6 L268.3,465.1 L268.3,466.6 L268.3,468.1 L268.3,469.6 L268.3,471.1 L268.3,472.6 L268.3,474.1 L268.3,475.6 L268.3,477.1 L268.3,478.6 L268.3,480.1 L268.3,481.6 L268.3,483.1 L268.3,484.6 L268.3,486.1 L268.3,487.6 L268.3,489.1 L268.3,490.6 L268.3,492.1 L268.3,493.6 L268.3,495.1 L268.3,496.6 L268.1,498.1 L267.9,499.1 L267.5,500.6 L267.2,501.6 L266.9,502.6 L266.5,503.7 L266,505.1 L265.6,506.1 L265.2,507.1 L264.8,508.1 L264.3,509.1 L263.9,510.1 L263.4,511.1 L262.9,512.1 L262.4,513.1 L261.9,514.1 L261.3,515.1 L260.8,516.1 L260.2,517.1 L259.6,518.1 L259,518.9 L258.5,519.7 L257.8,520.6 L257.1,521.6 L256.5,522.3 L255.8,523.1 L255,523.9 M254,521.6 L253.2,521.1 L252.5,520.5 L251.7,519.6 L251,518.7 L250.5,518 L249.8,517.1 L249.2,516.1 L248.6,515.1 L248,514.2 L247.5,513.3 L247,512.4 L246.5,511.4 L246,510.5 L245.5,509.4 L245,508.4 L244.5,507.2 L244,506.1 L243.6,505.1 L243.2,504.1 L242.9,503.1 L242.5,502.1 L242,500.6 L241.8,499.6 L241.5,498.6 L241.2,497.1 L241.2,495.6 L241.2,494.1 L241.2,492.6 L241.2,491.1 L241.2,489.6 L241.2,488.1 L241.2,486.6 L241.2,485.1 L241.2,483.6 L241.2,482.1 L241.2,480.6 L241.2,479.1 L241.2,477.6 L241.2,476.1 L241.2,474.6 L241.2,473.1 L241.2,471.6 L241.2,470.1 L241.2,468.6 L241.2,467.1 L241.2,465.6 L241.2,464.1 L241.2,462.6 L241.2,461.1 L241.2,459.6 L241.2,458.1 L241.3,456.6 L241.5,455.4 L241.8,454.1 L242.1,453.1 L242.5,451.9 L243,450.6 L243.3,449.6 L243.7,448.6 L244.1,447.6 L244.6,446.6 L245,445.6 L245.5,444.6 L246,443.5 L246.5,442.6 L247,441.6 L247.6,440.6 L248.1,439.6 L248.7,438.6 L249.4,437.6 L250,436.7 L250.5,436 L251.2,435.1 L252,434.1 L252.5,433.5 L253.5,432.6 L254.4,432.6 L255,433.1 L256,434.1 L256.5,434.7 L257.2,435.6 L258,436.6 L258.5,437.4 L259,438.2 L259.6,439.1 L260.2,440.1 L260.7,441.1 L261.3,442.1 L261.8,443.1 L262.3,444.1 L262.8,445.1 L263.2,446.1 L263.7,447.1 L264.1,448.1 L264.5,449.2 L265,450.5 L265.4,451.6 L265.7,452.6 L266,453.6 L266.4,455.1 L266.6,456.1 L266.8,457.6 L266.8,459.1 L266.8,460.6 L266.8,462.1 L266.8,463.6 L266.8,465.1 L266.8,466.6 L266.8,468.1 L266.8,469.6 L266.8,471.1 L266.8,472.6 L266.8,474.1 L266.8,475.6 L266.8,477.1 L266.8,478.6 L266.8,480.1 L266.8,481.6 L266.8,483.1 L266.8,484.6 L266.8,486.1 L266.8,487.6 L266.8,489.1 L266.8,490.6 L266.8,492.1 L266.8,493.6 L266.8,495.1 L266.8,496.6 L266.6,498.1 L266.4,499.1 L266,500.5 L265.7,501.6 L265.3,502.6 L265,503.6 L264.5,504.8 L264,506.1 L263.6,507.1 L263.1,508.1 L262.7,509.1 L262.2,510.1 L261.7,511.1 L261.2,512.1 L260.6,513.1 L260,514.1 L259.5,515 L259,515.8 L258.5,516.6 L257.8,517.6 L257.1,518.6 L256.5,519.3 L255.8,520.1 L255,520.9 L254.1,521.6 M254,518.7 L253.1,518.1 L252.5,517.5 L251.7,516.6 L251,515.7 L250.5,515 L249.9,514.1 L249.3,513.1 L248.7,512.1 L248.1,511.1 L247.6,510.1 L247.1,509.1 L246.6,508.1 L246.1,507.1 L245.6,506.1 L245.2,505.1 L244.8,504.1 L244.4,503.1 L244,501.9 L243.6,500.6 L243.3,499.6 L243,498.5 L242.7,497.1 L242.7,495.6 L242.7,494.1 L242.7,492.6 L242.7,491.1 L242.7,489.6 L242.7,488.1 L242.7,486.6 L242.7,485.1 L242.7,483.6 L242.7,482.1 L242.7,480.6 L242.7,479.1 L242.7,477.6 L242.7,476.1 L242.7,474.6 L242.7,473.1 L242.7,471.6 L242.7,470.1 L242.7,468.6 L242.7,467.1 L242.7,465.6 L242.7,464.1 L242.7,462.6 L242.7,461.1 L242.7,459.6 L242.7,458.1 L242.8,456.6 L243,455.5 L243.4,454.1 L243.7,453.1 L244,452.1 L244.5,450.7 L244.9,449.6 L245.3,448.6 L245.8,447.6 L246.2,446.6 L246.7,445.6 L247.2,444.6 L247.7,443.6 L248.3,442.6 L248.9,441.6 L249.5,440.6 L250,439.8 L250.5,439 L251.2,438.1 L252,437.1 L252.5,436.5 L253.5,435.6 L254.5,435.6 L255.1,436.1 L256,437.1 L256.5,437.7 L257.2,438.6 L257.9,439.6 L258.5,440.5 L259,441.4 L259.5,442.2 L260,443.1 L260.5,444.1 L261,445.1 L261.5,446.1 L262,447.1 L262.5,448.2 L263,449.4 L263.5,450.6 L263.8,451.6 L264.2,452.6 L264.5,453.7 L264.9,455.1 L265.1,456.1 L265.3,457.6 L265.3,459.1 L265.3,460.6 L265.3,462.1 L265.3,463.6 L265.3,465.1 L265.3,466.6 L265.3,468.1 L265.3,469.6 L265.3,471.1 L265.3,472.6 L265.3,474.1 L265.3,475.6 L265.3,477.1 L265.3,478.6 L265.3,480.1 L265.3,481.6 L265.3,483.1 L265.3,484.6 L265.3,486.1 L265.3,487.6 L265.3,489.1 L265.3,490.6 L265.3,492.1 L265.3,493.6 L265.3,495.1 L265.3,496.6 L265.1,498.1 L264.9,499.1 L264.5,500.3 L264.1,501.6 L263.8,502.6 L263.4,503.6 L263,504.6 L262.5,505.8 L262,506.9 L261.5,508 L261,509 L260.5,510 L260,510.9 L259.5,511.8 L259,512.6 L258.4,513.6 L257.8,514.6 L257.1,515.6 L256.5,516.3 L255.9,517.1 L255,518 L254.2,518.6 M254,515.8 L253,515.1 L252.5,514.5 L251.7,513.6 L251,512.6 L250.5,511.9 L250,511.1 L249.4,510.1 L248.8,509.1 L248.3,508.1 L247.8,507.1 L247.3,506.1 L246.9,505.1 L246.4,504.1 L246,503 L245.5,501.7 L245.1,500.6 L244.8,499.6 L244.5,498.4 L244.2,497.1 L244.2,495.6 L244.2,494.1 L244.2,492.6 L244.2,491.1 L244.2,489.6 L244.2,488.1 L244.2,486.6 L244.2,485.1 L244.2,483.6 L244.2,482.1 L244.2,480.6 L244.2,479.1 L244.2,477.6 L244.2,476.1 L244.2,474.6 L244.2,473.1 L244.2,471.6 L244.2,470.1 L244.2,468.6 L244.2,467.1 L244.2,465.6 L244.2,464.1 L244.2,462.6 L244.2,461.1 L244.2,459.6 L244.2,458.1 L244.3,456.6 L244.5,455.6 L244.9,454.1 L245.2,453.1 L245.6,452.1 L246,451 L246.5,449.7 L247,448.6 L247.5,447.6 L247.9,446.6 L248.5,445.6 L249,444.6 L249.5,443.7 L250,442.9 L250.5,442.1 L251.2,441.1 L252,440.1 L252.5,439.5 L253.4,438.6 L254.5,438.5 L255.2,439.1 L256,440 L256.5,440.7 L257.2,441.6 L257.8,442.6 L258.4,443.6 L259,444.6 L259.5,445.5 L260,446.5 L260.5,447.5 L261,448.6 L261.4,449.6 L261.9,450.6 L262.2,451.6 L262.6,452.6 L263,453.8 L263.4,455.1 L263.6,456.1 L263.8,457.6 L263.8,459.1 L263.8,460.6 L263.8,462.1 L263.8,463.6 L263.8,465.1 L263.8,466.6 L263.8,468.1 L263.8,469.6 L263.8,471.1 L263.8,472.6 L263.8,474.1 L263.8,475.6 L263.8,477.1 L263.8,478.6 L263.8,480.1 L263.8,481.6 L263.8,483.1 L263.8,484.6 L263.8,486.1 L263.8,487.6 L263.8,489.1 L263.8,490.6 L263.8,492.1 L263.8,493.6 L263.8,495.1 L263.8,496.6 L263.6,498.1 L263.3,499.1 L263,500.2 L262.5,501.6 L262.2,502.6 L261.8,503.6 L261.4,504.6 L260.9,505.6 L260.5,506.6 L260,507.6 L259.4,508.6 L258.9,509.6 L258.3,510.6 L257.7,511.6 L257,512.6 L256.5,513.3 L255.9,514.1 L255,515.1 L254.4,515.6 M254.5,512.6 L253.5,512.6 L252.5,511.6 L252,510.9 L251.4,510.1 L250.7,509.1 L250.1,508.1 L249.6,507.1 L249,506.1 L248.5,505.1 L248.1,504.1 L247.6,503.1 L247.2,502.1 L246.9,501.1 L246.5,500.1 L246.1,498.6 L245.8,497.6 L245.7,496.1 L245.7,494.6 L245.7,493.1 L245.7,491.6 L245.7,490.1 L245.7,488.6 L245.7,487.1 L245.7,485.6 L245.7,484.1 L245.7,482.6 L245.7,481.1 L245.7,479.6 L245.7,478.1 L245.7,476.6 L245.7,475.1 L245.7,473.6 L245.7,472.1 L245.7,470.6 L245.7,469.1 L245.7,467.6 L245.7,466.1 L245.7,464.6 L245.7,463.1 L245.7,461.6 L245.7,460.1 L245.7,458.6 L245.7,457.1 L246,455.7 L246.3,454.6 L246.6,453.6 L247,452.5 L247.5,451.2 L248,450.1 L248.4,449.1 L248.9,448.1 L249.4,447.1 L250,446.1 L250.5,445.3 L251,444.5 L251.6,443.6 L252.4,442.6 L253,441.9 L254,441.1 L254.5,441.4 L255.2,442.1 L256,443.1 L256.5,443.7 L257.1,444.6 L257.7,445.6 L258.3,446.6 L258.8,447.6 L259.3,448.6 L259.8,449.6 L260.2,450.6 L260.7,451.6 L261,452.6 L261.5,453.9 L261.9,455.1 L262.1,456.1 L262.3,457.6 L262.3,459.1 L262.3,460.6 L262.3,462.1 L262.3,463.6 L262.3,465.1 L262.3,466.6 L262.3,468.1 L262.3,469.6 L262.3,471.1 L262.3,472.6 L262.3,474.1 L262.3,475.6 L262.3,477.1 L262.3,478.6 L262.3,480.1 L262.3,481.6 L262.3,483.1 L262.3,484.6 L262.3,486.1 L262.3,487.6 L262.3,489.1 L262.3,490.6 L262.3,492.1 L262.3,493.6 L262.3,495.1 L262.3,496.6 L262.1,498.1 L261.8,499.1 L261.5,500.1 L261,501.5 L260.6,502.6 L260.2,503.6 L259.7,504.6 L259.2,505.6 L258.7,506.6 L258.2,507.6 L257.6,508.6 L257,509.5 L256.5,510.3 L255.9,511.1 L255,512.1 L254.5,512.6 M254.5,509.7 L253.4,509.6 L252.5,508.6 L252,507.9 L251.5,507.1 L250.8,506.1 L250.3,505.1 L249.8,504.1 L249.3,503.1 L248.8,502.1 L248.4,501.1 L248,499.9 L247.6,498.6 L247.3,497.6 L247.2,496.1 L247.2,494.6 L247.2,493.1 L247.2,491.6 L247.2,490.1 L247.2,488.6 L247.2,487.1 L247.2,485.6 L247.2,484.1 L247.2,482.6 L247.2,481.1 L247.2,479.6 L247.2,478.1 L247.2,476.6 L247.2,475.1 L247.2,473.6 L247.2,472.1 L247.2,470.6 L247.2,469.1 L247.2,467.6 L247.2,466.1 L247.2,464.6 L247.2,463.1 L247.2,461.6 L247.2,460.1 L247.2,458.6 L247.2,457.1 L247.5,455.7 L247.8,454.6 L248.2,453.6 L248.6,452.6 L249,451.5 L249.5,450.4 L250,449.4 L250.5,448.5 L251,447.6 L251.7,446.6 L252.4,445.6 L253,444.8 L253.8,444.1 L254.5,444.3 L255.2,445.1 L256,446.1 L256.5,446.8 L257,447.6 L257.6,448.6 L258.1,449.6 L258.6,450.6 L259,451.6 L259.5,452.7 L260,454.1 L260.3,455.1 L260.6,456.1 L260.8,457.6 L260.8,459.1 L260.8,460.6 L260.8,462.1 L260.8,463.6 L260.8,465.1 L260.8,466.6 L260.8,468.1 L260.8,469.6 L260.8,471.1 L260.8,472.6 L260.8,474.1 L260.8,475.6 L260.8,477.1 L260.8,478.6 L260.8,480.1 L260.8,481.6 L260.8,483.1 L260.8,484.6 L260.8,486.1 L260.8,487.6 L260.8,489.1 L260.8,490.6 L260.8,492.1 L260.8,493.6 L260.8,495.1 L260.8,496.6 L260.5,498.1 L260.3,499.1 L259.9,500.1 L259.5,501.3 L259,502.5 L258.5,503.6 L258,504.6 L257.5,505.5 L257,506.4 L256.5,507.2 L255.9,508.1 L255.1,509.1 L254.5,509.7 M254,507.1 L253.4,506.6 L252.5,505.6 L252,504.8 L251.5,504 L251,503.1 L250.5,502.1 L250,501 L249.5,499.7 L249.1,498.6 L248.9,497.6 L248.8,496.1 L248.8,494.6 L248.8,493.1 L248.8,491.6 L248.8,490.1 L248.8,488.6 L248.8,487.1 L248.8,485.6 L248.8,484.1 L248.8,482.6 L248.8,481.1 L248.8,479.6 L248.8,478.1 L248.8,476.6 L248.8,475.1 L248.8,473.6 L248.8,472.1 L248.8,470.6 L248.8,469.1 L248.8,467.6 L248.8,466.1 L248.8,464.6 L248.8,463.1 L248.8,461.6 L248.8,460.1 L248.8,458.6 L248.8,457.1 L249,455.8 L249.4,454.6 L249.8,453.6 L250.2,452.6 L250.7,451.6 L251.2,450.6 L251.7,449.6 L252.4,448.6 L253,447.8 L253.7,447.1 L254.5,447.3 L255.2,448.1 L255.9,449.1 L256.5,450 L257,450.9 L257.5,451.9 L258,453 L258.4,454.1 L258.8,455.1 L259.1,456.1 L259.2,457.6 L259.2,459.1 L259.2,460.6 L259.2,462.1 L259.2,463.6 L259.2,465.1 L259.2,466.6 L259.2,468.1 L259.2,469.6 L259.2,471.1 L259.2,472.6 L259.2,474.1 L259.2,475.6 L259.2,477.1 L259.2,478.6 L259.2,480.1 L259.2,481.6 L259.2,483.1 L259.2,484.6 L259.2,486.1 L259.2,487.6 L259.2,489.1 L259.2,490.6 L259.2,492.1 L259.2,493.6 L259.2,495.1 L259.2,496.6 L259,498.1 L258.7,499.1 L258.4,500.1 L257.9,501.1 L257.5,502.1 L257,503.1 L256.4,504.1 L255.8,505.1 L255.1,506.1 L254.5,506.7 M254,504.2 L253.3,503.6 L252.6,502.6 L252,501.6 L251.5,500.6 L251,499.6 L250.7,498.6 L250.4,497.6 L250.3,496.1 L250.3,494.6 L250.3,493.1 L250.3,491.6 L250.3,490.1 L250.3,488.6 L250.3,487.1 L250.3,485.6 L250.3,484.1 L250.3,482.6 L250.3,481.1 L250.3,479.6 L250.3,478.1 L250.3,476.6 L250.3,475.1 L250.3,473.6 L250.3,472.1 L250.3,470.6 L250.3,469.1 L250.3,467.6 L250.3,466.1 L250.3,464.6 L250.3,463.1 L250.3,461.6 L250.3,460.1 L250.3,458.6 L250.3,457.1 L250.5,455.9 L251,454.6 L251.4,453.6 L251.9,452.6 L252.5,451.6 L253,450.8 L253.6,450.1 L254.5,450.2 L255.2,451.1 L255.8,452.1 L256.4,453.1 L256.8,454.1 L257.2,455.1 L257.5,456.1 L257.7,457.6 L257.7,459.1 L257.7,460.6 L257.7,462.1 L257.7,463.6 L257.7,465.1 L257.7,466.6 L257.7,468.1 L257.7,469.6 L257.7,471.1 L257.7,472.6 L257.7,474.1 L257.7,475.6 L257.7,477.1 L257.7,478.6 L257.7,480.1 L257.7,481.6 L257.7,483.1 L257.7,484.6 L257.7,486.1 L257.7,487.6 L257.7,489.1 L257.7,490.6 L257.7,492.1 L257.7,493.6 L257.7,495.1 L257.7,496.6 L257.5,498.1 L257.1,499.1 L256.7,500.1 L256.3,501.1 L255.7,502.1 L255.1,503.1 L254.5,503.8" fill="none" stroke="#dd2a2a" stroke-width="0.75" stroke-opacity="0.9" stroke-linejoin="round" clip-path="url(#cg)"/>
<path d="M169.5,429.2 L168,429.4 L166.5,429.2 L165.5,428.8 L164.5,428.2 L163.8,427.6 L163,426.7 L162.5,425.9 L162,425 L161.5,423.7 L161.2,422.6 L161,421.2 L160.9,420.1 L161,418.8 L161.2,417.6 L161.5,416.3 L162,415.1 L162.5,414.1 L163,413.3 L163.6,412.6 L164.5,411.8 L165.5,411.2 L166.5,410.8 L167.6,410.6 L168.5,410.6 L170,411 L171,411.5 L171.8,412.1 L172.5,412.7 L173.2,413.6 L173.8,414.6 L174.2,415.6 L174.6,416.6 L174.9,418.1 L175,419.1 L175.1,420.6 L175,421.6 L174.7,423.1 L174.4,424.1 L173.9,425.1 L173.4,426.1 L172.6,427.1 L172,427.8 L171,428.5 L170,429 M168.5,515.7 L167,515.8 L166,515.5 L165,514.9 L164.1,514.1 L163.5,513.2 L163,512.3 L162.5,511.1 L162.2,510.1 L162,509 L161.9,507.6 L161.9,506.1 L162,505 L162.3,503.6 L162.6,502.6 L163,501.6 L163.6,500.6 L164.4,499.6 L165,499.1 L166,498.5 L167.5,498.2 L169,498.5 L170,499.1 L170.6,499.6 L171.4,500.6 L172,501.6 L172.4,502.6 L172.7,503.6 L173,505 L173.1,506.1 L173.1,507.6 L173,509 L172.8,510.1 L172.5,511.1 L172,512.3 L171.5,513.2 L170.9,514.1 L170,514.9 L169,515.5" fill="none" stroke="#8e44a8" stroke-width="0.8" stroke-opacity="1" stroke-linejoin="round" clip-path="url(#cg)"/>
<path d="M169.4,410.1 L169.5,411.6 L169.4,413.1 L169.3,414.6 L169,416 L168.7,417.1 L168.3,418.1 L167.8,419.1 L167.1,420.1 L166.5,420.8 L165.5,421.5 L164.5,421.8 L163,421.7 L162,421.2 L161.3,420.6 L160.5,419.6 L160,418.7 L159.5,417.6 L159.2,416.6 L158.9,415.6 L158.7,414.1 L158.5,412.6 L158.6,411.1" fill="none" stroke="#4a5aa8" stroke-width="0.8" stroke-opacity="1" stroke-linejoin="round" clip-path="url(#cg)"/>
<circle cx="161.5" cy="418.6" r="0.6" fill="#4a5aa8"/>
<path d="M116.5,410.1v1.6M116.5,539.3v-1.6M122.8,410.1v1.6M122.8,539.3v-1.6M129,410.1v1.6M129,539.3v-1.6M135.3,410.1v1.6M135.3,539.3v-1.6M141.5,410.1v2.6M141.5,539.3v-2.6M147.7,410.1v1.6M147.7,539.3v-1.6M154,410.1v1.6M154,539.3v-1.6M160.2,410.1v1.6M160.2,539.3v-1.6M166.5,410.1v1.6M166.5,539.3v-1.6M172.7,410.1v2.6M172.7,539.3v-2.6M178.9,410.1v1.6M178.9,539.3v-1.6M185.2,410.1v1.6M185.2,539.3v-1.6M191.4,410.1v1.6M191.4,539.3v-1.6M197.7,410.1v1.6M197.7,539.3v-1.6M203.9,410.1v2.6M203.9,539.3v-2.6M210.1,410.1v1.6M210.1,539.3v-1.6M216.4,410.1v1.6M216.4,539.3v-1.6M222.6,410.1v1.6M222.6,539.3v-1.6M228.9,410.1v1.6M228.9,539.3v-1.6M235.1,410.1v2.6M235.1,539.3v-2.6M241.3,410.1v1.6M241.3,539.3v-1.6M247.6,410.1v1.6M247.6,539.3v-1.6M253.8,410.1v1.6M253.8,539.3v-1.6M260.1,410.1v1.6M260.1,539.3v-1.6M266.3,410.1v2.6M266.3,539.3v-2.6M272.5,410.1v1.6M272.5,539.3v-1.6M278.8,410.1v1.6M278.8,539.3v-1.6M285,410.1v1.6M285,539.3v-1.6M291.3,410.1v1.6M291.3,539.3v-1.6M297.5,410.1v2.6M297.5,539.3v-2.6M303.7,410.1v1.6M303.7,539.3v-1.6M113.5,412.5h1.6M307.5,412.5h-1.6M113.5,418.7h2.6M307.5,418.7h-2.6M113.5,424.9h1.6M307.5,424.9h-1.6M113.5,431.2h1.6M307.5,431.2h-1.6M113.5,437.4h1.6M307.5,437.4h-1.6M113.5,443.7h1.6M307.5,443.7h-1.6M113.5,449.9h2.6M307.5,449.9h-2.6M113.5,456.1h1.6M307.5,456.1h-1.6M113.5,462.4h1.6M307.5,462.4h-1.6M113.5,468.6h1.6M307.5,468.6h-1.6M113.5,474.9h1.6M307.5,474.9h-1.6M113.5,481.1h2.6M307.5,481.1h-2.6M113.5,487.3h1.6M307.5,487.3h-1.6M113.5,493.6h1.6M307.5,493.6h-1.6M113.5,499.8h1.6M307.5,499.8h-1.6M113.5,506.1h1.6M307.5,506.1h-1.6M113.5,512.3h2.6M307.5,512.3h-2.6M113.5,518.5h1.6M307.5,518.5h-1.6M113.5,524.8h1.6M307.5,524.8h-1.6M113.5,531h1.6M307.5,531h-1.6M113.5,537.3h1.6M307.5,537.3h-1.6" stroke="#111" stroke-width="0.9" fill="none"/><rect x="113.5" y="410.1" width="194" height="129.2" fill="none" stroke="#111" stroke-width="1.3"/>
<text font-family="Liberation Sans, sans-serif" x="85.3" y="415.9" font-size="13.5" font-weight="bold">g</text>
<text font-family="Liberation Sans, sans-serif" x="187.2" y="552.4" font-size="12" fill="#111"><tspan font-family="Liberation Serif, serif" font-size="12.5">ω</tspan><tspan font-size="9.5" dy="3">2</tspan><tspan dy="-3"> /ppm</tspan></text>
<text font-family="Liberation Sans, sans-serif" transform="translate(103.8,472) rotate(-90)" text-anchor="middle" font-size="12" fill="#111"><tspan font-family="Liberation Serif, serif" font-size="12.5">ω</tspan><tspan font-size="9.5" dy="3">1</tspan><tspan dy="-3"> /ppm</tspan></text>
<clipPath id="ch"><rect x="368.4" y="378.3" width="130.2" height="195"/></clipPath>
<path d="M429.9,378.3 L430.9,379.3 L431.4,379.9 L432.1,380.8 L432.8,381.8 L433.4,382.7 L433.9,383.5 L434.4,384.4 L434.9,385.3 L435.4,386.3 L435.9,387.4 L436.4,388.5 L436.9,389.7 L437.3,390.8 L437.7,391.8 L438,392.8 L438.4,393.9 L438.9,395.3 L439.2,396.3 L439.4,397.3 L439.8,398.8 L440.1,399.8 L440.4,401.1 L440.7,402.3 L440.9,403.3 L441.2,404.8 L441.4,405.8 L441.7,407.3 L441.9,408.6 L442.1,409.8 L442.3,411.3 L442.4,412.3 L442.6,413.8 L442.8,415.3 L442.9,416.3 L443.1,417.8 L443.2,419.3 L443.3,420.8 L443.4,422 L443.5,423.3 L443.6,424.8 L443.6,426.3 L443.7,427.8 L443.7,429.3 L443.7,430.8 L443.7,432.3 L443.7,433.8 L443.7,435.3 L443.7,436.8 L443.6,438.3 L443.5,439.8 L443.4,441.3 L443.4,442.3 L443.3,443.8 L443.2,445.3 L443,446.8 L442.9,447.9 L442.7,449.3 L442.6,450.8 L442.4,452 L442.2,453.3 L442,454.8 L441.8,455.8 L441.6,457.3 L441.4,458.3 L441.1,459.8 L440.9,460.8 L440.6,462.3 L440.3,463.3 L439.9,464.8 L439.7,465.8 L439.4,466.8 L439,468.3 L438.7,469.3 L438.3,470.3 L437.9,471.6 L437.5,472.8 L437.1,473.8 L436.7,474.8 L436.3,475.8 L435.8,476.8 L435.3,477.8 L434.8,478.8 L434.3,479.8 L433.7,480.8 L433.1,481.8 L432.4,482.8 L431.9,483.5 L431.2,484.3 L430.4,485.2 L429.8,485.8 L428.9,486.6 L428,487.3 L427.2,487.8 L426.2,488.3 L424.9,488.7 L423.9,488.9 L422.4,489 L421.3,488.8 L419.9,488.3 L418.9,487.9 L418,487.3 L417.3,486.8 L416.4,486 L415.7,485.3 L414.9,484.5 L414.4,483.8 L413.6,482.8 L412.9,481.8 L412.4,481 L411.9,480.1 L411.4,479.2 L410.9,478.3 L410.4,477.2 L409.9,476.2 L409.4,475 L408.9,473.8 L408.5,472.8 L408.2,471.8 L407.8,470.8 L407.4,469.5 L407,468.3 L406.7,467.3 L406.4,466.1 L406.1,464.8 L405.8,463.8 L405.4,462.3 L405.2,461.3 L404.9,459.8 L404.7,458.8 L404.4,457.3 L404.3,456.3 L404,454.8 L403.9,453.8 L403.6,452.3 L403.4,450.8 L403.3,449.8 L403.1,448.3 L403,446.8 L402.9,445.8 L402.8,444.3 L402.6,442.8 L402.6,441.3 L402.5,439.8 L402.4,438.3 L402.4,437.3 L402.3,435.8 L402.3,434.3 L402.3,432.8 L402.3,431.3 L402.3,429.8 L402.3,428.3 L402.4,426.8 L402.4,425.8 L402.5,424.3 L402.5,422.8 L402.6,421.3 L402.8,419.8 L402.9,418.3 L403,417.3 L403.1,415.8 L403.3,414.3 L403.4,413.3 L403.6,411.8 L403.8,410.3 L404,409.3 L404.2,407.8 L404.4,406.8 L404.7,405.3 L404.9,404.3 L405.2,402.8 L405.4,401.8 L405.8,400.3 L406,399.3 L406.4,397.9 L406.7,396.8 L407,395.8 L407.4,394.5 L407.8,393.3 L408.1,392.3 L408.5,391.3 L408.9,390.2 L409.4,389 L409.9,387.8 L410.4,386.8 L410.9,385.8 L411.4,384.8 L411.9,383.9 L412.4,383 L412.9,382.2 L413.5,381.3 L414.3,380.3 L414.9,379.5 L415.6,378.8 M424.4,484.8 L422.9,485 L421.4,484.8 L420.4,484.5 L419.4,484 L418.4,483.4 L417.5,482.8 L416.9,482.2 L416,481.3 L415.4,480.7 L414.7,479.8 L414,478.8 L413.4,477.9 L412.9,477.1 L412.4,476.2 L411.9,475.3 L411.4,474.3 L410.9,473.2 L410.4,472.1 L409.9,470.8 L409.5,469.8 L409.1,468.8 L408.8,467.8 L408.4,466.6 L408,465.3 L407.7,464.3 L407.4,463.1 L407.1,461.8 L406.8,460.8 L406.5,459.3 L406.3,458.3 L406,456.8 L405.8,455.8 L405.5,454.3 L405.4,453.3 L405.1,451.8 L404.9,450.3 L404.8,449.3 L404.6,447.8 L404.5,446.3 L404.4,445.3 L404.2,443.8 L404.1,442.3 L404,440.8 L403.9,439.3 L403.9,438.3 L403.8,436.8 L403.8,435.3 L403.7,433.8 L403.7,432.3 L403.7,430.8 L403.8,429.3 L403.8,427.8 L403.8,426.3 L403.9,425.1 L404,423.8 L404.1,422.3 L404.2,420.8 L404.3,419.3 L404.4,418.2 L404.5,416.8 L404.7,415.3 L404.9,413.9 L405,412.8 L405.3,411.3 L405.4,410.3 L405.7,408.8 L405.9,407.6 L406.2,406.3 L406.4,405.1 L406.7,403.8 L406.9,402.8 L407.3,401.3 L407.6,400.3 L407.9,399.1 L408.3,397.8 L408.6,396.8 L408.9,395.8 L409.4,394.5 L409.8,393.3 L410.2,392.3 L410.7,391.3 L411.1,390.3 L411.6,389.3 L412.1,388.3 L412.7,387.3 L413.3,386.3 L413.9,385.3 L414.4,384.6 L415,383.8 L415.9,382.8 L416.4,382.2 L417.4,381.3 L418.1,380.8 L418.9,380.2 L419.9,379.7 L421.1,379.3 L422.4,379 L423.9,379.1 L425,379.3 L426.3,379.8 L427.2,380.3 L427.9,380.8 L428.9,381.6 L429.7,382.3 L430.4,383.1 L431,383.8 L431.7,384.8 L432.4,385.8 L432.9,386.6 L433.4,387.4 L433.9,388.3 L434.4,389.3 L434.9,390.3 L435.4,391.5 L435.9,392.7 L436.3,393.8 L436.7,394.8 L437.1,395.8 L437.4,396.8 L437.9,398.3 L438.2,399.3 L438.4,400.3 L438.8,401.8 L439.1,402.8 L439.4,404.2 L439.6,405.3 L439.9,406.6 L440.1,407.8 L440.4,409.3 L440.6,410.3 L440.8,411.8 L441,412.8 L441.2,414.3 L441.3,415.8 L441.5,416.8 L441.6,418.3 L441.7,419.8 L441.9,421.3 L441.9,422.3 L442,423.8 L442.1,425.3 L442.2,426.8 L442.2,428.3 L442.3,429.8 L442.3,431.3 L442.3,432.8 L442.2,434.3 L442.2,435.8 L442.2,437.3 L442.1,438.8 L442,440.3 L441.9,441.8 L441.9,442.8 L441.7,444.3 L441.6,445.8 L441.4,447.3 L441.3,448.3 L441.1,449.8 L440.9,451.3 L440.8,452.3 L440.6,453.8 L440.4,454.8 L440.1,456.3 L439.9,457.4 L439.6,458.8 L439.4,459.8 L439.1,461.3 L438.8,462.3 L438.4,463.8 L438.1,464.8 L437.8,465.8 L437.4,467.2 L437,468.3 L436.7,469.3 L436.3,470.3 L435.9,471.3 L435.4,472.5 L434.9,473.7 L434.4,474.7 L433.9,475.7 L433.4,476.6 L432.9,477.4 L432.4,478.3 L431.7,479.3 L430.9,480.3 L430.4,480.9 L429.6,481.8 L428.9,482.4 L427.9,483.2 L427,483.8 L426.1,484.3 L424.9,484.7 M424.4,480.8 L422.9,481 L421.6,480.8 L420.4,480.4 L419.4,480 L418.4,479.3 L417.8,478.8 L416.9,478 L416.2,477.3 L415.4,476.3 L414.9,475.6 L414.4,474.8 L413.7,473.8 L413.2,472.8 L412.6,471.8 L412.1,470.8 L411.7,469.8 L411.3,468.8 L410.9,467.8 L410.4,466.6 L409.9,465.3 L409.6,464.3 L409.3,463.3 L408.9,461.9 L408.6,460.8 L408.3,459.8 L408,458.3 L407.8,457.3 L407.4,455.8 L407.2,454.8 L407,453.3 L406.8,452.3 L406.6,450.8 L406.4,449.7 L406.2,448.3 L406,446.8 L405.9,445.6 L405.8,444.3 L405.6,442.8 L405.5,441.3 L405.4,439.8 L405.4,438.8 L405.3,437.3 L405.2,435.8 L405.2,434.3 L405.2,432.8 L405.2,431.3 L405.2,429.8 L405.2,428.3 L405.3,426.8 L405.4,425.3 L405.4,424.3 L405.5,422.8 L405.6,421.3 L405.8,419.8 L405.9,418.4 L406,417.3 L406.2,415.8 L406.4,414.3 L406.5,413.3 L406.8,411.8 L406.9,410.8 L407.2,409.3 L407.4,408.3 L407.7,406.8 L408,405.8 L408.3,404.3 L408.6,403.3 L408.9,402.1 L409.3,400.8 L409.6,399.8 L409.9,398.8 L410.4,397.4 L410.8,396.3 L411.2,395.3 L411.6,394.3 L412.1,393.3 L412.6,392.3 L413.1,391.3 L413.7,390.3 L414.3,389.3 L414.9,388.4 L415.4,387.7 L416.2,386.8 L416.9,386 L417.7,385.3 L418.4,384.7 L419.4,384 L420.4,383.6 L421.4,383.2 L422.9,383 L424.4,383.2 L425.4,383.5 L426.4,383.9 L427.4,384.6 L428.3,385.3 L428.9,385.8 L429.8,386.8 L430.4,387.5 L431,388.3 L431.7,389.3 L432.3,390.3 L432.9,391.3 L433.4,392.3 L433.9,393.3 L434.4,394.3 L434.8,395.3 L435.2,396.3 L435.6,397.3 L435.9,398.3 L436.4,399.8 L436.7,400.8 L437,401.8 L437.4,403.2 L437.7,404.3 L437.9,405.3 L438.3,406.8 L438.5,407.8 L438.8,409.3 L439,410.3 L439.2,411.8 L439.4,412.9 L439.6,414.3 L439.8,415.8 L439.9,416.8 L440.1,418.3 L440.2,419.8 L440.4,421.3 L440.5,422.3 L440.6,423.8 L440.6,425.3 L440.7,426.8 L440.8,428.3 L440.8,429.8 L440.8,431.3 L440.8,432.8 L440.8,434.3 L440.8,435.8 L440.7,437.3 L440.6,438.8 L440.6,440.3 L440.4,441.8 L440.4,442.8 L440.2,444.3 L440.1,445.8 L439.9,447.3 L439.8,448.3 L439.6,449.8 L439.4,451.1 L439.2,452.3 L438.9,453.8 L438.8,454.8 L438.5,456.3 L438.2,457.3 L437.9,458.8 L437.7,459.8 L437.4,460.8 L437,462.3 L436.7,463.3 L436.4,464.3 L435.9,465.7 L435.5,466.8 L435.1,467.8 L434.7,468.8 L434.3,469.8 L433.9,470.8 L433.4,471.8 L432.8,472.8 L432.3,473.8 L431.6,474.8 L431,475.8 L430.4,476.5 L429.8,477.3 L428.9,478.2 L428.2,478.8 L427.4,479.4 L426.4,480.1 L425.4,480.5 L424.4,480.8 M423.9,476.9 L422.4,476.9 L421.4,476.7 L420.2,476.3 L419.3,475.8 L418.4,475.1 L417.5,474.3 L416.9,473.7 L416.1,472.8 L415.4,471.8 L414.9,471 L414.4,470.2 L413.9,469.3 L413.4,468.3 L412.9,467.3 L412.4,466.2 L411.9,465 L411.4,463.8 L411.1,462.8 L410.8,461.8 L410.4,460.6 L410,459.3 L409.7,458.3 L409.4,456.9 L409.1,455.8 L408.9,454.7 L408.6,453.3 L408.4,452.2 L408.1,450.8 L407.9,449.3 L407.8,448.3 L407.6,446.8 L407.4,445.4 L407.3,444.3 L407.1,442.8 L407,441.3 L406.9,439.8 L406.8,438.8 L406.8,437.3 L406.7,435.8 L406.7,434.3 L406.7,432.8 L406.7,431.3 L406.7,429.8 L406.7,428.3 L406.8,426.8 L406.8,425.3 L406.9,424.2 L407,422.8 L407.1,421.3 L407.3,419.8 L407.4,418.6 L407.5,417.3 L407.7,415.8 L407.9,414.8 L408.1,413.3 L408.4,411.8 L408.6,410.8 L408.9,409.3 L409.1,408.3 L409.4,407.1 L409.7,405.8 L410,404.8 L410.4,403.4 L410.7,402.3 L411.1,401.3 L411.4,400.3 L411.9,399 L412.4,397.8 L412.8,396.8 L413.3,395.8 L413.8,394.8 L414.4,393.8 L414.9,393 L415.4,392.2 L416.1,391.3 L416.9,390.3 L417.4,389.8 L418.4,388.9 L419.2,388.3 L420,387.8 L421.3,387.3 L422.4,387.1 L423.9,387.1 L424.9,387.4 L426,387.8 L426.9,388.3 L427.9,389.1 L428.6,389.8 L429.4,390.6 L429.9,391.3 L430.7,392.3 L431.3,393.3 L431.9,394.3 L432.4,395.2 L432.9,396.2 L433.4,397.3 L433.8,398.3 L434.2,399.3 L434.6,400.3 L434.9,401.3 L435.4,402.7 L435.7,403.8 L436,404.8 L436.4,406.3 L436.7,407.3 L436.9,408.3 L437.2,409.8 L437.4,410.8 L437.7,412.3 L437.9,413.5 L438.1,414.8 L438.3,416.3 L438.4,417.3 L438.6,418.8 L438.8,420.3 L438.9,421.6 L439,422.8 L439.1,424.3 L439.2,425.8 L439.3,427.3 L439.3,428.8 L439.3,430.3 L439.3,431.8 L439.3,433.3 L439.3,434.8 L439.3,436.3 L439.2,437.8 L439.1,439.3 L439,440.8 L438.9,442.3 L438.8,443.3 L438.7,444.8 L438.5,446.3 L438.4,447.3 L438.2,448.8 L437.9,450.3 L437.8,451.3 L437.5,452.8 L437.3,453.8 L437,455.3 L436.8,456.3 L436.4,457.7 L436.1,458.8 L435.8,459.8 L435.4,461.3 L435.1,462.3 L434.7,463.3 L434.4,464.3 L433.9,465.5 L433.4,466.7 L432.9,467.8 L432.4,468.8 L431.9,469.7 L431.4,470.6 L430.9,471.4 L430.2,472.3 L429.5,473.3 L428.9,473.9 L428,474.8 L427.4,475.3 L426.4,476 L425.4,476.5 L424.3,476.8 M423.9,472.9 L422.4,472.9 L421.4,472.7 L420.4,472.3 L419.4,471.7 L418.4,470.9 L417.7,470.3 L416.9,469.3 L416.4,468.7 L415.8,467.8 L415.2,466.8 L414.6,465.8 L414.1,464.8 L413.6,463.8 L413.2,462.8 L412.8,461.8 L412.4,460.7 L411.9,459.3 L411.6,458.3 L411.3,457.3 L410.9,455.9 L410.6,454.8 L410.4,453.8 L410.1,452.3 L409.9,451.3 L409.6,449.8 L409.4,448.7 L409.2,447.3 L409,445.8 L408.9,444.8 L408.7,443.3 L408.5,441.8 L408.4,440.3 L408.3,439.3 L408.3,437.8 L408.2,436.3 L408.1,434.8 L408.1,433.3 L408.1,431.8 L408.1,430.3 L408.2,428.8 L408.2,427.3 L408.3,425.8 L408.4,424.3 L408.5,423.3 L408.6,421.8 L408.7,420.3 L408.9,418.9 L409,417.8 L409.2,416.3 L409.4,415.3 L409.7,413.8 L409.9,412.5 L410.2,411.3 L410.4,410.2 L410.7,408.8 L411,407.8 L411.4,406.3 L411.7,405.3 L412,404.3 L412.4,403.3 L412.9,401.9 L413.4,400.8 L413.8,399.8 L414.3,398.8 L414.8,397.8 L415.4,396.8 L415.9,396 L416.4,395.3 L417.2,394.3 L417.9,393.5 L418.7,392.8 L419.4,392.3 L420.4,391.7 L421.4,391.3 L422.9,391.1 L424.4,391.2 L425.4,391.6 L426.4,392.1 L427.3,392.8 L427.9,393.3 L428.8,394.3 L429.4,395 L430,395.8 L430.6,396.8 L431.2,397.8 L431.7,398.8 L432.2,399.8 L432.6,400.8 L433.1,401.8 L433.4,402.8 L433.9,404.1 L434.3,405.3 L434.6,406.3 L434.9,407.4 L435.3,408.8 L435.5,409.8 L435.8,411.3 L436.1,412.3 L436.3,413.8 L436.5,414.8 L436.8,416.3 L436.9,417.3 L437.1,418.8 L437.3,420.3 L437.4,421.6 L437.5,422.8 L437.6,424.3 L437.7,425.8 L437.8,427.3 L437.8,428.8 L437.9,430.3 L437.9,431.8 L437.9,433.3 L437.9,434.8 L437.8,436.3 L437.7,437.8 L437.7,439.3 L437.5,440.8 L437.4,442.3 L437.3,443.3 L437.1,444.8 L437,446.3 L436.8,447.3 L436.6,448.8 L436.4,449.8 L436.1,451.3 L435.9,452.4 L435.6,453.8 L435.4,454.8 L435,456.3 L434.7,457.3 L434.4,458.3 L433.9,459.8 L433.6,460.8 L433.2,461.8 L432.8,462.8 L432.4,463.8 L431.9,464.8 L431.4,465.8 L430.8,466.8 L430.2,467.8 L429.5,468.8 L428.9,469.6 L428.3,470.3 L427.4,471.1 L426.5,471.8 L425.6,472.3 L424.4,472.8 M423.9,468.8 L422.4,468.9 L421.4,468.7 L420.4,468.2 L419.4,467.6 L418.5,466.8 L417.9,466.2 L417.2,465.3 L416.5,464.3 L415.9,463.3 L415.4,462.4 L414.9,461.5 L414.4,460.4 L414,459.3 L413.6,458.3 L413.2,457.3 L412.9,456.3 L412.4,454.8 L412.2,453.8 L411.9,452.8 L411.5,451.3 L411.3,450.3 L411,448.8 L410.9,447.8 L410.6,446.3 L410.4,444.8 L410.3,443.8 L410.1,442.3 L410,440.8 L409.9,439.8 L409.8,438.3 L409.7,436.8 L409.6,435.3 L409.6,433.8 L409.6,432.3 L409.6,430.8 L409.6,429.3 L409.7,427.8 L409.7,426.3 L409.8,424.8 L409.9,423.8 L410,422.3 L410.2,420.8 L410.4,419.3 L410.5,418.3 L410.8,416.8 L410.9,415.8 L411.2,414.3 L411.4,413.3 L411.8,411.8 L412,410.8 L412.4,409.3 L412.7,408.3 L413,407.3 L413.4,406.2 L413.9,404.8 L414.3,403.8 L414.8,402.8 L415.3,401.8 L415.8,400.8 L416.4,399.8 L416.9,399.1 L417.5,398.3 L418.4,397.3 L418.9,396.8 L419.9,396.1 L420.9,395.5 L421.9,395.2 L423.4,395.1 L424.5,395.3 L425.6,395.8 L426.4,396.3 L427.4,397.1 L428.1,397.8 L428.9,398.8 L429.4,399.5 L429.9,400.3 L430.5,401.3 L431,402.3 L431.5,403.3 L431.9,404.3 L432.4,405.6 L432.8,406.8 L433.1,407.8 L433.4,408.8 L433.9,410.3 L434.1,411.3 L434.4,412.5 L434.7,413.8 L434.9,414.9 L435.2,416.3 L435.4,417.8 L435.5,418.8 L435.7,420.3 L435.9,421.7 L436,422.8 L436.1,424.3 L436.2,425.8 L436.3,427.3 L436.4,428.8 L436.4,429.8 L436.4,431.3 L436.4,432.8 L436.4,434.3 L436.4,435.3 L436.3,436.8 L436.2,438.3 L436.1,439.8 L436,441.3 L435.9,442.3 L435.7,443.8 L435.5,445.3 L435.4,446.3 L435.1,447.8 L434.9,449.1 L434.7,450.3 L434.4,451.5 L434.1,452.8 L433.8,453.8 L433.4,455.3 L433.1,456.3 L432.8,457.3 L432.4,458.4 L431.9,459.7 L431.4,460.8 L430.9,461.8 L430.4,462.8 L429.9,463.7 L429.4,464.5 L428.8,465.3 L428,466.3 L427.4,466.9 L426.4,467.7 L425.5,468.3 L424.4,468.7 M423.9,464.8 L422.4,464.9 L421.4,464.6 L420.4,464.1 L419.4,463.4 L418.8,462.8 L417.9,461.8 L417.4,461.1 L416.9,460.3 L416.3,459.3 L415.8,458.3 L415.3,457.3 L414.9,456.2 L414.4,454.9 L414,453.8 L413.7,452.8 L413.4,451.7 L413,450.3 L412.8,449.3 L412.5,447.8 L412.3,446.8 L412,445.3 L411.9,444.3 L411.7,442.8 L411.5,441.3 L411.4,440.1 L411.3,438.8 L411.2,437.3 L411.1,435.8 L411.1,434.3 L411,432.8 L411,431.3 L411.1,429.8 L411.1,428.3 L411.2,426.8 L411.3,425.3 L411.4,423.9 L411.5,422.8 L411.7,421.3 L411.9,419.8 L412,418.8 L412.3,417.3 L412.5,416.3 L412.8,414.8 L413,413.8 L413.4,412.3 L413.7,411.3 L414,410.3 L414.4,409.1 L414.9,407.8 L415.3,406.8 L415.8,405.8 L416.3,404.8 L416.8,403.8 L417.4,402.9 L417.9,402.2 L418.7,401.3 L419.4,400.6 L420.4,399.9 L421.4,399.4 L422.4,399.1 L423.9,399.2 L424.9,399.5 L425.9,400.1 L426.8,400.8 L427.4,401.4 L428.2,402.3 L428.9,403.3 L429.4,404.2 L429.9,405.1 L430.4,406.1 L430.9,407.3 L431.3,408.3 L431.7,409.3 L432,410.3 L432.4,411.6 L432.7,412.8 L433,413.8 L433.3,415.3 L433.5,416.3 L433.8,417.8 L434,418.8 L434.2,420.3 L434.4,421.8 L434.5,422.8 L434.6,424.3 L434.8,425.8 L434.8,427.3 L434.9,428.4 L434.9,429.8 L435,431.3 L435,432.8 L434.9,434.3 L434.9,435.6 L434.8,436.8 L434.8,438.3 L434.6,439.8 L434.5,441.3 L434.4,442.3 L434.2,443.8 L434,445.3 L433.8,446.3 L433.5,447.8 L433.3,448.8 L433,450.3 L432.7,451.3 L432.4,452.4 L432,453.8 L431.6,454.8 L431.3,455.8 L430.9,456.8 L430.4,457.9 L429.9,458.9 L429.4,459.8 L428.8,460.8 L428.1,461.8 L427.4,462.6 L426.7,463.3 L425.9,463.9 L424.9,464.5 L423.9,464.8 M423.9,460.8 L422.4,460.9 L421.4,460.6 L420.4,460 L419.5,459.3 L418.9,458.6 L418.3,457.8 L417.6,456.8 L417,455.8 L416.5,454.8 L416.1,453.8 L415.7,452.8 L415.3,451.8 L414.9,450.4 L414.6,449.3 L414.3,448.3 L414,446.8 L413.8,445.8 L413.5,444.3 L413.3,443.3 L413.1,441.8 L412.9,440.3 L412.8,439.3 L412.7,437.8 L412.6,436.3 L412.5,434.8 L412.5,433.3 L412.5,431.8 L412.5,430.3 L412.5,428.8 L412.6,427.3 L412.7,425.8 L412.9,424.3 L413,423.3 L413.2,421.8 L413.4,420.3 L413.6,419.3 L413.8,417.8 L414.1,416.8 L414.4,415.4 L414.7,414.3 L415,413.3 L415.4,412 L415.9,410.8 L416.3,409.8 L416.7,408.8 L417.3,407.8 L417.8,406.8 L418.4,406 L419,405.3 L419.9,404.4 L420.7,403.8 L421.8,403.3 L422.9,403.1 L424.2,403.3 L425.3,403.8 L426,404.3 L426.9,405.2 L427.4,405.8 L428.1,406.8 L428.7,407.8 L429.3,408.8 L429.7,409.8 L430.1,410.8 L430.5,411.8 L430.9,412.9 L431.3,414.3 L431.6,415.3 L431.9,416.6 L432.2,417.8 L432.4,419.1 L432.6,420.3 L432.8,421.8 L433,422.8 L433.1,424.3 L433.3,425.8 L433.4,427.3 L433.4,428.3 L433.5,429.8 L433.5,431.3 L433.5,432.8 L433.5,434.3 L433.4,435.8 L433.4,436.8 L433.3,438.3 L433.1,439.8 L433,441.3 L432.8,442.3 L432.6,443.8 L432.4,444.9 L432.1,446.3 L431.9,447.4 L431.6,448.8 L431.3,449.8 L430.9,451.1 L430.5,452.3 L430.1,453.3 L429.7,454.3 L429.2,455.3 L428.7,456.3 L428.1,457.3 L427.4,458.3 L426.9,458.8 L425.9,459.8 L425.1,460.3 L423.9,460.8 M423.4,456.9 L422.2,456.8 L421,456.3 L420.3,455.8 L419.4,454.8 L418.9,454.2 L418.3,453.3 L417.8,452.3 L417.3,451.3 L416.9,450.3 L416.4,449 L416,447.8 L415.7,446.8 L415.4,445.5 L415.1,444.3 L414.9,443.1 L414.7,441.8 L414.5,440.3 L414.3,439.3 L414.2,437.8 L414.1,436.3 L414,434.8 L414,433.3 L413.9,431.8 L414,430.3 L414,428.8 L414.1,427.3 L414.2,425.8 L414.4,424.3 L414.5,423.3 L414.7,421.8 L414.9,420.8 L415.2,419.3 L415.4,418.3 L415.8,416.8 L416.1,415.8 L416.5,414.8 L416.9,413.6 L417.4,412.4 L417.9,411.4 L418.4,410.6 L418.9,409.8 L419.7,408.8 L420.4,408.2 L421.4,407.5 L422.4,407.2 L423.9,407.2 L424.9,407.7 L425.8,408.3 L426.4,408.9 L427.1,409.8 L427.7,410.8 L428.3,411.8 L428.8,412.8 L429.2,413.8 L429.5,414.8 L429.9,415.9 L430.3,417.3 L430.6,418.3 L430.9,419.8 L431.1,420.8 L431.3,422.3 L431.5,423.3 L431.7,424.8 L431.8,426.3 L431.9,427.4 L432,428.8 L432,430.3 L432.1,431.8 L432,433.3 L432,434.8 L431.9,436.3 L431.8,437.3 L431.7,438.8 L431.5,440.3 L431.4,441.3 L431.2,442.8 L430.9,444.2 L430.7,445.3 L430.4,446.3 L430,447.8 L429.7,448.8 L429.3,449.8 L428.9,450.9 L428.4,452 L427.9,452.9 L427.4,453.8 L426.6,454.8 L425.9,455.6 L425,456.3 L423.9,456.8 M423.4,452.9 L422.3,452.8 L421.2,452.3 L420.4,451.6 L419.7,450.8 L419,449.8 L418.5,448.8 L418,447.8 L417.6,446.8 L417.3,445.8 L416.9,444.4 L416.6,443.3 L416.4,442.3 L416.1,440.8 L415.9,439.4 L415.8,438.3 L415.6,436.8 L415.5,435.3 L415.4,433.8 L415.4,432.3 L415.4,430.8 L415.5,429.3 L415.6,427.8 L415.7,426.3 L415.9,424.8 L416,423.8 L416.3,422.3 L416.5,421.3 L416.8,419.8 L417.1,418.8 L417.4,417.8 L417.9,416.5 L418.4,415.4 L418.9,414.4 L419.4,413.6 L420,412.8 L420.9,411.9 L421.9,411.3 L422.9,411.1 L424,411.3 L424.9,411.8 L425.9,412.7 L426.4,413.3 L427,414.3 L427.6,415.3 L428,416.3 L428.4,417.3 L428.9,418.8 L429.2,419.8 L429.4,420.8 L429.7,422.3 L429.9,423.3 L430.1,424.8 L430.3,426.3 L430.4,427.3 L430.5,428.8 L430.6,430.3 L430.6,431.8 L430.6,433.3 L430.5,434.8 L430.4,436.3 L430.3,437.3 L430.2,438.8 L430,440.3 L429.8,441.3 L429.5,442.8 L429.3,443.8 L428.9,445.2 L428.5,446.3 L428.2,447.3 L427.7,448.3 L427.3,449.3 L426.7,450.3 L425.9,451.3 L425.4,451.8 L424.4,452.5 L423.4,452.9 M423.4,448.8 L422.4,448.8 L421.4,448.3 L420.4,447.3 L419.9,446.6 L419.4,445.7 L418.9,444.6 L418.4,443.3 L418.1,442.3 L417.9,441.3 L417.6,439.8 L417.4,438.8 L417.2,437.3 L417,435.8 L416.9,434.3 L416.9,433.3 L416.9,431.8 L416.9,430.3 L416.9,429.3 L417.1,427.8 L417.2,426.3 L417.4,425.1 L417.6,423.8 L417.9,422.6 L418.3,421.3 L418.6,420.3 L419,419.3 L419.4,418.3 L420,417.3 L420.8,416.3 L421.4,415.7 L422.4,415.2 L423.9,415.3 L424.7,415.8 L425.4,416.5 L426,417.3 L426.6,418.3 L427,419.3 L427.4,420.3 L427.9,421.8 L428.1,422.8 L428.4,424 L428.6,425.3 L428.8,426.8 L428.9,427.8 L429.1,429.3 L429.1,430.8 L429.1,432.3 L429.1,433.8 L429,435.3 L428.9,436.6 L428.8,437.8 L428.5,439.3 L428.3,440.3 L428,441.8 L427.7,442.8 L427.4,443.8 L426.9,445 L426.4,446 L425.9,446.9 L425.1,447.8 L424.4,448.4 L423.4,448.8 M423.4,444.8 L422.4,444.8 L421.4,444.1 L420.8,443.3 L420.2,442.3 L419.8,441.3 L419.4,440.2 L419,438.8 L418.8,437.8 L418.6,436.3 L418.4,434.8 L418.4,433.8 L418.3,432.3 L418.3,430.8 L418.4,429.7 L418.5,428.3 L418.7,426.8 L418.9,425.8 L419.3,424.3 L419.6,423.3 L419.9,422.3 L420.4,421.3 L421.1,420.3 L421.9,419.5 L422.9,419.1 L423.9,419.4 L424.9,420.2 L425.4,421 L425.9,421.9 L426.4,423.2 L426.7,424.3 L427,425.3 L427.3,426.8 L427.4,427.8 L427.6,429.3 L427.7,430.8 L427.7,432.3 L427.6,433.8 L427.5,435.3 L427.4,436.4 L427.2,437.8 L426.9,439.1 L426.6,440.3 L426.2,441.3 L425.8,442.3 L425.2,443.3 L424.4,444.3 L423.4,444.8 M422.9,440.8 L421.9,440.3 L421.4,439.7 L420.9,438.7 L420.4,437.3 L420.2,436.3 L419.9,434.8 L419.8,433.8 L419.8,432.3 L419.8,430.8 L419.9,429.6 L420.1,428.3 L420.4,426.8 L420.7,425.8 L421.1,424.8 L421.8,423.8 L422.4,423.3 L423.6,423.3 L424.4,424 L424.9,424.9 L425.4,426.1 L425.7,427.3 L425.9,428.3 L426.1,429.8 L426.2,431.3 L426.2,432.8 L426.1,434.3 L425.9,435.8 L425.7,436.8 L425.4,437.9 L424.9,439.1 L424.4,440 L423.4,440.8 M422.9,436.8 L422.2,436.3 L421.7,435.3 L421.4,434 L421.3,432.8 L421.3,431.3 L421.4,430 L421.7,428.8 L422.1,427.8 L422.9,427.2 L423.9,427.8 L424.3,428.8 L424.6,429.8 L424.7,431.3 L424.7,432.8 L424.5,434.3 L424.3,435.3 L423.8,436.3 L422.9,436.8" fill="none" stroke="#dd2222" stroke-width="0.7" stroke-opacity="0.95" stroke-linejoin="round" clip-path="url(#ch)"/>
<path d="M434.4,539.8 L432.9,539.8 L431.4,539.8 L430.4,539.7 L428.9,539.6 L427.5,539.3 L426.4,539 L425.4,538.8 L424.1,538.3 L422.9,537.8 L421.9,537.3 L420.9,536.8 L420.1,536.3 L419.3,535.8 L418.4,535.1 L417.4,534.3 L416.8,533.8 L415.9,532.9 L415.3,532.3 L414.4,531.3 L413.9,530.7 L413.2,529.8 L412.5,528.8 L411.9,528 L411.4,527.2 L410.9,526.3 L410.3,525.3 L409.8,524.3 L409.4,523.3 L408.9,522.3 L408.4,521.1 L407.9,519.8 L407.6,518.8 L407.2,517.8 L406.9,516.7 L406.5,515.3 L406.2,514.3 L405.9,513.2 L405.5,511.8 L405.3,510.8 L404.9,509.3 L404.6,508.3 L404.4,507.3 L403.9,505.8 L403.6,504.8 L403.3,503.8 L402.9,502.7 L402.4,501.5 L401.9,500.3 L401.5,499.3 L401,498.3 L400.5,497.3 L400,496.3 L399.5,495.3 L399,494.3 L398.6,493.3 L398.1,492.3 L397.7,491.3 L397.4,490.3 L396.9,488.8 L396.6,487.8 L396.4,486.8 L396.1,485.3 L395.9,483.8 L395.8,482.8 L395.8,481.3 L395.8,479.8 L395.9,478.3 L396,477.3 L396.2,475.8 L396.4,474.8 L396.8,473.3 L397.1,472.3 L397.5,471.3 L397.9,470.3 L398.4,469.3 L399,468.3 L399.6,467.3 L400.3,466.3 L400.9,465.6 L401.6,464.8 L402.4,463.9 L402.9,463.3 L403.8,462.3 L404.4,461.6 L405,460.8 L405.7,459.8 L406.3,458.8 L406.8,457.8 L407.2,456.8 L407.6,455.8 L407.9,454.8 L408.4,453.3 L408.6,452.3 L408.9,451 L409.1,449.8 L409.4,448.4 L409.6,447.3 L409.8,445.8 L410,444.8 L410.2,443.3 L410.4,441.8 L410.5,440.8 L410.7,439.3 L410.9,438.1 L411.1,436.8 L411.3,435.3 L411.4,434.3 L411.6,432.8 L411.8,431.3 L412,430.3 L412.2,428.8 L412.4,427.8 L412.6,426.3 L412.9,424.9 L413.1,423.8 L413.4,422.4 L413.6,421.3 L413.9,420.1 L414.2,418.8 L414.4,417.8 L414.8,416.3 L415.1,415.3 L415.4,414.3 L415.9,412.9 L416.3,411.8 L416.7,410.8 L417.1,409.8 L417.6,408.8 L418.1,407.8 L418.7,406.8 L419.4,405.8 L419.9,405.2 L420.9,404.3 L421.8,403.8 L422.9,403.6 L424.2,403.8 L425.1,404.3 L425.9,405 L426.6,405.8 L427.3,406.8 L427.9,407.7 L428.4,408.7 L428.9,409.8 L429.3,410.8 L429.7,411.8 L430.1,412.8 L430.4,413.8 L430.9,415.3 L431.2,416.3 L431.5,417.3 L431.9,418.8 L432.1,419.8 L432.4,421.1 L432.7,422.3 L432.9,423.5 L433.2,424.8 L433.4,426.1 L433.6,427.3 L433.9,428.8 L434,429.8 L434.3,431.3 L434.4,432.3 L434.7,433.8 L434.9,435.3 L435,436.3 L435.2,437.8 L435.4,438.9 L435.6,440.3 L435.8,441.8 L436,442.8 L436.2,444.3 L436.4,445.4 L436.6,446.8 L436.9,448.2 L437.1,449.3 L437.4,450.6 L437.7,451.8 L437.9,452.8 L438.3,454.3 L438.6,455.3 L439,456.3 L439.4,457.5 L439.9,458.6 L440.4,459.7 L440.9,460.6 L441.4,461.4 L442,462.3 L442.9,463.3 L443.4,463.8 L444.4,464.7 L445.3,465.3 L446.1,465.8 L447,466.3 L447.9,466.8 L448.9,467.4 L449.9,468 L450.9,468.8 L451.6,469.3 L452.4,470.1 L453.1,470.8 L453.9,471.7 L454.4,472.4 L455,473.3 L455.7,474.3 L456.2,475.3 L456.7,476.3 L457.2,477.3 L457.6,478.3 L458,479.3 L458.4,480.3 L458.9,481.8 L459.2,482.8 L459.5,483.8 L459.9,485.3 L460.1,486.3 L460.4,487.8 L460.6,488.8 L460.9,490.3 L461,491.3 L461.2,492.8 L461.4,494.2 L461.5,495.3 L461.7,496.8 L461.8,498.3 L461.9,499.8 L461.9,500.8 L462,502.3 L462,503.8 L462,505.3 L461.9,506.8 L461.9,507.9 L461.8,509.3 L461.7,510.8 L461.5,512.3 L461.4,513.3 L461.1,514.8 L460.9,515.9 L460.6,517.3 L460.3,518.3 L459.9,519.8 L459.6,520.8 L459.2,521.8 L458.8,522.8 L458.4,523.8 L457.9,524.8 L457.4,525.8 L456.8,526.8 L456.2,527.8 L455.5,528.8 L454.9,529.6 L454.3,530.3 L453.4,531.3 L452.9,531.9 L451.9,532.8 L451.4,533.3 L450.4,534.1 L449.4,534.8 L448.7,535.3 L447.9,535.8 L446.9,536.4 L445.9,536.9 L444.9,537.4 L443.8,537.8 L442.4,538.3 L441.4,538.6 L440.4,538.9 L438.9,539.2 L437.9,539.4 L436.4,539.6 L434.9,539.8 M437.4,537.9 L435.9,538.1 L434.4,538.2 L432.9,538.2 L431.4,538.2 L429.9,538 L428.5,537.8 L427.4,537.6 L426.4,537.3 L424.9,536.8 L423.9,536.4 L422.9,536 L421.9,535.5 L420.9,534.9 L420,534.3 L419.3,533.8 L418.4,533.1 L417.5,532.3 L416.9,531.7 L416,530.8 L415.4,530.1 L414.7,529.3 L414,528.3 L413.4,527.5 L412.9,526.7 L412.3,525.8 L411.8,524.8 L411.2,523.8 L410.8,522.8 L410.3,521.8 L409.9,520.8 L409.4,519.5 L409,518.3 L408.6,517.3 L408.3,516.3 L407.9,514.8 L407.6,513.8 L407.4,512.8 L407,511.3 L406.8,510.3 L406.4,508.8 L406.2,507.8 L405.9,506.8 L405.5,505.3 L405.2,504.3 L404.9,503.3 L404.4,501.9 L404,500.8 L403.6,499.8 L403.1,498.8 L402.6,497.8 L402,496.8 L401.5,495.8 L400.9,494.8 L400.4,493.9 L399.9,493 L399.4,492 L398.9,490.9 L398.4,489.8 L398.1,488.8 L397.8,487.8 L397.4,486.5 L397.1,485.3 L396.9,483.8 L396.8,482.8 L396.7,481.3 L396.7,479.8 L396.8,478.3 L396.9,477.3 L397.2,475.8 L397.4,474.8 L397.9,473.3 L398.2,472.3 L398.7,471.3 L399.2,470.3 L399.8,469.3 L400.4,468.4 L400.9,467.7 L401.7,466.8 L402.4,466.1 L403.2,465.3 L403.9,464.6 L404.7,463.8 L405.4,463 L405.9,462.3 L406.6,461.3 L407.2,460.3 L407.7,459.3 L408.1,458.3 L408.5,457.3 L408.9,455.9 L409.2,454.8 L409.4,453.8 L409.8,452.3 L409.9,451.3 L410.2,449.8 L410.4,448.6 L410.6,447.3 L410.8,445.8 L410.9,444.8 L411.1,443.3 L411.3,441.8 L411.4,440.8 L411.6,439.3 L411.8,437.8 L412,436.8 L412.1,435.3 L412.4,433.8 L412.5,432.8 L412.7,431.3 L412.9,430.2 L413.1,428.8 L413.4,427.3 L413.6,426.3 L413.9,424.8 L414.1,423.8 L414.4,422.3 L414.6,421.3 L414.9,420.2 L415.3,418.8 L415.5,417.8 L415.9,416.6 L416.3,415.3 L416.7,414.3 L417.1,413.3 L417.5,412.3 L418,411.3 L418.5,410.3 L419.1,409.3 L419.9,408.3 L420.4,407.7 L421.4,407 L422.4,406.6 L423.9,406.7 L424.9,407.2 L425.7,407.8 L426.4,408.6 L426.9,409.3 L427.5,410.3 L428.1,411.3 L428.5,412.3 L429,413.3 L429.4,414.4 L429.9,415.8 L430.2,416.8 L430.5,417.8 L430.9,419.2 L431.2,420.3 L431.4,421.3 L431.8,422.8 L432,423.8 L432.3,425.3 L432.5,426.3 L432.8,427.8 L433,428.8 L433.2,430.3 L433.4,431.5 L433.6,432.8 L433.8,434.3 L434,435.3 L434.2,436.8 L434.4,438.3 L434.5,439.3 L434.7,440.8 L434.9,442 L435.1,443.3 L435.3,444.8 L435.4,445.8 L435.7,447.3 L435.9,448.7 L436.1,449.8 L436.4,451.3 L436.6,452.3 L436.9,453.8 L437.1,454.8 L437.4,455.8 L437.8,457.3 L438.1,458.3 L438.5,459.3 L438.9,460.4 L439.4,461.5 L439.9,462.5 L440.4,463.4 L441,464.3 L441.8,465.3 L442.4,466 L443.3,466.8 L444.1,467.3 L444.9,467.8 L445.9,468.3 L447,468.8 L448.1,469.3 L449,469.8 L449.9,470.3 L450.9,471 L451.8,471.8 L452.4,472.4 L453.2,473.3 L453.9,474.1 L454.4,474.8 L455,475.8 L455.6,476.8 L456.1,477.8 L456.6,478.8 L457,479.8 L457.4,480.8 L457.9,482.3 L458.2,483.3 L458.5,484.3 L458.9,485.8 L459.1,486.8 L459.4,488 L459.6,489.3 L459.9,490.8 L460,491.8 L460.2,493.3 L460.4,494.7 L460.5,495.8 L460.6,497.3 L460.7,498.8 L460.8,500.3 L460.8,501.8 L460.9,503.3 L460.8,504.8 L460.8,506.3 L460.7,507.8 L460.6,509.3 L460.4,510.8 L460.3,511.8 L460.1,513.3 L459.9,514.4 L459.6,515.8 L459.4,516.8 L459,518.3 L458.6,519.3 L458.3,520.3 L457.9,521.4 L457.4,522.5 L456.9,523.6 L456.4,524.6 L455.9,525.5 L455.4,526.3 L454.7,527.3 L454,528.3 L453.4,529 L452.7,529.8 L451.9,530.7 L451.3,531.3 L450.4,532.1 L449.5,532.8 L448.8,533.3 L447.9,533.9 L446.9,534.5 L445.9,535.1 L444.9,535.6 L443.9,536 L442.9,536.4 L441.8,536.8 L440.4,537.2 L439.4,537.5 L437.9,537.8 M436.4,536.4 L434.9,536.5 L433.4,536.6 L431.9,536.5 L430.4,536.4 L429.4,536.3 L427.9,536 L426.9,535.7 L425.6,535.3 L424.4,534.8 L423.4,534.4 L422.4,533.9 L421.5,533.3 L420.7,532.8 L419.9,532.2 L418.9,531.4 L418.2,530.8 L417.4,530 L416.8,529.3 L415.9,528.3 L415.4,527.6 L414.8,526.8 L414.1,525.8 L413.5,524.8 L412.9,523.8 L412.4,522.8 L412,521.8 L411.5,520.8 L411.1,519.8 L410.7,518.8 L410.4,517.8 L409.9,516.3 L409.6,515.3 L409.3,514.3 L409,512.8 L408.7,511.8 L408.4,510.4 L408.2,509.3 L407.9,508.1 L407.6,506.8 L407.4,505.8 L407,504.3 L406.7,503.3 L406.4,502.2 L405.9,500.8 L405.5,499.8 L405.1,498.8 L404.6,497.8 L404.1,496.8 L403.4,495.8 L402.9,495 L402.4,494.2 L401.8,493.3 L401.2,492.3 L400.6,491.3 L400,490.3 L399.5,489.3 L399.1,488.3 L398.8,487.3 L398.4,486.1 L398.1,484.8 L397.9,483.8 L397.7,482.3 L397.7,480.8 L397.7,479.3 L397.8,477.8 L398,476.8 L398.3,475.3 L398.6,474.3 L399,473.3 L399.4,472.3 L400,471.3 L400.6,470.3 L401.3,469.3 L401.9,468.7 L402.8,467.8 L403.4,467.2 L404.4,466.4 L405.1,465.8 L405.9,465 L406.6,464.3 L407.4,463.3 L407.9,462.4 L408.4,461.4 L408.9,460.3 L409.2,459.3 L409.6,458.3 L409.9,457 L410.2,455.8 L410.4,454.8 L410.7,453.3 L410.9,451.9 L411.1,450.8 L411.3,449.3 L411.4,448.3 L411.6,446.8 L411.8,445.3 L411.9,444.3 L412.1,442.8 L412.3,441.3 L412.4,440.2 L412.6,438.8 L412.8,437.3 L412.9,436.3 L413.1,434.8 L413.3,433.3 L413.5,432.3 L413.7,430.8 L413.9,429.6 L414.1,428.3 L414.4,426.9 L414.6,425.8 L414.9,424.5 L415.2,423.3 L415.4,422.3 L415.8,420.8 L416.1,419.8 L416.4,418.8 L416.9,417.3 L417.3,416.3 L417.7,415.3 L418.1,414.3 L418.6,413.3 L419.2,412.3 L419.9,411.3 L420.4,410.8 L421.4,410 L422.4,409.5 L423.9,409.6 L424.9,410.1 L425.6,410.8 L426.4,411.7 L426.9,412.4 L427.4,413.3 L427.9,414.3 L428.4,415.4 L428.9,416.6 L429.3,417.8 L429.6,418.8 L429.9,419.8 L430.4,421.3 L430.6,422.3 L430.9,423.4 L431.2,424.8 L431.4,425.8 L431.7,427.3 L431.9,428.3 L432.2,429.8 L432.4,431 L432.6,432.3 L432.9,433.8 L433,434.8 L433.2,436.3 L433.4,437.6 L433.6,438.8 L433.8,440.3 L433.9,441.4 L434.1,442.8 L434.3,444.3 L434.4,445.3 L434.6,446.8 L434.8,448.3 L435,449.3 L435.2,450.8 L435.4,452.1 L435.6,453.3 L435.9,454.8 L436.1,455.8 L436.4,457.1 L436.7,458.3 L437,459.3 L437.4,460.7 L437.8,461.8 L438.2,462.8 L438.6,463.8 L439.1,464.8 L439.6,465.8 L440.2,466.8 L440.9,467.7 L441.4,468.3 L442.4,469.2 L443.3,469.8 L444.3,470.3 L445.4,470.7 L446.4,471 L447.4,471.4 L448.4,471.8 L449.4,472.3 L450.4,472.9 L451.4,473.7 L452,474.3 L452.9,475.2 L453.4,475.8 L454.1,476.8 L454.7,477.8 L455.2,478.8 L455.7,479.8 L456.2,480.8 L456.6,481.8 L456.9,482.8 L457.4,484.3 L457.7,485.3 L458,486.3 L458.3,487.8 L458.5,488.8 L458.8,490.3 L458.9,491.3 L459.1,492.8 L459.3,494.3 L459.4,495.3 L459.5,496.8 L459.6,498.3 L459.7,499.8 L459.7,501.3 L459.7,502.8 L459.7,504.3 L459.6,505.8 L459.5,507.3 L459.4,508.8 L459.3,509.8 L459.1,511.3 L458.9,512.7 L458.7,513.8 L458.4,515.2 L458.1,516.3 L457.9,517.3 L457.4,518.7 L457,519.8 L456.6,520.8 L456.2,521.8 L455.7,522.8 L455.2,523.8 L454.6,524.8 L453.9,525.8 L453.4,526.6 L452.8,527.3 L452,528.3 L451.4,529 L450.6,529.8 L449.9,530.4 L448.9,531.2 L448.1,531.8 L447.4,532.3 L446.4,533 L445.4,533.5 L444.4,534 L443.4,534.5 L442.4,534.9 L441.2,535.3 L439.9,535.7 L438.9,535.9 L437.4,536.2 L436.4,536.4 M435.4,534.8 L433.9,534.9 L432.4,534.9 L430.9,534.8 L429.9,534.7 L428.4,534.4 L427.4,534.1 L426.3,533.8 L425,533.3 L423.9,532.8 L423,532.3 L422.2,531.8 L421.4,531.3 L420.4,530.5 L419.5,529.8 L418.9,529.2 L418,528.3 L417.4,527.6 L416.7,526.8 L416,525.8 L415.4,524.9 L414.9,524.1 L414.4,523.3 L413.9,522.3 L413.4,521.3 L412.9,520.2 L412.4,518.9 L412,517.8 L411.7,516.8 L411.4,515.8 L410.9,514.3 L410.7,513.3 L410.4,512.1 L410.1,510.8 L409.9,509.8 L409.6,508.3 L409.4,507.3 L409.1,505.8 L408.9,504.8 L408.5,503.3 L408.3,502.3 L407.9,500.9 L407.5,499.8 L407.2,498.8 L406.8,497.8 L406.3,496.8 L405.8,495.8 L405.1,494.8 L404.4,493.8 L403.9,493.2 L403.1,492.3 L402.4,491.4 L401.9,490.7 L401.3,489.8 L400.7,488.8 L400.2,487.8 L399.8,486.8 L399.4,485.7 L399,484.3 L398.8,483.3 L398.6,481.8 L398.6,480.3 L398.7,478.8 L398.9,477.3 L399.1,476.3 L399.4,475.2 L399.9,473.9 L400.4,472.9 L400.9,472 L401.4,471.3 L402.3,470.3 L402.9,469.8 L403.9,469 L404.8,468.3 L405.6,467.8 L406.4,467.2 L407.4,466.3 L407.9,465.7 L408.5,464.8 L409.1,463.8 L409.5,462.8 L409.9,461.8 L410.4,460.3 L410.6,459.3 L410.9,458.1 L411.2,456.8 L411.4,455.5 L411.6,454.3 L411.8,452.8 L411.9,451.8 L412.1,450.3 L412.3,448.8 L412.4,447.8 L412.6,446.3 L412.7,444.8 L412.9,443.4 L413,442.3 L413.2,440.8 L413.4,439.3 L413.5,438.3 L413.7,436.8 L413.9,435.3 L414,434.3 L414.3,432.8 L414.4,431.8 L414.7,430.3 L414.9,429.2 L415.2,427.8 L415.4,426.7 L415.7,425.3 L416,424.3 L416.4,422.8 L416.6,421.8 L416.9,420.8 L417.4,419.5 L417.8,418.3 L418.3,417.3 L418.8,416.3 L419.3,415.3 L419.9,414.4 L420.4,413.8 L421.4,412.9 L422.4,412.5 L423.9,412.6 L424.9,413.1 L425.6,413.8 L426.4,414.8 L426.9,415.6 L427.4,416.6 L427.9,417.6 L428.4,418.8 L428.7,419.8 L429.1,420.8 L429.4,421.8 L429.8,423.3 L430.1,424.3 L430.4,425.6 L430.7,426.8 L430.9,427.9 L431.2,429.3 L431.4,430.5 L431.6,431.8 L431.9,433.3 L432,434.3 L432.3,435.8 L432.4,436.9 L432.6,438.3 L432.8,439.8 L432.9,440.8 L433.1,442.3 L433.3,443.8 L433.4,444.8 L433.6,446.3 L433.8,447.8 L433.9,448.9 L434.1,450.3 L434.3,451.8 L434.4,452.8 L434.7,454.3 L434.9,455.7 L435.1,456.8 L435.4,458.3 L435.6,459.3 L435.9,460.4 L436.3,461.8 L436.6,462.8 L436.9,463.9 L437.4,465.3 L437.8,466.3 L438.3,467.3 L438.8,468.3 L439.3,469.3 L439.9,470.1 L440.4,470.8 L441.4,471.8 L442.2,472.3 L443.2,472.8 L444.4,473.1 L445.4,473.3 L446.9,473.7 L447.9,473.9 L448.9,474.3 L449.9,474.8 L450.9,475.5 L451.8,476.3 L452.4,477 L453.1,477.8 L453.8,478.8 L454.4,479.8 L454.9,480.8 L455.3,481.8 L455.8,482.8 L456.1,483.8 L456.4,484.8 L456.9,486.3 L457.1,487.3 L457.4,488.5 L457.6,489.8 L457.9,491.3 L458,492.3 L458.2,493.8 L458.4,495.3 L458.4,496.3 L458.5,497.8 L458.6,499.3 L458.6,500.8 L458.6,502.3 L458.6,503.8 L458.5,505.3 L458.4,506.5 L458.3,507.8 L458.1,509.3 L457.9,510.8 L457.8,511.8 L457.5,513.3 L457.3,514.3 L456.9,515.7 L456.6,516.8 L456.3,517.8 L455.9,518.8 L455.4,520 L454.9,521.1 L454.4,522.1 L453.9,523 L453.4,523.9 L452.8,524.8 L452.1,525.8 L451.4,526.6 L450.8,527.3 L449.9,528.2 L449.3,528.8 L448.4,529.6 L447.5,530.3 L446.8,530.8 L445.9,531.4 L444.9,531.9 L443.9,532.5 L442.9,532.9 L441.9,533.3 L440.6,533.8 L439.4,534.1 L438.4,534.4 L436.9,534.7 L435.9,534.8 M433.9,533.3 L432.4,533.3 L431.4,533.2 L429.9,533 L428.8,532.8 L427.4,532.4 L426.4,532.1 L425.4,531.7 L424.4,531.2 L423.4,530.6 L422.4,530 L421.5,529.3 L420.8,528.8 L419.9,528 L419.3,527.3 L418.4,526.4 L417.9,525.7 L417.2,524.8 L416.5,523.8 L415.9,522.8 L415.4,521.9 L414.9,520.9 L414.4,519.8 L414,518.8 L413.6,517.8 L413.3,516.8 L412.9,515.6 L412.5,514.3 L412.3,513.3 L411.9,511.8 L411.7,510.8 L411.4,509.3 L411.2,508.3 L411,506.8 L410.8,505.8 L410.5,504.3 L410.3,503.3 L410,501.8 L409.8,500.8 L409.4,499.4 L409.1,498.3 L408.8,497.3 L408.4,496.3 L407.9,495.2 L407.4,494.3 L406.8,493.3 L405.9,492.3 L405.4,491.8 L404.4,490.9 L403.8,490.3 L402.9,489.4 L402.4,488.8 L401.7,487.8 L401.1,486.8 L400.6,485.8 L400.2,484.8 L399.9,483.6 L399.7,482.3 L399.5,480.8 L399.6,479.3 L399.7,477.8 L400,476.8 L400.4,475.4 L400.9,474.3 L401.4,473.5 L401.9,472.8 L402.9,471.8 L403.5,471.3 L404.4,470.7 L405.4,470.2 L406.4,469.7 L407.4,469.2 L408.4,468.4 L408.9,467.8 L409.6,466.8 L410.1,465.8 L410.5,464.8 L410.9,463.6 L411.2,462.3 L411.5,461.3 L411.8,459.8 L412,458.8 L412.2,457.3 L412.4,456.1 L412.6,454.8 L412.7,453.3 L412.9,452 L413,450.8 L413.2,449.3 L413.3,447.8 L413.4,446.8 L413.6,445.3 L413.7,443.8 L413.9,442.3 L414,441.3 L414.2,439.8 L414.4,438.3 L414.5,437.3 L414.7,435.8 L414.9,434.5 L415.1,433.3 L415.3,431.8 L415.5,430.8 L415.8,429.3 L416,428.3 L416.4,426.8 L416.6,425.8 L416.9,424.8 L417.3,423.3 L417.7,422.3 L418,421.3 L418.4,420.3 L418.9,419.3 L419.4,418.3 L420.1,417.3 L420.9,416.3 L421.6,415.8 L422.9,415.3 L424.4,415.8 L425.1,416.3 L425.9,417.2 L426.4,418 L426.9,418.9 L427.4,419.9 L427.9,421.1 L428.4,422.3 L428.7,423.3 L429,424.3 L429.4,425.8 L429.7,426.8 L429.9,427.8 L430.2,429.3 L430.4,430.3 L430.7,431.8 L430.9,432.9 L431.1,434.3 L431.4,435.8 L431.5,436.8 L431.7,438.3 L431.9,439.8 L432,440.8 L432.2,442.3 L432.4,443.8 L432.5,444.8 L432.7,446.3 L432.8,447.8 L432.9,448.8 L433.1,450.3 L433.3,451.8 L433.4,452.9 L433.6,454.3 L433.8,455.8 L433.9,456.8 L434.2,458.3 L434.4,459.4 L434.7,460.8 L434.9,461.8 L435.3,463.3 L435.5,464.3 L435.9,465.6 L436.3,466.8 L436.6,467.8 L437,468.8 L437.4,469.8 L437.9,470.9 L438.4,471.8 L439,472.8 L439.7,473.8 L440.4,474.6 L441.4,475.3 L442.4,475.7 L443.4,475.9 L444.9,476 L446.4,476 L447.9,476.2 L448.9,476.6 L449.9,477.1 L450.9,477.8 L451.5,478.3 L452.4,479.3 L452.9,479.9 L453.5,480.8 L454,481.8 L454.5,482.8 L454.9,483.8 L455.4,485.1 L455.8,486.3 L456.1,487.3 L456.4,488.8 L456.6,489.8 L456.9,491.3 L457,492.3 L457.2,493.8 L457.3,495.3 L457.4,496.6 L457.5,497.8 L457.5,499.3 L457.5,500.8 L457.5,502.3 L457.4,503.5 L457.3,504.8 L457.2,506.3 L457,507.8 L456.9,508.9 L456.7,510.3 L456.4,511.8 L456.2,512.8 L455.9,514.1 L455.6,515.3 L455.3,516.3 L454.9,517.3 L454.4,518.6 L453.9,519.8 L453.4,520.8 L452.9,521.7 L452.4,522.6 L451.9,523.3 L451.2,524.3 L450.4,525.3 L449.9,525.9 L449.1,526.8 L448.4,527.4 L447.4,528.3 L446.8,528.8 L445.9,529.4 L444.9,530.1 L443.9,530.6 L442.9,531.2 L441.9,531.6 L440.9,532 L439.9,532.3 L438.4,532.7 L437.4,532.9 L435.9,533.2 L434.4,533.3 M437.4,531.3 L435.9,531.6 L434.4,531.7 L432.9,531.7 L431.4,531.6 L429.9,531.4 L428.9,531.1 L427.7,530.8 L426.4,530.3 L425.4,529.8 L424.4,529.3 L423.6,528.8 L422.8,528.3 L421.9,527.6 L421,526.8 L420.4,526.2 L419.6,525.3 L418.9,524.4 L418.4,523.8 L417.8,522.8 L417.1,521.8 L416.6,520.8 L416.1,519.8 L415.7,518.8 L415.3,517.8 L414.9,516.7 L414.5,515.3 L414.2,514.3 L413.9,513.2 L413.6,511.8 L413.4,510.8 L413.1,509.3 L412.9,508.3 L412.6,506.8 L412.4,505.3 L412.2,504.3 L412,502.8 L411.8,501.8 L411.5,500.3 L411.3,499.3 L411,497.8 L410.7,496.8 L410.4,495.7 L410,494.3 L409.6,493.3 L409.1,492.3 L408.5,491.3 L407.9,490.5 L407.1,489.8 L406.3,489.3 L405.4,488.8 L404.4,488.2 L403.4,487.5 L402.7,486.8 L402,485.8 L401.4,484.8 L401,483.8 L400.8,482.8 L400.5,481.3 L400.5,479.8 L400.6,478.3 L400.9,477.1 L401.4,475.8 L401.9,474.9 L402.4,474.2 L403.4,473.3 L404.3,472.8 L405.4,472.4 L406.4,472.2 L407.9,471.9 L408.9,471.4 L409.6,470.8 L410.3,469.8 L410.8,468.8 L411.2,467.8 L411.5,466.8 L411.9,465.6 L412.2,464.3 L412.4,463.3 L412.7,461.8 L412.9,460.5 L413.1,459.3 L413.3,457.8 L413.4,456.6 L413.5,455.3 L413.7,453.8 L413.8,452.3 L413.9,451.3 L414,449.8 L414.2,448.3 L414.3,446.8 L414.4,445.8 L414.5,444.3 L414.7,442.8 L414.9,441.3 L415,440.3 L415.2,438.8 L415.4,437.3 L415.5,436.3 L415.7,434.8 L415.9,433.8 L416.2,432.3 L416.4,431.2 L416.7,429.8 L416.9,428.8 L417.3,427.3 L417.6,426.3 L417.9,425.3 L418.4,423.9 L418.8,422.8 L419.3,421.8 L419.8,420.8 L420.4,420 L421,419.3 L421.9,418.6 L422.9,418.3 L423.9,418.5 L424.9,419.1 L425.5,419.8 L426.2,420.8 L426.7,421.8 L427.2,422.8 L427.6,423.8 L428,424.8 L428.4,426.2 L428.7,427.3 L429,428.3 L429.3,429.8 L429.6,430.8 L429.9,432.3 L430.1,433.3 L430.3,434.8 L430.5,435.8 L430.7,437.3 L430.9,438.8 L431,439.8 L431.2,441.3 L431.4,442.8 L431.5,443.8 L431.7,445.3 L431.8,446.8 L431.9,447.8 L432,449.3 L432.2,450.8 L432.3,452.3 L432.4,453.3 L432.6,454.8 L432.8,456.3 L432.9,457.3 L433.1,458.8 L433.3,460.3 L433.5,461.3 L433.8,462.8 L434,463.8 L434.4,465.3 L434.6,466.3 L434.9,467.4 L435.3,468.8 L435.6,469.8 L436,470.8 L436.4,472 L436.9,473.2 L437.4,474.3 L437.9,475.3 L438.4,476.3 L438.9,477 L439.5,477.8 L440.4,478.5 L441.4,479 L442.9,479 L444.3,478.8 L445.4,478.6 L446.9,478.5 L448.4,478.6 L449.4,479 L450.4,479.6 L451.3,480.3 L451.9,481 L452.5,481.8 L453.1,482.8 L453.7,483.8 L454.1,484.8 L454.5,485.8 L454.9,487.1 L455.2,488.3 L455.5,489.3 L455.8,490.8 L455.9,491.8 L456.1,493.3 L456.3,494.8 L456.3,496.3 L456.4,497.8 L456.4,499.3 L456.4,500.8 L456.3,502.3 L456.2,503.8 L456.1,505.3 L455.9,506.7 L455.8,507.8 L455.5,509.3 L455.3,510.3 L455,511.8 L454.8,512.8 L454.4,514.2 L454,515.3 L453.7,516.3 L453.3,517.3 L452.9,518.3 L452.4,519.4 L451.9,520.3 L451.3,521.3 L450.7,522.3 L450,523.3 L449.4,524 L448.7,524.8 L447.9,525.7 L447.2,526.3 L446.4,527 L445.4,527.8 L444.7,528.3 L443.9,528.8 L442.9,529.3 L441.9,529.8 L440.8,530.3 L439.4,530.8 L438.4,531.1 L437.4,531.3 M436.4,529.9 L434.9,530.1 L433.4,530.1 L431.9,530 L430.4,529.8 L429.4,529.6 L428.4,529.3 L427,528.8 L426,528.3 L425.1,527.8 L424.3,527.3 L423.4,526.7 L422.4,525.8 L421.8,525.3 L420.9,524.3 L420.4,523.7 L419.7,522.8 L419,521.8 L418.4,520.8 L417.9,519.8 L417.4,518.8 L417,517.8 L416.6,516.8 L416.3,515.8 L415.9,514.5 L415.6,513.3 L415.4,512.3 L415,510.8 L414.9,509.8 L414.6,508.3 L414.4,507 L414.2,505.8 L414,504.3 L413.8,503.3 L413.6,501.8 L413.4,500.8 L413.1,499.3 L412.9,498.1 L412.6,496.8 L412.4,495.6 L412.1,494.3 L411.9,493.3 L411.5,491.8 L411.2,490.8 L410.9,489.8 L410.4,488.5 L409.9,487.5 L409.3,486.8 L408.4,486.2 L406.9,486.1 L405.4,486.1 L404.3,485.8 L403.4,485.2 L402.6,484.3 L402,483.3 L401.7,482.3 L401.4,480.8 L401.4,479.3 L401.7,477.8 L402.1,476.8 L402.8,475.8 L403.4,475.2 L404.4,474.7 L405.9,474.7 L406.9,474.9 L407.9,475.3 L409.4,475.5 L410.3,474.8 L410.9,474 L411.4,473 L411.9,471.8 L412.2,470.8 L412.5,469.8 L412.8,468.3 L413.1,467.3 L413.3,465.8 L413.5,464.8 L413.7,463.3 L413.9,461.9 L414,460.8 L414.2,459.3 L414.3,457.8 L414.4,456.8 L414.5,455.3 L414.6,453.8 L414.7,452.3 L414.9,450.8 L414.9,449.8 L415,448.3 L415.2,446.8 L415.3,445.3 L415.4,444.3 L415.5,442.8 L415.7,441.3 L415.9,439.8 L416,438.8 L416.2,437.3 L416.4,436.3 L416.6,434.8 L416.9,433.4 L417.1,432.3 L417.4,431.1 L417.7,429.8 L418,428.8 L418.4,427.5 L418.8,426.3 L419.2,425.3 L419.7,424.3 L420.3,423.3 L420.9,422.4 L421.5,421.8 L422.4,421.3 L423.6,421.3 L424.5,421.8 L425.4,422.8 L425.9,423.5 L426.4,424.4 L426.9,425.5 L427.4,426.8 L427.7,427.8 L428,428.8 L428.4,430.2 L428.7,431.3 L428.9,432.3 L429.2,433.8 L429.4,434.8 L429.7,436.3 L429.9,437.8 L430,438.8 L430.2,440.3 L430.4,441.8 L430.5,442.8 L430.7,444.3 L430.8,445.8 L430.9,446.8 L431.1,448.3 L431.2,449.8 L431.3,451.3 L431.4,452.5 L431.5,453.8 L431.7,455.3 L431.8,456.8 L431.9,457.9 L432.1,459.3 L432.3,460.8 L432.4,461.9 L432.6,463.3 L432.9,464.8 L433.1,465.8 L433.4,467.2 L433.7,468.3 L433.9,469.3 L434.3,470.8 L434.6,471.8 L434.9,472.8 L435.4,474.2 L435.8,475.3 L436.1,476.3 L436.5,477.3 L436.9,478.3 L437.4,479.4 L437.9,480.4 L438.5,481.3 L439.4,482.3 L440.3,482.8 L441.4,482.9 L442.4,482.6 L443.4,482.2 L444.4,481.7 L445.4,481.2 L446.9,480.8 L447.9,480.8 L448.9,481 L449.9,481.4 L450.9,482.2 L451.5,482.8 L452.2,483.8 L452.8,484.8 L453.3,485.8 L453.7,486.8 L454,487.8 L454.4,489.3 L454.6,490.3 L454.9,491.8 L455,492.8 L455.2,494.3 L455.3,495.8 L455.3,497.3 L455.3,498.8 L455.3,500.3 L455.2,501.8 L455,503.3 L454.9,504.5 L454.7,505.8 L454.5,507.3 L454.3,508.3 L454,509.8 L453.8,510.8 L453.4,512.2 L453.1,513.3 L452.8,514.3 L452.4,515.3 L451.9,516.6 L451.4,517.7 L450.9,518.8 L450.4,519.7 L449.9,520.5 L449.4,521.3 L448.7,522.3 L447.9,523.2 L447.4,523.8 L446.4,524.8 L445.9,525.3 L444.9,526.1 L444,526.8 L443.2,527.3 L442.3,527.8 L441.4,528.3 L440.2,528.8 L438.9,529.3 L437.9,529.6 L436.8,529.8 M435.9,528.3 L434.4,528.5 L432.9,528.5 L431.4,528.3 L430.4,528.2 L429,527.8 L427.9,527.4 L426.9,526.9 L425.9,526.4 L425,525.8 L424.3,525.3 L423.4,524.5 L422.6,523.8 L421.9,523 L421.3,522.3 L420.6,521.3 L420,520.3 L419.5,519.3 L419,518.3 L418.6,517.3 L418.2,516.3 L417.9,515.3 L417.4,513.8 L417.2,512.8 L416.9,511.4 L416.7,510.3 L416.4,508.8 L416.3,507.8 L416.1,506.3 L415.9,505.2 L415.7,503.8 L415.5,502.3 L415.3,501.3 L415,499.8 L414.8,498.8 L414.6,497.3 L414.4,496.3 L414.1,494.8 L413.9,493.8 L413.6,492.3 L413.4,491.1 L413.2,489.8 L412.9,488.3 L412.7,487.3 L412.5,485.8 L412.4,484.7 L412.3,483.3 L412.2,481.8 L412.3,480.3 L412.4,479.3 L412.6,477.8 L412.9,476.4 L413.1,475.3 L413.4,473.9 L413.6,472.8 L413.9,471.3 L414.1,470.3 L414.3,468.8 L414.4,467.8 L414.6,466.3 L414.8,464.8 L414.9,463.7 L415,462.3 L415.1,460.8 L415.2,459.3 L415.3,457.8 L415.4,456.7 L415.5,455.3 L415.6,453.8 L415.6,452.3 L415.7,450.8 L415.8,449.3 L415.9,448.3 L416,446.8 L416.1,445.3 L416.3,443.8 L416.4,442.7 L416.6,441.3 L416.8,439.8 L416.9,438.8 L417.1,437.3 L417.4,435.8 L417.6,434.8 L417.9,433.3 L418.1,432.3 L418.4,431.3 L418.9,429.8 L419.2,428.8 L419.6,427.8 L420.1,426.8 L420.7,425.8 L421.4,424.9 L422.3,424.3 L423.4,424.2 L424.4,424.7 L425,425.3 L425.7,426.3 L426.2,427.3 L426.6,428.3 L427,429.3 L427.4,430.5 L427.8,431.8 L428,432.8 L428.3,434.3 L428.6,435.3 L428.8,436.8 L429,437.8 L429.2,439.3 L429.4,440.7 L429.5,441.8 L429.7,443.3 L429.9,444.8 L430,445.8 L430.1,447.3 L430.2,448.8 L430.3,450.3 L430.4,451.4 L430.5,452.8 L430.6,454.3 L430.7,455.8 L430.8,457.3 L430.9,458.4 L431,459.8 L431.2,461.3 L431.3,462.8 L431.5,463.8 L431.7,465.3 L431.9,466.5 L432.2,467.8 L432.4,469 L432.7,470.3 L433,471.3 L433.3,472.8 L433.6,473.8 L433.9,474.8 L434.3,476.3 L434.6,477.3 L434.9,478.3 L435.4,479.8 L435.7,480.8 L436,481.8 L436.4,483 L436.9,484.2 L437.4,485.3 L437.9,486.2 L438.4,486.8 L439.4,487.5 L440.9,487.5 L441.9,486.9 L442.6,486.3 L443.4,485.6 L444.3,484.8 L444.9,484.3 L445.9,483.6 L446.9,483.2 L448.4,483 L449.4,483.3 L450.4,484 L451.2,484.8 L451.9,485.8 L452.4,486.7 L452.8,487.8 L453.2,488.8 L453.5,489.8 L453.8,491.3 L454,492.3 L454.1,493.8 L454.2,495.3 L454.3,496.8 L454.2,498.3 L454.2,499.8 L454,501.3 L453.9,502.4 L453.7,503.8 L453.4,505.3 L453.2,506.3 L452.9,507.8 L452.7,508.8 L452.4,509.9 L452,511.3 L451.7,512.3 L451.4,513.3 L450.9,514.6 L450.4,515.8 L450,516.8 L449.5,517.8 L449,518.8 L448.4,519.7 L447.9,520.5 L447.3,521.3 L446.5,522.3 L445.9,523 L445.1,523.8 L444.4,524.4 L443.4,525.2 L442.5,525.8 L441.7,526.3 L440.8,526.8 L439.7,527.3 L438.4,527.8 L437.4,528 L436.1,528.3 M405.4,483.5 L403.9,483.5 L403.2,482.8 L402.6,481.8 L402.4,480.8 L402.4,479.3 L402.7,478.3 L403.3,477.3 L403.9,476.8 L405.2,476.8 L405.9,477.3 L406.7,478.3 L407,479.3 L407.1,480.8 L406.9,481.8 L406.3,482.8 L405.4,483.5 M434.9,526.9 L433.4,526.9 L432,526.8 L430.9,526.6 L429.7,526.3 L428.4,525.8 L427.4,525.4 L426.4,524.8 L425.7,524.3 L424.9,523.7 L424,522.8 L423.4,522.2 L422.7,521.3 L421.9,520.3 L421.4,519.4 L420.9,518.5 L420.4,517.4 L420,516.3 L419.6,515.3 L419.3,514.3 L419,512.8 L418.8,511.8 L418.5,510.3 L418.3,509.3 L418.1,507.8 L417.9,506.3 L417.8,505.3 L417.6,503.8 L417.4,502.6 L417.2,501.3 L416.9,499.8 L416.7,498.8 L416.4,497.3 L416.2,496.3 L415.9,494.9 L415.7,493.8 L415.4,492.3 L415.2,491.3 L415,489.8 L414.9,488.8 L414.7,487.3 L414.6,485.8 L414.5,484.3 L414.5,482.8 L414.5,481.3 L414.5,479.8 L414.7,478.3 L414.8,476.8 L414.9,475.8 L415.1,474.3 L415.3,472.8 L415.4,471.8 L415.6,470.3 L415.7,468.8 L415.8,467.3 L415.9,466.3 L416,464.8 L416.1,463.3 L416.2,461.8 L416.2,460.3 L416.3,458.8 L416.3,457.3 L416.4,455.8 L416.4,454.8 L416.5,453.3 L416.5,451.8 L416.6,450.3 L416.7,448.8 L416.8,447.3 L416.9,446.3 L417,444.8 L417.2,443.3 L417.4,441.8 L417.5,440.8 L417.7,439.3 L417.9,438.1 L418.1,436.8 L418.4,435.5 L418.7,434.3 L419,433.3 L419.4,431.9 L419.8,430.8 L420.2,429.8 L420.8,428.8 L421.4,427.9 L422.2,427.3 L423.4,427.1 L424.4,427.7 L424.9,428.3 L425.5,429.3 L426,430.3 L426.4,431.3 L426.9,432.7 L427.2,433.8 L427.5,434.8 L427.8,436.3 L428,437.3 L428.3,438.8 L428.4,439.8 L428.6,441.3 L428.8,442.8 L428.9,443.8 L429.1,445.3 L429.2,446.8 L429.3,448.3 L429.4,449.6 L429.5,450.8 L429.6,452.3 L429.6,453.8 L429.7,455.3 L429.8,456.8 L429.9,458.3 L429.9,459.3 L430,460.8 L430.1,462.3 L430.3,463.8 L430.4,465.1 L430.6,466.3 L430.8,467.8 L431,468.8 L431.3,470.3 L431.5,471.3 L431.8,472.8 L432.1,473.8 L432.4,475 L432.7,476.3 L433,477.3 L433.4,478.8 L433.6,479.8 L433.9,481 L434.2,482.3 L434.4,483.3 L434.8,484.8 L435,485.8 L435.4,487.3 L435.7,488.3 L436,489.3 L436.4,490.3 L437,491.3 L437.8,492.3 L438.6,492.8 L439.9,493 L440.9,492.7 L441.9,491.8 L442.4,491.1 L443,490.3 L443.6,489.3 L444.3,488.3 L444.9,487.4 L445.4,486.8 L446.4,485.9 L447.4,485.4 L448.4,485.2 L449.4,485.4 L450.4,486.2 L451,486.8 L451.6,487.8 L452,488.8 L452.4,489.9 L452.8,491.3 L452.9,492.3 L453.1,493.8 L453.2,495.3 L453.2,496.8 L453.1,498.3 L453,499.8 L452.9,500.8 L452.6,502.3 L452.4,503.3 L452,504.8 L451.8,505.8 L451.4,507.1 L451.1,508.3 L450.8,509.3 L450.4,510.4 L450,511.8 L449.6,512.8 L449.3,513.8 L448.9,514.8 L448.4,515.9 L447.9,517 L447.4,517.9 L446.9,518.8 L446.3,519.8 L445.5,520.8 L444.9,521.6 L444.2,522.3 L443.4,523.1 L442.5,523.8 L441.8,524.3 L440.9,524.9 L439.9,525.4 L438.9,525.9 L437.7,526.3 L436.4,526.6 L435.4,526.8 M404.4,481.5 L403.9,481.5 L403.7,481.3 L403.4,480.8 L403.4,480.8 L403.3,480.3 L403.3,479.8 L403.4,479.3 L403.4,479.3 L403.7,478.8 L403.9,478.6 L404.4,478.6 L404.7,478.8 L404.9,479.1 L405,479.3 L405.1,479.8 L405.1,480.3 L405,480.8 L404.9,481.1 L404.7,481.3 L404.4,481.5 M433.9,525.3 L432.9,525.3 L431.4,525.1 L430.3,524.8 L428.9,524.3 L427.9,523.8 L427.1,523.3 L426.4,522.8 L425.4,521.9 L424.8,521.3 L424,520.3 L423.4,519.5 L422.9,518.7 L422.4,517.7 L421.9,516.6 L421.4,515.3 L421.2,514.3 L420.9,513.2 L420.6,511.8 L420.4,510.3 L420.3,509.3 L420.1,507.8 L420,506.3 L419.9,505.3 L419.7,503.8 L419.5,502.3 L419.3,501.3 L418.9,499.8 L418.7,498.8 L418.4,497.7 L418.1,496.3 L417.8,495.3 L417.5,493.8 L417.2,492.8 L417,491.3 L416.8,490.3 L416.6,488.8 L416.4,487.3 L416.3,486.3 L416.2,484.8 L416.2,483.3 L416.2,481.8 L416.2,480.3 L416.3,478.8 L416.4,477.8 L416.5,476.3 L416.7,474.8 L416.8,473.3 L416.9,471.9 L417,470.8 L417.1,469.3 L417.1,467.8 L417.2,466.3 L417.2,464.8 L417.2,463.3 L417.3,461.8 L417.3,460.3 L417.3,458.8 L417.3,457.3 L417.3,455.8 L417.3,454.3 L417.4,452.8 L417.4,451.8 L417.5,450.3 L417.5,448.8 L417.6,447.3 L417.8,445.8 L417.9,444.4 L418,443.3 L418.2,441.8 L418.4,440.5 L418.6,439.3 L418.9,437.8 L419.1,436.8 L419.4,435.7 L419.8,434.3 L420.2,433.3 L420.6,432.3 L421.2,431.3 L421.9,430.5 L422.9,430 L423.9,430.3 L424.8,431.3 L425.4,432.3 L425.8,433.3 L426.2,434.3 L426.5,435.3 L426.9,436.8 L427.1,437.8 L427.4,439.2 L427.6,440.3 L427.8,441.8 L428,442.8 L428.1,444.3 L428.3,445.8 L428.4,447.3 L428.5,448.3 L428.6,449.8 L428.6,451.3 L428.7,452.8 L428.7,454.3 L428.8,455.8 L428.8,457.3 L428.9,458.8 L428.9,460.1 L428.9,461.3 L429,462.8 L429.1,464.3 L429.2,465.8 L429.3,467.3 L429.5,468.3 L429.7,469.8 L429.9,470.9 L430.2,472.3 L430.4,473.3 L430.8,474.8 L431.1,475.8 L431.4,477.2 L431.7,478.3 L431.9,479.3 L432.2,480.8 L432.4,481.8 L432.7,483.3 L432.9,484.5 L433.1,485.8 L433.3,487.3 L433.4,488.3 L433.6,489.8 L433.9,491.3 L434.1,492.3 L434.4,493.3 L434.9,494.4 L435.4,495.3 L436.3,496.3 L436.9,496.8 L437.9,497.5 L438.9,497.9 L440.4,498 L441.4,497.8 L442.4,497 L442.9,496.3 L443.4,495.3 L443.9,494 L444.3,492.8 L444.7,491.8 L445.1,490.8 L445.6,489.8 L446.3,488.8 L446.9,488.1 L447.9,487.5 L449.4,487.6 L450.3,488.3 L450.9,489.2 L451.4,490.3 L451.7,491.3 L451.9,492.3 L452.1,493.8 L452.2,495.3 L452.2,496.8 L452,498.3 L451.8,499.3 L451.5,500.8 L451.2,501.8 L450.9,502.8 L450.4,504.1 L449.9,505.3 L449.5,506.3 L449.1,507.3 L448.8,508.3 L448.4,509.5 L448,510.8 L447.7,511.8 L447.4,512.9 L446.9,514.3 L446.6,515.3 L446.1,516.3 L445.7,517.3 L445.1,518.3 L444.5,519.3 L443.9,520.1 L443.3,520.8 L442.4,521.7 L441.8,522.3 L440.9,523 L439.9,523.6 L438.9,524.1 L437.9,524.6 L436.9,524.9 L435.4,525.2 L434.4,525.3 M436.4,523.4 L434.9,523.7 L433.4,523.7 L431.9,523.6 L430.9,523.3 L429.5,522.8 L428.6,522.3 L427.8,521.8 L426.9,521.1 L426.1,520.3 L425.4,519.4 L424.9,518.7 L424.4,517.8 L423.9,516.8 L423.4,515.6 L423,514.3 L422.8,513.3 L422.6,511.8 L422.4,510.3 L422.4,509.3 L422.4,507.8 L422.4,506.3 L422.3,504.8 L422.2,503.3 L421.9,501.8 L421.7,500.8 L421.4,499.8 L420.9,498.4 L420.5,497.3 L420.1,496.3 L419.8,495.3 L419.4,494.1 L419,492.8 L418.8,491.8 L418.5,490.3 L418.3,489.3 L418.1,487.8 L417.9,486.3 L417.9,485.3 L417.8,483.8 L417.8,482.3 L417.9,480.8 L417.9,479.8 L418,478.3 L418.1,476.8 L418.2,475.3 L418.3,473.8 L418.4,472.8 L418.5,471.3 L418.5,469.8 L418.5,468.3 L418.5,466.8 L418.5,465.3 L418.4,463.8 L418.4,462.8 L418.3,461.3 L418.3,459.8 L418.2,458.3 L418.2,456.8 L418.2,455.3 L418.2,453.8 L418.2,452.3 L418.3,450.8 L418.3,449.3 L418.4,448.3 L418.5,446.8 L418.6,445.3 L418.8,443.8 L418.9,442.8 L419.2,441.3 L419.4,440 L419.7,438.8 L419.9,437.8 L420.4,436.3 L420.8,435.3 L421.3,434.3 L421.9,433.5 L422.9,432.9 L423.9,433.3 L424.7,434.3 L425.2,435.3 L425.6,436.3 L426,437.3 L426.4,438.8 L426.6,439.8 L426.9,441.3 L427,442.3 L427.2,443.8 L427.4,445.3 L427.5,446.3 L427.6,447.8 L427.7,449.3 L427.8,450.8 L427.8,452.3 L427.8,453.8 L427.9,455.3 L427.9,456.8 L427.9,458.3 L427.8,459.8 L427.8,461.3 L427.8,462.8 L427.8,464.3 L427.9,465.8 L427.9,466.8 L428,468.3 L428.2,469.8 L428.4,471.3 L428.6,472.3 L428.9,473.7 L429.2,474.8 L429.5,475.8 L429.9,477.3 L430.1,478.3 L430.4,479.5 L430.7,480.8 L430.9,481.8 L431.1,483.3 L431.3,484.8 L431.4,485.8 L431.5,487.3 L431.6,488.8 L431.6,490.3 L431.6,491.8 L431.7,493.3 L431.8,494.8 L432,495.8 L432.4,496.9 L432.9,497.8 L433.8,498.8 L434.4,499.3 L435.4,500 L436.4,500.6 L437.4,501 L438.4,501.5 L439.4,501.9 L440.4,502.4 L441.5,502.8 L442.8,503.3 L443.9,503.8 L444.7,504.3 L445.2,505.3 L445.4,506.8 L445.5,507.8 L445.5,509.3 L445.4,510.5 L445.3,511.8 L445,513.3 L444.8,514.3 L444.4,515.5 L443.9,516.7 L443.4,517.7 L442.9,518.5 L442.4,519.3 L441.5,520.3 L440.9,520.9 L439.9,521.7 L439,522.3 L438,522.8 L436.9,523.2 M447.9,502.4 L446.4,502.4 L445.9,501.6 L445.7,500.3 L445.6,498.8 L445.6,497.3 L445.7,495.8 L445.9,494.3 L446.1,493.3 L446.4,492.1 L446.9,491 L447.4,490.2 L448.4,489.5 L449.6,489.8 L450.4,490.8 L450.8,491.8 L451,492.8 L451.2,494.3 L451.2,495.8 L451,497.3 L450.7,498.3 L450.4,499.3 L449.9,500.3 L449.2,501.3 L448.4,502.1 M426.9,498.6 L425.4,498.4 L424.6,497.8 L423.9,497.2 L423.1,496.3 L422.4,495.4 L421.9,494.6 L421.4,493.6 L420.9,492.5 L420.5,491.3 L420.2,490.3 L419.9,489 L419.7,487.8 L419.5,486.3 L419.4,484.8 L419.4,483.3 L419.5,481.8 L419.6,480.3 L419.7,478.8 L419.9,477.3 L420,476.3 L420.1,474.8 L420.2,473.3 L420.2,471.8 L420.2,470.3 L420.1,468.8 L420,467.3 L419.9,466.3 L419.8,464.8 L419.6,463.3 L419.5,461.8 L419.4,460.8 L419.3,459.3 L419.2,457.8 L419.1,456.3 L419.1,454.8 L419.1,453.3 L419.1,451.8 L419.1,450.3 L419.2,448.8 L419.3,447.3 L419.4,446 L419.5,444.8 L419.7,443.3 L419.9,442.3 L420.2,440.8 L420.5,439.8 L420.9,438.4 L421.4,437.3 L421.9,436.5 L422.9,435.8 L423.9,436.3 L424.6,437.3 L425.1,438.3 L425.4,439.3 L425.8,440.8 L426,441.8 L426.3,443.3 L426.4,444.3 L426.6,445.8 L426.7,447.3 L426.8,448.8 L426.9,450.2 L426.9,451.3 L427,452.8 L427,454.3 L426.9,455.8 L426.9,456.8 L426.8,458.3 L426.8,459.8 L426.7,461.3 L426.6,462.8 L426.5,464.3 L426.4,465.8 L426.4,466.8 L426.4,468.3 L426.4,469.7 L426.5,470.8 L426.7,472.3 L426.9,473.3 L427.3,474.8 L427.6,475.8 L427.9,476.8 L428.4,478.2 L428.7,479.3 L429,480.3 L429.4,481.8 L429.6,482.8 L429.8,484.3 L429.9,485.8 L429.9,486.8 L429.9,487.8 L429.8,489.3 L429.6,490.8 L429.4,492.1 L429.1,493.3 L428.9,494.3 L428.4,495.8 L428,496.8 L427.5,497.8 L426.9,498.6 M448.9,497.6 L447.9,497.1 L447.5,495.8 L447.4,494.3 L447.7,492.8 L448.3,491.8 L449.4,491.8 L449.9,492.7 L450.2,493.8 L450.1,495.3 L449.9,496.3 L449.4,497.3 M435.9,521.9 L434.4,522.1 L432.9,522.1 L431.4,521.8 L430.4,521.4 L429.4,520.9 L428.5,520.3 L427.9,519.7 L427,518.8 L426.4,517.9 L425.9,517 L425.4,515.9 L425,514.8 L424.8,513.8 L424.6,512.3 L424.6,510.8 L424.7,509.3 L424.9,507.9 L425.1,506.8 L425.4,505.8 L425.9,504.3 L426.3,503.3 L426.7,502.3 L427.4,501.4 L428.4,501.2 L429.4,501.4 L430.9,501.8 L431.9,502.1 L432.9,502.4 L434.1,502.8 L435.4,503.3 L436.4,503.7 L437.4,504.1 L438.4,504.7 L439.4,505.3 L440,505.8 L440.9,506.6 L441.4,507.3 L442.1,508.3 L442.5,509.3 L442.8,510.8 L442.9,511.8 L442.9,513 L442.7,514.3 L442.4,515.5 L441.9,516.8 L441.4,517.7 L440.9,518.4 L440.2,519.3 L439.4,520.1 L438.4,520.8 L437.5,521.3 L436.4,521.7" fill="none" stroke="#222" stroke-width="0.75" stroke-opacity="0.85" stroke-linejoin="round" clip-path="url(#ch)"/>
<path d="M441.4,529.3 L439.9,529.5 L438.4,529.6 L436.9,529.7 L435.4,529.7 L433.9,529.6 L432.4,529.5 L430.9,529.4 L429.9,529.3 L428.4,529 L427.2,528.8 L425.9,528.5 L424.9,528.3 L423.4,527.8 L422.4,527.5 L421.4,527.1 L420.4,526.7 L419.4,526.2 L418.4,525.7 L417.4,525 L416.4,524.3 L415.8,523.8 L414.9,523 L414.3,522.3 L413.6,521.3 L413.1,520.3 L412.8,519.3 L412.7,517.8 L412.9,516.4 L413.3,515.3 L413.9,514.3 L414.4,513.6 L415.1,512.8 L415.9,512.1 L416.9,511.3 L417.7,510.8 L418.5,510.3 L419.4,509.8 L420.5,509.3 L421.7,508.8 L422.9,508.4 L423.9,508 L424.9,507.7 L426.4,507.4 L427.4,507.2 L428.9,506.9 L429.9,506.7 L431.4,506.6 L432.9,506.4 L434.4,506.4 L435.9,506.3 L437.4,506.4 L438.9,506.4 L440.4,506.5 L441.9,506.7 L442.9,506.9 L444.4,507.1 L445.4,507.3 L446.9,507.7 L447.9,508 L448.9,508.3 L450.3,508.8 L451.4,509.2 L452.4,509.7 L453.4,510.2 L454.3,510.8 L455.1,511.3 L455.9,511.9 L456.9,512.8 L457.4,513.4 L458.1,514.3 L458.7,515.3 L459.1,516.3 L459.3,517.8 L459.2,519.3 L458.9,520.3 L458.4,521.3 L457.7,522.3 L456.9,523.2 L456.2,523.8 L455.4,524.5 L454.4,525.2 L453.4,525.8 L452.4,526.3 L451.4,526.8 L450.4,527.2 L449.4,527.5 L448.4,527.9 L446.9,528.3 L445.9,528.6 L444.8,528.8 L443.4,529.1 L441.9,529.3 M438.4,528.8 L436.9,528.9 L435.4,528.9 L433.9,528.8 L432.9,528.8 L431.4,528.7 L429.9,528.5 L428.9,528.3 L427.4,528 L426.4,527.8 L424.9,527.4 L423.9,527.1 L422.9,526.7 L421.9,526.3 L420.8,525.8 L419.8,525.3 L418.9,524.7 L417.9,524.1 L417,523.3 L416.4,522.8 L415.6,521.8 L414.9,520.8 L414.5,519.8 L414.3,518.8 L414.3,517.3 L414.5,516.3 L414.9,515.3 L415.5,514.3 L416.3,513.3 L416.9,512.8 L417.9,511.9 L418.8,511.3 L419.7,510.8 L420.6,510.3 L421.7,509.8 L422.9,509.3 L423.9,508.9 L424.9,508.6 L426.1,508.3 L427.4,508 L428.4,507.8 L429.9,507.5 L431.4,507.4 L432.4,507.3 L433.9,507.2 L435.4,507.1 L436.9,507.1 L438.4,507.2 L439.9,507.3 L440.9,507.4 L442.4,507.6 L443.6,507.8 L444.9,508.1 L445.9,508.3 L447.4,508.7 L448.4,509 L449.4,509.4 L450.4,509.8 L451.4,510.3 L452.4,510.8 L453.4,511.4 L454.4,512.2 L455.1,512.8 L455.9,513.6 L456.5,514.3 L457.1,515.3 L457.5,516.3 L457.8,517.8 L457.6,519.3 L457.3,520.3 L456.8,521.3 L456,522.3 L455.4,523 L454.4,523.8 L453.8,524.3 L452.9,524.9 L451.9,525.4 L450.9,525.9 L449.9,526.4 L448.8,526.8 L447.4,527.3 L446.4,527.6 L445.4,527.8 L443.9,528.2 L442.9,528.3 L441.4,528.6 L439.9,528.7 L438.8,528.8 M440.9,527.8 L439.4,528 L437.9,528.1 L436.4,528.1 L434.9,528.1 L433.4,528 L431.9,527.9 L430.9,527.8 L429.4,527.6 L428,527.3 L426.9,527 L425.9,526.8 L424.4,526.3 L423.4,525.9 L422.4,525.5 L421.4,525 L420.4,524.5 L419.4,523.8 L418.7,523.3 L417.9,522.5 L417.2,521.8 L416.5,520.8 L416.1,519.8 L415.8,518.8 L415.8,517.3 L416,516.3 L416.5,515.3 L417.2,514.3 L417.9,513.5 L418.6,512.8 L419.4,512.2 L420.4,511.5 L421.4,511 L422.4,510.5 L423.4,510.1 L424.4,509.7 L425.6,509.3 L426.9,509 L427.9,508.7 L429.4,508.4 L430.4,508.3 L431.9,508.1 L433.4,508 L434.9,507.9 L436.4,507.9 L437.9,507.9 L439.4,508 L440.9,508.2 L441.9,508.3 L443.4,508.6 L444.5,508.8 L445.9,509.2 L446.9,509.5 L447.9,509.8 L449.1,510.3 L450.2,510.8 L451.2,511.3 L452,511.8 L452.9,512.4 L453.9,513.3 L454.4,513.8 L455.2,514.8 L455.8,515.8 L456.1,516.8 L456.2,518.3 L455.9,519.8 L455.5,520.8 L454.9,521.6 L454.3,522.3 L453.4,523.2 L452.6,523.8 L451.9,524.3 L450.9,524.9 L449.9,525.4 L448.9,525.8 L447.6,526.3 L446.4,526.7 L445.4,527 L444,527.3 L442.9,527.5 L441.4,527.8 M437.9,527.3 L436.4,527.4 L434.9,527.3 L433.9,527.3 L432.4,527.2 L430.9,527 L429.7,526.8 L428.4,526.6 L427.4,526.3 L425.9,525.9 L424.9,525.5 L423.9,525.1 L422.9,524.7 L421.9,524.2 L420.9,523.5 L419.9,522.8 L419.4,522.3 L418.5,521.3 L417.9,520.4 L417.5,519.3 L417.3,518.3 L417.4,517 L417.8,515.8 L418.4,514.8 L418.9,514.2 L419.8,513.3 L420.4,512.8 L421.4,512.1 L422.4,511.6 L423.4,511.1 L424.4,510.7 L425.4,510.3 L426.9,509.8 L427.9,509.6 L429.1,509.3 L430.4,509.1 L431.9,508.9 L432.9,508.8 L434.4,508.7 L435.9,508.6 L437.4,508.7 L438.9,508.8 L439.9,508.8 L441.4,509 L442.9,509.3 L443.9,509.5 L445,509.8 L446.4,510.2 L447.4,510.6 L448.4,511 L449.4,511.5 L450.4,512 L451.4,512.7 L452.2,513.3 L452.9,514 L453.6,514.8 L454.2,515.8 L454.6,516.8 L454.7,518.3 L454.4,519.7 L453.9,520.7 L453.4,521.4 L452.6,522.3 L451.9,522.9 L450.9,523.7 L449.9,524.3 L448.9,524.8 L447.9,525.2 L446.9,525.6 L445.9,525.9 L444.6,526.3 L443.4,526.6 L442.3,526.8 L440.9,527 L439.4,527.2 L438,527.3 M440.4,526.3 L438.9,526.5 L437.4,526.6 L435.9,526.6 L434.4,526.6 L432.9,526.5 L431.6,526.3 L430.4,526.1 L428.9,525.8 L427.9,525.6 L426.9,525.3 L425.5,524.8 L424.4,524.3 L423.4,523.8 L422.5,523.3 L421.8,522.8 L420.9,522.1 L420.1,521.3 L419.5,520.3 L419,519.3 L418.8,518.3 L418.9,517.2 L419.4,515.8 L419.9,515 L420.5,514.3 L421.4,513.5 L422.3,512.8 L423.2,512.3 L424.1,511.8 L425.3,511.3 L426.4,510.9 L427.4,510.6 L428.4,510.3 L429.9,510 L430.9,509.8 L432.4,509.6 L433.9,509.5 L435.4,509.4 L436.9,509.4 L438.4,509.5 L439.9,509.6 L441.1,509.8 L442.4,510 L443.6,510.3 L444.9,510.7 L445.9,511 L446.9,511.4 L447.9,511.8 L448.9,512.3 L449.9,513 L450.9,513.7 L451.5,514.3 L452.3,515.3 L452.8,516.3 L453.1,517.3 L453.1,518.8 L452.8,519.8 L452.2,520.8 L451.4,521.8 L450.9,522.3 L449.9,523 L448.9,523.7 L447.9,524.2 L446.9,524.6 L445.9,525 L444.9,525.3 L443.4,525.8 L442.4,526 L440.9,526.2 M436.9,525.8 L435.4,525.8 L434.4,525.8 L432.9,525.7 L431.4,525.5 L430.4,525.3 L428.9,525 L427.9,524.7 L426.7,524.3 L425.5,523.8 L424.5,523.3 L423.7,522.8 L422.9,522.3 L421.9,521.4 L421.4,520.8 L420.8,519.8 L420.4,518.5 L420.4,517.5 L420.7,516.3 L421.3,515.3 L421.9,514.6 L422.8,513.8 L423.5,513.3 L424.4,512.8 L425.4,512.3 L426.5,511.8 L427.9,511.3 L428.9,511 L429.9,510.8 L431.4,510.5 L432.9,510.3 L433.9,510.3 L435.4,510.2 L436.9,510.2 L438.4,510.3 L439.4,510.4 L440.9,510.6 L442.1,510.8 L443.4,511.1 L444.4,511.4 L445.5,511.8 L446.7,512.3 L447.7,512.8 L448.5,513.3 L449.4,514 L450.3,514.8 L450.9,515.6 L451.4,516.7 L451.6,517.8 L451.4,519.3 L450.9,520.3 L450.4,521 L449.7,521.8 L448.9,522.4 L447.9,523.1 L446.9,523.6 L445.9,524.1 L444.9,524.4 L443.7,524.8 L442.4,525.1 L441.4,525.3 L439.9,525.6 L438.4,525.7 L437,525.8 M439.4,524.8 L437.9,525 L436.4,525.1 L434.9,525 L433.4,524.9 L432.3,524.8 L430.9,524.6 L429.7,524.3 L428.4,523.9 L427.4,523.6 L426.4,523.2 L425.4,522.6 L424.4,522 L423.5,521.3 L422.9,520.6 L422.4,519.8 L421.9,518.3 L422.1,516.8 L422.6,515.8 L423.4,514.8 L424,514.3 L424.9,513.7 L425.9,513.1 L426.9,512.6 L427.9,512.2 L429.3,511.8 L430.4,511.5 L431.6,511.3 L432.9,511.1 L434.4,511 L435.9,510.9 L437.4,511 L438.9,511.1 L440.4,511.3 L441.4,511.5 L442.7,511.8 L443.9,512.2 L444.9,512.5 L445.9,513 L446.9,513.5 L447.9,514.2 L448.6,514.8 L449.4,515.8 L449.9,516.8 L450.1,517.8 L449.9,519.2 L449.4,520.2 L448.9,520.8 L447.9,521.8 L447.2,522.3 L446.3,522.8 L445.3,523.3 L444,523.8 L442.9,524.2 L441.9,524.4 L440.4,524.7 L439.4,524.8 M440.4,523.9 L438.9,524.1 L437.4,524.2 L435.9,524.3 L434.4,524.2 L432.9,524.1 L431.4,523.8 L430.4,523.6 L429.3,523.3 L427.9,522.8 L426.9,522.3 L426,521.8 L425.3,521.3 L424.4,520.4 L423.9,519.7 L423.5,518.3 L423.7,516.8 L424.2,515.8 L424.9,515.1 L425.8,514.3 L426.7,513.8 L427.7,513.3 L428.9,512.8 L429.9,512.5 L430.9,512.3 L432.4,512 L433.9,511.8 L434.9,511.7 L436.4,511.7 L437.9,511.8 L438.9,511.9 L440.4,512.1 L441.4,512.3 L442.9,512.8 L443.9,513.1 L444.9,513.6 L445.9,514.1 L446.8,514.8 L447.4,515.4 L448.1,516.3 L448.5,517.3 L448.5,518.8 L448,519.8 L447.4,520.6 L446.7,521.3 L445.9,521.9 L444.9,522.4 L443.9,522.9 L442.7,523.3 L441.4,523.7 L440.4,523.9 M438.9,523.3 L437.4,523.5 L435.9,523.5 L434.4,523.5 L433,523.3 L431.9,523.1 L430.6,522.8 L429.4,522.4 L428.4,522 L427.4,521.4 L426.5,520.8 L425.9,520.2 L425.3,519.3 L425,517.8 L425.4,516.5 L425.9,515.8 L426.9,514.9 L427.8,514.3 L428.9,513.8 L429.9,513.4 L430.9,513.1 L432.3,512.8 L433.4,512.6 L434.9,512.5 L436.4,512.5 L437.9,512.6 L439.4,512.8 L440.4,512.9 L441.8,513.3 L442.9,513.7 L443.9,514.2 L444.9,514.7 L445.6,515.3 L446.4,516.2 L446.9,517.2 L447,518.3 L446.7,519.3 L446,520.3 L445.4,520.9 L444.4,521.6 L443.4,522.1 L442.4,522.5 L441.4,522.8 L439.9,523.2 L438.9,523.3 M439.9,522.3 L438.4,522.6 L436.9,522.7 L435.4,522.7 L433.9,522.6 L432.4,522.4 L431.4,522.2 L430.3,521.8 L429.2,521.3 L428.3,520.8 L427.4,520 L426.9,519.3 L426.5,517.8 L426.9,516.7 L427.6,515.8 L428.4,515.2 L429.4,514.6 L430.4,514.2 L431.6,513.8 L432.9,513.5 L434.4,513.3 L435.4,513.3 L436.9,513.3 L437.9,513.4 L439.4,513.6 L440.4,513.8 L441.9,514.3 L442.9,514.7 L443.8,515.3 L444.4,515.8 L445.2,516.8 L445.5,517.8 L445.4,518.8 L444.8,519.8 L443.9,520.6 L442.9,521.3 L441.9,521.7 L440.9,522.1 L439.9,522.3 M437.9,521.9 L436.4,522 L434.9,521.9 L433.7,521.8 L432.4,521.5 L431.4,521.2 L430.4,520.8 L429.4,520.2 L428.5,519.3 L428.1,518.3 L428.4,516.8 L428.9,516.2 L429.9,515.5 L430.9,515 L431.9,514.6 L433.1,514.3 L434.4,514.1 L435.9,514 L437.4,514.1 L438.9,514.3 L439.9,514.5 L440.9,514.9 L441.9,515.3 L442.9,516 L443.6,516.8 L443.9,517.8 L443.8,518.8 L443.1,519.8 L442.4,520.4 L441.4,520.9 L440.4,521.3 L438.9,521.7 L437.9,521.9 M438.9,520.9 L437.4,521.1 L435.9,521.2 L434.4,521.1 L432.9,520.8 L431.9,520.5 L430.9,519.9 L430.1,519.3 L429.6,518.3 L429.9,517 L430.6,516.3 L431.4,515.8 L432.5,515.3 L433.9,515 L435.4,514.8 L436.4,514.8 L437.4,514.9 L438.9,515.1 L439.9,515.5 L440.9,515.9 L441.9,516.8 L442.4,517.8 L441.9,519.2 L441.3,519.8 L440.4,520.3 L439.1,520.8 M437.4,520.3 L435.9,520.4 L434.4,520.3 L433.4,520.1 L432.4,519.6 L431.4,518.8 L431.1,517.8 L431.8,516.8 L432.5,516.3 L433.9,515.8 L434.9,515.6 L436.4,515.6 L437.9,515.8 L438.9,516 L439.9,516.5 L440.7,517.3 L440.6,518.8 L439.9,519.5 L438.9,520 L437.6,520.3 M437.9,519.4 L436.4,519.7 L434.9,519.6 L433.9,519.3 L432.9,518.6 L432.9,517.4 L433.7,516.8 L434.9,516.4 L436.4,516.3 L437.9,516.6 L438.9,517.2 L439.3,518.3 L438.4,519.1" fill="none" stroke="#e02020" stroke-width="0.75" stroke-opacity="0.95" stroke-linejoin="round" clip-path="url(#ch)"/>
<path d="M441.4,568.4 L440.2,568.3 L438.9,567.9 L437.9,567.4 L437.2,566.8 L436.4,566 L435.8,565.3 L435.2,564.3 L434.7,563.3 L434.3,562.3 L433.9,561 L433.6,559.8 L433.5,558.3 L433.4,556.8 L433.5,555.3 L433.7,553.8 L434,552.8 L434.4,551.4 L434.9,550.3 L435.4,549.3 L435.9,548.6 L436.5,547.8 L437.4,547 L438.4,546.3 L439.4,545.9 L440.4,545.7 L441.9,545.7 L442.9,546 L443.9,546.5 L444.9,547.2 L445.5,547.8 L446.3,548.8 L446.9,549.8 L447.4,550.8 L447.7,551.8 L448,552.8 L448.4,554.3 L448.5,555.3 L448.6,556.8 L448.5,558.3 L448.4,559.5 L448.1,560.8 L447.9,561.8 L447.4,563.1 L446.9,564.1 L446.4,565 L445.8,565.8 L444.9,566.8 L444.2,567.3 L443.4,567.8 L441.9,568.3" fill="none" stroke="#8e44a8" stroke-width="0.8" stroke-opacity="1" stroke-linejoin="round" clip-path="url(#ch)"/>
<path d="M462.4,414.8 L460.9,415.1 L459.4,415.1 L457.9,414.9 L456.9,414.6 L455.9,414.2 L454.9,413.6 L453.9,412.9 L453.3,412.3 L452.5,411.3 L452,410.3 L451.6,409.3 L451.3,408.3 L451.2,406.8 L451.4,405.3 L451.7,404.3 L452.2,403.3 L452.8,402.3 L453.4,401.6 L454.3,400.8 L455,400.3 L455.9,399.8 L457.2,399.3 L458.4,399 L459.9,398.9 L461.4,399 L462.8,399.3 L463.9,399.7 L464.9,400.3 L465.7,400.8 L466.4,401.4 L467.2,402.3 L467.8,403.3 L468.3,404.3 L468.6,405.3 L468.8,406.8 L468.7,408.3 L468.4,409.4 L467.9,410.6 L467.4,411.4 L466.7,412.3 L465.9,413 L464.9,413.7 L463.9,414.3 L462.9,414.7 M460.6,573.3 L460.5,571.8 L460.5,570.3 L460.6,568.8 L460.9,567.5 L461.2,566.3 L461.5,565.3 L461.9,564.3 L462.4,563.3 L463.1,562.3 L463.9,561.4 L464.9,560.8 L465.9,560.5 L467.4,560.6 L468.4,560.9 L469.4,561.5 L470.4,562.1 L471.4,562.7 L472.4,563.1 L473.9,563.3 L474.4,563.3 L475.9,563.2 L477.4,563.2 L478.9,563.2 L480.4,563.3 L481.4,563.4 L482.9,563.7 L483.9,563.9 L485.2,564.3 L486.4,564.7 L487.4,565.2 L488.4,565.7 L489.4,566.3 L490.1,566.8 L490.9,567.4 L491.8,568.3 L492.4,569 L493,569.8 L493.5,570.8 L493.9,571.8 L494.2,573.3 M398.5,573.3 L398.9,572 L399.4,571 L399.9,570.3 L400.9,569.4 L401.6,568.8 L402.4,568.3 L403.4,567.7 L404.4,567.3 L405.7,566.8 L406.9,566.5 L407.9,566.3 L409.4,566 L410.9,565.9 L412.4,565.9 L413.9,566 L415.4,566.1 L416.4,566.3 L417.9,566.7 L418.9,567 L419.9,567.4 L420.9,567.9 L421.9,568.5 L422.9,569.2 L423.6,569.8 L424.4,570.7 L424.9,571.5 L425.4,572.8 M461.4,411.9 L459.9,412.1 L458.4,411.8 L457.4,411.5 L456.4,410.8 L455.8,410.3 L455.1,409.3 L454.7,408.3 L454.5,406.8 L454.8,405.3 L455.4,404.3 L455.9,403.6 L456.9,402.8 L457.9,402.3 L458.9,402 L460.4,401.9 L461.9,402.2 L462.9,402.7 L463.7,403.3 L464.4,404 L464.9,404.8 L465.4,406.1 L465.5,407.3 L465.3,408.3 L464.9,409.3 L464.2,410.3 L463.4,411 L462.4,411.6 L461.4,411.9 M463.8,573.3 L463.4,572.3 L463,570.8 L462.9,569.3 L463,567.8 L463.3,566.3 L463.7,565.3 L464.4,564.3 L464.9,563.8 L465.9,563.3 L467,563.3 L468.1,563.8 L468.9,564.5 L469.7,565.3 L470.4,566 L471.2,566.8 L472.1,567.3 L473.4,567.6 L474.9,567.5 L476.4,567.3 L477.4,567.2 L478.9,567.3 L479.9,567.4 L481.4,567.6 L482.4,567.9 L483.4,568.3 L484.5,568.8 L485.4,569.4 L486.4,570.2 L486.9,570.8 L487.6,571.8 L488,572.8 M403.6,573.3 L404,572.3 L404.9,571.3 L405.5,570.8 L406.4,570.2 L407.4,569.8 L408.8,569.3 L409.9,569.1 L411.4,568.9 L412.9,569 L414.4,569.1 L415.4,569.4 L416.7,569.8 L417.8,570.3 L418.5,570.8 L419.4,571.6 L420,572.3" fill="none" stroke="#4a5aa8" stroke-width="0.8" stroke-opacity="1" stroke-linejoin="round" clip-path="url(#ch)"/>
<circle cx="395.7" cy="551" r="1.1" fill="none" stroke="#4a5aa8" stroke-width="0.7"/>
<path d="M370.4,378.3v2.6M370.4,573.3v-2.6M376.6,378.3v1.6M376.6,573.3v-1.6M382.9,378.3v1.6M382.9,573.3v-1.6M389.1,378.3v1.6M389.1,573.3v-1.6M395.4,378.3v1.6M395.4,573.3v-1.6M401.6,378.3v2.6M401.6,573.3v-2.6M407.8,378.3v1.6M407.8,573.3v-1.6M414.1,378.3v1.6M414.1,573.3v-1.6M420.3,378.3v1.6M420.3,573.3v-1.6M426.6,378.3v1.6M426.6,573.3v-1.6M432.8,378.3v2.6M432.8,573.3v-2.6M439,378.3v1.6M439,573.3v-1.6M445.3,378.3v1.6M445.3,573.3v-1.6M451.5,378.3v1.6M451.5,573.3v-1.6M457.8,378.3v1.6M457.8,573.3v-1.6M464,378.3v2.6M464,573.3v-2.6M470.2,378.3v1.6M470.2,573.3v-1.6M476.5,378.3v1.6M476.5,573.3v-1.6M482.7,378.3v1.6M482.7,573.3v-1.6M489,378.3v1.6M489,573.3v-1.6M495.2,378.3v2.6M495.2,573.3v-2.6M368.4,382h1.6M498.6,382h-1.6M368.4,388.2h2.6M498.6,388.2h-2.6M368.4,394.4h1.6M498.6,394.4h-1.6M368.4,400.7h1.6M498.6,400.7h-1.6M368.4,406.9h1.6M498.6,406.9h-1.6M368.4,413.2h1.6M498.6,413.2h-1.6M368.4,419.4h2.6M498.6,419.4h-2.6M368.4,425.6h1.6M498.6,425.6h-1.6M368.4,431.9h1.6M498.6,431.9h-1.6M368.4,438.1h1.6M498.6,438.1h-1.6M368.4,444.4h1.6M498.6,444.4h-1.6M368.4,450.6h2.6M498.6,450.6h-2.6M368.4,456.8h1.6M498.6,456.8h-1.6M368.4,463.1h1.6M498.6,463.1h-1.6M368.4,469.3h1.6M498.6,469.3h-1.6M368.4,475.6h1.6M498.6,475.6h-1.6M368.4,481.8h2.6M498.6,481.8h-2.6M368.4,488h1.6M498.6,488h-1.6M368.4,494.3h1.6M498.6,494.3h-1.6M368.4,500.5h1.6M498.6,500.5h-1.6M368.4,506.8h1.6M498.6,506.8h-1.6M368.4,513h2.6M498.6,513h-2.6M368.4,519.2h1.6M498.6,519.2h-1.6M368.4,525.5h1.6M498.6,525.5h-1.6M368.4,531.7h1.6M498.6,531.7h-1.6M368.4,538h1.6M498.6,538h-1.6M368.4,544.2h2.6M498.6,544.2h-2.6M368.4,550.4h1.6M498.6,550.4h-1.6M368.4,556.7h1.6M498.6,556.7h-1.6M368.4,562.9h1.6M498.6,562.9h-1.6M368.4,569.2h1.6M498.6,569.2h-1.6" stroke="#111" stroke-width="0.9" fill="none"/><rect x="368.4" y="378.3" width="130.2" height="195" fill="none" stroke="#111" stroke-width="1.3"/>
<text font-family="Liberation Sans, sans-serif" x="348.2" y="388.6" font-size="13.5" font-weight="bold">h</text>
<text font-family="Liberation Sans, sans-serif" x="415" y="586" font-size="12" fill="#111"><tspan font-family="Liberation Serif, serif" font-size="12.5">ω</tspan><tspan font-size="9.5" dy="3">2</tspan><tspan dy="-3"> /ppm</tspan></text>
<text font-family="Liberation Sans, sans-serif" transform="translate(361.5,472.6) rotate(-90)" text-anchor="middle" font-size="12" fill="#111"><tspan font-family="Liberation Serif, serif" font-size="12.5">ω</tspan><tspan font-size="9.5" dy="3">1</tspan><tspan dy="-3"> /ppm</tspan></text>
</svg></body></html>
